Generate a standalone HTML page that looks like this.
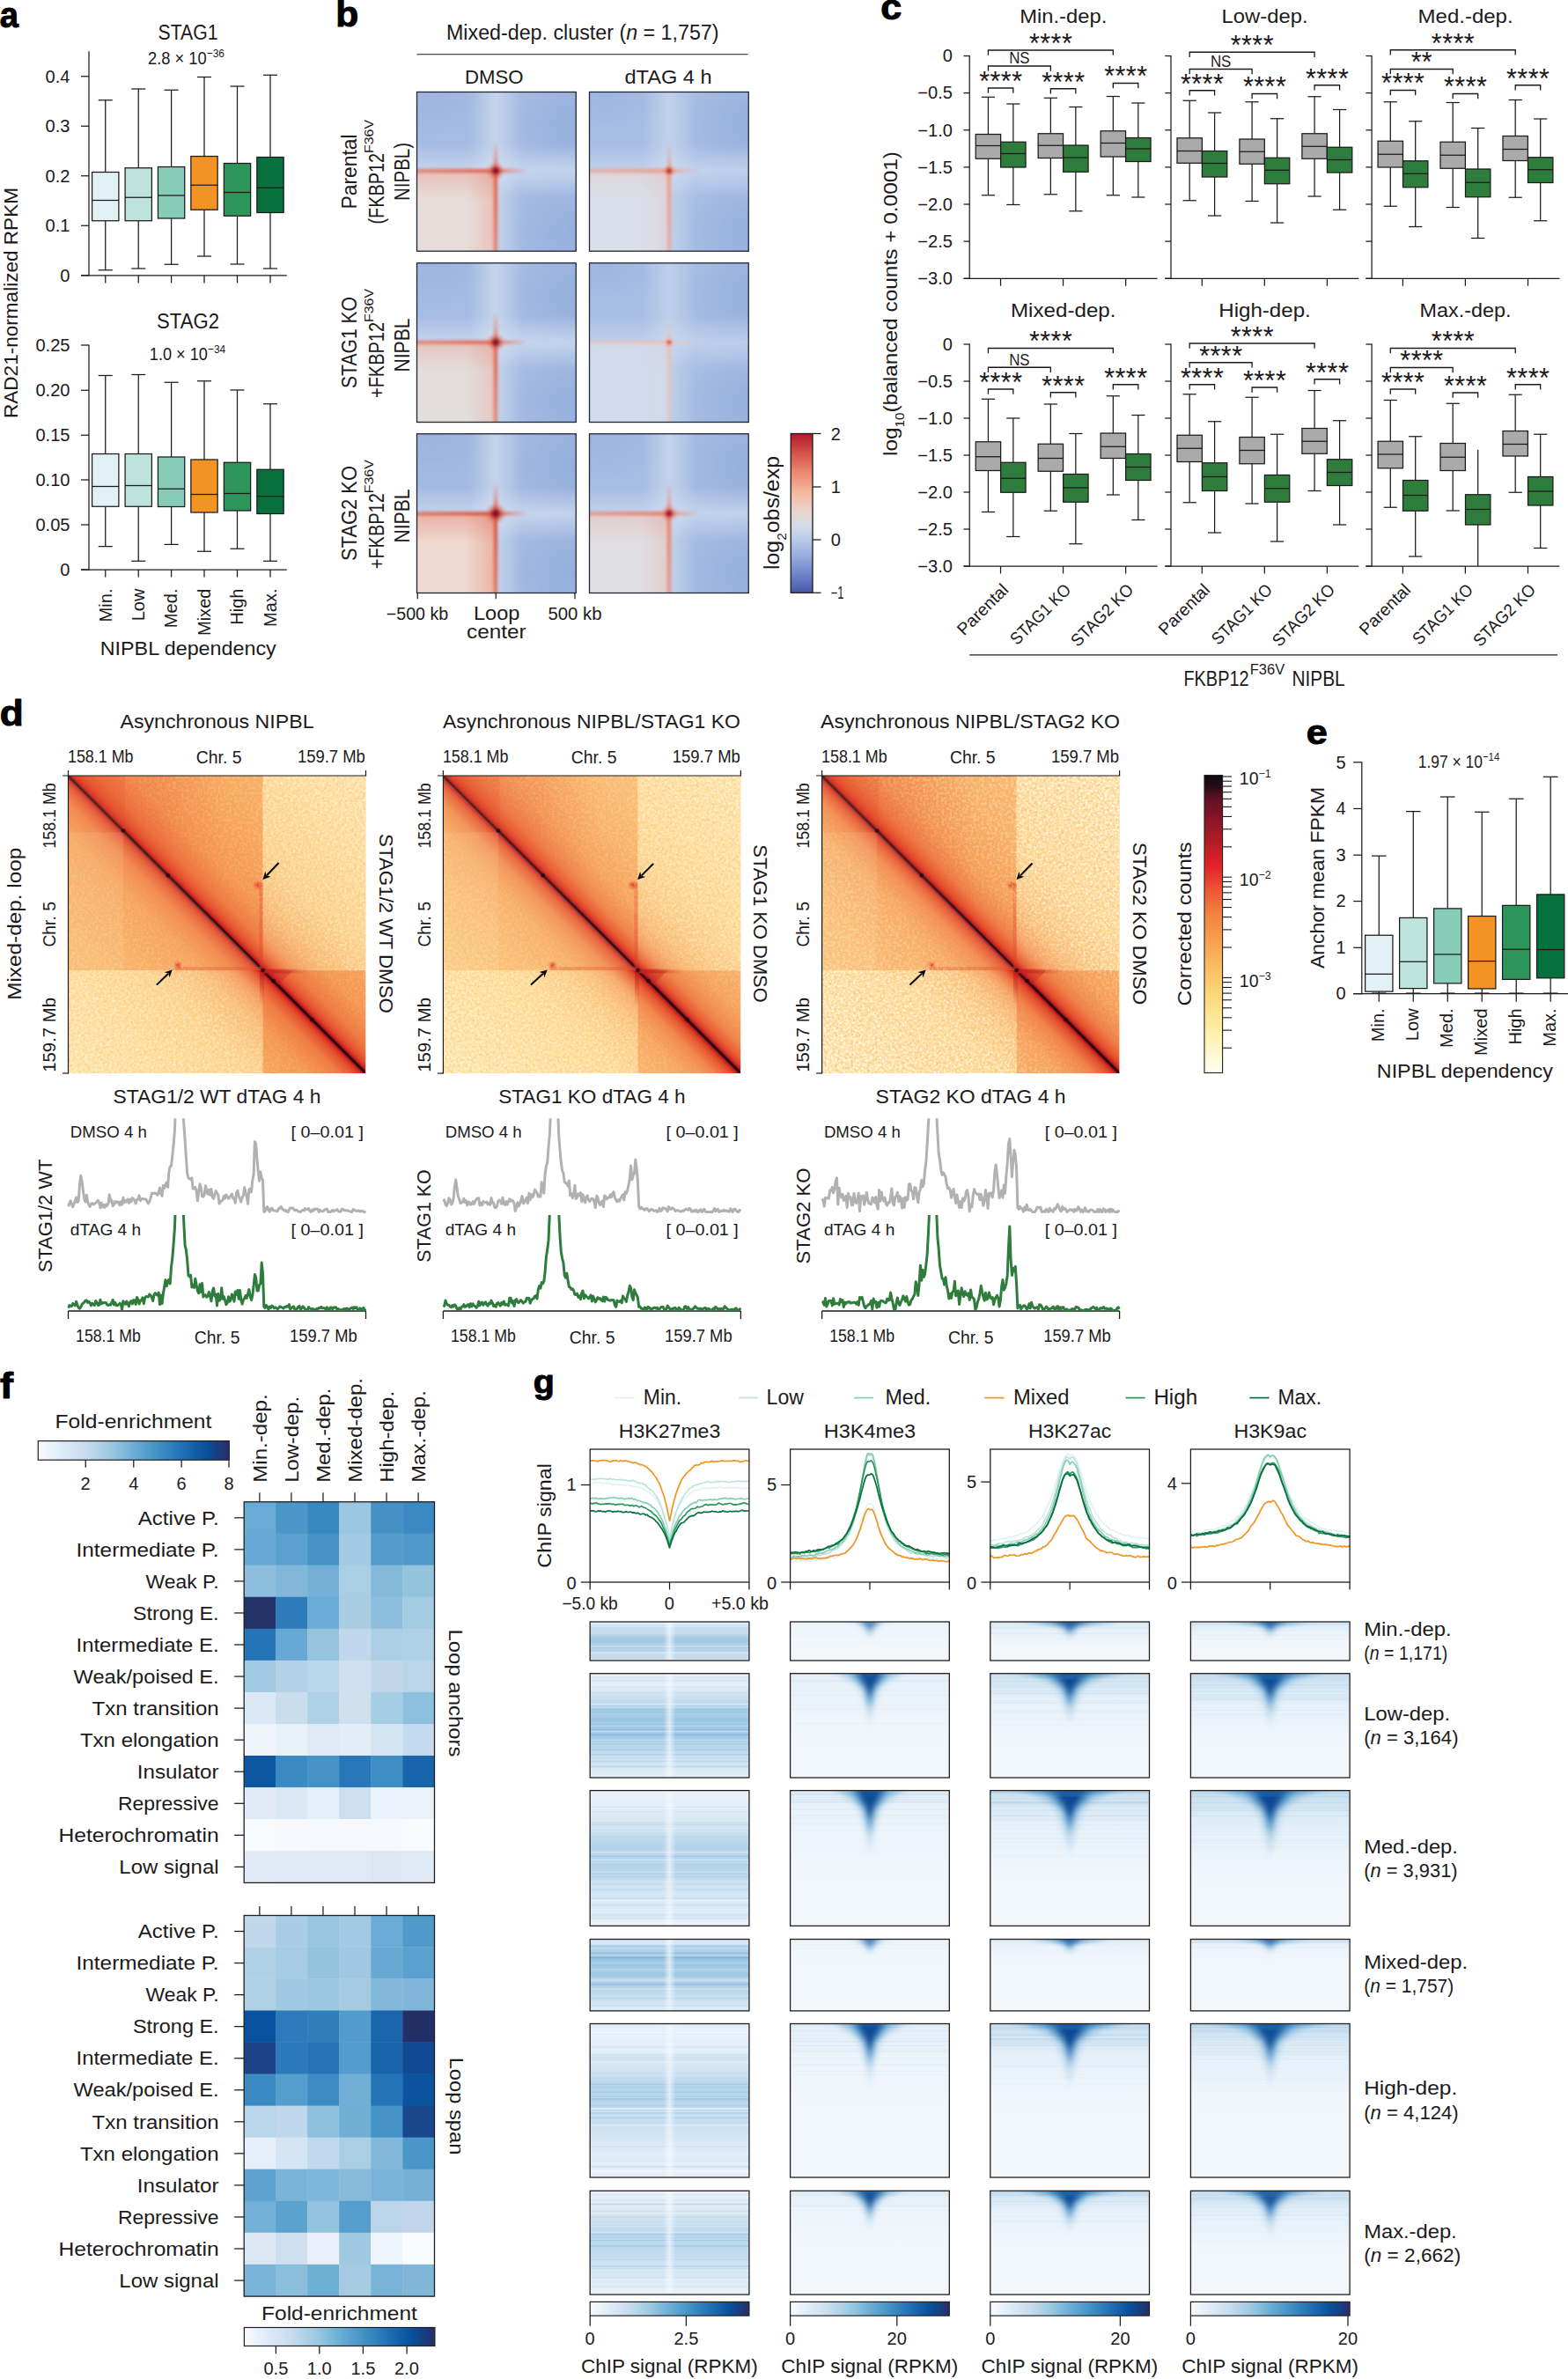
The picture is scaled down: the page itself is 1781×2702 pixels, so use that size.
<!DOCTYPE html>
<html><head><meta charset="utf-8"><title>Figure</title>
<style>
html,body{margin:0;padding:0;background:#fff}
svg{display:block}
text{font-family:"Liberation Sans",sans-serif;fill:#1c1a1b}
</style></head><body>
<svg width="1781" height="2702" viewBox="0 0 1781 2702">
<rect width="1781" height="2702" fill="#fff"/>
<g id="pa">
<text font-size="40" font-weight="700" style="fill:#000" stroke="#000" stroke-width="1.0" stroke-linejoin="round" textLength="21.2" lengthAdjust="spacingAndGlyphs" x="-0.3" y="30.6">a</text>
<text font-size="23" text-anchor="middle" textLength="68" lengthAdjust="spacingAndGlyphs" x="213.5" y="44.5">STAG1</text>
<text x="168" y="72.75" font-size="19.5" textLength="66.63" lengthAdjust="spacingAndGlyphs">2.8 × 10</text>
<text x="234.63" y="65.35" font-size="12.8" textLength="20.37" lengthAdjust="spacingAndGlyphs">−36</text>
<line x1="101" y1="58.3" x2="101" y2="313.3" stroke="#1c1a1b" stroke-width="1.25"/>
<line x1="92" y1="312.75" x2="325.75" y2="312.75" stroke="#1c1a1b" stroke-width="1.25"/>
<line x1="92" y1="86.75" x2="101" y2="86.75" stroke="#1c1a1b" stroke-width="1.25"/>
<text font-size="19.5" text-anchor="end" textLength="27.92" lengthAdjust="spacingAndGlyphs" x="79.5" y="93.55">0.4</text>
<line x1="92" y1="143.25" x2="101" y2="143.25" stroke="#1c1a1b" stroke-width="1.25"/>
<text font-size="19.5" text-anchor="end" textLength="27.92" lengthAdjust="spacingAndGlyphs" x="79.5" y="150.05">0.3</text>
<line x1="92" y1="199.75" x2="101" y2="199.75" stroke="#1c1a1b" stroke-width="1.25"/>
<text font-size="19.5" text-anchor="end" textLength="27.92" lengthAdjust="spacingAndGlyphs" x="79.5" y="206.55">0.2</text>
<line x1="92" y1="256.25" x2="101" y2="256.25" stroke="#1c1a1b" stroke-width="1.25"/>
<text font-size="19.5" text-anchor="end" textLength="27.92" lengthAdjust="spacingAndGlyphs" x="79.5" y="263.05">0.1</text>
<line x1="92" y1="312.75" x2="101" y2="312.75" stroke="#1c1a1b" stroke-width="1.25"/>
<text font-size="19.5" text-anchor="end" textLength="11.17" lengthAdjust="spacingAndGlyphs" x="79.5" y="319.55">0</text>
<line x1="119.75" y1="312.75" x2="119.75" y2="321.5" stroke="#1c1a1b" stroke-width="1.25"/>
<line x1="157.25" y1="312.75" x2="157.25" y2="321.5" stroke="#1c1a1b" stroke-width="1.25"/>
<line x1="194.6" y1="312.75" x2="194.6" y2="321.5" stroke="#1c1a1b" stroke-width="1.25"/>
<line x1="232" y1="312.75" x2="232" y2="321.5" stroke="#1c1a1b" stroke-width="1.25"/>
<line x1="269.5" y1="312.75" x2="269.5" y2="321.5" stroke="#1c1a1b" stroke-width="1.25"/>
<line x1="307" y1="312.75" x2="307" y2="321.5" stroke="#1c1a1b" stroke-width="1.25"/>
<line x1="119.75" y1="113.75" x2="119.75" y2="195.5" stroke="#1c1a1b" stroke-width="1.25"/>
<line x1="119.75" y1="250.75" x2="119.75" y2="306.75" stroke="#1c1a1b" stroke-width="1.25"/>
<line x1="111.75" y1="113.75" x2="127.75" y2="113.75" stroke="#1c1a1b" stroke-width="1.25"/>
<line x1="111.75" y1="306.75" x2="127.75" y2="306.75" stroke="#1c1a1b" stroke-width="1.25"/>
<rect x="104.6" y="195.5" width="30.3" height="55.25" fill="#e1f1f6" stroke="#1c1a1b" stroke-width="1.25"/>
<line x1="104.6" y1="227.5" x2="134.9" y2="227.5" stroke="#1c1a1b" stroke-width="1.25"/>
<line x1="157.25" y1="101" x2="157.25" y2="190.75" stroke="#1c1a1b" stroke-width="1.25"/>
<line x1="157.25" y1="250.75" x2="157.25" y2="305" stroke="#1c1a1b" stroke-width="1.25"/>
<line x1="149.25" y1="101" x2="165.25" y2="101" stroke="#1c1a1b" stroke-width="1.25"/>
<line x1="149.25" y1="305" x2="165.25" y2="305" stroke="#1c1a1b" stroke-width="1.25"/>
<rect x="142.1" y="190.75" width="30.3" height="60" fill="#bde3dc" stroke="#1c1a1b" stroke-width="1.25"/>
<line x1="142.1" y1="224.25" x2="172.4" y2="224.25" stroke="#1c1a1b" stroke-width="1.25"/>
<line x1="194.6" y1="102.25" x2="194.6" y2="189.5" stroke="#1c1a1b" stroke-width="1.25"/>
<line x1="194.6" y1="248" x2="194.6" y2="300.25" stroke="#1c1a1b" stroke-width="1.25"/>
<line x1="186.6" y1="102.25" x2="202.6" y2="102.25" stroke="#1c1a1b" stroke-width="1.25"/>
<line x1="186.6" y1="300.25" x2="202.6" y2="300.25" stroke="#1c1a1b" stroke-width="1.25"/>
<rect x="179.45" y="189.5" width="30.3" height="58.5" fill="#86ccb7" stroke="#1c1a1b" stroke-width="1.25"/>
<line x1="179.45" y1="222" x2="209.75" y2="222" stroke="#1c1a1b" stroke-width="1.25"/>
<line x1="232" y1="87.5" x2="232" y2="177.5" stroke="#1c1a1b" stroke-width="1.25"/>
<line x1="232" y1="238.25" x2="232" y2="291" stroke="#1c1a1b" stroke-width="1.25"/>
<line x1="224" y1="87.5" x2="240" y2="87.5" stroke="#1c1a1b" stroke-width="1.25"/>
<line x1="224" y1="291" x2="240" y2="291" stroke="#1c1a1b" stroke-width="1.25"/>
<rect x="216.85" y="177.5" width="30.3" height="60.75" fill="#f39323" stroke="#1c1a1b" stroke-width="1.25"/>
<line x1="216.85" y1="210.25" x2="247.15" y2="210.25" stroke="#1c1a1b" stroke-width="1.25"/>
<line x1="269.5" y1="98" x2="269.5" y2="185.5" stroke="#1c1a1b" stroke-width="1.25"/>
<line x1="269.5" y1="245.25" x2="269.5" y2="300" stroke="#1c1a1b" stroke-width="1.25"/>
<line x1="261.5" y1="98" x2="277.5" y2="98" stroke="#1c1a1b" stroke-width="1.25"/>
<line x1="261.5" y1="300" x2="277.5" y2="300" stroke="#1c1a1b" stroke-width="1.25"/>
<rect x="254.35" y="185.5" width="30.3" height="59.75" fill="#2e955a" stroke="#1c1a1b" stroke-width="1.25"/>
<line x1="254.35" y1="218.5" x2="284.65" y2="218.5" stroke="#1c1a1b" stroke-width="1.25"/>
<line x1="307" y1="85.25" x2="307" y2="178.5" stroke="#1c1a1b" stroke-width="1.25"/>
<line x1="307" y1="241.5" x2="307" y2="305" stroke="#1c1a1b" stroke-width="1.25"/>
<line x1="299" y1="85.25" x2="315" y2="85.25" stroke="#1c1a1b" stroke-width="1.25"/>
<line x1="299" y1="305" x2="315" y2="305" stroke="#1c1a1b" stroke-width="1.25"/>
<rect x="291.85" y="178.5" width="30.3" height="63" fill="#07703d" stroke="#1c1a1b" stroke-width="1.25"/>
<line x1="291.85" y1="213.25" x2="322.15" y2="213.25" stroke="#1c1a1b" stroke-width="1.25"/>
<text font-size="23" text-anchor="middle" textLength="71" lengthAdjust="spacingAndGlyphs" x="213.5" y="373">STAG2</text>
<text x="169.85" y="408.75" font-size="19.5" textLength="66.09" lengthAdjust="spacingAndGlyphs">1.0 × 10</text>
<text x="235.94" y="401.35" font-size="12.8" textLength="20.21" lengthAdjust="spacingAndGlyphs">−34</text>
<line x1="101" y1="391.5" x2="101" y2="647.5" stroke="#1c1a1b" stroke-width="1.25"/>
<line x1="92" y1="647" x2="325.75" y2="647" stroke="#1c1a1b" stroke-width="1.25"/>
<line x1="92" y1="392" x2="101" y2="392" stroke="#1c1a1b" stroke-width="1.25"/>
<text font-size="19.5" text-anchor="end" textLength="39.09" lengthAdjust="spacingAndGlyphs" x="79.5" y="398.8">0.25</text>
<line x1="92" y1="443.25" x2="101" y2="443.25" stroke="#1c1a1b" stroke-width="1.25"/>
<text font-size="19.5" text-anchor="end" textLength="39.09" lengthAdjust="spacingAndGlyphs" x="79.5" y="450.05">0.20</text>
<line x1="92" y1="494.25" x2="101" y2="494.25" stroke="#1c1a1b" stroke-width="1.25"/>
<text font-size="19.5" text-anchor="end" textLength="39.09" lengthAdjust="spacingAndGlyphs" x="79.5" y="501.05">0.15</text>
<line x1="92" y1="545" x2="101" y2="545" stroke="#1c1a1b" stroke-width="1.25"/>
<text font-size="19.5" text-anchor="end" textLength="39.09" lengthAdjust="spacingAndGlyphs" x="79.5" y="551.8">0.10</text>
<line x1="92" y1="596" x2="101" y2="596" stroke="#1c1a1b" stroke-width="1.25"/>
<text font-size="19.5" text-anchor="end" textLength="39.09" lengthAdjust="spacingAndGlyphs" x="79.5" y="602.8">0.05</text>
<line x1="92" y1="647" x2="101" y2="647" stroke="#1c1a1b" stroke-width="1.25"/>
<text font-size="19.5" text-anchor="end" textLength="11.17" lengthAdjust="spacingAndGlyphs" x="79.5" y="653.8">0</text>
<line x1="119.75" y1="647" x2="119.75" y2="655.5" stroke="#1c1a1b" stroke-width="1.25"/>
<line x1="157.25" y1="647" x2="157.25" y2="655.5" stroke="#1c1a1b" stroke-width="1.25"/>
<line x1="194.6" y1="647" x2="194.6" y2="655.5" stroke="#1c1a1b" stroke-width="1.25"/>
<line x1="232" y1="647" x2="232" y2="655.5" stroke="#1c1a1b" stroke-width="1.25"/>
<line x1="269.5" y1="647" x2="269.5" y2="655.5" stroke="#1c1a1b" stroke-width="1.25"/>
<line x1="307" y1="647" x2="307" y2="655.5" stroke="#1c1a1b" stroke-width="1.25"/>
<line x1="119.75" y1="426.5" x2="119.75" y2="515.5" stroke="#1c1a1b" stroke-width="1.25"/>
<line x1="119.75" y1="575.25" x2="119.75" y2="620.62" stroke="#1c1a1b" stroke-width="1.25"/>
<line x1="111.75" y1="426.5" x2="127.75" y2="426.5" stroke="#1c1a1b" stroke-width="1.25"/>
<line x1="111.75" y1="620.62" x2="127.75" y2="620.62" stroke="#1c1a1b" stroke-width="1.25"/>
<rect x="104.6" y="515.5" width="30.3" height="59.75" fill="#e1f1f6" stroke="#1c1a1b" stroke-width="1.25"/>
<line x1="104.6" y1="552.5" x2="134.9" y2="552.5" stroke="#1c1a1b" stroke-width="1.25"/>
<line x1="157.25" y1="425.5" x2="157.25" y2="515.5" stroke="#1c1a1b" stroke-width="1.25"/>
<line x1="157.25" y1="575.25" x2="157.25" y2="637.25" stroke="#1c1a1b" stroke-width="1.25"/>
<line x1="149.25" y1="425.5" x2="165.25" y2="425.5" stroke="#1c1a1b" stroke-width="1.25"/>
<line x1="149.25" y1="637.25" x2="165.25" y2="637.25" stroke="#1c1a1b" stroke-width="1.25"/>
<rect x="142.1" y="515.5" width="30.3" height="59.75" fill="#bde3dc" stroke="#1c1a1b" stroke-width="1.25"/>
<line x1="142.1" y1="551.5" x2="172.4" y2="551.5" stroke="#1c1a1b" stroke-width="1.25"/>
<line x1="194.6" y1="434.25" x2="194.6" y2="519" stroke="#1c1a1b" stroke-width="1.25"/>
<line x1="194.6" y1="575.5" x2="194.6" y2="618.38" stroke="#1c1a1b" stroke-width="1.25"/>
<line x1="186.6" y1="434.25" x2="202.6" y2="434.25" stroke="#1c1a1b" stroke-width="1.25"/>
<line x1="186.6" y1="618.38" x2="202.6" y2="618.38" stroke="#1c1a1b" stroke-width="1.25"/>
<rect x="179.45" y="519" width="30.3" height="56.5" fill="#86ccb7" stroke="#1c1a1b" stroke-width="1.25"/>
<line x1="179.45" y1="555.25" x2="209.75" y2="555.25" stroke="#1c1a1b" stroke-width="1.25"/>
<line x1="232" y1="432.75" x2="232" y2="522" stroke="#1c1a1b" stroke-width="1.25"/>
<line x1="232" y1="582" x2="232" y2="626.25" stroke="#1c1a1b" stroke-width="1.25"/>
<line x1="224" y1="432.75" x2="240" y2="432.75" stroke="#1c1a1b" stroke-width="1.25"/>
<line x1="224" y1="626.25" x2="240" y2="626.25" stroke="#1c1a1b" stroke-width="1.25"/>
<rect x="216.85" y="522" width="30.3" height="60" fill="#f39323" stroke="#1c1a1b" stroke-width="1.25"/>
<line x1="216.85" y1="561.5" x2="247.15" y2="561.5" stroke="#1c1a1b" stroke-width="1.25"/>
<line x1="269.5" y1="443" x2="269.5" y2="525.25" stroke="#1c1a1b" stroke-width="1.25"/>
<line x1="269.5" y1="580" x2="269.5" y2="623.25" stroke="#1c1a1b" stroke-width="1.25"/>
<line x1="261.5" y1="443" x2="277.5" y2="443" stroke="#1c1a1b" stroke-width="1.25"/>
<line x1="261.5" y1="623.25" x2="277.5" y2="623.25" stroke="#1c1a1b" stroke-width="1.25"/>
<rect x="254.35" y="525.25" width="30.3" height="54.75" fill="#2e955a" stroke="#1c1a1b" stroke-width="1.25"/>
<line x1="254.35" y1="560.5" x2="284.65" y2="560.5" stroke="#1c1a1b" stroke-width="1.25"/>
<line x1="307" y1="458.75" x2="307" y2="533.25" stroke="#1c1a1b" stroke-width="1.25"/>
<line x1="307" y1="583.5" x2="307" y2="637.25" stroke="#1c1a1b" stroke-width="1.25"/>
<line x1="299" y1="458.75" x2="315" y2="458.75" stroke="#1c1a1b" stroke-width="1.25"/>
<line x1="299" y1="637.25" x2="315" y2="637.25" stroke="#1c1a1b" stroke-width="1.25"/>
<rect x="291.85" y="533.25" width="30.3" height="50.25" fill="#07703d" stroke="#1c1a1b" stroke-width="1.25"/>
<line x1="291.85" y1="563.75" x2="322.15" y2="563.75" stroke="#1c1a1b" stroke-width="1.25"/>
<text font-size="19.5" text-anchor="end" textLength="37.94" lengthAdjust="spacingAndGlyphs" transform="translate(126.55 668.5) rotate(-90)">Min.</text>
<text font-size="19.5" text-anchor="end" textLength="36.85" lengthAdjust="spacingAndGlyphs" transform="translate(164.05 668.5) rotate(-90)">Low</text>
<text font-size="19.5" text-anchor="end" textLength="44.65" lengthAdjust="spacingAndGlyphs" transform="translate(201.4 668.5) rotate(-90)">Med.</text>
<text font-size="19.5" text-anchor="end" textLength="53.58" lengthAdjust="spacingAndGlyphs" transform="translate(238.8 668.5) rotate(-90)">Mixed</text>
<text font-size="19.5" text-anchor="end" textLength="41.31" lengthAdjust="spacingAndGlyphs" transform="translate(276.3 668.5) rotate(-90)">High</text>
<text font-size="19.5" text-anchor="end" textLength="43.52" lengthAdjust="spacingAndGlyphs" transform="translate(313.8 668.5) rotate(-90)">Max.</text>
<text font-size="22" text-anchor="middle" textLength="200" lengthAdjust="spacingAndGlyphs" x="213.75" y="743.75">NIPBL dependency</text>
<text font-size="22.5" text-anchor="middle" textLength="262" lengthAdjust="spacingAndGlyphs" transform="translate(19.5 344) rotate(-90)">RAD21-normalized RPKM</text>
</g>
<g id="pb">
<text font-size="40" font-weight="700" style="fill:#000" stroke="#000" stroke-width="1.0" stroke-linejoin="round" textLength="26" lengthAdjust="spacingAndGlyphs" x="381.2" y="30.3">b</text>
<text x="507" y="45" font-size="23.5" textLength="309.5" lengthAdjust="spacingAndGlyphs">Mixed-dep. cluster (<tspan font-style="italic">n</tspan> = 1,757)</text>
<line x1="473.5" y1="61.75" x2="849.5" y2="61.75" stroke="#1c1a1b" stroke-width="1.1"/>
<text font-size="22.5" text-anchor="middle" textLength="66.5" lengthAdjust="spacingAndGlyphs" x="561.25" y="95">DMSO</text>
<text font-size="22.5" text-anchor="middle" textLength="99" lengthAdjust="spacingAndGlyphs" x="759" y="95">dTAG 4 h</text>
<defs><filter id="bblur" x="-0.05" y="-0.05" width="1.1" height="1.1"><feGaussianBlur stdDeviation="1.7"/></filter></defs>
<defs>
<clipPath id="bc0"><rect x="473.5" y="104.5" width="180.75" height="180.75"/></clipPath>
<linearGradient id="bgh0" x1="0" y1="0" x2="0" y2="1"><stop offset="0" stop-color="#dbe5f3" stop-opacity="0"/><stop offset="0.5" stop-color="#dbe5f3" stop-opacity="0.6"/><stop offset="1" stop-color="#dbe5f3" stop-opacity="0"/></linearGradient>
<linearGradient id="bgv0" x1="0" y1="0" x2="1" y2="0"><stop offset="0" stop-color="#dbe5f3" stop-opacity="0"/><stop offset="0.5" stop-color="#dbe5f3" stop-opacity="0.6"/><stop offset="1" stop-color="#dbe5f3" stop-opacity="0"/></linearGradient>
<linearGradient id="bnt0" x1="0" y1="0" x2="0" y2="1"><stop offset="0" stop-color="#e4694f" stop-opacity="0.26"/><stop offset="1" stop-color="#e4694f" stop-opacity="0"/></linearGradient>
<linearGradient id="bnr0" x1="1" y1="0" x2="0" y2="0"><stop offset="0" stop-color="#e4694f" stop-opacity="0.26"/><stop offset="1" stop-color="#e4694f" stop-opacity="0"/></linearGradient>
<linearGradient id="bmh0" gradientUnits="userSpaceOnUse" x1="473.5" y1="0" x2="654.25" y2="0"><stop offset="0" stop-color="#e4694f" stop-opacity="0.62"/><stop offset="0.4" stop-color="#e4694f" stop-opacity="0.9"/><stop offset="0.49" stop-color="#e4694f" stop-opacity="1.0"/><stop offset="0.56" stop-color="#e4694f" stop-opacity="0.55"/><stop offset="0.7" stop-color="#e4694f" stop-opacity="0"/></linearGradient>
<linearGradient id="bmv0" gradientUnits="userSpaceOnUse" x1="0" y1="285.25" x2="0" y2="104.5"><stop offset="0" stop-color="#e4694f" stop-opacity="0.62"/><stop offset="0.4" stop-color="#e4694f" stop-opacity="0.9"/><stop offset="0.49" stop-color="#e4694f" stop-opacity="1.0"/><stop offset="0.56" stop-color="#e4694f" stop-opacity="0.55"/><stop offset="0.7" stop-color="#e4694f" stop-opacity="0"/></linearGradient>
<radialGradient id="bd0"><stop offset="0" stop-color="#8f0c23"/><stop offset="0.3" stop-color="#8f0c23" stop-opacity="0.92"/><stop offset="0.6" stop-color="#e4694f" stop-opacity="0.55"/><stop offset="1" stop-color="#e4694f" stop-opacity="0"/></radialGradient>
<radialGradient id="bdk0"><stop offset="0" stop-color="#8aa5d8" stop-opacity="0.6"/><stop offset="1" stop-color="#8aa5d8" stop-opacity="0"/></radialGradient>
</defs>
<g clip-path="url(#bc0)"><g filter="url(#bblur)">
<rect x="461.5" y="92.5" width="204.75" height="204.75" fill="#a5bce3"/>
<ellipse cx="654.25" cy="140.65" rx="75.91" ry="72.3" fill="url(#bdk0)"/>
<ellipse cx="654.25" cy="263.56" rx="75.91" ry="65.07" fill="url(#bdk0)"/>
<ellipse cx="491.57" cy="104.5" rx="72.3" ry="54.23" fill="url(#bdk0)" opacity="0.5"/>
<rect x="461.5" y="164" width="204.75" height="60" fill="url(#bgh0)"/>
<rect x="533" y="92.5" width="60" height="204.75" fill="url(#bgv0)"/>
<rect x="461.5" y="194" width="102" height="103.25" fill="#e7dedb"/>
<rect x="461.5" y="194" width="102" height="34" fill="url(#bnt0)"/>
<rect x="529" y="194" width="34.5" height="103.25" fill="url(#bnr0)"/>
<rect x="461.5" y="191.4" width="204.75" height="5.2" fill="url(#bmh0)"/>
<rect x="560.4" y="92.5" width="5.2" height="204.75" fill="url(#bmv0)"/>
<circle cx="563" cy="194" r="10.5" fill="url(#bd0)"/>
</g></g>
<rect x="473.5" y="104.5" width="180.75" height="180.75" fill="none" stroke="#1f2733" stroke-width="1.3"/>
<defs>
<clipPath id="bc1"><rect x="669.5" y="104.5" width="180.75" height="180.75"/></clipPath>
<linearGradient id="bgh1" x1="0" y1="0" x2="0" y2="1"><stop offset="0" stop-color="#dbe5f3" stop-opacity="0"/><stop offset="0.5" stop-color="#dbe5f3" stop-opacity="0.5"/><stop offset="1" stop-color="#dbe5f3" stop-opacity="0"/></linearGradient>
<linearGradient id="bgv1" x1="0" y1="0" x2="1" y2="0"><stop offset="0" stop-color="#dbe5f3" stop-opacity="0"/><stop offset="0.5" stop-color="#dbe5f3" stop-opacity="0.5"/><stop offset="1" stop-color="#dbe5f3" stop-opacity="0"/></linearGradient>
<linearGradient id="bnt1" x1="0" y1="0" x2="0" y2="1"><stop offset="0" stop-color="#ee957b" stop-opacity="0.14"/><stop offset="1" stop-color="#ee957b" stop-opacity="0"/></linearGradient>
<linearGradient id="bnr1" x1="1" y1="0" x2="0" y2="0"><stop offset="0" stop-color="#ee957b" stop-opacity="0.14"/><stop offset="1" stop-color="#ee957b" stop-opacity="0"/></linearGradient>
<linearGradient id="bmh1" gradientUnits="userSpaceOnUse" x1="669.5" y1="0" x2="850.25" y2="0"><stop offset="0" stop-color="#ee957b" stop-opacity="0.496"/><stop offset="0.4" stop-color="#ee957b" stop-opacity="0.72"/><stop offset="0.49" stop-color="#ee957b" stop-opacity="0.8"/><stop offset="0.56" stop-color="#ee957b" stop-opacity="0.44"/><stop offset="0.7" stop-color="#ee957b" stop-opacity="0"/></linearGradient>
<linearGradient id="bmv1" gradientUnits="userSpaceOnUse" x1="0" y1="285.25" x2="0" y2="104.5"><stop offset="0" stop-color="#ee957b" stop-opacity="0.496"/><stop offset="0.4" stop-color="#ee957b" stop-opacity="0.72"/><stop offset="0.49" stop-color="#ee957b" stop-opacity="0.8"/><stop offset="0.56" stop-color="#ee957b" stop-opacity="0.44"/><stop offset="0.7" stop-color="#ee957b" stop-opacity="0"/></linearGradient>
<radialGradient id="bd1"><stop offset="0" stop-color="#c0282a"/><stop offset="0.3" stop-color="#c0282a" stop-opacity="0.92"/><stop offset="0.6" stop-color="#ee957b" stop-opacity="0.55"/><stop offset="1" stop-color="#ee957b" stop-opacity="0"/></radialGradient>
<radialGradient id="bdk1"><stop offset="0" stop-color="#8aa5d8" stop-opacity="0.6"/><stop offset="1" stop-color="#8aa5d8" stop-opacity="0"/></radialGradient>
</defs>
<g clip-path="url(#bc1)"><g filter="url(#bblur)">
<rect x="657.5" y="92.5" width="204.75" height="204.75" fill="#a7bee4"/>
<ellipse cx="850.25" cy="140.65" rx="75.91" ry="72.3" fill="url(#bdk1)"/>
<ellipse cx="850.25" cy="263.56" rx="75.91" ry="65.07" fill="url(#bdk1)"/>
<ellipse cx="687.58" cy="104.5" rx="72.3" ry="54.23" fill="url(#bdk1)" opacity="0.5"/>
<rect x="657.5" y="164" width="204.75" height="60" fill="url(#bgh1)"/>
<rect x="730" y="92.5" width="60" height="204.75" fill="url(#bgv1)"/>
<rect x="657.5" y="194" width="103" height="103.25" fill="#dadfea"/>
<rect x="657.5" y="194" width="103" height="34" fill="url(#bnt1)"/>
<rect x="726" y="194" width="34.5" height="103.25" fill="url(#bnr1)"/>
<rect x="657.5" y="191.4" width="204.75" height="5.2" fill="url(#bmh1)"/>
<rect x="757.4" y="92.5" width="5.2" height="204.75" fill="url(#bmv1)"/>
<circle cx="760" cy="194" r="8" fill="url(#bd1)"/>
</g></g>
<rect x="669.5" y="104.5" width="180.75" height="180.75" fill="none" stroke="#1f2733" stroke-width="1.3"/>
<defs>
<clipPath id="bc2"><rect x="473.5" y="298.75" width="180.75" height="180.75"/></clipPath>
<linearGradient id="bgh2" x1="0" y1="0" x2="0" y2="1"><stop offset="0" stop-color="#dbe5f3" stop-opacity="0"/><stop offset="0.5" stop-color="#dbe5f3" stop-opacity="0.6"/><stop offset="1" stop-color="#dbe5f3" stop-opacity="0"/></linearGradient>
<linearGradient id="bgv2" x1="0" y1="0" x2="1" y2="0"><stop offset="0" stop-color="#dbe5f3" stop-opacity="0"/><stop offset="0.5" stop-color="#dbe5f3" stop-opacity="0.6"/><stop offset="1" stop-color="#dbe5f3" stop-opacity="0"/></linearGradient>
<linearGradient id="bnt2" x1="0" y1="0" x2="0" y2="1"><stop offset="0" stop-color="#e4694f" stop-opacity="0.22"/><stop offset="1" stop-color="#e4694f" stop-opacity="0"/></linearGradient>
<linearGradient id="bnr2" x1="1" y1="0" x2="0" y2="0"><stop offset="0" stop-color="#e4694f" stop-opacity="0.22"/><stop offset="1" stop-color="#e4694f" stop-opacity="0"/></linearGradient>
<linearGradient id="bmh2" gradientUnits="userSpaceOnUse" x1="473.5" y1="0" x2="654.25" y2="0"><stop offset="0" stop-color="#e4694f" stop-opacity="0.589"/><stop offset="0.4" stop-color="#e4694f" stop-opacity="0.855"/><stop offset="0.49" stop-color="#e4694f" stop-opacity="0.95"/><stop offset="0.56" stop-color="#e4694f" stop-opacity="0.522"/><stop offset="0.7" stop-color="#e4694f" stop-opacity="0"/></linearGradient>
<linearGradient id="bmv2" gradientUnits="userSpaceOnUse" x1="0" y1="479.5" x2="0" y2="298.75"><stop offset="0" stop-color="#e4694f" stop-opacity="0.589"/><stop offset="0.4" stop-color="#e4694f" stop-opacity="0.855"/><stop offset="0.49" stop-color="#e4694f" stop-opacity="0.95"/><stop offset="0.56" stop-color="#e4694f" stop-opacity="0.522"/><stop offset="0.7" stop-color="#e4694f" stop-opacity="0"/></linearGradient>
<radialGradient id="bd2"><stop offset="0" stop-color="#8f0c23"/><stop offset="0.3" stop-color="#8f0c23" stop-opacity="0.92"/><stop offset="0.6" stop-color="#e4694f" stop-opacity="0.55"/><stop offset="1" stop-color="#e4694f" stop-opacity="0"/></radialGradient>
<radialGradient id="bdk2"><stop offset="0" stop-color="#8aa5d8" stop-opacity="0.6"/><stop offset="1" stop-color="#8aa5d8" stop-opacity="0"/></radialGradient>
</defs>
<g clip-path="url(#bc2)"><g filter="url(#bblur)">
<rect x="461.5" y="286.75" width="204.75" height="204.75" fill="#a5bce3"/>
<ellipse cx="654.25" cy="334.9" rx="75.91" ry="72.3" fill="url(#bdk2)"/>
<ellipse cx="654.25" cy="457.81" rx="75.91" ry="65.07" fill="url(#bdk2)"/>
<ellipse cx="491.57" cy="298.75" rx="72.3" ry="54.23" fill="url(#bdk2)" opacity="0.5"/>
<rect x="461.5" y="358.75" width="204.75" height="60" fill="url(#bgh2)"/>
<rect x="533" y="286.75" width="60" height="204.75" fill="url(#bgv2)"/>
<rect x="461.5" y="388.75" width="102" height="102.75" fill="#e3dedd"/>
<rect x="461.5" y="388.75" width="102" height="34" fill="url(#bnt2)"/>
<rect x="529" y="388.75" width="34.5" height="102.75" fill="url(#bnr2)"/>
<rect x="461.5" y="386.15" width="204.75" height="5.2" fill="url(#bmh2)"/>
<rect x="560.4" y="286.75" width="5.2" height="204.75" fill="url(#bmv2)"/>
<circle cx="563" cy="388.75" r="10.5" fill="url(#bd2)"/>
</g></g>
<rect x="473.5" y="298.75" width="180.75" height="180.75" fill="none" stroke="#1f2733" stroke-width="1.3"/>
<defs>
<clipPath id="bc3"><rect x="669.5" y="298.75" width="180.75" height="180.75"/></clipPath>
<linearGradient id="bgh3" x1="0" y1="0" x2="0" y2="1"><stop offset="0" stop-color="#dbe5f3" stop-opacity="0"/><stop offset="0.5" stop-color="#dbe5f3" stop-opacity="0.45"/><stop offset="1" stop-color="#dbe5f3" stop-opacity="0"/></linearGradient>
<linearGradient id="bgv3" x1="0" y1="0" x2="1" y2="0"><stop offset="0" stop-color="#dbe5f3" stop-opacity="0"/><stop offset="0.5" stop-color="#dbe5f3" stop-opacity="0.45"/><stop offset="1" stop-color="#dbe5f3" stop-opacity="0"/></linearGradient>
<linearGradient id="bnt3" x1="0" y1="0" x2="0" y2="1"><stop offset="0" stop-color="#efb9a6" stop-opacity="0.08"/><stop offset="1" stop-color="#efb9a6" stop-opacity="0"/></linearGradient>
<linearGradient id="bnr3" x1="1" y1="0" x2="0" y2="0"><stop offset="0" stop-color="#efb9a6" stop-opacity="0.08"/><stop offset="1" stop-color="#efb9a6" stop-opacity="0"/></linearGradient>
<linearGradient id="bmh3" gradientUnits="userSpaceOnUse" x1="669.5" y1="0" x2="850.25" y2="0"><stop offset="0" stop-color="#efb9a6" stop-opacity="0.372"/><stop offset="0.4" stop-color="#efb9a6" stop-opacity="0.54"/><stop offset="0.49" stop-color="#efb9a6" stop-opacity="0.6"/><stop offset="0.56" stop-color="#efb9a6" stop-opacity="0.33"/><stop offset="0.7" stop-color="#efb9a6" stop-opacity="0"/></linearGradient>
<linearGradient id="bmv3" gradientUnits="userSpaceOnUse" x1="0" y1="479.5" x2="0" y2="298.75"><stop offset="0" stop-color="#efb9a6" stop-opacity="0.372"/><stop offset="0.4" stop-color="#efb9a6" stop-opacity="0.54"/><stop offset="0.49" stop-color="#efb9a6" stop-opacity="0.6"/><stop offset="0.56" stop-color="#efb9a6" stop-opacity="0.33"/><stop offset="0.7" stop-color="#efb9a6" stop-opacity="0"/></linearGradient>
<radialGradient id="bd3"><stop offset="0" stop-color="#de4f3b"/><stop offset="0.3" stop-color="#de4f3b" stop-opacity="0.92"/><stop offset="0.6" stop-color="#efb9a6" stop-opacity="0.55"/><stop offset="1" stop-color="#efb9a6" stop-opacity="0"/></radialGradient>
<radialGradient id="bdk3"><stop offset="0" stop-color="#8aa5d8" stop-opacity="0.6"/><stop offset="1" stop-color="#8aa5d8" stop-opacity="0"/></radialGradient>
</defs>
<g clip-path="url(#bc3)"><g filter="url(#bblur)">
<rect x="657.5" y="286.75" width="204.75" height="204.75" fill="#a7bee4"/>
<ellipse cx="850.25" cy="334.9" rx="75.91" ry="72.3" fill="url(#bdk3)"/>
<ellipse cx="850.25" cy="457.81" rx="75.91" ry="65.07" fill="url(#bdk3)"/>
<ellipse cx="687.58" cy="298.75" rx="72.3" ry="54.23" fill="url(#bdk3)" opacity="0.5"/>
<rect x="657.5" y="358.75" width="204.75" height="60" fill="url(#bgh3)"/>
<rect x="730" y="286.75" width="60" height="204.75" fill="url(#bgv3)"/>
<rect x="657.5" y="388.75" width="103" height="102.75" fill="#d0dbee"/>
<rect x="657.5" y="388.75" width="103" height="34" fill="url(#bnt3)"/>
<rect x="726" y="388.75" width="34.5" height="102.75" fill="url(#bnr3)"/>
<rect x="657.5" y="386.15" width="204.75" height="5.2" fill="url(#bmh3)"/>
<rect x="757.4" y="286.75" width="5.2" height="204.75" fill="url(#bmv3)"/>
<circle cx="760" cy="388.75" r="6.5" fill="url(#bd3)"/>
</g></g>
<rect x="669.5" y="298.75" width="180.75" height="180.75" fill="none" stroke="#1f2733" stroke-width="1.3"/>
<defs>
<clipPath id="bc4"><rect x="473.5" y="492.75" width="180.75" height="180.75"/></clipPath>
<linearGradient id="bgh4" x1="0" y1="0" x2="0" y2="1"><stop offset="0" stop-color="#dbe5f3" stop-opacity="0"/><stop offset="0.5" stop-color="#dbe5f3" stop-opacity="0.6"/><stop offset="1" stop-color="#dbe5f3" stop-opacity="0"/></linearGradient>
<linearGradient id="bgv4" x1="0" y1="0" x2="1" y2="0"><stop offset="0" stop-color="#dbe5f3" stop-opacity="0"/><stop offset="0.5" stop-color="#dbe5f3" stop-opacity="0.6"/><stop offset="1" stop-color="#dbe5f3" stop-opacity="0"/></linearGradient>
<linearGradient id="bnt4" x1="0" y1="0" x2="0" y2="1"><stop offset="0" stop-color="#de5a42" stop-opacity="0.32"/><stop offset="1" stop-color="#de5a42" stop-opacity="0"/></linearGradient>
<linearGradient id="bnr4" x1="1" y1="0" x2="0" y2="0"><stop offset="0" stop-color="#de5a42" stop-opacity="0.32"/><stop offset="1" stop-color="#de5a42" stop-opacity="0"/></linearGradient>
<linearGradient id="bmh4" gradientUnits="userSpaceOnUse" x1="473.5" y1="0" x2="654.25" y2="0"><stop offset="0" stop-color="#de5a42" stop-opacity="0.62"/><stop offset="0.4" stop-color="#de5a42" stop-opacity="0.9"/><stop offset="0.49" stop-color="#de5a42" stop-opacity="1.0"/><stop offset="0.56" stop-color="#de5a42" stop-opacity="0.55"/><stop offset="0.7" stop-color="#de5a42" stop-opacity="0"/></linearGradient>
<linearGradient id="bmv4" gradientUnits="userSpaceOnUse" x1="0" y1="673.5" x2="0" y2="492.75"><stop offset="0" stop-color="#de5a42" stop-opacity="0.62"/><stop offset="0.4" stop-color="#de5a42" stop-opacity="0.9"/><stop offset="0.49" stop-color="#de5a42" stop-opacity="1.0"/><stop offset="0.56" stop-color="#de5a42" stop-opacity="0.55"/><stop offset="0.7" stop-color="#de5a42" stop-opacity="0"/></linearGradient>
<radialGradient id="bd4"><stop offset="0" stop-color="#8f0c23"/><stop offset="0.3" stop-color="#8f0c23" stop-opacity="0.92"/><stop offset="0.6" stop-color="#de5a42" stop-opacity="0.55"/><stop offset="1" stop-color="#de5a42" stop-opacity="0"/></radialGradient>
<radialGradient id="bdk4"><stop offset="0" stop-color="#8aa5d8" stop-opacity="0.6"/><stop offset="1" stop-color="#8aa5d8" stop-opacity="0"/></radialGradient>
</defs>
<g clip-path="url(#bc4)"><g filter="url(#bblur)">
<rect x="461.5" y="480.75" width="204.75" height="204.75" fill="#a3bae2"/>
<ellipse cx="654.25" cy="528.9" rx="75.91" ry="72.3" fill="url(#bdk4)"/>
<ellipse cx="654.25" cy="651.81" rx="75.91" ry="65.07" fill="url(#bdk4)"/>
<ellipse cx="491.57" cy="492.75" rx="72.3" ry="54.23" fill="url(#bdk4)" opacity="0.5"/>
<rect x="461.5" y="553.25" width="204.75" height="60" fill="url(#bgh4)"/>
<rect x="533" y="480.75" width="60" height="204.75" fill="url(#bgv4)"/>
<rect x="461.5" y="583.25" width="102" height="102.25" fill="#eed9d0"/>
<rect x="461.5" y="583.25" width="102" height="34" fill="url(#bnt4)"/>
<rect x="529" y="583.25" width="34.5" height="102.25" fill="url(#bnr4)"/>
<rect x="461.5" y="580.65" width="204.75" height="5.2" fill="url(#bmh4)"/>
<rect x="560.4" y="480.75" width="5.2" height="204.75" fill="url(#bmv4)"/>
<circle cx="563" cy="583.25" r="12" fill="url(#bd4)"/>
</g></g>
<rect x="473.5" y="492.75" width="180.75" height="180.75" fill="none" stroke="#1f2733" stroke-width="1.3"/>
<defs>
<clipPath id="bc5"><rect x="669.5" y="492.75" width="180.75" height="180.75"/></clipPath>
<linearGradient id="bgh5" x1="0" y1="0" x2="0" y2="1"><stop offset="0" stop-color="#dbe5f3" stop-opacity="0"/><stop offset="0.5" stop-color="#dbe5f3" stop-opacity="0.55"/><stop offset="1" stop-color="#dbe5f3" stop-opacity="0"/></linearGradient>
<linearGradient id="bgv5" x1="0" y1="0" x2="1" y2="0"><stop offset="0" stop-color="#dbe5f3" stop-opacity="0"/><stop offset="0.5" stop-color="#dbe5f3" stop-opacity="0.55"/><stop offset="1" stop-color="#dbe5f3" stop-opacity="0"/></linearGradient>
<linearGradient id="bnt5" x1="0" y1="0" x2="0" y2="1"><stop offset="0" stop-color="#e8816a" stop-opacity="0.2"/><stop offset="1" stop-color="#e8816a" stop-opacity="0"/></linearGradient>
<linearGradient id="bnr5" x1="1" y1="0" x2="0" y2="0"><stop offset="0" stop-color="#e8816a" stop-opacity="0.2"/><stop offset="1" stop-color="#e8816a" stop-opacity="0"/></linearGradient>
<linearGradient id="bmh5" gradientUnits="userSpaceOnUse" x1="669.5" y1="0" x2="850.25" y2="0"><stop offset="0" stop-color="#e8816a" stop-opacity="0.589"/><stop offset="0.4" stop-color="#e8816a" stop-opacity="0.855"/><stop offset="0.49" stop-color="#e8816a" stop-opacity="0.95"/><stop offset="0.56" stop-color="#e8816a" stop-opacity="0.522"/><stop offset="0.7" stop-color="#e8816a" stop-opacity="0"/></linearGradient>
<linearGradient id="bmv5" gradientUnits="userSpaceOnUse" x1="0" y1="673.5" x2="0" y2="492.75"><stop offset="0" stop-color="#e8816a" stop-opacity="0.589"/><stop offset="0.4" stop-color="#e8816a" stop-opacity="0.855"/><stop offset="0.49" stop-color="#e8816a" stop-opacity="0.95"/><stop offset="0.56" stop-color="#e8816a" stop-opacity="0.522"/><stop offset="0.7" stop-color="#e8816a" stop-opacity="0"/></linearGradient>
<radialGradient id="bd5"><stop offset="0" stop-color="#a01428"/><stop offset="0.3" stop-color="#a01428" stop-opacity="0.92"/><stop offset="0.6" stop-color="#e8816a" stop-opacity="0.55"/><stop offset="1" stop-color="#e8816a" stop-opacity="0"/></radialGradient>
<radialGradient id="bdk5"><stop offset="0" stop-color="#8aa5d8" stop-opacity="0.6"/><stop offset="1" stop-color="#8aa5d8" stop-opacity="0"/></radialGradient>
</defs>
<g clip-path="url(#bc5)"><g filter="url(#bblur)">
<rect x="657.5" y="480.75" width="204.75" height="204.75" fill="#a5bce3"/>
<ellipse cx="850.25" cy="528.9" rx="75.91" ry="72.3" fill="url(#bdk5)"/>
<ellipse cx="850.25" cy="651.81" rx="75.91" ry="65.07" fill="url(#bdk5)"/>
<ellipse cx="687.58" cy="492.75" rx="72.3" ry="54.23" fill="url(#bdk5)" opacity="0.5"/>
<rect x="657.5" y="553.25" width="204.75" height="60" fill="url(#bgh5)"/>
<rect x="730" y="480.75" width="60" height="204.75" fill="url(#bgv5)"/>
<rect x="657.5" y="583.25" width="103" height="102.25" fill="#e0dfe3"/>
<rect x="657.5" y="583.25" width="103" height="34" fill="url(#bnt5)"/>
<rect x="726" y="583.25" width="34.5" height="102.25" fill="url(#bnr5)"/>
<rect x="657.5" y="580.65" width="204.75" height="5.2" fill="url(#bmh5)"/>
<rect x="757.4" y="480.75" width="5.2" height="204.75" fill="url(#bmv5)"/>
<circle cx="760" cy="583.25" r="10" fill="url(#bd5)"/>
</g></g>
<rect x="669.5" y="492.75" width="180.75" height="180.75" fill="none" stroke="#1f2733" stroke-width="1.3"/>
<line x1="474.25" y1="673.5" x2="474.25" y2="680.2" stroke="#1c1a1b" stroke-width="1.25"/>
<line x1="563.25" y1="673.5" x2="563.25" y2="680.2" stroke="#1c1a1b" stroke-width="1.25"/>
<line x1="653" y1="673.5" x2="653" y2="680.2" stroke="#1c1a1b" stroke-width="1.25"/>
<text font-size="19.5" text-anchor="middle" textLength="70.5" lengthAdjust="spacingAndGlyphs" x="474" y="703.75">−500 kb</text>
<text font-size="22.5" text-anchor="middle" textLength="52.5" lengthAdjust="spacingAndGlyphs" x="564.25" y="704.25">Loop</text>
<text font-size="22.5" text-anchor="middle" textLength="67.5" lengthAdjust="spacingAndGlyphs" x="563.75" y="724.5">center</text>
<text font-size="19.5" text-anchor="middle" textLength="61" lengthAdjust="spacingAndGlyphs" x="653" y="703.75">500 kb</text>
<text font-size="23" text-anchor="middle" textLength="85" lengthAdjust="spacingAndGlyphs" transform="translate(405 195) rotate(-90)">Parental</text>
<g transform="translate(435.5 254.5) rotate(-90)">
<text x="0" y="0" font-size="23" textLength="80.5" lengthAdjust="spacingAndGlyphs">(FKBP12</text>
<text x="80.5" y="-11.5" font-size="15" textLength="38" lengthAdjust="spacingAndGlyphs">F36V</text>
</g>
<text font-size="23" text-anchor="middle" textLength="66" lengthAdjust="spacingAndGlyphs" transform="translate(464.5 195) rotate(-90)">NIPBL)</text>
<text font-size="23" text-anchor="middle" textLength="104" lengthAdjust="spacingAndGlyphs" transform="translate(405 389) rotate(-90)">STAG1 KO</text>
<g transform="translate(435.5 452) rotate(-90)">
<text x="0" y="0" font-size="23" textLength="86" lengthAdjust="spacingAndGlyphs">+FKBP12</text>
<text x="86" y="-11.5" font-size="15" textLength="38" lengthAdjust="spacingAndGlyphs">F36V</text>
</g>
<text font-size="23" text-anchor="middle" textLength="61" lengthAdjust="spacingAndGlyphs" transform="translate(464.5 392) rotate(-90)">NIPBL</text>
<text font-size="23" text-anchor="middle" textLength="108" lengthAdjust="spacingAndGlyphs" transform="translate(405 583) rotate(-90)">STAG2 KO</text>
<g transform="translate(435.5 646.25) rotate(-90)">
<text x="0" y="0" font-size="23" textLength="86" lengthAdjust="spacingAndGlyphs">+FKBP12</text>
<text x="86" y="-11.5" font-size="15" textLength="38" lengthAdjust="spacingAndGlyphs">F36V</text>
</g>
<text font-size="23" text-anchor="middle" textLength="61" lengthAdjust="spacingAndGlyphs" transform="translate(464.5 586) rotate(-90)">NIPBL</text>
<defs><linearGradient id="cw" x1="0" y1="0" x2="0" y2="1"><stop offset="0" stop-color="#b5182b"/><stop offset="0.125" stop-color="#d4544a"/><stop offset="0.25" stop-color="#ec8b72"/><stop offset="0.375" stop-color="#f5b9a2"/><stop offset="0.5" stop-color="#e6d7d0"/><stop offset="0.58" stop-color="#d5dbe8"/><stop offset="0.667" stop-color="#b9cbec"/><stop offset="0.75" stop-color="#9db3e0"/><stop offset="0.875" stop-color="#7088cb"/><stop offset="1" stop-color="#4858ab"/></linearGradient></defs>
<rect x="898.25" y="492.5" width="24.75" height="180.75" fill="url(#cw)" stroke="#1c1a1b" stroke-width="1.3"/>
<line x1="923" y1="492.5" x2="932.5" y2="492.5" stroke="#1c1a1b" stroke-width="1.25"/>
<text font-size="19.5" textLength="11.17" lengthAdjust="spacingAndGlyphs" x="943.7" y="499.5">2</text>
<line x1="923" y1="553" x2="932.5" y2="553" stroke="#1c1a1b" stroke-width="1.25"/>
<text font-size="19.5" textLength="11.17" lengthAdjust="spacingAndGlyphs" x="943.7" y="560">1</text>
<line x1="923" y1="613" x2="932.5" y2="613" stroke="#1c1a1b" stroke-width="1.25"/>
<text font-size="19.5" textLength="11.17" lengthAdjust="spacingAndGlyphs" x="943.7" y="620">0</text>
<line x1="923" y1="673.25" x2="932.5" y2="673.25" stroke="#1c1a1b" stroke-width="1.25"/>
<text font-size="19.5" textLength="14.8" lengthAdjust="spacingAndGlyphs" x="943.7" y="680.25">−1</text>
<g transform="translate(884.5 647) rotate(-90)">
<text x="0" y="0" font-size="23.5" textLength="33.23" lengthAdjust="spacingAndGlyphs">log</text>
<text x="33.23" y="8.5" font-size="14.5" textLength="8.55" lengthAdjust="spacingAndGlyphs">2</text>
<text x="41.78" y="0" font-size="23.5" textLength="87.22" lengthAdjust="spacingAndGlyphs">obs/exp</text>
</g>
</g>
<g id="pc">
<text font-size="40" font-weight="700" style="fill:#000" stroke="#000" stroke-width="1.0" stroke-linejoin="round" textLength="24" lengthAdjust="spacingAndGlyphs" x="1000.2" y="21.5">c</text>
<line x1="1101.25" y1="63" x2="1101.25" y2="316.75" stroke="#1c1a1b" stroke-width="1.25"/>
<line x1="1094.5" y1="316.25" x2="1314.55" y2="316.25" stroke="#1c1a1b" stroke-width="1.25"/>
<line x1="1094.5" y1="63.5" x2="1101.25" y2="63.5" stroke="#1c1a1b" stroke-width="1.25"/>
<text font-size="19.5" text-anchor="end" textLength="11.17" lengthAdjust="spacingAndGlyphs" x="1082" y="70.3">0</text>
<line x1="1094.5" y1="105.62" x2="1101.25" y2="105.62" stroke="#1c1a1b" stroke-width="1.25"/>
<text font-size="19.5" text-anchor="end" textLength="39.65" lengthAdjust="spacingAndGlyphs" x="1082" y="112.42">−0.5</text>
<line x1="1094.5" y1="147.75" x2="1101.25" y2="147.75" stroke="#1c1a1b" stroke-width="1.25"/>
<text font-size="19.5" text-anchor="end" textLength="39.65" lengthAdjust="spacingAndGlyphs" x="1082" y="154.55">−1.0</text>
<line x1="1094.5" y1="189.88" x2="1101.25" y2="189.88" stroke="#1c1a1b" stroke-width="1.25"/>
<text font-size="19.5" text-anchor="end" textLength="39.65" lengthAdjust="spacingAndGlyphs" x="1082" y="196.68">−1.5</text>
<line x1="1094.5" y1="232" x2="1101.25" y2="232" stroke="#1c1a1b" stroke-width="1.25"/>
<text font-size="19.5" text-anchor="end" textLength="39.65" lengthAdjust="spacingAndGlyphs" x="1082" y="238.8">−2.0</text>
<line x1="1094.5" y1="274.12" x2="1101.25" y2="274.12" stroke="#1c1a1b" stroke-width="1.25"/>
<text font-size="19.5" text-anchor="end" textLength="39.65" lengthAdjust="spacingAndGlyphs" x="1082" y="280.93">−2.5</text>
<line x1="1094.5" y1="316.25" x2="1101.25" y2="316.25" stroke="#1c1a1b" stroke-width="1.25"/>
<text font-size="19.5" text-anchor="end" textLength="39.65" lengthAdjust="spacingAndGlyphs" x="1082" y="323.05">−3.0</text>
<line x1="1136.55" y1="316.25" x2="1136.55" y2="324.75" stroke="#1c1a1b" stroke-width="1.25"/>
<line x1="1207.55" y1="316.25" x2="1207.55" y2="324.75" stroke="#1c1a1b" stroke-width="1.25"/>
<line x1="1278.65" y1="316.25" x2="1278.65" y2="324.75" stroke="#1c1a1b" stroke-width="1.25"/>
<text font-size="22.5" text-anchor="middle" textLength="99" lengthAdjust="spacingAndGlyphs" x="1207.75" y="25.6">Min.-dep.</text>
<line x1="1122.45" y1="110.25" x2="1122.45" y2="152.5" stroke="#1c1a1b" stroke-width="1.25"/>
<line x1="1122.45" y1="180.25" x2="1122.45" y2="221.75" stroke="#1c1a1b" stroke-width="1.25"/>
<line x1="1114.85" y1="110.25" x2="1130.05" y2="110.25" stroke="#1c1a1b" stroke-width="1.25"/>
<line x1="1114.85" y1="221.75" x2="1130.05" y2="221.75" stroke="#1c1a1b" stroke-width="1.25"/>
<rect x="1108.25" y="152.5" width="28.4" height="27.75" fill="#aaaaaa" stroke="#1c1a1b" stroke-width="1.25"/>
<line x1="1108.25" y1="165.5" x2="1136.65" y2="165.5" stroke="#1c1a1b" stroke-width="1.25"/>
<line x1="1150.85" y1="118" x2="1150.85" y2="161.25" stroke="#1c1a1b" stroke-width="1.25"/>
<line x1="1150.85" y1="190" x2="1150.85" y2="232.5" stroke="#1c1a1b" stroke-width="1.25"/>
<line x1="1143.25" y1="118" x2="1158.45" y2="118" stroke="#1c1a1b" stroke-width="1.25"/>
<line x1="1143.25" y1="232.5" x2="1158.45" y2="232.5" stroke="#1c1a1b" stroke-width="1.25"/>
<rect x="1136.65" y="161.25" width="28.4" height="28.75" fill="#2f7d3c" stroke="#1c1a1b" stroke-width="1.25"/>
<line x1="1136.65" y1="174.5" x2="1165.05" y2="174.5" stroke="#1c1a1b" stroke-width="1.25"/>
<line x1="1193.35" y1="111.25" x2="1193.35" y2="151.75" stroke="#1c1a1b" stroke-width="1.25"/>
<line x1="1193.35" y1="179.5" x2="1193.35" y2="220.75" stroke="#1c1a1b" stroke-width="1.25"/>
<line x1="1185.75" y1="111.25" x2="1200.95" y2="111.25" stroke="#1c1a1b" stroke-width="1.25"/>
<line x1="1185.75" y1="220.75" x2="1200.95" y2="220.75" stroke="#1c1a1b" stroke-width="1.25"/>
<rect x="1179.15" y="151.75" width="28.4" height="27.75" fill="#aaaaaa" stroke="#1c1a1b" stroke-width="1.25"/>
<line x1="1179.15" y1="165.25" x2="1207.55" y2="165.25" stroke="#1c1a1b" stroke-width="1.25"/>
<line x1="1221.85" y1="121.5" x2="1221.85" y2="165" stroke="#1c1a1b" stroke-width="1.25"/>
<line x1="1221.85" y1="195.25" x2="1221.85" y2="239.75" stroke="#1c1a1b" stroke-width="1.25"/>
<line x1="1214.25" y1="121.5" x2="1229.45" y2="121.5" stroke="#1c1a1b" stroke-width="1.25"/>
<line x1="1214.25" y1="239.75" x2="1229.45" y2="239.75" stroke="#1c1a1b" stroke-width="1.25"/>
<rect x="1207.65" y="165" width="28.4" height="30.25" fill="#2f7d3c" stroke="#1c1a1b" stroke-width="1.25"/>
<line x1="1207.65" y1="179" x2="1236.05" y2="179" stroke="#1c1a1b" stroke-width="1.25"/>
<line x1="1264.35" y1="109.5" x2="1264.35" y2="148.75" stroke="#1c1a1b" stroke-width="1.25"/>
<line x1="1264.35" y1="178" x2="1264.35" y2="221.75" stroke="#1c1a1b" stroke-width="1.25"/>
<line x1="1256.75" y1="109.5" x2="1271.95" y2="109.5" stroke="#1c1a1b" stroke-width="1.25"/>
<line x1="1256.75" y1="221.75" x2="1271.95" y2="221.75" stroke="#1c1a1b" stroke-width="1.25"/>
<rect x="1250.15" y="148.75" width="28.4" height="29.25" fill="#aaaaaa" stroke="#1c1a1b" stroke-width="1.25"/>
<line x1="1250.15" y1="162.5" x2="1278.55" y2="162.5" stroke="#1c1a1b" stroke-width="1.25"/>
<line x1="1292.85" y1="117" x2="1292.85" y2="156.5" stroke="#1c1a1b" stroke-width="1.25"/>
<line x1="1292.85" y1="183.5" x2="1292.85" y2="224" stroke="#1c1a1b" stroke-width="1.25"/>
<line x1="1285.25" y1="117" x2="1300.45" y2="117" stroke="#1c1a1b" stroke-width="1.25"/>
<line x1="1285.25" y1="224" x2="1300.45" y2="224" stroke="#1c1a1b" stroke-width="1.25"/>
<rect x="1278.65" y="156.5" width="28.4" height="27" fill="#2f7d3c" stroke="#1c1a1b" stroke-width="1.25"/>
<line x1="1278.65" y1="169" x2="1307.05" y2="169" stroke="#1c1a1b" stroke-width="1.25"/>
<path d="M1122.45 62.8V57H1264.35V62.8" fill="none" stroke="#1c1a1b" stroke-width="1.3"/>
<text font-size="30.5" text-anchor="middle" textLength="48.8" lengthAdjust="spacing" x="1193.4" y="59.9">****</text>
<path d="M1122.45 80.8V75H1193.35V80.8" fill="none" stroke="#1c1a1b" stroke-width="1.3"/>
<text font-size="17.5" text-anchor="middle" textLength="23.5" lengthAdjust="spacingAndGlyphs" x="1157.9" y="72.3">NS</text>
<path d="M1122.45 105.8V100H1150.85V105.8" fill="none" stroke="#1c1a1b" stroke-width="1.3"/>
<text font-size="30.5" text-anchor="middle" textLength="48.8" lengthAdjust="spacing" x="1136.65" y="102.9">****</text>
<path d="M1193.35 106.55V100.75H1221.85V106.55" fill="none" stroke="#1c1a1b" stroke-width="1.3"/>
<text font-size="30.5" text-anchor="middle" textLength="48.8" lengthAdjust="spacing" x="1207.6" y="103.65">****</text>
<path d="M1264.35 100.3V94.5H1292.85V100.3" fill="none" stroke="#1c1a1b" stroke-width="1.3"/>
<text font-size="30.5" text-anchor="middle" textLength="48.8" lengthAdjust="spacing" x="1278.6" y="97.4">****</text>
<line x1="1330" y1="63" x2="1330" y2="316.75" stroke="#1c1a1b" stroke-width="1.25"/>
<line x1="1323.25" y1="316.25" x2="1543.3" y2="316.25" stroke="#1c1a1b" stroke-width="1.25"/>
<line x1="1323.25" y1="63.5" x2="1330" y2="63.5" stroke="#1c1a1b" stroke-width="1.25"/>
<line x1="1323.25" y1="105.62" x2="1330" y2="105.62" stroke="#1c1a1b" stroke-width="1.25"/>
<line x1="1323.25" y1="147.75" x2="1330" y2="147.75" stroke="#1c1a1b" stroke-width="1.25"/>
<line x1="1323.25" y1="189.88" x2="1330" y2="189.88" stroke="#1c1a1b" stroke-width="1.25"/>
<line x1="1323.25" y1="232" x2="1330" y2="232" stroke="#1c1a1b" stroke-width="1.25"/>
<line x1="1323.25" y1="274.12" x2="1330" y2="274.12" stroke="#1c1a1b" stroke-width="1.25"/>
<line x1="1323.25" y1="316.25" x2="1330" y2="316.25" stroke="#1c1a1b" stroke-width="1.25"/>
<line x1="1365.3" y1="316.25" x2="1365.3" y2="324.75" stroke="#1c1a1b" stroke-width="1.25"/>
<line x1="1436.3" y1="316.25" x2="1436.3" y2="324.75" stroke="#1c1a1b" stroke-width="1.25"/>
<line x1="1507.4" y1="316.25" x2="1507.4" y2="324.75" stroke="#1c1a1b" stroke-width="1.25"/>
<text font-size="22.5" text-anchor="middle" textLength="98" lengthAdjust="spacingAndGlyphs" x="1436.5" y="25.6">Low-dep.</text>
<line x1="1351.2" y1="114.25" x2="1351.2" y2="156.75" stroke="#1c1a1b" stroke-width="1.25"/>
<line x1="1351.2" y1="185.25" x2="1351.2" y2="227.75" stroke="#1c1a1b" stroke-width="1.25"/>
<line x1="1343.6" y1="114.25" x2="1358.8" y2="114.25" stroke="#1c1a1b" stroke-width="1.25"/>
<line x1="1343.6" y1="227.75" x2="1358.8" y2="227.75" stroke="#1c1a1b" stroke-width="1.25"/>
<rect x="1337" y="156.75" width="28.4" height="28.5" fill="#aaaaaa" stroke="#1c1a1b" stroke-width="1.25"/>
<line x1="1337" y1="171.5" x2="1365.4" y2="171.5" stroke="#1c1a1b" stroke-width="1.25"/>
<line x1="1379.6" y1="128" x2="1379.6" y2="171.5" stroke="#1c1a1b" stroke-width="1.25"/>
<line x1="1379.6" y1="201" x2="1379.6" y2="245" stroke="#1c1a1b" stroke-width="1.25"/>
<line x1="1372" y1="128" x2="1387.2" y2="128" stroke="#1c1a1b" stroke-width="1.25"/>
<line x1="1372" y1="245" x2="1387.2" y2="245" stroke="#1c1a1b" stroke-width="1.25"/>
<rect x="1365.4" y="171.5" width="28.4" height="29.5" fill="#2f7d3c" stroke="#1c1a1b" stroke-width="1.25"/>
<line x1="1365.4" y1="185.5" x2="1393.8" y2="185.5" stroke="#1c1a1b" stroke-width="1.25"/>
<line x1="1422.1" y1="115.75" x2="1422.1" y2="158" stroke="#1c1a1b" stroke-width="1.25"/>
<line x1="1422.1" y1="186.25" x2="1422.1" y2="228.5" stroke="#1c1a1b" stroke-width="1.25"/>
<line x1="1414.5" y1="115.75" x2="1429.7" y2="115.75" stroke="#1c1a1b" stroke-width="1.25"/>
<line x1="1414.5" y1="228.5" x2="1429.7" y2="228.5" stroke="#1c1a1b" stroke-width="1.25"/>
<rect x="1407.9" y="158" width="28.4" height="28.25" fill="#aaaaaa" stroke="#1c1a1b" stroke-width="1.25"/>
<line x1="1407.9" y1="172.25" x2="1436.3" y2="172.25" stroke="#1c1a1b" stroke-width="1.25"/>
<line x1="1450.6" y1="134.75" x2="1450.6" y2="179.25" stroke="#1c1a1b" stroke-width="1.25"/>
<line x1="1450.6" y1="208.75" x2="1450.6" y2="253" stroke="#1c1a1b" stroke-width="1.25"/>
<line x1="1443" y1="134.75" x2="1458.2" y2="134.75" stroke="#1c1a1b" stroke-width="1.25"/>
<line x1="1443" y1="253" x2="1458.2" y2="253" stroke="#1c1a1b" stroke-width="1.25"/>
<rect x="1436.4" y="179.25" width="28.4" height="29.5" fill="#2f7d3c" stroke="#1c1a1b" stroke-width="1.25"/>
<line x1="1436.4" y1="193.25" x2="1464.8" y2="193.25" stroke="#1c1a1b" stroke-width="1.25"/>
<line x1="1493.1" y1="109.75" x2="1493.1" y2="151.75" stroke="#1c1a1b" stroke-width="1.25"/>
<line x1="1493.1" y1="180.25" x2="1493.1" y2="223" stroke="#1c1a1b" stroke-width="1.25"/>
<line x1="1485.5" y1="109.75" x2="1500.7" y2="109.75" stroke="#1c1a1b" stroke-width="1.25"/>
<line x1="1485.5" y1="223" x2="1500.7" y2="223" stroke="#1c1a1b" stroke-width="1.25"/>
<rect x="1478.9" y="151.75" width="28.4" height="28.5" fill="#aaaaaa" stroke="#1c1a1b" stroke-width="1.25"/>
<line x1="1478.9" y1="166.25" x2="1507.3" y2="166.25" stroke="#1c1a1b" stroke-width="1.25"/>
<line x1="1521.6" y1="124.5" x2="1521.6" y2="167.25" stroke="#1c1a1b" stroke-width="1.25"/>
<line x1="1521.6" y1="196" x2="1521.6" y2="238.25" stroke="#1c1a1b" stroke-width="1.25"/>
<line x1="1514" y1="124.5" x2="1529.2" y2="124.5" stroke="#1c1a1b" stroke-width="1.25"/>
<line x1="1514" y1="238.25" x2="1529.2" y2="238.25" stroke="#1c1a1b" stroke-width="1.25"/>
<rect x="1507.4" y="167.25" width="28.4" height="28.75" fill="#2f7d3c" stroke="#1c1a1b" stroke-width="1.25"/>
<line x1="1507.4" y1="181.5" x2="1535.8" y2="181.5" stroke="#1c1a1b" stroke-width="1.25"/>
<path d="M1351.2 65.05V59.25H1493.1V65.05" fill="none" stroke="#1c1a1b" stroke-width="1.3"/>
<text font-size="30.5" text-anchor="middle" textLength="48.8" lengthAdjust="spacing" x="1422.15" y="62.15">****</text>
<path d="M1351.2 84.3V78.5H1422.1V84.3" fill="none" stroke="#1c1a1b" stroke-width="1.3"/>
<text font-size="17.5" text-anchor="middle" textLength="23.5" lengthAdjust="spacingAndGlyphs" x="1386.65" y="75.8">NS</text>
<path d="M1351.2 108.55V102.75H1379.6V108.55" fill="none" stroke="#1c1a1b" stroke-width="1.3"/>
<text font-size="30.5" text-anchor="middle" textLength="48.8" lengthAdjust="spacing" x="1365.4" y="105.65">****</text>
<path d="M1422.1 112.3V106.5H1450.6V112.3" fill="none" stroke="#1c1a1b" stroke-width="1.3"/>
<text font-size="30.5" text-anchor="middle" textLength="48.8" lengthAdjust="spacing" x="1436.35" y="109.4">****</text>
<path d="M1493.1 102.55V96.75H1521.6V102.55" fill="none" stroke="#1c1a1b" stroke-width="1.3"/>
<text font-size="30.5" text-anchor="middle" textLength="48.8" lengthAdjust="spacing" x="1507.35" y="99.65">****</text>
<line x1="1558.1" y1="63" x2="1558.1" y2="316.75" stroke="#1c1a1b" stroke-width="1.25"/>
<line x1="1551.35" y1="316.25" x2="1771.4" y2="316.25" stroke="#1c1a1b" stroke-width="1.25"/>
<line x1="1551.35" y1="63.5" x2="1558.1" y2="63.5" stroke="#1c1a1b" stroke-width="1.25"/>
<line x1="1551.35" y1="105.62" x2="1558.1" y2="105.62" stroke="#1c1a1b" stroke-width="1.25"/>
<line x1="1551.35" y1="147.75" x2="1558.1" y2="147.75" stroke="#1c1a1b" stroke-width="1.25"/>
<line x1="1551.35" y1="189.88" x2="1558.1" y2="189.88" stroke="#1c1a1b" stroke-width="1.25"/>
<line x1="1551.35" y1="232" x2="1558.1" y2="232" stroke="#1c1a1b" stroke-width="1.25"/>
<line x1="1551.35" y1="274.12" x2="1558.1" y2="274.12" stroke="#1c1a1b" stroke-width="1.25"/>
<line x1="1551.35" y1="316.25" x2="1558.1" y2="316.25" stroke="#1c1a1b" stroke-width="1.25"/>
<line x1="1593.4" y1="316.25" x2="1593.4" y2="324.75" stroke="#1c1a1b" stroke-width="1.25"/>
<line x1="1664.4" y1="316.25" x2="1664.4" y2="324.75" stroke="#1c1a1b" stroke-width="1.25"/>
<line x1="1735.5" y1="316.25" x2="1735.5" y2="324.75" stroke="#1c1a1b" stroke-width="1.25"/>
<text font-size="22.5" text-anchor="middle" textLength="108" lengthAdjust="spacingAndGlyphs" x="1664.6" y="25.6">Med.-dep.</text>
<line x1="1579.3" y1="115.75" x2="1579.3" y2="160.25" stroke="#1c1a1b" stroke-width="1.25"/>
<line x1="1579.3" y1="190" x2="1579.3" y2="234.25" stroke="#1c1a1b" stroke-width="1.25"/>
<line x1="1571.7" y1="115.75" x2="1586.9" y2="115.75" stroke="#1c1a1b" stroke-width="1.25"/>
<line x1="1571.7" y1="234.25" x2="1586.9" y2="234.25" stroke="#1c1a1b" stroke-width="1.25"/>
<rect x="1565.1" y="160.25" width="28.4" height="29.75" fill="#aaaaaa" stroke="#1c1a1b" stroke-width="1.25"/>
<line x1="1565.1" y1="175.25" x2="1593.5" y2="175.25" stroke="#1c1a1b" stroke-width="1.25"/>
<line x1="1607.7" y1="137.75" x2="1607.7" y2="182.75" stroke="#1c1a1b" stroke-width="1.25"/>
<line x1="1607.7" y1="212.75" x2="1607.7" y2="257.5" stroke="#1c1a1b" stroke-width="1.25"/>
<line x1="1600.1" y1="137.75" x2="1615.3" y2="137.75" stroke="#1c1a1b" stroke-width="1.25"/>
<line x1="1600.1" y1="257.5" x2="1615.3" y2="257.5" stroke="#1c1a1b" stroke-width="1.25"/>
<rect x="1593.5" y="182.75" width="28.4" height="30" fill="#2f7d3c" stroke="#1c1a1b" stroke-width="1.25"/>
<line x1="1593.5" y1="197.25" x2="1621.9" y2="197.25" stroke="#1c1a1b" stroke-width="1.25"/>
<line x1="1650.2" y1="116.5" x2="1650.2" y2="161.25" stroke="#1c1a1b" stroke-width="1.25"/>
<line x1="1650.2" y1="191.25" x2="1650.2" y2="235.5" stroke="#1c1a1b" stroke-width="1.25"/>
<line x1="1642.6" y1="116.5" x2="1657.8" y2="116.5" stroke="#1c1a1b" stroke-width="1.25"/>
<line x1="1642.6" y1="235.5" x2="1657.8" y2="235.5" stroke="#1c1a1b" stroke-width="1.25"/>
<rect x="1636" y="161.25" width="28.4" height="30" fill="#aaaaaa" stroke="#1c1a1b" stroke-width="1.25"/>
<line x1="1636" y1="176.25" x2="1664.4" y2="176.25" stroke="#1c1a1b" stroke-width="1.25"/>
<line x1="1678.7" y1="145.5" x2="1678.7" y2="192" stroke="#1c1a1b" stroke-width="1.25"/>
<line x1="1678.7" y1="223.75" x2="1678.7" y2="270.5" stroke="#1c1a1b" stroke-width="1.25"/>
<line x1="1671.1" y1="145.5" x2="1686.3" y2="145.5" stroke="#1c1a1b" stroke-width="1.25"/>
<line x1="1671.1" y1="270.5" x2="1686.3" y2="270.5" stroke="#1c1a1b" stroke-width="1.25"/>
<rect x="1664.5" y="192" width="28.4" height="31.75" fill="#2f7d3c" stroke="#1c1a1b" stroke-width="1.25"/>
<line x1="1664.5" y1="207.25" x2="1692.9" y2="207.25" stroke="#1c1a1b" stroke-width="1.25"/>
<line x1="1721.2" y1="113.5" x2="1721.2" y2="154.5" stroke="#1c1a1b" stroke-width="1.25"/>
<line x1="1721.2" y1="182.5" x2="1721.2" y2="224.25" stroke="#1c1a1b" stroke-width="1.25"/>
<line x1="1713.6" y1="113.5" x2="1728.8" y2="113.5" stroke="#1c1a1b" stroke-width="1.25"/>
<line x1="1713.6" y1="224.25" x2="1728.8" y2="224.25" stroke="#1c1a1b" stroke-width="1.25"/>
<rect x="1707" y="154.5" width="28.4" height="28" fill="#aaaaaa" stroke="#1c1a1b" stroke-width="1.25"/>
<line x1="1707" y1="169.5" x2="1735.4" y2="169.5" stroke="#1c1a1b" stroke-width="1.25"/>
<line x1="1749.7" y1="135" x2="1749.7" y2="178.75" stroke="#1c1a1b" stroke-width="1.25"/>
<line x1="1749.7" y1="207.5" x2="1749.7" y2="250.75" stroke="#1c1a1b" stroke-width="1.25"/>
<line x1="1742.1" y1="135" x2="1757.3" y2="135" stroke="#1c1a1b" stroke-width="1.25"/>
<line x1="1742.1" y1="250.75" x2="1757.3" y2="250.75" stroke="#1c1a1b" stroke-width="1.25"/>
<rect x="1735.5" y="178.75" width="28.4" height="28.75" fill="#2f7d3c" stroke="#1c1a1b" stroke-width="1.25"/>
<line x1="1735.5" y1="192.75" x2="1763.9" y2="192.75" stroke="#1c1a1b" stroke-width="1.25"/>
<path d="M1579.3 62.55V56.75H1721.2V62.55" fill="none" stroke="#1c1a1b" stroke-width="1.3"/>
<text font-size="30.5" text-anchor="middle" textLength="48.8" lengthAdjust="spacing" x="1650.25" y="59.65">****</text>
<path d="M1579.3 84.3V78.5H1650.2V84.3" fill="none" stroke="#1c1a1b" stroke-width="1.3"/>
<text font-size="30.5" text-anchor="middle" textLength="23.9" lengthAdjust="spacing" x="1614.75" y="81.4">**</text>
<path d="M1579.3 108.3V102.5H1607.7V108.3" fill="none" stroke="#1c1a1b" stroke-width="1.3"/>
<text font-size="30.5" text-anchor="middle" textLength="48.8" lengthAdjust="spacing" x="1593.5" y="105.4">****</text>
<path d="M1650.2 112.3V106.5H1678.7V112.3" fill="none" stroke="#1c1a1b" stroke-width="1.3"/>
<text font-size="30.5" text-anchor="middle" textLength="48.8" lengthAdjust="spacing" x="1664.45" y="109.4">****</text>
<path d="M1721.2 102.55V96.75H1749.7V102.55" fill="none" stroke="#1c1a1b" stroke-width="1.3"/>
<text font-size="30.5" text-anchor="middle" textLength="48.8" lengthAdjust="spacing" x="1735.45" y="99.65">****</text>
<line x1="1101.25" y1="390.5" x2="1101.25" y2="643.5" stroke="#1c1a1b" stroke-width="1.25"/>
<line x1="1094.5" y1="643" x2="1314.55" y2="643" stroke="#1c1a1b" stroke-width="1.25"/>
<line x1="1094.5" y1="391" x2="1101.25" y2="391" stroke="#1c1a1b" stroke-width="1.25"/>
<text font-size="19.5" text-anchor="end" textLength="11.17" lengthAdjust="spacingAndGlyphs" x="1082" y="397.8">0</text>
<line x1="1094.5" y1="433" x2="1101.25" y2="433" stroke="#1c1a1b" stroke-width="1.25"/>
<text font-size="19.5" text-anchor="end" textLength="39.65" lengthAdjust="spacingAndGlyphs" x="1082" y="439.8">−0.5</text>
<line x1="1094.5" y1="475" x2="1101.25" y2="475" stroke="#1c1a1b" stroke-width="1.25"/>
<text font-size="19.5" text-anchor="end" textLength="39.65" lengthAdjust="spacingAndGlyphs" x="1082" y="481.8">−1.0</text>
<line x1="1094.5" y1="517" x2="1101.25" y2="517" stroke="#1c1a1b" stroke-width="1.25"/>
<text font-size="19.5" text-anchor="end" textLength="39.65" lengthAdjust="spacingAndGlyphs" x="1082" y="523.8">−1.5</text>
<line x1="1094.5" y1="559" x2="1101.25" y2="559" stroke="#1c1a1b" stroke-width="1.25"/>
<text font-size="19.5" text-anchor="end" textLength="39.65" lengthAdjust="spacingAndGlyphs" x="1082" y="565.8">−2.0</text>
<line x1="1094.5" y1="601" x2="1101.25" y2="601" stroke="#1c1a1b" stroke-width="1.25"/>
<text font-size="19.5" text-anchor="end" textLength="39.65" lengthAdjust="spacingAndGlyphs" x="1082" y="607.8">−2.5</text>
<line x1="1094.5" y1="643" x2="1101.25" y2="643" stroke="#1c1a1b" stroke-width="1.25"/>
<text font-size="19.5" text-anchor="end" textLength="39.65" lengthAdjust="spacingAndGlyphs" x="1082" y="649.8">−3.0</text>
<line x1="1136.55" y1="643" x2="1136.55" y2="651.5" stroke="#1c1a1b" stroke-width="1.25"/>
<line x1="1207.55" y1="643" x2="1207.55" y2="651.5" stroke="#1c1a1b" stroke-width="1.25"/>
<line x1="1278.65" y1="643" x2="1278.65" y2="651.5" stroke="#1c1a1b" stroke-width="1.25"/>
<text font-size="22.5" text-anchor="middle" textLength="119.5" lengthAdjust="spacingAndGlyphs" x="1207.75" y="359.7">Mixed-dep.</text>
<line x1="1122.45" y1="453.25" x2="1122.45" y2="501.75" stroke="#1c1a1b" stroke-width="1.25"/>
<line x1="1122.45" y1="534.5" x2="1122.45" y2="581.5" stroke="#1c1a1b" stroke-width="1.25"/>
<line x1="1114.85" y1="453.25" x2="1130.05" y2="453.25" stroke="#1c1a1b" stroke-width="1.25"/>
<line x1="1114.85" y1="581.5" x2="1130.05" y2="581.5" stroke="#1c1a1b" stroke-width="1.25"/>
<rect x="1108.25" y="501.75" width="28.4" height="32.75" fill="#aaaaaa" stroke="#1c1a1b" stroke-width="1.25"/>
<line x1="1108.25" y1="518.75" x2="1136.65" y2="518.75" stroke="#1c1a1b" stroke-width="1.25"/>
<line x1="1150.85" y1="475" x2="1150.85" y2="525.25" stroke="#1c1a1b" stroke-width="1.25"/>
<line x1="1150.85" y1="559.25" x2="1150.85" y2="609.5" stroke="#1c1a1b" stroke-width="1.25"/>
<line x1="1143.25" y1="475" x2="1158.45" y2="475" stroke="#1c1a1b" stroke-width="1.25"/>
<line x1="1143.25" y1="609.5" x2="1158.45" y2="609.5" stroke="#1c1a1b" stroke-width="1.25"/>
<rect x="1136.65" y="525.25" width="28.4" height="34" fill="#2f7d3c" stroke="#1c1a1b" stroke-width="1.25"/>
<line x1="1136.65" y1="543.25" x2="1165.05" y2="543.25" stroke="#1c1a1b" stroke-width="1.25"/>
<line x1="1193.35" y1="459" x2="1193.35" y2="504.25" stroke="#1c1a1b" stroke-width="1.25"/>
<line x1="1193.35" y1="535.25" x2="1193.35" y2="580.25" stroke="#1c1a1b" stroke-width="1.25"/>
<line x1="1185.75" y1="459" x2="1200.95" y2="459" stroke="#1c1a1b" stroke-width="1.25"/>
<line x1="1185.75" y1="580.25" x2="1200.95" y2="580.25" stroke="#1c1a1b" stroke-width="1.25"/>
<rect x="1179.15" y="504.25" width="28.4" height="31" fill="#aaaaaa" stroke="#1c1a1b" stroke-width="1.25"/>
<line x1="1179.15" y1="520.5" x2="1207.55" y2="520.5" stroke="#1c1a1b" stroke-width="1.25"/>
<line x1="1221.85" y1="492.5" x2="1221.85" y2="538.5" stroke="#1c1a1b" stroke-width="1.25"/>
<line x1="1221.85" y1="570.25" x2="1221.85" y2="617.75" stroke="#1c1a1b" stroke-width="1.25"/>
<line x1="1214.25" y1="492.5" x2="1229.45" y2="492.5" stroke="#1c1a1b" stroke-width="1.25"/>
<line x1="1214.25" y1="617.75" x2="1229.45" y2="617.75" stroke="#1c1a1b" stroke-width="1.25"/>
<rect x="1207.65" y="538.5" width="28.4" height="31.75" fill="#2f7d3c" stroke="#1c1a1b" stroke-width="1.25"/>
<line x1="1207.65" y1="554" x2="1236.05" y2="554" stroke="#1c1a1b" stroke-width="1.25"/>
<line x1="1264.35" y1="449.75" x2="1264.35" y2="492" stroke="#1c1a1b" stroke-width="1.25"/>
<line x1="1264.35" y1="520.5" x2="1264.35" y2="562" stroke="#1c1a1b" stroke-width="1.25"/>
<line x1="1256.75" y1="449.75" x2="1271.95" y2="449.75" stroke="#1c1a1b" stroke-width="1.25"/>
<line x1="1256.75" y1="562" x2="1271.95" y2="562" stroke="#1c1a1b" stroke-width="1.25"/>
<rect x="1250.15" y="492" width="28.4" height="28.5" fill="#aaaaaa" stroke="#1c1a1b" stroke-width="1.25"/>
<line x1="1250.15" y1="507.25" x2="1278.55" y2="507.25" stroke="#1c1a1b" stroke-width="1.25"/>
<line x1="1292.85" y1="471.5" x2="1292.85" y2="515.5" stroke="#1c1a1b" stroke-width="1.25"/>
<line x1="1292.85" y1="545.5" x2="1292.85" y2="590.5" stroke="#1c1a1b" stroke-width="1.25"/>
<line x1="1285.25" y1="471.5" x2="1300.45" y2="471.5" stroke="#1c1a1b" stroke-width="1.25"/>
<line x1="1285.25" y1="590.5" x2="1300.45" y2="590.5" stroke="#1c1a1b" stroke-width="1.25"/>
<rect x="1278.65" y="515.5" width="28.4" height="30" fill="#2f7d3c" stroke="#1c1a1b" stroke-width="1.25"/>
<line x1="1278.65" y1="530.5" x2="1307.05" y2="530.5" stroke="#1c1a1b" stroke-width="1.25"/>
<path d="M1122.45 401.3V395.5H1264.35V401.3" fill="none" stroke="#1c1a1b" stroke-width="1.3"/>
<text font-size="30.5" text-anchor="middle" textLength="48.8" lengthAdjust="spacing" x="1193.4" y="398.4">****</text>
<path d="M1122.45 423.05V417.25H1193.35V423.05" fill="none" stroke="#1c1a1b" stroke-width="1.3"/>
<text font-size="17.5" text-anchor="middle" textLength="23.5" lengthAdjust="spacingAndGlyphs" x="1157.9" y="414.55">NS</text>
<path d="M1122.45 447.8V442H1150.85V447.8" fill="none" stroke="#1c1a1b" stroke-width="1.3"/>
<text font-size="30.5" text-anchor="middle" textLength="48.8" lengthAdjust="spacing" x="1136.65" y="444.9">****</text>
<path d="M1193.35 451.55V445.75H1221.85V451.55" fill="none" stroke="#1c1a1b" stroke-width="1.3"/>
<text font-size="30.5" text-anchor="middle" textLength="48.8" lengthAdjust="spacing" x="1207.6" y="448.65">****</text>
<path d="M1264.35 442.55V436.75H1292.85V442.55" fill="none" stroke="#1c1a1b" stroke-width="1.3"/>
<text font-size="30.5" text-anchor="middle" textLength="48.8" lengthAdjust="spacing" x="1278.6" y="439.65">****</text>
<text font-size="19.5" text-anchor="end" textLength="73" lengthAdjust="spacingAndGlyphs" transform="translate(1146.55 671.2) rotate(-45)">Parental</text>
<text font-size="19.5" text-anchor="end" textLength="88" lengthAdjust="spacingAndGlyphs" transform="translate(1217.55 671.2) rotate(-45)">STAG1 KO</text>
<text font-size="19.5" text-anchor="end" textLength="91" lengthAdjust="spacingAndGlyphs" transform="translate(1288.65 671.2) rotate(-45)">STAG2 KO</text>
<line x1="1330" y1="390.5" x2="1330" y2="643.5" stroke="#1c1a1b" stroke-width="1.25"/>
<line x1="1323.25" y1="643" x2="1543.3" y2="643" stroke="#1c1a1b" stroke-width="1.25"/>
<line x1="1323.25" y1="391" x2="1330" y2="391" stroke="#1c1a1b" stroke-width="1.25"/>
<line x1="1323.25" y1="433" x2="1330" y2="433" stroke="#1c1a1b" stroke-width="1.25"/>
<line x1="1323.25" y1="475" x2="1330" y2="475" stroke="#1c1a1b" stroke-width="1.25"/>
<line x1="1323.25" y1="517" x2="1330" y2="517" stroke="#1c1a1b" stroke-width="1.25"/>
<line x1="1323.25" y1="559" x2="1330" y2="559" stroke="#1c1a1b" stroke-width="1.25"/>
<line x1="1323.25" y1="601" x2="1330" y2="601" stroke="#1c1a1b" stroke-width="1.25"/>
<line x1="1323.25" y1="643" x2="1330" y2="643" stroke="#1c1a1b" stroke-width="1.25"/>
<line x1="1365.3" y1="643" x2="1365.3" y2="651.5" stroke="#1c1a1b" stroke-width="1.25"/>
<line x1="1436.3" y1="643" x2="1436.3" y2="651.5" stroke="#1c1a1b" stroke-width="1.25"/>
<line x1="1507.4" y1="643" x2="1507.4" y2="651.5" stroke="#1c1a1b" stroke-width="1.25"/>
<text font-size="22.5" text-anchor="middle" textLength="104.5" lengthAdjust="spacingAndGlyphs" x="1436.5" y="359.7">High-dep.</text>
<line x1="1351.2" y1="447.75" x2="1351.2" y2="494.25" stroke="#1c1a1b" stroke-width="1.25"/>
<line x1="1351.2" y1="524.5" x2="1351.2" y2="570.75" stroke="#1c1a1b" stroke-width="1.25"/>
<line x1="1343.6" y1="447.75" x2="1358.8" y2="447.75" stroke="#1c1a1b" stroke-width="1.25"/>
<line x1="1343.6" y1="570.75" x2="1358.8" y2="570.75" stroke="#1c1a1b" stroke-width="1.25"/>
<rect x="1337" y="494.25" width="28.4" height="30.25" fill="#aaaaaa" stroke="#1c1a1b" stroke-width="1.25"/>
<line x1="1337" y1="509.25" x2="1365.4" y2="509.25" stroke="#1c1a1b" stroke-width="1.25"/>
<line x1="1379.6" y1="478.75" x2="1379.6" y2="525.75" stroke="#1c1a1b" stroke-width="1.25"/>
<line x1="1379.6" y1="557.5" x2="1379.6" y2="605" stroke="#1c1a1b" stroke-width="1.25"/>
<line x1="1372" y1="478.75" x2="1387.2" y2="478.75" stroke="#1c1a1b" stroke-width="1.25"/>
<line x1="1372" y1="605" x2="1387.2" y2="605" stroke="#1c1a1b" stroke-width="1.25"/>
<rect x="1365.4" y="525.75" width="28.4" height="31.75" fill="#2f7d3c" stroke="#1c1a1b" stroke-width="1.25"/>
<line x1="1365.4" y1="541.5" x2="1393.8" y2="541.5" stroke="#1c1a1b" stroke-width="1.25"/>
<line x1="1422.1" y1="451.25" x2="1422.1" y2="496.5" stroke="#1c1a1b" stroke-width="1.25"/>
<line x1="1422.1" y1="526.75" x2="1422.1" y2="572" stroke="#1c1a1b" stroke-width="1.25"/>
<line x1="1414.5" y1="451.25" x2="1429.7" y2="451.25" stroke="#1c1a1b" stroke-width="1.25"/>
<line x1="1414.5" y1="572" x2="1429.7" y2="572" stroke="#1c1a1b" stroke-width="1.25"/>
<rect x="1407.9" y="496.5" width="28.4" height="30.25" fill="#aaaaaa" stroke="#1c1a1b" stroke-width="1.25"/>
<line x1="1407.9" y1="511.5" x2="1436.3" y2="511.5" stroke="#1c1a1b" stroke-width="1.25"/>
<line x1="1450.6" y1="493.25" x2="1450.6" y2="539.5" stroke="#1c1a1b" stroke-width="1.25"/>
<line x1="1450.6" y1="570.25" x2="1450.6" y2="615" stroke="#1c1a1b" stroke-width="1.25"/>
<line x1="1443" y1="493.25" x2="1458.2" y2="493.25" stroke="#1c1a1b" stroke-width="1.25"/>
<line x1="1443" y1="615" x2="1458.2" y2="615" stroke="#1c1a1b" stroke-width="1.25"/>
<rect x="1436.4" y="539.5" width="28.4" height="30.75" fill="#2f7d3c" stroke="#1c1a1b" stroke-width="1.25"/>
<line x1="1436.4" y1="554.75" x2="1464.8" y2="554.75" stroke="#1c1a1b" stroke-width="1.25"/>
<line x1="1493.1" y1="443.5" x2="1493.1" y2="486.5" stroke="#1c1a1b" stroke-width="1.25"/>
<line x1="1493.1" y1="515.25" x2="1493.1" y2="557.5" stroke="#1c1a1b" stroke-width="1.25"/>
<line x1="1485.5" y1="443.5" x2="1500.7" y2="443.5" stroke="#1c1a1b" stroke-width="1.25"/>
<line x1="1485.5" y1="557.5" x2="1500.7" y2="557.5" stroke="#1c1a1b" stroke-width="1.25"/>
<rect x="1478.9" y="486.5" width="28.4" height="28.75" fill="#aaaaaa" stroke="#1c1a1b" stroke-width="1.25"/>
<line x1="1478.9" y1="501.25" x2="1507.3" y2="501.25" stroke="#1c1a1b" stroke-width="1.25"/>
<line x1="1521.6" y1="477.75" x2="1521.6" y2="521.75" stroke="#1c1a1b" stroke-width="1.25"/>
<line x1="1521.6" y1="551.5" x2="1521.6" y2="596" stroke="#1c1a1b" stroke-width="1.25"/>
<line x1="1514" y1="477.75" x2="1529.2" y2="477.75" stroke="#1c1a1b" stroke-width="1.25"/>
<line x1="1514" y1="596" x2="1529.2" y2="596" stroke="#1c1a1b" stroke-width="1.25"/>
<rect x="1507.4" y="521.75" width="28.4" height="29.75" fill="#2f7d3c" stroke="#1c1a1b" stroke-width="1.25"/>
<line x1="1507.4" y1="536.5" x2="1535.8" y2="536.5" stroke="#1c1a1b" stroke-width="1.25"/>
<path d="M1351.2 395.8V390H1493.1V395.8" fill="none" stroke="#1c1a1b" stroke-width="1.3"/>
<text font-size="30.5" text-anchor="middle" textLength="48.8" lengthAdjust="spacing" x="1422.15" y="392.9">****</text>
<path d="M1351.2 417.55V411.75H1422.1V417.55" fill="none" stroke="#1c1a1b" stroke-width="1.3"/>
<text font-size="30.5" text-anchor="middle" textLength="48.8" lengthAdjust="spacing" x="1386.65" y="414.65">****</text>
<path d="M1351.2 442.55V436.75H1379.6V442.55" fill="none" stroke="#1c1a1b" stroke-width="1.3"/>
<text font-size="30.5" text-anchor="middle" textLength="48.8" lengthAdjust="spacing" x="1365.4" y="439.65">****</text>
<path d="M1422.1 445.8V440H1450.6V445.8" fill="none" stroke="#1c1a1b" stroke-width="1.3"/>
<text font-size="30.5" text-anchor="middle" textLength="48.8" lengthAdjust="spacing" x="1436.35" y="442.9">****</text>
<path d="M1493.1 436.55V430.75H1521.6V436.55" fill="none" stroke="#1c1a1b" stroke-width="1.3"/>
<text font-size="30.5" text-anchor="middle" textLength="48.8" lengthAdjust="spacing" x="1507.35" y="433.65">****</text>
<text font-size="19.5" text-anchor="end" textLength="73" lengthAdjust="spacingAndGlyphs" transform="translate(1375.3 671.2) rotate(-45)">Parental</text>
<text font-size="19.5" text-anchor="end" textLength="88" lengthAdjust="spacingAndGlyphs" transform="translate(1446.3 671.2) rotate(-45)">STAG1 KO</text>
<text font-size="19.5" text-anchor="end" textLength="91" lengthAdjust="spacingAndGlyphs" transform="translate(1517.4 671.2) rotate(-45)">STAG2 KO</text>
<line x1="1558.1" y1="390.5" x2="1558.1" y2="643.5" stroke="#1c1a1b" stroke-width="1.25"/>
<line x1="1551.35" y1="643" x2="1771.4" y2="643" stroke="#1c1a1b" stroke-width="1.25"/>
<line x1="1551.35" y1="391" x2="1558.1" y2="391" stroke="#1c1a1b" stroke-width="1.25"/>
<line x1="1551.35" y1="433" x2="1558.1" y2="433" stroke="#1c1a1b" stroke-width="1.25"/>
<line x1="1551.35" y1="475" x2="1558.1" y2="475" stroke="#1c1a1b" stroke-width="1.25"/>
<line x1="1551.35" y1="517" x2="1558.1" y2="517" stroke="#1c1a1b" stroke-width="1.25"/>
<line x1="1551.35" y1="559" x2="1558.1" y2="559" stroke="#1c1a1b" stroke-width="1.25"/>
<line x1="1551.35" y1="601" x2="1558.1" y2="601" stroke="#1c1a1b" stroke-width="1.25"/>
<line x1="1551.35" y1="643" x2="1558.1" y2="643" stroke="#1c1a1b" stroke-width="1.25"/>
<line x1="1593.4" y1="643" x2="1593.4" y2="651.5" stroke="#1c1a1b" stroke-width="1.25"/>
<line x1="1664.4" y1="643" x2="1664.4" y2="651.5" stroke="#1c1a1b" stroke-width="1.25"/>
<line x1="1735.5" y1="643" x2="1735.5" y2="651.5" stroke="#1c1a1b" stroke-width="1.25"/>
<text font-size="22.5" text-anchor="middle" textLength="104" lengthAdjust="spacingAndGlyphs" x="1664.6" y="359.7">Max.-dep.</text>
<line x1="1579.3" y1="454.5" x2="1579.3" y2="501.25" stroke="#1c1a1b" stroke-width="1.25"/>
<line x1="1579.3" y1="531.75" x2="1579.3" y2="576.25" stroke="#1c1a1b" stroke-width="1.25"/>
<line x1="1571.7" y1="454.5" x2="1586.9" y2="454.5" stroke="#1c1a1b" stroke-width="1.25"/>
<line x1="1571.7" y1="576.25" x2="1586.9" y2="576.25" stroke="#1c1a1b" stroke-width="1.25"/>
<rect x="1565.1" y="501.25" width="28.4" height="30.5" fill="#aaaaaa" stroke="#1c1a1b" stroke-width="1.25"/>
<line x1="1565.1" y1="516" x2="1593.5" y2="516" stroke="#1c1a1b" stroke-width="1.25"/>
<line x1="1607.7" y1="495.75" x2="1607.7" y2="545.5" stroke="#1c1a1b" stroke-width="1.25"/>
<line x1="1607.7" y1="580.25" x2="1607.7" y2="632" stroke="#1c1a1b" stroke-width="1.25"/>
<line x1="1600.1" y1="495.75" x2="1615.3" y2="495.75" stroke="#1c1a1b" stroke-width="1.25"/>
<line x1="1600.1" y1="632" x2="1615.3" y2="632" stroke="#1c1a1b" stroke-width="1.25"/>
<rect x="1593.5" y="545.5" width="28.4" height="34.75" fill="#2f7d3c" stroke="#1c1a1b" stroke-width="1.25"/>
<line x1="1593.5" y1="562.5" x2="1621.9" y2="562.5" stroke="#1c1a1b" stroke-width="1.25"/>
<line x1="1650.2" y1="458.25" x2="1650.2" y2="503.5" stroke="#1c1a1b" stroke-width="1.25"/>
<line x1="1650.2" y1="534.5" x2="1650.2" y2="580" stroke="#1c1a1b" stroke-width="1.25"/>
<line x1="1642.6" y1="458.25" x2="1657.8" y2="458.25" stroke="#1c1a1b" stroke-width="1.25"/>
<line x1="1642.6" y1="580" x2="1657.8" y2="580" stroke="#1c1a1b" stroke-width="1.25"/>
<rect x="1636" y="503.5" width="28.4" height="31" fill="#aaaaaa" stroke="#1c1a1b" stroke-width="1.25"/>
<line x1="1636" y1="519.25" x2="1664.4" y2="519.25" stroke="#1c1a1b" stroke-width="1.25"/>
<line x1="1678.7" y1="510.75" x2="1678.7" y2="561.75" stroke="#1c1a1b" stroke-width="1.25"/>
<line x1="1678.7" y1="596" x2="1678.7" y2="643" stroke="#1c1a1b" stroke-width="1.25"/>
<line x1="1678.7" y1="510.75" x2="1678.7" y2="510.75" stroke="#1c1a1b" stroke-width="1.25"/>
<line x1="1678.7" y1="643" x2="1678.7" y2="643" stroke="#1c1a1b" stroke-width="1.25"/>
<rect x="1664.5" y="561.75" width="28.4" height="34.25" fill="#2f7d3c" stroke="#1c1a1b" stroke-width="1.25"/>
<line x1="1664.5" y1="578.5" x2="1692.9" y2="578.5" stroke="#1c1a1b" stroke-width="1.25"/>
<line x1="1721.2" y1="448.25" x2="1721.2" y2="489.5" stroke="#1c1a1b" stroke-width="1.25"/>
<line x1="1721.2" y1="518" x2="1721.2" y2="559.25" stroke="#1c1a1b" stroke-width="1.25"/>
<line x1="1713.6" y1="448.25" x2="1728.8" y2="448.25" stroke="#1c1a1b" stroke-width="1.25"/>
<line x1="1713.6" y1="559.25" x2="1728.8" y2="559.25" stroke="#1c1a1b" stroke-width="1.25"/>
<rect x="1707" y="489.5" width="28.4" height="28.5" fill="#aaaaaa" stroke="#1c1a1b" stroke-width="1.25"/>
<line x1="1707" y1="504.5" x2="1735.4" y2="504.5" stroke="#1c1a1b" stroke-width="1.25"/>
<line x1="1749.7" y1="493.25" x2="1749.7" y2="541.5" stroke="#1c1a1b" stroke-width="1.25"/>
<line x1="1749.7" y1="574" x2="1749.7" y2="622.5" stroke="#1c1a1b" stroke-width="1.25"/>
<line x1="1742.1" y1="493.25" x2="1757.3" y2="493.25" stroke="#1c1a1b" stroke-width="1.25"/>
<line x1="1742.1" y1="622.5" x2="1757.3" y2="622.5" stroke="#1c1a1b" stroke-width="1.25"/>
<rect x="1735.5" y="541.5" width="28.4" height="32.5" fill="#2f7d3c" stroke="#1c1a1b" stroke-width="1.25"/>
<line x1="1735.5" y1="558" x2="1763.9" y2="558" stroke="#1c1a1b" stroke-width="1.25"/>
<path d="M1579.3 401.3V395.5H1721.2V401.3" fill="none" stroke="#1c1a1b" stroke-width="1.3"/>
<text font-size="30.5" text-anchor="middle" textLength="48.8" lengthAdjust="spacing" x="1650.25" y="398.4">****</text>
<path d="M1579.3 423.3V417.5H1650.2V423.3" fill="none" stroke="#1c1a1b" stroke-width="1.3"/>
<text font-size="30.5" text-anchor="middle" textLength="48.8" lengthAdjust="spacing" x="1614.75" y="420.4">****</text>
<path d="M1579.3 447.8V442H1607.7V447.8" fill="none" stroke="#1c1a1b" stroke-width="1.3"/>
<text font-size="30.5" text-anchor="middle" textLength="48.8" lengthAdjust="spacing" x="1593.5" y="444.9">****</text>
<path d="M1650.2 451.8V446H1678.7V451.8" fill="none" stroke="#1c1a1b" stroke-width="1.3"/>
<text font-size="30.5" text-anchor="middle" textLength="48.8" lengthAdjust="spacing" x="1664.45" y="448.9">****</text>
<path d="M1721.2 442.55V436.75H1749.7V442.55" fill="none" stroke="#1c1a1b" stroke-width="1.3"/>
<text font-size="30.5" text-anchor="middle" textLength="48.8" lengthAdjust="spacing" x="1735.45" y="439.65">****</text>
<text font-size="19.5" text-anchor="end" textLength="73" lengthAdjust="spacingAndGlyphs" transform="translate(1603.4 671.2) rotate(-45)">Parental</text>
<text font-size="19.5" text-anchor="end" textLength="88" lengthAdjust="spacingAndGlyphs" transform="translate(1674.4 671.2) rotate(-45)">STAG1 KO</text>
<text font-size="19.5" text-anchor="end" textLength="91" lengthAdjust="spacingAndGlyphs" transform="translate(1745.5 671.2) rotate(-45)">STAG2 KO</text>
<line x1="1101.25" y1="743.75" x2="1769" y2="743.75" stroke="#1c1a1b" stroke-width="1.25"/>
<text font-size="23.5" textLength="74.2" lengthAdjust="spacingAndGlyphs" x="1344.4" y="779.2">FKBP12</text>
<text font-size="16.5" textLength="39.4" lengthAdjust="spacingAndGlyphs" x="1419.8" y="765.8">F36V</text>
<text font-size="23.5" textLength="60.3" lengthAdjust="spacingAndGlyphs" x="1467.4" y="779.2">NIPBL</text>
<g transform="translate(1019 518) rotate(-90)">
<text x="0" y="0" font-size="22.5" textLength="32.58" lengthAdjust="spacingAndGlyphs">log</text>
<text x="32.58" y="8.3" font-size="14" textLength="16.89" lengthAdjust="spacingAndGlyphs">10</text>
<text x="49.47" y="0" font-size="22.5" textLength="296.53" lengthAdjust="spacingAndGlyphs">(balanced counts + 0.0001)</text>
</g>
</g>
<g id="pd">
<text font-size="40" font-weight="700" style="fill:#000" stroke="#000" stroke-width="1.0" stroke-linejoin="round" textLength="27" lengthAdjust="spacingAndGlyphs" x="-0.2" y="824.2">d</text>
<text font-size="22" text-anchor="middle" textLength="220" lengthAdjust="spacingAndGlyphs" x="246.5" y="827.3">Asynchronous NIPBL</text>
<text font-size="19.5" textLength="74.5" lengthAdjust="spacingAndGlyphs" x="77" y="866">158.1 Mb</text>
<text font-size="19.5" text-anchor="middle" textLength="51.7" lengthAdjust="spacingAndGlyphs" x="248.7" y="866.5">Chr. 5</text>
<text font-size="19.5" text-anchor="end" textLength="77" lengthAdjust="spacingAndGlyphs" x="414.9" y="866">159.7 Mb</text>
<defs>
<clipPath id="dc0"><rect x="77.5" y="881" width="338" height="338"/></clipPath>
<linearGradient id="dg0" gradientUnits="userSpaceOnUse" x1="415.5" y1="881" x2="77.5" y2="1219">
<stop offset="0" stop-color="#f9ba6e"/><stop offset="0.25" stop-color="#f8aa5f"/><stop offset="0.40" stop-color="#f59650"/><stop offset="0.455" stop-color="#ef7842"/><stop offset="0.477" stop-color="#e75a32"/><stop offset="0.488" stop-color="#dc3d27"/><stop offset="0.4937" stop-color="#c42221"/><stop offset="0.4968" stop-color="#8a0f1b"/><stop offset="0.4984" stop-color="#1d060c"/><stop offset="0.5016" stop-color="#1d060c"/><stop offset="0.5032" stop-color="#8a0f1b"/><stop offset="0.5063" stop-color="#c42221"/><stop offset="0.512" stop-color="#dc3d27"/><stop offset="0.523" stop-color="#e75a32"/><stop offset="0.545" stop-color="#f07c44"/><stop offset="0.60" stop-color="#f69a53"/><stop offset="0.75" stop-color="#f9ae62"/><stop offset="1" stop-color="#fbc076"/></linearGradient>
<linearGradient id="dl0" gradientUnits="userSpaceOnUse" x1="415.5" y1="881" x2="77.5" y2="1219">
<stop offset="0" stop-color="#ffeaae" stop-opacity="0.82"/><stop offset="0.3" stop-color="#ffe6a0" stop-opacity="0.68"/><stop offset="0.44" stop-color="#ffe6a0" stop-opacity="0.3"/><stop offset="0.49" stop-color="#ffe6a0" stop-opacity="0"/><stop offset="0.51" stop-color="#ffe6a0" stop-opacity="0"/><stop offset="0.56" stop-color="#ffe6a0" stop-opacity="0.35"/><stop offset="0.7" stop-color="#ffe6a0" stop-opacity="0.72"/><stop offset="1" stop-color="#ffeaae" stop-opacity="0.85"/></linearGradient>
<radialGradient id="dd0"><stop offset="0" stop-color="#d8301f" stop-opacity="0.9"/><stop offset="1" stop-color="#e8502f" stop-opacity="0"/></radialGradient>
<filter id="dn0" x="0" y="0" width="1" height="1"><feTurbulence type="fractalNoise" baseFrequency="0.33" numOctaves="2" seed="3"/><feColorMatrix type="matrix" values="0 0 0 0 1  0 0 0 0 0.92  0 0 0 0 0.62  5 0 0 0 -2.2"/></filter>
<filter id="dp0" x="0" y="0" width="1" height="1"><feTurbulence type="fractalNoise" baseFrequency="0.36" numOctaves="2" seed="83"/><feColorMatrix type="matrix" values="0 0 0 0 1  0 0 0 0 0.98  0 0 0 0 0.84  0 0 5 0 -2.3"/></filter>
<filter id="do0" x="0" y="0" width="1" height="1"><feTurbulence type="fractalNoise" baseFrequency="0.33" numOctaves="2" seed="43"/><feColorMatrix type="matrix" values="0 0 0 0 0.93  0 0 0 0 0.42  0 0 0 0 0.2  0 4.5 0 0 -2.2"/></filter>
<linearGradient id="dm0" gradientUnits="userSpaceOnUse" x1="415.5" y1="881" x2="77.5" y2="1219"><stop offset="0" stop-color="#fff"/><stop offset="0.36" stop-color="#999"/><stop offset="0.47" stop-color="#000"/><stop offset="0.53" stop-color="#000"/><stop offset="0.64" stop-color="#999"/><stop offset="1" stop-color="#fff"/></linearGradient>
<mask id="dk0" maskUnits="userSpaceOnUse" x="77.5" y="881" width="338" height="338"><rect x="77.5" y="881" width="338" height="338" fill="url(#dm0)"/></mask>
</defs>
<g clip-path="url(#dc0)">
<rect x="77.5" y="881" width="338" height="338" fill="url(#dg0)"/>
<rect x="298.55" y="881" width="116.95" height="221.05" fill="url(#dl0)"/>
<rect x="77.5" y="1102.05" width="221.05" height="116.95" fill="url(#dl0)"/>
<path d="M77.5 881L298.55 1102.05H77.5Z" fill="#ffe6a0" opacity="0.15"/>
<defs><linearGradient id="dsub0" x1="0" y1="0" x2="1" y2="0"><stop offset="0" stop-color="#e5502f" stop-opacity="0.3"/><stop offset="0.45" stop-color="#e5502f" stop-opacity="0.22"/><stop offset="0.8" stop-color="#e5502f" stop-opacity="0"/></linearGradient></defs>
<path d="M77.5 881H298.55V1102.05Z" fill="url(#dsub0)"/>
<path d="M77.5 881H141.72V945.22Z" fill="#e5502f" opacity="0.18"/>
<rect x="77.5" y="945.22" width="62.53" height="156.83" fill="#fff0c8" opacity="0.12"/>
<defs><linearGradient id="df0" x1="0" y1="0" x2="1" y2="0"><stop offset="0" stop-color="#b81c20" stop-opacity="0.85"/><stop offset="1" stop-color="#d8301f" stop-opacity="0"/></linearGradient><linearGradient id="dfv0" x1="0" y1="0" x2="0" y2="1"><stop offset="0" stop-color="#b81c20" stop-opacity="0.7"/><stop offset="1" stop-color="#d8301f" stop-opacity="0"/></linearGradient></defs>
<rect x="298.55" y="1100.55" width="52" height="5" fill="url(#df0)"/>
<rect x="295.05" y="1102.05" width="5" height="40" fill="url(#dfv0)"/>
<path d="M298.55 1102.05H332.55L315.55 1119.05Z" fill="#c21f20" opacity="0.35"/>
<rect x="294.55" y="1002.68" width="4" height="99.37" fill="#e0452a" opacity="0.35"/>
<rect x="199.18" y="1098.05" width="99.37" height="4" fill="#e0452a" opacity="0.3"/>
<circle cx="292.81" cy="1005.38" r="6" fill="url(#dd0)"/>
<circle cx="201.88" cy="1096.31" r="5.5" fill="url(#dd0)"/>
<circle cx="140.03" cy="943.53" r="2.4" fill="#1d060c" opacity="0.75"/>
<circle cx="190.73" cy="994.23" r="2.4" fill="#1d060c" opacity="0.75"/>
<circle cx="298.55" cy="1102.05" r="2.4" fill="#1d060c" opacity="0.75"/>
<circle cx="310.72" cy="1114.22" r="2.4" fill="#1d060c" opacity="0.75"/>
<circle cx="354.66" cy="1158.16" r="2.4" fill="#1d060c" opacity="0.75"/>
<rect x="77.5" y="881" width="338" height="338" filter="url(#dn0)" mask="url(#dk0)" opacity="0.275"/>
<rect x="298.55" y="881" width="116.95" height="221.05" filter="url(#dp0)" mask="url(#dk0)" opacity="0.5"/>
<rect x="77.5" y="1102.05" width="221.05" height="116.95" filter="url(#dp0)" mask="url(#dk0)" opacity="0.5"/>
<rect x="77.5" y="881" width="338" height="338" filter="url(#do0)" mask="url(#dk0)" opacity="0.3"/>
</g>
<line x1="77.5" y1="875" x2="77.5" y2="1219.6" stroke="#1c1a1b" stroke-width="1.2"/>
<line x1="71" y1="881" x2="416.1" y2="881" stroke="#1c1a1b" stroke-width="1.2"/>
<line x1="415.5" y1="875" x2="415.5" y2="881" stroke="#1c1a1b" stroke-width="1.2"/>
<line x1="71" y1="1219" x2="77.5" y2="1219" stroke="#1c1a1b" stroke-width="1.2"/>
<text font-size="19.5" textLength="74.3" lengthAdjust="spacingAndGlyphs" transform="translate(62.7 963.6) rotate(-90)">158.1 Mb</text>
<text font-size="19.5" textLength="51.5" lengthAdjust="spacingAndGlyphs" transform="translate(62.7 1075.6) rotate(-90)">Chr. 5</text>
<text font-size="19.5" textLength="84.8" lengthAdjust="spacingAndGlyphs" transform="translate(62.7 1217.8) rotate(-90)">159.7 Mb</text>
<text font-size="22.5" text-anchor="middle" textLength="203.8" lengthAdjust="spacingAndGlyphs" transform="translate(430.5 1049) rotate(90)">STAG1/2 WT DMSO</text>
<text font-size="22.5" text-anchor="middle" textLength="236" lengthAdjust="spacingAndGlyphs" x="246.5" y="1252.5">STAG1/2 WT dTAG 4 h</text>
<line x1="316.6" y1="980" x2="303" y2="994.21" stroke="#000" stroke-width="2"/>
<path d="M298.5 998.9L301.35 989.86L302.65 994.57L307.41 995.67Z" fill="#000"/>
<line x1="177.9" y1="1118.6" x2="191.03" y2="1105.92" stroke="#000" stroke-width="2"/>
<path d="M195.7 1101.4L192.51 1110.33L191.39 1105.57L186.67 1104.29Z" fill="#000"/>
<text font-size="18" textLength="87" lengthAdjust="spacingAndGlyphs" x="79.8" y="1291.6">DMSO 4 h</text>
<text font-size="18" text-anchor="end" textLength="82.3" lengthAdjust="spacingAndGlyphs" x="412.9" y="1291.6">[ 0–0.01 ]</text>
<text font-size="18" textLength="80.4" lengthAdjust="spacingAndGlyphs" x="79.8" y="1403">dTAG 4 h</text>
<text font-size="18" text-anchor="end" textLength="82.3" lengthAdjust="spacingAndGlyphs" x="412.9" y="1403">[ 0–0.01 ]</text>
<line x1="77.5" y1="1489" x2="415.5" y2="1489" stroke="#1c1a1b" stroke-width="1.3"/>
<line x1="77.5" y1="1489" x2="77.5" y2="1498" stroke="#1c1a1b" stroke-width="1.3"/>
<line x1="415.5" y1="1489" x2="415.5" y2="1498" stroke="#1c1a1b" stroke-width="1.3"/>
<text font-size="19.5" textLength="73.8" lengthAdjust="spacingAndGlyphs" x="86.1" y="1523.5">158.1 Mb</text>
<text font-size="19.5" text-anchor="middle" textLength="51.7" lengthAdjust="spacingAndGlyphs" x="246.7" y="1526.4">Chr. 5</text>
<text font-size="19.5" text-anchor="end" textLength="76.6" lengthAdjust="spacingAndGlyphs" x="405.7" y="1523.5">159.7 Mb</text>
<text font-size="22.5" text-anchor="middle" textLength="128.6" lengthAdjust="spacingAndGlyphs" transform="translate(58.8 1381) rotate(-90)">STAG1/2 WT</text>
<text font-size="22" text-anchor="middle" textLength="338" lengthAdjust="spacingAndGlyphs" x="671.9" y="827.3">Asynchronous NIPBL/STAG1 KO</text>
<text font-size="19.5" textLength="74.5" lengthAdjust="spacingAndGlyphs" x="502.9" y="866">158.1 Mb</text>
<text font-size="19.5" text-anchor="middle" textLength="51.7" lengthAdjust="spacingAndGlyphs" x="674.6" y="866.5">Chr. 5</text>
<text font-size="19.5" text-anchor="end" textLength="77" lengthAdjust="spacingAndGlyphs" x="840.8" y="866">159.7 Mb</text>
<defs>
<clipPath id="dc1"><rect x="503.4" y="881" width="338" height="338"/></clipPath>
<linearGradient id="dg1" gradientUnits="userSpaceOnUse" x1="841.4" y1="881" x2="503.4" y2="1219">
<stop offset="0" stop-color="#f9ba6e"/><stop offset="0.25" stop-color="#f8aa5f"/><stop offset="0.40" stop-color="#f59650"/><stop offset="0.455" stop-color="#ef7842"/><stop offset="0.477" stop-color="#e75a32"/><stop offset="0.488" stop-color="#dc3d27"/><stop offset="0.4937" stop-color="#c42221"/><stop offset="0.4968" stop-color="#8a0f1b"/><stop offset="0.4984" stop-color="#1d060c"/><stop offset="0.5016" stop-color="#1d060c"/><stop offset="0.5032" stop-color="#8a0f1b"/><stop offset="0.5063" stop-color="#c42221"/><stop offset="0.512" stop-color="#dc3d27"/><stop offset="0.523" stop-color="#e75a32"/><stop offset="0.545" stop-color="#f07c44"/><stop offset="0.60" stop-color="#f69a53"/><stop offset="0.75" stop-color="#f9ae62"/><stop offset="1" stop-color="#fbc076"/></linearGradient>
<linearGradient id="dl1" gradientUnits="userSpaceOnUse" x1="841.4" y1="881" x2="503.4" y2="1219">
<stop offset="0" stop-color="#ffeaae" stop-opacity="0.82"/><stop offset="0.3" stop-color="#ffe6a0" stop-opacity="0.68"/><stop offset="0.44" stop-color="#ffe6a0" stop-opacity="0.3"/><stop offset="0.49" stop-color="#ffe6a0" stop-opacity="0"/><stop offset="0.51" stop-color="#ffe6a0" stop-opacity="0"/><stop offset="0.56" stop-color="#ffe6a0" stop-opacity="0.35"/><stop offset="0.7" stop-color="#ffe6a0" stop-opacity="0.72"/><stop offset="1" stop-color="#ffeaae" stop-opacity="0.85"/></linearGradient>
<radialGradient id="dd1"><stop offset="0" stop-color="#d8301f" stop-opacity="0.9"/><stop offset="1" stop-color="#e8502f" stop-opacity="0"/></radialGradient>
<filter id="dn1" x="0" y="0" width="1" height="1"><feTurbulence type="fractalNoise" baseFrequency="0.33" numOctaves="2" seed="10"/><feColorMatrix type="matrix" values="0 0 0 0 1  0 0 0 0 0.92  0 0 0 0 0.62  5 0 0 0 -2.2"/></filter>
<filter id="dp1" x="0" y="0" width="1" height="1"><feTurbulence type="fractalNoise" baseFrequency="0.36" numOctaves="2" seed="90"/><feColorMatrix type="matrix" values="0 0 0 0 1  0 0 0 0 0.98  0 0 0 0 0.84  0 0 5 0 -2.3"/></filter>
<filter id="do1" x="0" y="0" width="1" height="1"><feTurbulence type="fractalNoise" baseFrequency="0.33" numOctaves="2" seed="50"/><feColorMatrix type="matrix" values="0 0 0 0 0.93  0 0 0 0 0.42  0 0 0 0 0.2  0 4.5 0 0 -2.2"/></filter>
<linearGradient id="dm1" gradientUnits="userSpaceOnUse" x1="841.4" y1="881" x2="503.4" y2="1219"><stop offset="0" stop-color="#fff"/><stop offset="0.36" stop-color="#999"/><stop offset="0.47" stop-color="#000"/><stop offset="0.53" stop-color="#000"/><stop offset="0.64" stop-color="#999"/><stop offset="1" stop-color="#fff"/></linearGradient>
<mask id="dk1" maskUnits="userSpaceOnUse" x="503.4" y="881" width="338" height="338"><rect x="503.4" y="881" width="338" height="338" fill="url(#dm1)"/></mask>
</defs>
<g clip-path="url(#dc1)">
<rect x="503.4" y="881" width="338" height="338" fill="url(#dg1)"/>
<rect x="503.4" y="881" width="338" height="338" fill="url(#dl1)" opacity="0.4"/>
<rect x="724.45" y="881" width="116.95" height="221.05" fill="url(#dl1)"/>
<rect x="503.4" y="1102.05" width="221.05" height="116.95" fill="url(#dl1)"/>
<path d="M503.4 881L724.45 1102.05H503.4Z" fill="#ffe6a0" opacity="0.15"/>
<defs><linearGradient id="dsub1" x1="0" y1="0" x2="1" y2="0"><stop offset="0" stop-color="#e5502f" stop-opacity="0.3"/><stop offset="0.45" stop-color="#e5502f" stop-opacity="0.22"/><stop offset="0.8" stop-color="#e5502f" stop-opacity="0"/></linearGradient></defs>
<path d="M503.4 881H724.45V1102.05Z" fill="url(#dsub1)"/>
<path d="M503.4 881H567.62V945.22Z" fill="#e5502f" opacity="0.18"/>
<rect x="503.4" y="945.22" width="62.53" height="156.83" fill="#fff0c8" opacity="0.12"/>
<defs><linearGradient id="df1" x1="0" y1="0" x2="1" y2="0"><stop offset="0" stop-color="#b81c20" stop-opacity="0.85"/><stop offset="1" stop-color="#d8301f" stop-opacity="0"/></linearGradient><linearGradient id="dfv1" x1="0" y1="0" x2="0" y2="1"><stop offset="0" stop-color="#b81c20" stop-opacity="0.7"/><stop offset="1" stop-color="#d8301f" stop-opacity="0"/></linearGradient></defs>
<rect x="724.45" y="1100.55" width="52" height="5" fill="url(#df1)"/>
<rect x="720.95" y="1102.05" width="5" height="40" fill="url(#dfv1)"/>
<path d="M724.45 1102.05H758.45L741.45 1119.05Z" fill="#c21f20" opacity="0.35"/>
<rect x="720.45" y="1002.68" width="4" height="99.37" fill="#e0452a" opacity="0.35"/>
<rect x="625.08" y="1098.05" width="99.37" height="4" fill="#e0452a" opacity="0.3"/>
<circle cx="718.71" cy="1005.38" r="6" fill="url(#dd1)"/>
<circle cx="627.78" cy="1096.31" r="5.5" fill="url(#dd1)"/>
<circle cx="565.93" cy="943.53" r="2.4" fill="#1d060c" opacity="0.75"/>
<circle cx="616.63" cy="994.23" r="2.4" fill="#1d060c" opacity="0.75"/>
<circle cx="724.45" cy="1102.05" r="2.4" fill="#1d060c" opacity="0.75"/>
<circle cx="736.62" cy="1114.22" r="2.4" fill="#1d060c" opacity="0.75"/>
<circle cx="780.56" cy="1158.16" r="2.4" fill="#1d060c" opacity="0.75"/>
<rect x="503.4" y="881" width="338" height="338" filter="url(#dn1)" mask="url(#dk1)" opacity="0.303"/>
<rect x="724.45" y="881" width="116.95" height="221.05" filter="url(#dp1)" mask="url(#dk1)" opacity="0.55"/>
<rect x="503.4" y="1102.05" width="221.05" height="116.95" filter="url(#dp1)" mask="url(#dk1)" opacity="0.55"/>
<rect x="503.4" y="881" width="338" height="338" filter="url(#do1)" mask="url(#dk1)" opacity="0.33"/>
</g>
<line x1="503.4" y1="875" x2="503.4" y2="1219.6" stroke="#1c1a1b" stroke-width="1.2"/>
<line x1="496.9" y1="881" x2="842" y2="881" stroke="#1c1a1b" stroke-width="1.2"/>
<line x1="841.4" y1="875" x2="841.4" y2="881" stroke="#1c1a1b" stroke-width="1.2"/>
<line x1="496.9" y1="1219" x2="503.4" y2="1219" stroke="#1c1a1b" stroke-width="1.2"/>
<text font-size="19.5" textLength="74.3" lengthAdjust="spacingAndGlyphs" transform="translate(488.6 963.6) rotate(-90)">158.1 Mb</text>
<text font-size="19.5" textLength="51.5" lengthAdjust="spacingAndGlyphs" transform="translate(488.6 1075.6) rotate(-90)">Chr. 5</text>
<text font-size="19.5" textLength="84.8" lengthAdjust="spacingAndGlyphs" transform="translate(488.6 1217.8) rotate(-90)">159.7 Mb</text>
<text font-size="22.5" text-anchor="middle" textLength="179.4" lengthAdjust="spacingAndGlyphs" transform="translate(856.4 1049) rotate(90)">STAG1 KO DMSO</text>
<text font-size="22.5" text-anchor="middle" textLength="212.4" lengthAdjust="spacingAndGlyphs" x="672.4" y="1252.5">STAG1 KO dTAG 4 h</text>
<line x1="742.2" y1="980.9" x2="728.7" y2="994.4" stroke="#000" stroke-width="2"/>
<path d="M724.1 999L727.14 990.02L728.34 994.76L733.08 995.96Z" fill="#000"/>
<line x1="603" y1="1118.6" x2="616.92" y2="1105.8" stroke="#000" stroke-width="2"/>
<path d="M621.7 1101.4L618.29 1110.25L617.28 1105.46L612.6 1104.06Z" fill="#000"/>
<text font-size="18" textLength="87" lengthAdjust="spacingAndGlyphs" x="505.7" y="1291.6">DMSO 4 h</text>
<text font-size="18" text-anchor="end" textLength="82.3" lengthAdjust="spacingAndGlyphs" x="838.8" y="1291.6">[ 0–0.01 ]</text>
<text font-size="18" textLength="80.4" lengthAdjust="spacingAndGlyphs" x="505.7" y="1403">dTAG 4 h</text>
<text font-size="18" text-anchor="end" textLength="82.3" lengthAdjust="spacingAndGlyphs" x="838.8" y="1403">[ 0–0.01 ]</text>
<line x1="503.4" y1="1489" x2="841.4" y2="1489" stroke="#1c1a1b" stroke-width="1.3"/>
<line x1="503.4" y1="1489" x2="503.4" y2="1498" stroke="#1c1a1b" stroke-width="1.3"/>
<line x1="841.4" y1="1489" x2="841.4" y2="1498" stroke="#1c1a1b" stroke-width="1.3"/>
<text font-size="19.5" textLength="73.8" lengthAdjust="spacingAndGlyphs" x="512" y="1523.5">158.1 Mb</text>
<text font-size="19.5" text-anchor="middle" textLength="51.7" lengthAdjust="spacingAndGlyphs" x="672.6" y="1526.4">Chr. 5</text>
<text font-size="19.5" text-anchor="end" textLength="76.6" lengthAdjust="spacingAndGlyphs" x="831.6" y="1523.5">159.7 Mb</text>
<text font-size="22.5" text-anchor="middle" textLength="105.6" lengthAdjust="spacingAndGlyphs" transform="translate(489.4 1381) rotate(-90)">STAG1 KO</text>
<text font-size="22" text-anchor="middle" textLength="340" lengthAdjust="spacingAndGlyphs" x="1102.1" y="827.3">Asynchronous NIPBL/STAG2 KO</text>
<text font-size="19.5" textLength="74.5" lengthAdjust="spacingAndGlyphs" x="933.1" y="866">158.1 Mb</text>
<text font-size="19.5" text-anchor="middle" textLength="51.7" lengthAdjust="spacingAndGlyphs" x="1104.8" y="866.5">Chr. 5</text>
<text font-size="19.5" text-anchor="end" textLength="77" lengthAdjust="spacingAndGlyphs" x="1271" y="866">159.7 Mb</text>
<defs>
<clipPath id="dc2"><rect x="933.6" y="881" width="338" height="338"/></clipPath>
<linearGradient id="dg2" gradientUnits="userSpaceOnUse" x1="1271.6" y1="881" x2="933.6" y2="1219">
<stop offset="0" stop-color="#f9ba6e"/><stop offset="0.25" stop-color="#f8aa5f"/><stop offset="0.40" stop-color="#f59650"/><stop offset="0.455" stop-color="#ef7842"/><stop offset="0.477" stop-color="#e75a32"/><stop offset="0.488" stop-color="#dc3d27"/><stop offset="0.4937" stop-color="#c42221"/><stop offset="0.4968" stop-color="#8a0f1b"/><stop offset="0.4984" stop-color="#1d060c"/><stop offset="0.5016" stop-color="#1d060c"/><stop offset="0.5032" stop-color="#8a0f1b"/><stop offset="0.5063" stop-color="#c42221"/><stop offset="0.512" stop-color="#dc3d27"/><stop offset="0.523" stop-color="#e75a32"/><stop offset="0.545" stop-color="#f07c44"/><stop offset="0.60" stop-color="#f69a53"/><stop offset="0.75" stop-color="#f9ae62"/><stop offset="1" stop-color="#fbc076"/></linearGradient>
<linearGradient id="dl2" gradientUnits="userSpaceOnUse" x1="1271.6" y1="881" x2="933.6" y2="1219">
<stop offset="0" stop-color="#ffeaae" stop-opacity="0.82"/><stop offset="0.3" stop-color="#ffe6a0" stop-opacity="0.68"/><stop offset="0.44" stop-color="#ffe6a0" stop-opacity="0.3"/><stop offset="0.49" stop-color="#ffe6a0" stop-opacity="0"/><stop offset="0.51" stop-color="#ffe6a0" stop-opacity="0"/><stop offset="0.56" stop-color="#ffe6a0" stop-opacity="0.35"/><stop offset="0.7" stop-color="#ffe6a0" stop-opacity="0.72"/><stop offset="1" stop-color="#ffeaae" stop-opacity="0.85"/></linearGradient>
<radialGradient id="dd2"><stop offset="0" stop-color="#d8301f" stop-opacity="0.9"/><stop offset="1" stop-color="#e8502f" stop-opacity="0"/></radialGradient>
<filter id="dn2" x="0" y="0" width="1" height="1"><feTurbulence type="fractalNoise" baseFrequency="0.33" numOctaves="2" seed="17"/><feColorMatrix type="matrix" values="0 0 0 0 1  0 0 0 0 0.92  0 0 0 0 0.62  5 0 0 0 -2.2"/></filter>
<filter id="dp2" x="0" y="0" width="1" height="1"><feTurbulence type="fractalNoise" baseFrequency="0.36" numOctaves="2" seed="97"/><feColorMatrix type="matrix" values="0 0 0 0 1  0 0 0 0 0.98  0 0 0 0 0.84  0 0 5 0 -2.3"/></filter>
<filter id="do2" x="0" y="0" width="1" height="1"><feTurbulence type="fractalNoise" baseFrequency="0.33" numOctaves="2" seed="57"/><feColorMatrix type="matrix" values="0 0 0 0 0.93  0 0 0 0 0.42  0 0 0 0 0.2  0 4.5 0 0 -2.2"/></filter>
<linearGradient id="dm2" gradientUnits="userSpaceOnUse" x1="1271.6" y1="881" x2="933.6" y2="1219"><stop offset="0" stop-color="#fff"/><stop offset="0.36" stop-color="#999"/><stop offset="0.47" stop-color="#000"/><stop offset="0.53" stop-color="#000"/><stop offset="0.64" stop-color="#999"/><stop offset="1" stop-color="#fff"/></linearGradient>
<mask id="dk2" maskUnits="userSpaceOnUse" x="933.6" y="881" width="338" height="338"><rect x="933.6" y="881" width="338" height="338" fill="url(#dm2)"/></mask>
</defs>
<g clip-path="url(#dc2)">
<rect x="933.6" y="881" width="338" height="338" fill="url(#dg2)"/>
<rect x="933.6" y="881" width="338" height="338" fill="url(#dl2)" opacity="0.22"/>
<rect x="1154.65" y="881" width="116.95" height="221.05" fill="url(#dl2)"/>
<rect x="933.6" y="1102.05" width="221.05" height="116.95" fill="url(#dl2)"/>
<path d="M933.6 881L1154.65 1102.05H933.6Z" fill="#ffe6a0" opacity="0.15"/>
<defs><linearGradient id="dsub2" x1="0" y1="0" x2="1" y2="0"><stop offset="0" stop-color="#e5502f" stop-opacity="0.3"/><stop offset="0.45" stop-color="#e5502f" stop-opacity="0.22"/><stop offset="0.8" stop-color="#e5502f" stop-opacity="0"/></linearGradient></defs>
<path d="M933.6 881H1154.65V1102.05Z" fill="url(#dsub2)"/>
<path d="M933.6 881H997.82V945.22Z" fill="#e5502f" opacity="0.18"/>
<rect x="933.6" y="945.22" width="62.53" height="156.83" fill="#fff0c8" opacity="0.12"/>
<defs><linearGradient id="df2" x1="0" y1="0" x2="1" y2="0"><stop offset="0" stop-color="#b81c20" stop-opacity="0.85"/><stop offset="1" stop-color="#d8301f" stop-opacity="0"/></linearGradient><linearGradient id="dfv2" x1="0" y1="0" x2="0" y2="1"><stop offset="0" stop-color="#b81c20" stop-opacity="0.7"/><stop offset="1" stop-color="#d8301f" stop-opacity="0"/></linearGradient></defs>
<rect x="1154.65" y="1100.55" width="52" height="5" fill="url(#df2)"/>
<rect x="1151.15" y="1102.05" width="5" height="40" fill="url(#dfv2)"/>
<path d="M1154.65 1102.05H1188.65L1171.65 1119.05Z" fill="#c21f20" opacity="0.35"/>
<rect x="1150.65" y="1002.68" width="4" height="99.37" fill="#e0452a" opacity="0.35"/>
<rect x="1055.28" y="1098.05" width="99.37" height="4" fill="#e0452a" opacity="0.3"/>
<circle cx="1148.91" cy="1005.38" r="6" fill="url(#dd2)"/>
<circle cx="1057.98" cy="1096.31" r="5.5" fill="url(#dd2)"/>
<circle cx="996.13" cy="943.53" r="2.4" fill="#1d060c" opacity="0.75"/>
<circle cx="1046.83" cy="994.23" r="2.4" fill="#1d060c" opacity="0.75"/>
<circle cx="1154.65" cy="1102.05" r="2.4" fill="#1d060c" opacity="0.75"/>
<circle cx="1166.82" cy="1114.22" r="2.4" fill="#1d060c" opacity="0.75"/>
<circle cx="1210.76" cy="1158.16" r="2.4" fill="#1d060c" opacity="0.75"/>
<rect x="933.6" y="881" width="338" height="338" filter="url(#dn2)" mask="url(#dk2)" opacity="0.468"/>
<rect x="1154.65" y="881" width="116.95" height="221.05" filter="url(#dp2)" mask="url(#dk2)" opacity="0.85"/>
<rect x="933.6" y="1102.05" width="221.05" height="116.95" filter="url(#dp2)" mask="url(#dk2)" opacity="0.85"/>
<rect x="933.6" y="881" width="338" height="338" filter="url(#do2)" mask="url(#dk2)" opacity="0.51"/>
</g>
<line x1="933.6" y1="875" x2="933.6" y2="1219.6" stroke="#1c1a1b" stroke-width="1.2"/>
<line x1="927.1" y1="881" x2="1272.2" y2="881" stroke="#1c1a1b" stroke-width="1.2"/>
<line x1="1271.6" y1="875" x2="1271.6" y2="881" stroke="#1c1a1b" stroke-width="1.2"/>
<line x1="927.1" y1="1219" x2="933.6" y2="1219" stroke="#1c1a1b" stroke-width="1.2"/>
<text font-size="19.5" textLength="74.3" lengthAdjust="spacingAndGlyphs" transform="translate(918.8 963.6) rotate(-90)">158.1 Mb</text>
<text font-size="19.5" textLength="51.5" lengthAdjust="spacingAndGlyphs" transform="translate(918.8 1075.6) rotate(-90)">Chr. 5</text>
<text font-size="19.5" textLength="84.8" lengthAdjust="spacingAndGlyphs" transform="translate(918.8 1217.8) rotate(-90)">159.7 Mb</text>
<text font-size="22.5" text-anchor="middle" textLength="184.4" lengthAdjust="spacingAndGlyphs" transform="translate(1286.6 1049) rotate(90)">STAG2 KO DMSO</text>
<text font-size="22.5" text-anchor="middle" textLength="216" lengthAdjust="spacingAndGlyphs" x="1102.6" y="1252.5">STAG2 KO dTAG 4 h</text>
<line x1="1172.5" y1="980.5" x2="1159.03" y2="994.34" stroke="#000" stroke-width="2"/>
<path d="M1154.5 999L1157.42 989.98L1158.68 994.7L1163.44 995.84Z" fill="#000"/>
<line x1="1033.5" y1="1118.6" x2="1046.98" y2="1105.86" stroke="#000" stroke-width="2"/>
<path d="M1051.7 1101.4L1048.41 1110.29L1047.34 1105.52L1042.64 1104.19Z" fill="#000"/>
<text font-size="18" textLength="87" lengthAdjust="spacingAndGlyphs" x="935.9" y="1291.6">DMSO 4 h</text>
<text font-size="18" text-anchor="end" textLength="82.3" lengthAdjust="spacingAndGlyphs" x="1269" y="1291.6">[ 0–0.01 ]</text>
<text font-size="18" textLength="80.4" lengthAdjust="spacingAndGlyphs" x="935.9" y="1403">dTAG 4 h</text>
<text font-size="18" text-anchor="end" textLength="82.3" lengthAdjust="spacingAndGlyphs" x="1269" y="1403">[ 0–0.01 ]</text>
<line x1="933.6" y1="1489" x2="1271.6" y2="1489" stroke="#1c1a1b" stroke-width="1.3"/>
<line x1="933.6" y1="1489" x2="933.6" y2="1498" stroke="#1c1a1b" stroke-width="1.3"/>
<line x1="1271.6" y1="1489" x2="1271.6" y2="1498" stroke="#1c1a1b" stroke-width="1.3"/>
<text font-size="19.5" textLength="73.8" lengthAdjust="spacingAndGlyphs" x="942.2" y="1523.5">158.1 Mb</text>
<text font-size="19.5" text-anchor="middle" textLength="51.7" lengthAdjust="spacingAndGlyphs" x="1102.8" y="1526.4">Chr. 5</text>
<text font-size="19.5" text-anchor="end" textLength="76.6" lengthAdjust="spacingAndGlyphs" x="1261.8" y="1523.5">159.7 Mb</text>
<text font-size="22.5" text-anchor="middle" textLength="109" lengthAdjust="spacingAndGlyphs" transform="translate(919.6 1381) rotate(-90)">STAG2 KO</text>
<text font-size="22.5" text-anchor="middle" textLength="173" lengthAdjust="spacingAndGlyphs" transform="translate(24.4 1049.3) rotate(-90)">Mixed-dep. loop</text>
<clipPath id="tc0"><rect x="76.5" y="1270.3" width="340" height="109.5"/></clipPath>
<path d="M77.5 1370.6 78.8 1366.77 80.1 1363.88 81.4 1367.42 82.7 1370.59 84 1367.26 85.3 1364.11 86.6 1360.05 87.9 1365.6 89.2 1363.84 90.5 1345.28 91.8 1335.18 93.1 1341.58 94.4 1352.19 95.7 1361.47 97 1365.09 98.3 1357.26 99.6 1364.91 100.9 1368.45 102.2 1370.48 103.5 1367.42 104.8 1366.6 106.1 1367.87 107.4 1367.41 108.7 1366.36 110 1364.91 111.3 1363.41 112.6 1365.54 113.9 1371.81 115.2 1366.15 116.5 1370.85 117.8 1368.37 119.1 1371.51 120.4 1367.94 121.7 1369.31 123 1366.67 124.3 1356.79 125.6 1364.21 126.9 1363.36 128.2 1369.61 129.5 1368.01 130.8 1364.66 132.1 1366.07 133.4 1364.94 134.7 1365.42 136 1368.93 137.3 1364.86 138.6 1368.09 139.9 1360.38 141.2 1365.89 142.5 1363.41 143.8 1364.9 145.1 1362.13 146.4 1366.4 147.7 1362.16 149 1364.7 150.3 1360.65 151.6 1361.65 152.9 1363.42 154.2 1366.89 155.5 1362.39 156.8 1362.17 158.1 1357.9 159.4 1363.74 160.7 1361.8 162 1361.32 163.3 1361.85 164.6 1362.09 165.9 1362.07 167.2 1364.81 168.5 1366.92 169.8 1364.91 171.1 1360.31 172.4 1355.16 173.7 1355.61 175 1355 176.3 1355.54 177.6 1355.56 178.9 1357.34 180.2 1354.68 181.5 1349.03 182.8 1355.97 184.1 1358.39 185.4 1346.41 186.7 1349.54 188 1345.55 189.3 1342.94 190.6 1348.39 191.9 1330.9 193.2 1324.86 194.5 1324.14 195.8 1312.91 197.1 1300.61 198.4 1284.36 199.7 1252.16 201 1210.28 202.3 1166.71 203.6 1147.37 204.9 1169.41 206.2 1204.53 207.5 1251.39 208.8 1276.31 210.1 1294.64 211.4 1314.63 212.7 1332.74 214 1338.25 215.3 1338.27 216.6 1339.75 217.9 1337.82 219.2 1350.09 220.5 1350.14 221.8 1348.44 223.1 1352.42 224.4 1363.75 225.7 1353.45 227 1344.88 228.3 1348.86 229.6 1358.58 230.9 1359.16 232.2 1356.85 233.5 1346.7 234.8 1352.51 236.1 1356.34 237.4 1351.22 238.7 1357.21 240 1350.42 241.3 1359.89 242.6 1361.45 243.9 1356.76 245.2 1352.63 246.5 1355.02 247.8 1357.21 249.1 1367.03 250.4 1364.73 251.7 1363.77 253 1363.23 254.3 1358.28 255.6 1361.07 256.9 1356.94 258.2 1358.97 259.5 1361.28 260.8 1359.92 262.1 1358.24 263.4 1355.96 264.7 1361.13 266 1361.34 267.3 1366.25 268.6 1354.57 269.9 1352.24 271.2 1358.64 272.5 1361.42 273.8 1365.25 275.1 1359.92 276.4 1358.18 277.7 1348.85 279 1354.45 280.3 1359.65 281.6 1367.26 282.9 1351.06 284.2 1350.1 285.5 1353.96 286.8 1340.61 288.1 1333.72 289.4 1296.69 290.7 1299.7 292 1316.79 293.3 1330.51 294.6 1341.18 295.9 1331.03 297.2 1338.45 298.5 1340.11 299.8 1376.5 301.1 1375.67 302.4 1372.12 303.7 1370.61 305 1374.63 306.3 1376.19 307.6 1372.89 308.9 1372.14 310.2 1374.77 311.5 1375 312.8 1375.07 314.1 1375.85 315.4 1375.3 316.7 1372.3 318 1372.41 319.3 1370.44 320.6 1373.14 321.9 1373.9 323.2 1375.35 324.5 1374.47 325.8 1376 327.1 1376.5 328.4 1373.77 329.7 1371.9 331 1372.33 332.3 1371.75 333.6 1373.17 334.9 1374.92 336.2 1374.23 337.5 1374.73 338.8 1375.9 340.1 1376.5 341.4 1376.5 342.7 1374.97 344 1374.27 345.3 1374.97 346.6 1372.55 347.9 1373.68 349.2 1373.43 350.5 1372.52 351.8 1375.08 353.1 1376.5 354.4 1374.18 355.7 1375.36 357 1372.99 358.3 1373.72 359.6 1373.04 360.9 1373.21 362.2 1376.5 363.5 1374.3 364.8 1375.46 366.1 1375.87 367.4 1375.57 368.7 1373.96 370 1373.43 371.3 1373.15 372.6 1376.5 373.9 1376.01 375.2 1376.5 376.5 1375.82 377.8 1374.37 379.1 1375.74 380.4 1374.84 381.7 1374.64 383 1373.65 384.3 1375.69 385.6 1376.22 386.9 1376.28 388.2 1373.23 389.5 1373.3 390.8 1374.81 392.1 1374.78 393.4 1374.93 394.7 1374.87 396 1375.37 397.3 1375.66 398.6 1376.5 399.9 1376.42 401.2 1373.62 402.5 1374.26 403.8 1374.99 405.1 1375.51 406.4 1375.34 407.7 1374.97 409 1376.05 410.3 1375.37 411.6 1375.16 412.9 1376.26 414.2 1376.5 415.5 1376.5" fill="none" stroke="#b1b1b1" stroke-width="3" stroke-linejoin="round" clip-path="url(#tc0)"/>
<clipPath id="tc1"><rect x="76.5" y="1380" width="340" height="111.6"/></clipPath>
<path d="M77.5 1485.66 78.8 1482.65 80.1 1483.06 81.4 1483.62 82.7 1480.45 84 1481.72 85.3 1482.81 86.6 1478.32 87.9 1482.45 89.2 1485.24 90.5 1486.19 91.8 1484.48 93.1 1481.33 94.4 1480.09 95.7 1479.11 97 1477.22 98.3 1477.03 99.6 1479.41 100.9 1478.4 102.2 1479.69 103.5 1482.81 104.8 1480.35 106.1 1481.5 107.4 1482.4 108.7 1477.46 110 1479.07 111.3 1482.4 112.6 1482.19 113.9 1476.31 115.2 1480.93 116.5 1479.65 117.8 1479.52 119.1 1479.67 120.4 1479.44 121.7 1481.98 123 1482.52 124.3 1481.81 125.6 1482.08 126.9 1479.05 128.2 1476.27 129.5 1481.88 130.8 1479.41 132.1 1482.81 133.4 1482.83 134.7 1481.53 136 1480.17 137.3 1481.26 138.6 1487.55 139.9 1477.81 141.2 1479.96 142.5 1481.48 143.8 1477.95 145.1 1480.71 146.4 1483.78 147.7 1478.76 149 1477.59 150.3 1480.98 151.6 1476.62 152.9 1476.83 154.2 1481.5 155.5 1473.41 156.8 1475.95 158.1 1481.03 159.4 1476.98 160.7 1476.88 162 1473.83 163.3 1480.81 164.6 1474.15 165.9 1472.57 167.2 1472.79 168.5 1472.9 169.8 1470.02 171.1 1471.2 172.4 1473.45 173.7 1477.53 175 1470.38 176.3 1468.57 177.6 1470.49 178.9 1471.08 180.2 1468.01 181.5 1481.62 182.8 1471.07 184.1 1480.63 185.4 1469.16 186.7 1461.16 188 1453.61 189.3 1460.67 190.6 1455.59 191.9 1453.2 193.2 1458.02 194.5 1439.17 195.8 1429.06 197.1 1413.37 198.4 1395.45 199.7 1359.7 201 1314.33 202.3 1262.18 203.6 1240.44 204.9 1249.11 206.2 1310.22 207.5 1356.79 208.8 1388.73 210.1 1414.35 211.4 1419.58 212.7 1431.7 214 1448.57 215.3 1450.01 216.6 1448.29 217.9 1461.96 219.2 1459.77 220.5 1462.38 221.8 1452.17 223.1 1459.45 224.4 1465.86 225.7 1468.8 227 1458.67 228.3 1467.56 229.6 1457.38 230.9 1473.07 232.2 1470.92 233.5 1470.86 234.8 1473.24 236.1 1471.75 237.4 1467.36 238.7 1472.73 240 1477.8 241.3 1466.26 242.6 1462.93 243.9 1472.24 245.2 1470.04 246.5 1482.96 247.8 1469.46 249.1 1477.2 250.4 1475.57 251.7 1462.66 253 1475.31 254.3 1472.61 255.6 1476.97 256.9 1481.64 258.2 1479.71 259.5 1472.74 260.8 1478.17 262.1 1476.31 263.4 1469.92 264.7 1472.35 266 1478.15 267.3 1466.99 268.6 1470.4 269.9 1465.49 271.2 1475.28 272.5 1465.44 273.8 1476.59 275.1 1481.16 276.4 1476.33 277.7 1474.84 279 1471.52 280.3 1474.33 281.6 1469.38 282.9 1464.59 284.2 1472.21 285.5 1476.68 286.8 1471.58 288.1 1460.42 289.4 1447.49 290.7 1451.05 292 1466.01 293.3 1466.01 294.6 1459.28 295.9 1458.16 297.2 1434.05 298.5 1445.67 299.8 1483.85 301.1 1485.57 302.4 1482.48 303.7 1484.08 305 1487.21 306.3 1483.95 307.6 1485.33 308.9 1483.09 310.2 1484.14 311.5 1485.8 312.8 1484.86 314.1 1485.79 315.4 1486.61 316.7 1485.39 318 1483.74 319.3 1484.64 320.6 1485.15 321.9 1486.08 323.2 1484.45 324.5 1484.57 325.8 1483.49 327.1 1484.23 328.4 1481.54 329.7 1486.95 331 1485.84 332.3 1484.63 333.6 1483.77 334.9 1487.49 336.2 1487.94 337.5 1486.17 338.8 1484.01 340.1 1483.43 341.4 1487.44 342.7 1485.86 344 1483.86 345.3 1485.17 346.6 1487.17 347.9 1487.19 349.2 1488.17 350.5 1484.53 351.8 1485.88 353.1 1486.5 354.4 1487.34 355.7 1486.46 357 1487.41 358.3 1487.77 359.6 1486.47 360.9 1486.45 362.2 1485.44 363.5 1485.67 364.8 1484.23 366.1 1485.69 367.4 1485.63 368.7 1485.69 370 1487.22 371.3 1484.74 372.6 1486.66 373.9 1488.3 375.2 1485.08 376.5 1485.07 377.8 1486.81 379.1 1485.12 380.4 1484.71 381.7 1485 383 1487.71 384.3 1486.52 385.6 1487.92 386.9 1487.7 388.2 1487.59 389.5 1487.97 390.8 1486.26 392.1 1487.59 393.4 1486.03 394.7 1486.27 396 1487.39 397.3 1486.65 398.6 1485.8 399.9 1485.01 401.2 1486.68 402.5 1484.5 403.8 1485.51 405.1 1484.9 406.4 1488.14 407.7 1488.3 409 1485.79 410.3 1486.96 411.6 1486.39 412.9 1485.33 414.2 1488.3 415.5 1486.83" fill="none" stroke="#2f7d3c" stroke-width="3" stroke-linejoin="round" clip-path="url(#tc1)"/>
<clipPath id="tc2"><rect x="502.4" y="1270.3" width="340" height="109.5"/></clipPath>
<path d="M503.4 1364.95 504.7 1362.75 506 1368.07 507.3 1369.6 508.6 1366.18 509.9 1360.89 511.2 1363.02 512.5 1367.88 513.8 1366.76 515.1 1360.92 516.4 1348 517.7 1339.92 519 1348.68 520.3 1358.74 521.6 1361.75 522.9 1366.65 524.2 1365.86 525.5 1365.24 526.8 1361.27 528.1 1365.46 529.4 1363.65 530.7 1368.98 532 1364.99 533.3 1366.02 534.6 1368.27 535.9 1367.41 537.2 1364.62 538.5 1367.32 539.8 1364.17 541.1 1361.95 542.4 1361.07 543.7 1360.81 545 1368.92 546.3 1366.32 547.6 1368.56 548.9 1364.41 550.2 1365.84 551.5 1365.72 552.8 1364.95 554.1 1367.78 555.4 1366.44 556.7 1368.46 558 1360.64 559.3 1366.14 560.6 1366.07 561.9 1371.33 563.2 1371.76 564.5 1369.9 565.8 1364.43 567.1 1363.06 568.4 1364.15 569.7 1367.2 571 1360.18 572.3 1367.3 573.6 1368.5 574.9 1364.51 576.2 1368.14 577.5 1364.95 578.8 1361.8 580.1 1364.27 581.4 1363.25 582.7 1364.1 584 1366.58 585.3 1375.48 586.6 1371.11 587.9 1365.8 589.2 1369.96 590.5 1367.18 591.8 1363.63 593.1 1358.54 594.4 1366.78 595.7 1365.67 597 1362.4 598.3 1360.18 599.6 1366.66 600.9 1355.38 602.2 1362.77 603.5 1356.51 604.8 1359.8 606.1 1357.55 607.4 1351.03 608.7 1352.8 610 1354.9 611.3 1359.29 612.6 1357.7 613.9 1359.11 615.2 1342.86 616.5 1351.68 617.8 1355.13 619.1 1333.74 620.4 1324.22 621.7 1320.78 623 1303.14 624.3 1288.79 625.6 1259.45 626.9 1214.76 628.2 1171.91 629.5 1154.02 630.8 1166.75 632.1 1210.99 633.4 1253.79 634.7 1289.6 636 1305.77 637.3 1320.55 638.6 1329.41 639.9 1332.34 641.2 1342.31 642.5 1343.73 643.8 1343.75 645.1 1347.21 646.4 1340.97 647.7 1357.77 649 1355.57 650.3 1360.53 651.6 1357.55 652.9 1346.19 654.2 1361.63 655.5 1360.06 656.8 1355.91 658.1 1357.56 659.4 1354.67 660.7 1364.79 662 1356.62 663.3 1363.05 664.6 1365.93 665.9 1359.11 667.2 1357.94 668.5 1362.84 669.8 1364.51 671.1 1362.42 672.4 1361.19 673.7 1361.62 675 1365.24 676.3 1371.51 677.6 1358.33 678.9 1359.72 680.2 1365.83 681.5 1368.7 682.8 1365.91 684.1 1364.12 685.4 1370.57 686.7 1358.06 688 1358.85 689.3 1362.04 690.6 1360.16 691.9 1360.16 693.2 1356.83 694.5 1359.6 695.8 1355.82 697.1 1353.68 698.4 1360.57 699.7 1362.8 701 1365.04 702.3 1362.83 703.6 1364.17 704.9 1361.22 706.2 1358.88 707.5 1356.83 708.8 1362.92 710.1 1353.7 711.4 1355.54 712.7 1351.7 714 1345.75 715.3 1339.32 716.6 1323.98 717.9 1339.95 719.2 1335.1 720.5 1332.7 721.8 1317.03 723.1 1327.3 724.4 1341.15 725.7 1370.86 727 1372.87 728.3 1370.96 729.6 1373.07 730.9 1373.03 732.2 1374.46 733.5 1372.99 734.8 1372.45 736.1 1374.11 737.4 1375.71 738.7 1374.26 740 1373.24 741.3 1373.87 742.6 1375.25 743.9 1375.24 745.2 1374.58 746.5 1376.5 747.8 1375.74 749.1 1372.28 750.4 1375.39 751.7 1374.64 753 1371.73 754.3 1372.43 755.6 1372.33 756.9 1373.84 758.2 1375.91 759.5 1370.5 760.8 1372.81 762.1 1373.49 763.4 1371.72 764.7 1372.47 766 1373.72 767.3 1375.65 768.6 1374.84 769.9 1374.64 771.2 1375.34 772.5 1375.78 773.8 1376.09 775.1 1374.98 776.4 1375.37 777.7 1374.13 779 1373.03 780.3 1373.71 781.6 1374.29 782.9 1372.41 784.2 1373.16 785.5 1376.18 786.8 1375.94 788.1 1374.7 789.4 1375.81 790.7 1373.98 792 1376.5 793.3 1376.5 794.6 1374.22 795.9 1373.89 797.2 1376.5 798.5 1375.16 799.8 1373.22 801.1 1375.86 802.4 1376.5 803.7 1376.5 805 1376.5 806.3 1376.5 807.6 1376.2 808.9 1376.5 810.2 1375.45 811.5 1372.4 812.8 1375.68 814.1 1374.12 815.4 1373.44 816.7 1376.5 818 1375.6 819.3 1375.29 820.6 1375.61 821.9 1374.36 823.2 1375.53 824.5 1374.9 825.8 1375.64 827.1 1375.54 828.4 1376.29 829.7 1372.92 831 1374.82 832.3 1376.5 833.6 1373.44 834.9 1373.12 836.2 1375.09 837.5 1376.12 838.8 1376.48 840.1 1374.35 841.4 1375.6" fill="none" stroke="#b1b1b1" stroke-width="3" stroke-linejoin="round" clip-path="url(#tc2)"/>
<clipPath id="tc3"><rect x="502.4" y="1380" width="340" height="111.6"/></clipPath>
<path d="M503.4 1482.37 504.7 1483.3 506 1477.06 507.3 1480.78 508.6 1482.29 509.9 1482.21 511.2 1483.92 512.5 1484.72 513.8 1482.63 515.1 1483.89 516.4 1481.9 517.7 1483.27 519 1486.48 520.3 1486.42 521.6 1485.56 522.9 1487.42 524.2 1484.37 525.5 1483.99 526.8 1481.62 528.1 1484.34 529.4 1483.84 530.7 1482.22 532 1481.49 533.3 1484.57 534.6 1480.6 535.9 1483.59 537.2 1480.93 538.5 1482.99 539.8 1483.69 541.1 1485.4 542.4 1483.64 543.7 1478.3 545 1482.75 546.3 1479.57 547.6 1479.1 548.9 1482.32 550.2 1480.07 551.5 1478.88 552.8 1481.93 554.1 1483.11 555.4 1479.95 556.7 1480.66 558 1477.07 559.3 1479.63 560.6 1483.57 561.9 1482.15 563.2 1484.18 564.5 1480.42 565.8 1479.49 567.1 1481.64 568.4 1483.18 569.7 1479.47 571 1481.34 572.3 1478.04 573.6 1482.22 574.9 1481.54 576.2 1481.92 577.5 1483.11 578.8 1474.2 580.1 1474.31 581.4 1479.91 582.7 1477.64 584 1483.53 585.3 1477.03 586.6 1475.62 587.9 1478.87 589.2 1479.56 590.5 1477.91 591.8 1476.67 593.1 1478.46 594.4 1480.12 595.7 1478.56 597 1478.41 598.3 1474.25 599.6 1475 600.9 1474.27 602.2 1480.16 603.5 1476.78 604.8 1475.39 606.1 1474.89 607.4 1472.37 608.7 1471.5 610 1475.04 611.3 1464.65 612.6 1460.45 613.9 1463.1 615.2 1456.59 616.5 1457.93 617.8 1455.33 619.1 1444.81 620.4 1427.57 621.7 1419.56 623 1408.89 624.3 1379.07 625.6 1347.91 626.9 1308.32 628.2 1265.76 629.5 1254.35 630.8 1274.03 632.1 1312.08 633.4 1342.04 634.7 1376.05 636 1403.28 637.3 1421.65 638.6 1428.99 639.9 1434.44 641.2 1448.27 642.5 1451.21 643.8 1446.22 645.1 1454.18 646.4 1461.65 647.7 1462.25 649 1464.48 650.3 1463.76 651.6 1465.66 652.9 1470.25 654.2 1470.47 655.5 1469.05 656.8 1473.42 658.1 1471.84 659.4 1475.68 660.7 1468.57 662 1465.99 663.3 1474.7 664.6 1470.73 665.9 1472.43 667.2 1473.32 668.5 1474.9 669.8 1473.62 671.1 1470.9 672.4 1477.99 673.7 1472.24 675 1475.24 676.3 1478.84 677.6 1476.32 678.9 1473.52 680.2 1475.28 681.5 1474.53 682.8 1476.45 684.1 1477.63 685.4 1473.02 686.7 1478.13 688 1473.28 689.3 1474.21 690.6 1476.43 691.9 1476.85 693.2 1477.18 694.5 1476.49 695.8 1476.37 697.1 1476.65 698.4 1482.34 699.7 1484.3 701 1477.14 702.3 1478.37 703.6 1478.47 704.9 1477.2 706.2 1479.77 707.5 1471.93 708.8 1474.68 710.1 1475.64 711.4 1478.34 712.7 1471.16 714 1467.24 715.3 1460.34 716.6 1462.83 717.9 1472.69 719.2 1476.6 720.5 1464.86 721.8 1468.55 723.1 1470.8 724.4 1473.84 725.7 1484.31 727 1484.04 728.3 1486.29 729.6 1486.31 730.9 1487.9 732.2 1485.03 733.5 1485.37 734.8 1487.64 736.1 1484.37 737.4 1485.03 738.7 1486.64 740 1486.23 741.3 1486.39 742.6 1485.49 743.9 1485.15 745.2 1486.16 746.5 1485.06 747.8 1488.3 749.1 1486.84 750.4 1485 751.7 1484.16 753 1484.18 754.3 1486.66 755.6 1488.15 756.9 1486.75 758.2 1482.99 759.5 1484.71 760.8 1486.48 762.1 1488.15 763.4 1486.22 764.7 1486.52 766 1485.4 767.3 1485.54 768.6 1488.3 769.9 1486.83 771.2 1485.2 772.5 1486.56 773.8 1487.67 775.1 1487.91 776.4 1488.19 777.7 1483.92 779 1483.84 780.3 1486.34 781.6 1484.54 782.9 1487.09 784.2 1487.11 785.5 1487.38 786.8 1486.79 788.1 1485.64 789.4 1483.73 790.7 1484.83 792 1486.13 793.3 1486.15 794.6 1486.63 795.9 1486.06 797.2 1487.39 798.5 1486.43 799.8 1485.97 801.1 1485.31 802.4 1487.21 803.7 1486.27 805 1486.21 806.3 1487.46 807.6 1488.3 808.9 1487.92 810.2 1486.03 811.5 1486.88 812.8 1484.24 814.1 1485.52 815.4 1487.28 816.7 1487.05 818 1486.39 819.3 1486.22 820.6 1486.99 821.9 1486.44 823.2 1483.61 824.5 1485.14 825.8 1486.35 827.1 1487.35 828.4 1488.3 829.7 1487.35 831 1487.57 832.3 1487.26 833.6 1487.73 834.9 1486.48 836.2 1485.87 837.5 1487.58 838.8 1488.3 840.1 1487.27 841.4 1485.84" fill="none" stroke="#2f7d3c" stroke-width="3" stroke-linejoin="round" clip-path="url(#tc3)"/>
<clipPath id="tc4"><rect x="932.6" y="1270.3" width="340" height="109.5"/></clipPath>
<path d="M933.6 1361.52 934.9 1363.17 936.2 1370.1 937.5 1360.18 938.8 1360.94 940.1 1360.54 941.4 1361.1 942.7 1351.93 944 1352.38 945.3 1348.36 946.6 1354.87 947.9 1350.57 949.2 1341.57 950.5 1337.87 951.8 1367.99 953.1 1349.29 954.4 1356.7 955.7 1359.9 957 1356.32 958.3 1363.55 959.6 1361.79 960.9 1358.42 962.2 1371.42 963.5 1355.53 964.8 1360.89 966.1 1359.55 967.4 1368.72 968.7 1368.64 970 1355.4 971.3 1364.83 972.6 1366.48 973.9 1361.83 975.2 1355.21 976.5 1375.6 977.8 1358.38 979.1 1360.97 980.4 1357.99 981.7 1368.23 983 1363.16 984.3 1354.36 985.6 1361.99 986.9 1366.95 988.2 1367.06 989.5 1367.61 990.8 1360.04 992.1 1361.6 993.4 1365.98 994.7 1359.57 996 1368.93 997.3 1373.27 998.6 1351.45 999.9 1364.15 1001.2 1353.93 1002.5 1361.47 1003.8 1364.11 1005.1 1360.28 1006.4 1367.53 1007.7 1369.24 1009 1365.81 1010.3 1365.98 1011.6 1359.22 1012.9 1349.92 1014.2 1366.67 1015.5 1368.98 1016.8 1359.34 1018.1 1358.32 1019.4 1354.1 1020.7 1364.72 1022 1358.72 1023.3 1361.23 1024.6 1372.03 1025.9 1360.96 1027.2 1371.45 1028.5 1359.72 1029.8 1363.31 1031.1 1362.2 1032.4 1344.98 1033.7 1344.7 1035 1352.04 1036.3 1353.62 1037.6 1361.77 1038.9 1348.79 1040.2 1349.18 1041.5 1358.88 1042.8 1365.83 1044.1 1354.29 1045.4 1350.81 1046.7 1340.15 1048 1347.84 1049.3 1344.57 1050.6 1328.76 1051.9 1319.13 1053.2 1298.97 1054.5 1275.67 1055.8 1259.56 1057.1 1233.27 1058.4 1177.31 1059.7 1159.73 1061 1174.13 1062.3 1235.99 1063.6 1262.07 1064.9 1286.64 1066.2 1310.3 1067.5 1317.36 1068.8 1328.23 1070.1 1334.53 1071.4 1331.84 1072.7 1333.71 1074 1336.82 1075.3 1345.01 1076.6 1349.94 1077.9 1349.17 1079.2 1351.58 1080.5 1360.31 1081.8 1355.08 1083.1 1350.52 1084.4 1359.22 1085.7 1366.61 1087 1356.89 1088.3 1364.18 1089.6 1371.47 1090.9 1364.63 1092.2 1371.55 1093.5 1360.97 1094.8 1364.27 1096.1 1361.18 1097.4 1353.41 1098.7 1351.78 1100 1359.55 1101.3 1375.76 1102.6 1368.13 1103.9 1370.79 1105.2 1358.07 1106.5 1350.68 1107.8 1354.45 1109.1 1355.77 1110.4 1356.68 1111.7 1356.11 1113 1362.73 1114.3 1356.23 1115.6 1362.32 1116.9 1369.3 1118.2 1363.2 1119.5 1351.49 1120.8 1360.06 1122.1 1372.54 1123.4 1355.35 1124.7 1357.23 1126 1354.76 1127.3 1359.94 1128.6 1351.14 1129.9 1330.98 1131.2 1322.94 1132.5 1334.08 1133.8 1347.97 1135.1 1360.7 1136.4 1356.54 1137.7 1352.15 1139 1360.17 1140.3 1346.02 1141.6 1355.26 1142.9 1335.1 1144.2 1321.25 1145.5 1299.07 1146.8 1293.54 1148.1 1313.53 1149.4 1336.66 1150.7 1319.72 1152 1306.36 1153.3 1311.83 1154.6 1326.49 1155.9 1371.52 1157.2 1373.46 1158.5 1370.39 1159.8 1372.34 1161.1 1372.89 1162.4 1376.11 1163.7 1371.01 1165 1374.34 1166.3 1368.32 1167.6 1374.2 1168.9 1374.69 1170.2 1373.34 1171.5 1375.07 1172.8 1376.5 1174.1 1376.5 1175.4 1376.41 1176.7 1374.72 1178 1371.22 1179.3 1371.18 1180.6 1372.07 1181.9 1371.09 1183.2 1376.5 1184.5 1376.26 1185.8 1375.6 1187.1 1376.5 1188.4 1373.18 1189.7 1375.12 1191 1376.5 1192.3 1372.28 1193.6 1374.94 1194.9 1374.65 1196.2 1376.5 1197.5 1372.59 1198.8 1373.42 1200.1 1370.32 1201.4 1367.78 1202.7 1370.81 1204 1374.01 1205.3 1375.82 1206.6 1370.62 1207.9 1373.64 1209.2 1372.49 1210.5 1373.12 1211.8 1376.5 1213.1 1375.64 1214.4 1374.16 1215.7 1373.72 1217 1374.39 1218.3 1373.74 1219.6 1376.39 1220.9 1373.45 1222.2 1375.23 1223.5 1374.19 1224.8 1370.68 1226.1 1372.98 1227.4 1376.3 1228.7 1374.09 1230 1376.5 1231.3 1374.87 1232.6 1371.58 1233.9 1376.07 1235.2 1375.26 1236.5 1376.5 1237.8 1374.75 1239.1 1373.97 1240.4 1374.12 1241.7 1375.13 1243 1376.5 1244.3 1376.5 1245.6 1376.38 1246.9 1373.51 1248.2 1376.5 1249.5 1373.55 1250.8 1376.06 1252.1 1376.5 1253.4 1372.89 1254.7 1373.74 1256 1376.5 1257.3 1374.85 1258.6 1373.79 1259.9 1376.5 1261.2 1373.17 1262.5 1376.28 1263.8 1373.82 1265.1 1375.9 1266.4 1376.5 1267.7 1376.5 1269 1376.5 1270.3 1375.37 1271.6 1376.5" fill="none" stroke="#b1b1b1" stroke-width="3" stroke-linejoin="round" clip-path="url(#tc4)"/>
<clipPath id="tc5"><rect x="932.6" y="1380" width="340" height="111.6"/></clipPath>
<path d="M933.6 1478.46 934.9 1478.89 936.2 1482.24 937.5 1474.43 938.8 1483.95 940.1 1481.15 941.4 1477.52 942.7 1477.43 944 1477.5 945.3 1482.86 946.6 1474.81 947.9 1481.2 949.2 1480.64 950.5 1480.32 951.8 1480.27 953.1 1481.96 954.4 1475.58 955.7 1478.82 957 1476.59 958.3 1484.43 959.6 1479.27 960.9 1480.64 962.2 1478.95 963.5 1479.14 964.8 1478.43 966.1 1480 967.4 1479.83 968.7 1479.53 970 1479.1 971.3 1479.54 972.6 1481.06 973.9 1478.67 975.2 1482.35 976.5 1473.4 977.8 1475.16 979.1 1473.27 980.4 1478.37 981.7 1483.64 983 1485.72 984.3 1483.71 985.6 1482.6 986.9 1481.46 988.2 1481.07 989.5 1477.42 990.8 1487.05 992.1 1475.07 993.4 1479.22 994.7 1478.43 996 1485.18 997.3 1479.46 998.6 1484.16 999.9 1478.15 1001.2 1477.37 1002.5 1477.49 1003.8 1478.77 1005.1 1479.41 1006.4 1479.68 1007.7 1475.02 1009 1476.9 1010.3 1476.68 1011.6 1468.11 1012.9 1474.85 1014.2 1480.45 1015.5 1487.11 1016.8 1488.3 1018.1 1479.73 1019.4 1474.01 1020.7 1480.36 1022 1482.38 1023.3 1478.67 1024.6 1476.14 1025.9 1471.82 1027.2 1475.12 1028.5 1478.13 1029.8 1472.57 1031.1 1478.5 1032.4 1482.18 1033.7 1481.26 1035 1476.71 1036.3 1475.56 1037.6 1472.29 1038.9 1470.26 1040.2 1455.68 1041.5 1460.59 1042.8 1471.42 1044.1 1458.5 1045.4 1437.14 1046.7 1454.26 1048 1442.24 1049.3 1450.35 1050.6 1447.08 1051.9 1436.06 1053.2 1424.02 1054.5 1399.54 1055.8 1371.5 1057.1 1323.65 1058.4 1275.97 1059.7 1260.64 1061 1274.39 1062.3 1316.62 1063.6 1373.5 1064.9 1405.31 1066.2 1418.4 1067.5 1437.31 1068.8 1444.38 1070.1 1452.23 1071.4 1452.66 1072.7 1459.14 1074 1450.77 1075.3 1460.87 1076.6 1466.22 1077.9 1474.92 1079.2 1469.43 1080.5 1474.38 1081.8 1467.43 1083.1 1466.57 1084.4 1455.33 1085.7 1471.67 1087 1470.97 1088.3 1466.05 1089.6 1481.59 1090.9 1471.36 1092.2 1462.79 1093.5 1470.12 1094.8 1472.53 1096.1 1466.82 1097.4 1470.37 1098.7 1471.28 1100 1468.79 1101.3 1476.39 1102.6 1464.97 1103.9 1473.41 1105.2 1473.84 1106.5 1475.91 1107.8 1487.15 1109.1 1485.3 1110.4 1478.75 1111.7 1475.42 1113 1468.99 1114.3 1460.16 1115.6 1467.3 1116.9 1473.12 1118.2 1477.17 1119.5 1468.31 1120.8 1475.86 1122.1 1474.87 1123.4 1467.92 1124.7 1473.32 1126 1474.64 1127.3 1473.49 1128.6 1481.84 1129.9 1476.35 1131.2 1473.34 1132.5 1471.29 1133.8 1474.07 1135.1 1483.96 1136.4 1476.94 1137.7 1460.95 1139 1453.61 1140.3 1465.24 1141.6 1462.43 1142.9 1457.81 1144.2 1448.92 1145.5 1417.66 1146.8 1393.04 1148.1 1430.31 1149.4 1448.44 1150.7 1440.17 1152 1443.93 1153.3 1438.57 1154.6 1458.41 1155.9 1485.85 1157.2 1483.57 1158.5 1482.36 1159.8 1486.72 1161.1 1484.96 1162.4 1483.19 1163.7 1482.81 1165 1484.33 1166.3 1487.01 1167.6 1485.7 1168.9 1480.8 1170.2 1485.88 1171.5 1479.21 1172.8 1483.75 1174.1 1484.97 1175.4 1486.21 1176.7 1485.15 1178 1484.81 1179.3 1487.14 1180.6 1481.77 1181.9 1482.09 1183.2 1483.8 1184.5 1487.48 1185.8 1486.64 1187.1 1486.08 1188.4 1484.09 1189.7 1485.36 1191 1487.64 1192.3 1486.43 1193.6 1486.17 1194.9 1485.72 1196.2 1484.03 1197.5 1486.6 1198.8 1488.3 1200.1 1484.29 1201.4 1483.59 1202.7 1487.45 1204 1484.86 1205.3 1486.52 1206.6 1484.76 1207.9 1484.63 1209.2 1488.09 1210.5 1488.3 1211.8 1486.81 1213.1 1488.3 1214.4 1488.3 1215.7 1488.25 1217 1486.9 1218.3 1486.45 1219.6 1487.53 1220.9 1486.9 1222.2 1484.29 1223.5 1484.73 1224.8 1485.13 1226.1 1487.13 1227.4 1487.63 1228.7 1488.3 1230 1488.3 1231.3 1488.3 1232.6 1487.49 1233.9 1487.32 1235.2 1487.78 1236.5 1487.8 1237.8 1488.3 1239.1 1485.92 1240.4 1485.36 1241.7 1484.29 1243 1485.44 1244.3 1486.57 1245.6 1485.16 1246.9 1488.27 1248.2 1488.3 1249.5 1485.86 1250.8 1485.72 1252.1 1486.08 1253.4 1484.48 1254.7 1486.27 1256 1486.31 1257.3 1486.04 1258.6 1488.3 1259.9 1486.69 1261.2 1485.92 1262.5 1486.77 1263.8 1487.99 1265.1 1488.3 1266.4 1488.3 1267.7 1488.3 1269 1485.58 1270.3 1484.87 1271.6 1486.71" fill="none" stroke="#2f7d3c" stroke-width="3" stroke-linejoin="round" clip-path="url(#tc5)"/>
<defs><linearGradient id="dcb" x1="0" y1="0" x2="0" y2="1"><stop offset="0" stop-color="#0c090d"/><stop offset="0.04" stop-color="#2a0c18"/><stop offset="0.075" stop-color="#5b0f26"/><stop offset="0.15" stop-color="#8a1626"/><stop offset="0.24" stop-color="#bb1e27"/><stop offset="0.305" stop-color="#e3222a"/><stop offset="0.38" stop-color="#ec5233"/><stop offset="0.46" stop-color="#f2803f"/><stop offset="0.56" stop-color="#f8a24e"/><stop offset="0.66" stop-color="#fbc264"/><stop offset="0.76" stop-color="#fddd82"/><stop offset="0.86" stop-color="#feefaa"/><stop offset="0.95" stop-color="#fffad8"/><stop offset="1" stop-color="#fffef2"/></linearGradient></defs>
<rect x="1368" y="880.5" width="20.6" height="338" fill="url(#dcb)" stroke="#231f20" stroke-width="1.1"/>
<line x1="1388.6" y1="882" x2="1399" y2="882" stroke="#1c1a1b" stroke-width="1.1"/>
<line x1="1388.6" y1="887.23" x2="1399" y2="887.23" stroke="#1c1a1b" stroke-width="1.1"/>
<line x1="1388.6" y1="893.07" x2="1399" y2="893.07" stroke="#1c1a1b" stroke-width="1.1"/>
<line x1="1388.6" y1="899.69" x2="1399" y2="899.69" stroke="#1c1a1b" stroke-width="1.1"/>
<line x1="1388.6" y1="907.34" x2="1399" y2="907.34" stroke="#1c1a1b" stroke-width="1.1"/>
<line x1="1388.6" y1="916.38" x2="1399" y2="916.38" stroke="#1c1a1b" stroke-width="1.1"/>
<line x1="1388.6" y1="927.44" x2="1399" y2="927.44" stroke="#1c1a1b" stroke-width="1.1"/>
<line x1="1388.6" y1="941.71" x2="1399" y2="941.71" stroke="#1c1a1b" stroke-width="1.1"/>
<line x1="1388.6" y1="961.82" x2="1399" y2="961.82" stroke="#1c1a1b" stroke-width="1.1"/>
<line x1="1388.6" y1="996.2" x2="1399" y2="996.2" stroke="#1c1a1b" stroke-width="1.1"/>
<line x1="1388.6" y1="1001.43" x2="1399" y2="1001.43" stroke="#1c1a1b" stroke-width="1.1"/>
<line x1="1388.6" y1="1007.27" x2="1399" y2="1007.27" stroke="#1c1a1b" stroke-width="1.1"/>
<line x1="1388.6" y1="1013.89" x2="1399" y2="1013.89" stroke="#1c1a1b" stroke-width="1.1"/>
<line x1="1388.6" y1="1021.54" x2="1399" y2="1021.54" stroke="#1c1a1b" stroke-width="1.1"/>
<line x1="1388.6" y1="1030.58" x2="1399" y2="1030.58" stroke="#1c1a1b" stroke-width="1.1"/>
<line x1="1388.6" y1="1041.64" x2="1399" y2="1041.64" stroke="#1c1a1b" stroke-width="1.1"/>
<line x1="1388.6" y1="1055.91" x2="1399" y2="1055.91" stroke="#1c1a1b" stroke-width="1.1"/>
<line x1="1388.6" y1="1076.02" x2="1399" y2="1076.02" stroke="#1c1a1b" stroke-width="1.1"/>
<line x1="1388.6" y1="1110.4" x2="1399" y2="1110.4" stroke="#1c1a1b" stroke-width="1.1"/>
<line x1="1388.6" y1="1115.63" x2="1399" y2="1115.63" stroke="#1c1a1b" stroke-width="1.1"/>
<line x1="1388.6" y1="1121.47" x2="1399" y2="1121.47" stroke="#1c1a1b" stroke-width="1.1"/>
<line x1="1388.6" y1="1128.09" x2="1399" y2="1128.09" stroke="#1c1a1b" stroke-width="1.1"/>
<line x1="1388.6" y1="1135.74" x2="1399" y2="1135.74" stroke="#1c1a1b" stroke-width="1.1"/>
<line x1="1388.6" y1="1144.78" x2="1399" y2="1144.78" stroke="#1c1a1b" stroke-width="1.1"/>
<line x1="1388.6" y1="1155.84" x2="1399" y2="1155.84" stroke="#1c1a1b" stroke-width="1.1"/>
<line x1="1388.6" y1="1170.11" x2="1399" y2="1170.11" stroke="#1c1a1b" stroke-width="1.1"/>
<line x1="1388.6" y1="1190.22" x2="1399" y2="1190.22" stroke="#1c1a1b" stroke-width="1.1"/>
<text x="1407.8" y="890.6" font-size="19.5" textLength="21.69" lengthAdjust="spacingAndGlyphs">10</text>
<text x="1429.49" y="883.1" font-size="12.5" textLength="14.25" lengthAdjust="spacingAndGlyphs">−1</text>
<text x="1407.8" y="1005.7" font-size="19.5" textLength="21.69" lengthAdjust="spacingAndGlyphs">10</text>
<text x="1429.49" y="998.2" font-size="12.5" textLength="14.25" lengthAdjust="spacingAndGlyphs">−2</text>
<text x="1407.8" y="1120.7" font-size="19.5" textLength="21.69" lengthAdjust="spacingAndGlyphs">10</text>
<text x="1429.49" y="1113.2" font-size="12.5" textLength="14.25" lengthAdjust="spacingAndGlyphs">−3</text>
<text font-size="22.5" text-anchor="middle" textLength="186.3" lengthAdjust="spacingAndGlyphs" transform="translate(1352.9 1049.3) rotate(-90)">Corrected counts</text>
</g>
<g id="pe">
<text font-size="39.5" font-weight="700" style="fill:#000" stroke="#000" stroke-width="1.0" stroke-linejoin="round" textLength="24" lengthAdjust="spacingAndGlyphs" x="1483.7" y="845.2">e</text>
<line x1="1546.8" y1="865.23" x2="1546.8" y2="1129.19" stroke="#1c1a1b" stroke-width="1.25"/>
<line x1="1537.21" y1="1128.69" x2="1781" y2="1128.69" stroke="#1c1a1b" stroke-width="1.25"/>
<line x1="1537.21" y1="865.73" x2="1546.8" y2="865.73" stroke="#1c1a1b" stroke-width="1.25"/>
<text font-size="19.5" text-anchor="end" textLength="11.17" lengthAdjust="spacingAndGlyphs" x="1528.71" y="872.53">5</text>
<line x1="1537.21" y1="918.45" x2="1546.8" y2="918.45" stroke="#1c1a1b" stroke-width="1.25"/>
<text font-size="19.5" text-anchor="end" textLength="11.17" lengthAdjust="spacingAndGlyphs" x="1528.71" y="925.25">4</text>
<line x1="1537.21" y1="971.17" x2="1546.8" y2="971.17" stroke="#1c1a1b" stroke-width="1.25"/>
<text font-size="19.5" text-anchor="end" textLength="11.17" lengthAdjust="spacingAndGlyphs" x="1528.71" y="977.97">3</text>
<line x1="1537.21" y1="1023.57" x2="1546.8" y2="1023.57" stroke="#1c1a1b" stroke-width="1.25"/>
<text font-size="19.5" text-anchor="end" textLength="11.17" lengthAdjust="spacingAndGlyphs" x="1528.71" y="1030.37">2</text>
<line x1="1537.21" y1="1076.29" x2="1546.8" y2="1076.29" stroke="#1c1a1b" stroke-width="1.25"/>
<text font-size="19.5" text-anchor="end" textLength="11.17" lengthAdjust="spacingAndGlyphs" x="1528.71" y="1083.09">1</text>
<line x1="1537.21" y1="1128.69" x2="1546.8" y2="1128.69" stroke="#1c1a1b" stroke-width="1.25"/>
<text font-size="19.5" text-anchor="end" textLength="11.17" lengthAdjust="spacingAndGlyphs" x="1528.71" y="1135.49">0</text>
<line x1="1566.29" y1="972.13" x2="1566.29" y2="1062.23" stroke="#1c1a1b" stroke-width="1.25"/>
<line x1="1566.29" y1="1126.13" x2="1566.29" y2="1128.05" stroke="#1c1a1b" stroke-width="1.25"/>
<line x1="1557.99" y1="972.13" x2="1574.59" y2="972.13" stroke="#1c1a1b" stroke-width="1.25"/>
<line x1="1557.99" y1="1128.05" x2="1574.59" y2="1128.05" stroke="#1c1a1b" stroke-width="1.25"/>
<rect x="1550.64" y="1062.23" width="31.3" height="63.9" fill="#e1f1f6" stroke="#1c1a1b" stroke-width="1.25"/>
<line x1="1550.64" y1="1106.32" x2="1581.94" y2="1106.32" stroke="#1c1a1b" stroke-width="1.25"/>
<line x1="1605.27" y1="921.64" x2="1605.27" y2="1042.42" stroke="#1c1a1b" stroke-width="1.25"/>
<line x1="1605.27" y1="1122.62" x2="1605.27" y2="1128.05" stroke="#1c1a1b" stroke-width="1.25"/>
<line x1="1596.97" y1="921.64" x2="1613.57" y2="921.64" stroke="#1c1a1b" stroke-width="1.25"/>
<line x1="1596.97" y1="1128.05" x2="1613.57" y2="1128.05" stroke="#1c1a1b" stroke-width="1.25"/>
<rect x="1589.62" y="1042.42" width="31.3" height="80.2" fill="#bde3dc" stroke="#1c1a1b" stroke-width="1.25"/>
<line x1="1589.62" y1="1092.27" x2="1620.92" y2="1092.27" stroke="#1c1a1b" stroke-width="1.25"/>
<line x1="1644.25" y1="905.03" x2="1644.25" y2="1031.88" stroke="#1c1a1b" stroke-width="1.25"/>
<line x1="1644.25" y1="1116.87" x2="1644.25" y2="1128.05" stroke="#1c1a1b" stroke-width="1.25"/>
<line x1="1635.95" y1="905.03" x2="1652.55" y2="905.03" stroke="#1c1a1b" stroke-width="1.25"/>
<line x1="1635.95" y1="1128.05" x2="1652.55" y2="1128.05" stroke="#1c1a1b" stroke-width="1.25"/>
<rect x="1628.6" y="1031.88" width="31.3" height="84.99" fill="#86ccb7" stroke="#1c1a1b" stroke-width="1.25"/>
<line x1="1628.6" y1="1083.96" x2="1659.9" y2="1083.96" stroke="#1c1a1b" stroke-width="1.25"/>
<line x1="1683.23" y1="922.28" x2="1683.23" y2="1040.5" stroke="#1c1a1b" stroke-width="1.25"/>
<line x1="1683.23" y1="1122.94" x2="1683.23" y2="1128.05" stroke="#1c1a1b" stroke-width="1.25"/>
<line x1="1674.93" y1="922.28" x2="1691.53" y2="922.28" stroke="#1c1a1b" stroke-width="1.25"/>
<line x1="1674.93" y1="1128.05" x2="1691.53" y2="1128.05" stroke="#1c1a1b" stroke-width="1.25"/>
<rect x="1667.58" y="1040.5" width="31.3" height="82.44" fill="#f39323" stroke="#1c1a1b" stroke-width="1.25"/>
<line x1="1667.58" y1="1091.63" x2="1698.88" y2="1091.63" stroke="#1c1a1b" stroke-width="1.25"/>
<line x1="1722.21" y1="907.26" x2="1722.21" y2="1028.36" stroke="#1c1a1b" stroke-width="1.25"/>
<line x1="1722.21" y1="1112.4" x2="1722.21" y2="1128.05" stroke="#1c1a1b" stroke-width="1.25"/>
<line x1="1713.91" y1="907.26" x2="1730.51" y2="907.26" stroke="#1c1a1b" stroke-width="1.25"/>
<line x1="1713.91" y1="1128.05" x2="1730.51" y2="1128.05" stroke="#1c1a1b" stroke-width="1.25"/>
<rect x="1706.56" y="1028.36" width="31.3" height="84.03" fill="#2e955a" stroke="#1c1a1b" stroke-width="1.25"/>
<line x1="1706.56" y1="1078.21" x2="1737.86" y2="1078.21" stroke="#1c1a1b" stroke-width="1.25"/>
<line x1="1761.2" y1="882.34" x2="1761.2" y2="1015.9" stroke="#1c1a1b" stroke-width="1.25"/>
<line x1="1761.2" y1="1110.8" x2="1761.2" y2="1128.05" stroke="#1c1a1b" stroke-width="1.25"/>
<line x1="1752.9" y1="882.34" x2="1769.5" y2="882.34" stroke="#1c1a1b" stroke-width="1.25"/>
<line x1="1752.9" y1="1128.05" x2="1769.5" y2="1128.05" stroke="#1c1a1b" stroke-width="1.25"/>
<rect x="1745.55" y="1015.9" width="31.3" height="94.9" fill="#07703d" stroke="#1c1a1b" stroke-width="1.25"/>
<line x1="1745.55" y1="1078.53" x2="1776.85" y2="1078.53" stroke="#1c1a1b" stroke-width="1.25"/>
<line x1="1566.29" y1="1128.69" x2="1566.29" y2="1137.64" stroke="#1c1a1b" stroke-width="1.25"/>
<line x1="1605.27" y1="1128.69" x2="1605.27" y2="1137.64" stroke="#1c1a1b" stroke-width="1.25"/>
<line x1="1644.25" y1="1128.69" x2="1644.25" y2="1137.64" stroke="#1c1a1b" stroke-width="1.25"/>
<line x1="1683.23" y1="1128.69" x2="1683.23" y2="1137.64" stroke="#1c1a1b" stroke-width="1.25"/>
<line x1="1722.21" y1="1128.69" x2="1722.21" y2="1137.64" stroke="#1c1a1b" stroke-width="1.25"/>
<line x1="1761.2" y1="1128.69" x2="1761.2" y2="1137.64" stroke="#1c1a1b" stroke-width="1.25"/>
<text font-size="19.5" text-anchor="end" textLength="37.94" lengthAdjust="spacingAndGlyphs" transform="translate(1571.59 1145.3) rotate(-90)">Min.</text>
<text font-size="19.5" text-anchor="end" textLength="36.85" lengthAdjust="spacingAndGlyphs" transform="translate(1610.57 1145.3) rotate(-90)">Low</text>
<text font-size="19.5" text-anchor="end" textLength="44.65" lengthAdjust="spacingAndGlyphs" transform="translate(1649.55 1145.3) rotate(-90)">Med.</text>
<text font-size="19.5" text-anchor="end" textLength="53.58" lengthAdjust="spacingAndGlyphs" transform="translate(1688.53 1145.3) rotate(-90)">Mixed</text>
<text font-size="19.5" text-anchor="end" textLength="41.31" lengthAdjust="spacingAndGlyphs" transform="translate(1727.51 1145.3) rotate(-90)">High</text>
<text font-size="19.5" text-anchor="end" textLength="43.52" lengthAdjust="spacingAndGlyphs" transform="translate(1766.5 1145.3) rotate(-90)">Max.</text>
<text x="1610.7" y="872.4" font-size="19.5" textLength="73.19" lengthAdjust="spacingAndGlyphs">1.97 × 10</text>
<text x="1683.89" y="864.4" font-size="12.8" textLength="19.41" lengthAdjust="spacingAndGlyphs">−14</text>
<text font-size="22.5" text-anchor="middle" textLength="206" lengthAdjust="spacingAndGlyphs" transform="translate(1503.7 997) rotate(-90)">Anchor mean FPKM</text>
<text font-size="22" text-anchor="middle" textLength="200" lengthAdjust="spacingAndGlyphs" x="1663.8" y="1223.9">NIPBL dependency</text>
</g>
<g id="pf">
<text font-size="40" font-weight="700" style="fill:#000" stroke="#000" stroke-width="1.0" stroke-linejoin="round" textLength="15" lengthAdjust="spacingAndGlyphs" x="0" y="1588.3">f</text>
<text font-size="22.5" text-anchor="middle" textLength="177.8" lengthAdjust="spacingAndGlyphs" x="151.5" y="1621.6">Fold-enrichment</text>
<defs><linearGradient id="fb" x1="0" y1="0" x2="1" y2="0"><stop offset="0" stop-color="#f7fbff"/><stop offset="0.125" stop-color="#deebf7"/><stop offset="0.25" stop-color="#c6dbef"/><stop offset="0.375" stop-color="#9ecae1"/><stop offset="0.5" stop-color="#6baed6"/><stop offset="0.625" stop-color="#4292c6"/><stop offset="0.75" stop-color="#2171b5"/><stop offset="0.875" stop-color="#08519c"/><stop offset="1" stop-color="#262e68"/></linearGradient></defs>
<rect x="43.3" y="1636.6" width="217" height="21.6" fill="url(#fb)" stroke="#231f20" stroke-width="1.2"/>
<line x1="97.2" y1="1658.2" x2="97.2" y2="1666.8" stroke="#1c1a1b" stroke-width="1.25"/>
<text font-size="19.5" text-anchor="middle" textLength="11.17" lengthAdjust="spacingAndGlyphs" x="97.2" y="1691.5">2</text>
<line x1="151.8" y1="1658.2" x2="151.8" y2="1666.8" stroke="#1c1a1b" stroke-width="1.25"/>
<text font-size="19.5" text-anchor="middle" textLength="11.17" lengthAdjust="spacingAndGlyphs" x="151.8" y="1691.5">4</text>
<line x1="206.1" y1="1658.2" x2="206.1" y2="1666.8" stroke="#1c1a1b" stroke-width="1.25"/>
<text font-size="19.5" text-anchor="middle" textLength="11.17" lengthAdjust="spacingAndGlyphs" x="206.1" y="1691.5">6</text>
<line x1="260" y1="1658.2" x2="260" y2="1666.8" stroke="#1c1a1b" stroke-width="1.25"/>
<text font-size="19.5" text-anchor="middle" textLength="11.17" lengthAdjust="spacingAndGlyphs" x="260" y="1691.5">8</text>
<text font-size="22.5" textLength="100.5" lengthAdjust="spacingAndGlyphs" transform="translate(302.76 1683.8) rotate(-90)">Min.-dep.</text>
<text font-size="22.5" textLength="97.9" lengthAdjust="spacingAndGlyphs" transform="translate(338.81 1683.8) rotate(-90)">Low-dep.</text>
<text font-size="22.5" textLength="107.2" lengthAdjust="spacingAndGlyphs" transform="translate(374.86 1683.8) rotate(-90)">Med.-dep.</text>
<text font-size="22.5" textLength="118.8" lengthAdjust="spacingAndGlyphs" transform="translate(410.91 1683.8) rotate(-90)">Mixed-dep.</text>
<text font-size="22.5" textLength="103.9" lengthAdjust="spacingAndGlyphs" transform="translate(446.96 1683.8) rotate(-90)">High-dep.</text>
<text font-size="22.5" textLength="104.5" lengthAdjust="spacingAndGlyphs" transform="translate(483.01 1683.8) rotate(-90)">Max.-dep.</text>
<rect x="277" y="1705.6" width="36.45" height="36.45" fill="#6aabd6"/>
<rect x="313.05" y="1705.6" width="36.45" height="36.45" fill="#4b97ca"/>
<rect x="349.1" y="1705.6" width="36.45" height="36.45" fill="#3888c1"/>
<rect x="385.15" y="1705.6" width="36.45" height="36.45" fill="#9bc7e0"/>
<rect x="421.2" y="1705.6" width="36.45" height="36.45" fill="#4590c5"/>
<rect x="457.25" y="1705.6" width="36.45" height="36.45" fill="#3c8ac3"/>
<rect x="277" y="1741.65" width="36.45" height="36.45" fill="#68a9d5"/>
<rect x="313.05" y="1741.65" width="36.45" height="36.45" fill="#5ba0cf"/>
<rect x="349.1" y="1741.65" width="36.45" height="36.45" fill="#4592c7"/>
<rect x="385.15" y="1741.65" width="36.45" height="36.45" fill="#a2cae3"/>
<rect x="421.2" y="1741.65" width="36.45" height="36.45" fill="#559ccd"/>
<rect x="457.25" y="1741.65" width="36.45" height="36.45" fill="#5299cb"/>
<rect x="277" y="1777.7" width="36.45" height="36.45" fill="#8dbede"/>
<rect x="313.05" y="1777.7" width="36.45" height="36.45" fill="#82b7da"/>
<rect x="349.1" y="1777.7" width="36.45" height="36.45" fill="#74b0d7"/>
<rect x="385.15" y="1777.7" width="36.45" height="36.45" fill="#a9cfe5"/>
<rect x="421.2" y="1777.7" width="36.45" height="36.45" fill="#84b9da"/>
<rect x="457.25" y="1777.7" width="36.45" height="36.45" fill="#94c3de"/>
<rect x="277" y="1813.75" width="36.45" height="36.45" fill="#233266"/>
<rect x="313.05" y="1813.75" width="36.45" height="36.45" fill="#2d7bb8"/>
<rect x="349.1" y="1813.75" width="36.45" height="36.45" fill="#6aacd6"/>
<rect x="385.15" y="1813.75" width="36.45" height="36.45" fill="#a9cee4"/>
<rect x="421.2" y="1813.75" width="36.45" height="36.45" fill="#8dbedd"/>
<rect x="457.25" y="1813.75" width="36.45" height="36.45" fill="#a3cbe2"/>
<rect x="277" y="1849.8" width="36.45" height="36.45" fill="#2474b6"/>
<rect x="313.05" y="1849.8" width="36.45" height="36.45" fill="#66a9d4"/>
<rect x="349.1" y="1849.8" width="36.45" height="36.45" fill="#96c4df"/>
<rect x="385.15" y="1849.8" width="36.45" height="36.45" fill="#c1d7eb"/>
<rect x="421.2" y="1849.8" width="36.45" height="36.45" fill="#abcee4"/>
<rect x="457.25" y="1849.8" width="36.45" height="36.45" fill="#afd0e5"/>
<rect x="277" y="1885.85" width="36.45" height="36.45" fill="#a2cae3"/>
<rect x="313.05" y="1885.85" width="36.45" height="36.45" fill="#b4d2e7"/>
<rect x="349.1" y="1885.85" width="36.45" height="36.45" fill="#bad6ea"/>
<rect x="385.15" y="1885.85" width="36.45" height="36.45" fill="#cfdfef"/>
<rect x="421.2" y="1885.85" width="36.45" height="36.45" fill="#c2d7ea"/>
<rect x="457.25" y="1885.85" width="36.45" height="36.45" fill="#bad5e8"/>
<rect x="277" y="1921.9" width="36.45" height="36.45" fill="#dae7f4"/>
<rect x="313.05" y="1921.9" width="36.45" height="36.45" fill="#cadded"/>
<rect x="349.1" y="1921.9" width="36.45" height="36.45" fill="#aed1e6"/>
<rect x="385.15" y="1921.9" width="36.45" height="36.45" fill="#cedfee"/>
<rect x="421.2" y="1921.9" width="36.45" height="36.45" fill="#a5cde3"/>
<rect x="457.25" y="1921.9" width="36.45" height="36.45" fill="#8dbfde"/>
<rect x="277" y="1957.95" width="36.45" height="36.45" fill="#eff4fb"/>
<rect x="313.05" y="1957.95" width="36.45" height="36.45" fill="#e8f0f8"/>
<rect x="349.1" y="1957.95" width="36.45" height="36.45" fill="#dfe9f5"/>
<rect x="385.15" y="1957.95" width="36.45" height="36.45" fill="#e3edf7"/>
<rect x="421.2" y="1957.95" width="36.45" height="36.45" fill="#d4e4f2"/>
<rect x="457.25" y="1957.95" width="36.45" height="36.45" fill="#c4daee"/>
<rect x="277" y="1994" width="36.45" height="36.45" fill="#0d56a0"/>
<rect x="313.05" y="1994" width="36.45" height="36.45" fill="#3b8ac3"/>
<rect x="349.1" y="1994" width="36.45" height="36.45" fill="#4592c7"/>
<rect x="385.15" y="1994" width="36.45" height="36.45" fill="#2676b8"/>
<rect x="421.2" y="1994" width="36.45" height="36.45" fill="#3e8cc4"/>
<rect x="457.25" y="1994" width="36.45" height="36.45" fill="#1865ab"/>
<rect x="277" y="2030.05" width="36.45" height="36.45" fill="#e1ebf6"/>
<rect x="313.05" y="2030.05" width="36.45" height="36.45" fill="#dbe8f5"/>
<rect x="349.1" y="2030.05" width="36.45" height="36.45" fill="#e6eff8"/>
<rect x="385.15" y="2030.05" width="36.45" height="36.45" fill="#cddef0"/>
<rect x="421.2" y="2030.05" width="36.45" height="36.45" fill="#ebf1fa"/>
<rect x="457.25" y="2030.05" width="36.45" height="36.45" fill="#eaf1f9"/>
<rect x="277" y="2066.1" width="36.45" height="36.45" fill="#f8fbfe"/>
<rect x="313.05" y="2066.1" width="36.45" height="36.45" fill="#f5f9fd"/>
<rect x="349.1" y="2066.1" width="36.45" height="36.45" fill="#f5f9fd"/>
<rect x="385.15" y="2066.1" width="36.45" height="36.45" fill="#f5f9fd"/>
<rect x="421.2" y="2066.1" width="36.45" height="36.45" fill="#f5f9fd"/>
<rect x="457.25" y="2066.1" width="36.45" height="36.45" fill="#f8fbfe"/>
<rect x="277" y="2102.15" width="36.45" height="36.45" fill="#e1ebf6"/>
<rect x="313.05" y="2102.15" width="36.45" height="36.45" fill="#dfeaf6"/>
<rect x="349.1" y="2102.15" width="36.45" height="36.45" fill="#dde9f5"/>
<rect x="385.15" y="2102.15" width="36.45" height="36.45" fill="#dfe9f5"/>
<rect x="421.2" y="2102.15" width="36.45" height="36.45" fill="#dce7f3"/>
<rect x="457.25" y="2102.15" width="36.45" height="36.45" fill="#dfe9f5"/>
<rect x="277.2" y="1705.8" width="216.3" height="432.6" fill="none" stroke="#231f20" stroke-width="1.3"/>
<line x1="294.86" y1="1695.2" x2="294.86" y2="1705.8" stroke="#1c1a1b" stroke-width="1.25"/>
<line x1="330.91" y1="1695.2" x2="330.91" y2="1705.8" stroke="#1c1a1b" stroke-width="1.25"/>
<line x1="366.96" y1="1695.2" x2="366.96" y2="1705.8" stroke="#1c1a1b" stroke-width="1.25"/>
<line x1="403.01" y1="1695.2" x2="403.01" y2="1705.8" stroke="#1c1a1b" stroke-width="1.25"/>
<line x1="439.06" y1="1695.2" x2="439.06" y2="1705.8" stroke="#1c1a1b" stroke-width="1.25"/>
<line x1="475.11" y1="1695.2" x2="475.11" y2="1705.8" stroke="#1c1a1b" stroke-width="1.25"/>
<line x1="266.2" y1="1723.83" x2="277.2" y2="1723.83" stroke="#1c1a1b" stroke-width="1.25"/>
<text font-size="22.5" text-anchor="end" textLength="91.8" lengthAdjust="spacingAndGlyphs" x="248.6" y="1731.53">Active P.</text>
<line x1="266.2" y1="1759.88" x2="277.2" y2="1759.88" stroke="#1c1a1b" stroke-width="1.25"/>
<text font-size="22.5" text-anchor="end" textLength="162.1" lengthAdjust="spacingAndGlyphs" x="248.6" y="1767.58">Intermediate P.</text>
<line x1="266.2" y1="1795.92" x2="277.2" y2="1795.92" stroke="#1c1a1b" stroke-width="1.25"/>
<text font-size="22.5" text-anchor="end" textLength="83" lengthAdjust="spacingAndGlyphs" x="248.6" y="1803.62">Weak P.</text>
<line x1="266.2" y1="1831.97" x2="277.2" y2="1831.97" stroke="#1c1a1b" stroke-width="1.25"/>
<text font-size="22.5" text-anchor="end" textLength="97.7" lengthAdjust="spacingAndGlyphs" x="248.6" y="1839.67">Strong E.</text>
<line x1="266.2" y1="1868.02" x2="277.2" y2="1868.02" stroke="#1c1a1b" stroke-width="1.25"/>
<text font-size="22.5" text-anchor="end" textLength="162.1" lengthAdjust="spacingAndGlyphs" x="248.6" y="1875.72">Intermediate E.</text>
<line x1="266.2" y1="1904.07" x2="277.2" y2="1904.07" stroke="#1c1a1b" stroke-width="1.25"/>
<text font-size="22.5" text-anchor="end" textLength="165" lengthAdjust="spacingAndGlyphs" x="248.6" y="1911.77">Weak/poised E.</text>
<line x1="266.2" y1="1940.12" x2="277.2" y2="1940.12" stroke="#1c1a1b" stroke-width="1.25"/>
<text font-size="22.5" text-anchor="end" textLength="144" lengthAdjust="spacingAndGlyphs" x="248.6" y="1947.83">Txn transition</text>
<line x1="266.2" y1="1976.17" x2="277.2" y2="1976.17" stroke="#1c1a1b" stroke-width="1.25"/>
<text font-size="22.5" text-anchor="end" textLength="157.7" lengthAdjust="spacingAndGlyphs" x="248.6" y="1983.88">Txn elongation</text>
<line x1="266.2" y1="2012.22" x2="277.2" y2="2012.22" stroke="#1c1a1b" stroke-width="1.25"/>
<text font-size="22.5" text-anchor="end" textLength="92.8" lengthAdjust="spacingAndGlyphs" x="248.6" y="2019.92">Insulator</text>
<line x1="266.2" y1="2048.28" x2="277.2" y2="2048.28" stroke="#1c1a1b" stroke-width="1.25"/>
<text font-size="22.5" text-anchor="end" textLength="114.7" lengthAdjust="spacingAndGlyphs" x="248.6" y="2055.97">Repressive</text>
<line x1="266.2" y1="2084.32" x2="277.2" y2="2084.32" stroke="#1c1a1b" stroke-width="1.25"/>
<text font-size="22.5" text-anchor="end" textLength="182.1" lengthAdjust="spacingAndGlyphs" x="248.6" y="2092.02">Heterochromatin</text>
<line x1="266.2" y1="2120.38" x2="277.2" y2="2120.38" stroke="#1c1a1b" stroke-width="1.25"/>
<text font-size="22.5" text-anchor="end" textLength="113.3" lengthAdjust="spacingAndGlyphs" x="248.6" y="2128.07">Low signal</text>
<rect x="277" y="2175.3" width="36.45" height="36.45" fill="#c1d7eb"/>
<rect x="313.05" y="2175.3" width="36.45" height="36.45" fill="#a8cde4"/>
<rect x="349.1" y="2175.3" width="36.45" height="36.45" fill="#98c5df"/>
<rect x="385.15" y="2175.3" width="36.45" height="36.45" fill="#a2cae2"/>
<rect x="421.2" y="2175.3" width="36.45" height="36.45" fill="#6aabd6"/>
<rect x="457.25" y="2175.3" width="36.45" height="36.45" fill="#4f99cb"/>
<rect x="277" y="2211.35" width="36.45" height="36.45" fill="#b0d0e6"/>
<rect x="313.05" y="2211.35" width="36.45" height="36.45" fill="#a6cce3"/>
<rect x="349.1" y="2211.35" width="36.45" height="36.45" fill="#94c3de"/>
<rect x="385.15" y="2211.35" width="36.45" height="36.45" fill="#a0c9e1"/>
<rect x="421.2" y="2211.35" width="36.45" height="36.45" fill="#69aad5"/>
<rect x="457.25" y="2211.35" width="36.45" height="36.45" fill="#5ba1cf"/>
<rect x="277" y="2247.4" width="36.45" height="36.45" fill="#b0d0e6"/>
<rect x="313.05" y="2247.4" width="36.45" height="36.45" fill="#a0c9e1"/>
<rect x="349.1" y="2247.4" width="36.45" height="36.45" fill="#9cc7e0"/>
<rect x="385.15" y="2247.4" width="36.45" height="36.45" fill="#a4cbe2"/>
<rect x="421.2" y="2247.4" width="36.45" height="36.45" fill="#82b8da"/>
<rect x="457.25" y="2247.4" width="36.45" height="36.45" fill="#80b6d9"/>
<rect x="277" y="2283.45" width="36.45" height="36.45" fill="#08529f"/>
<rect x="313.05" y="2283.45" width="36.45" height="36.45" fill="#2d7bba"/>
<rect x="349.1" y="2283.45" width="36.45" height="36.45" fill="#2f7dbb"/>
<rect x="385.15" y="2283.45" width="36.45" height="36.45" fill="#529bcc"/>
<rect x="421.2" y="2283.45" width="36.45" height="36.45" fill="#1966ad"/>
<rect x="457.25" y="2283.45" width="36.45" height="36.45" fill="#232f66"/>
<rect x="277" y="2319.5" width="36.45" height="36.45" fill="#1d4285"/>
<rect x="313.05" y="2319.5" width="36.45" height="36.45" fill="#2c7ab9"/>
<rect x="349.1" y="2319.5" width="36.45" height="36.45" fill="#2573b6"/>
<rect x="385.15" y="2319.5" width="36.45" height="36.45" fill="#549ccd"/>
<rect x="421.2" y="2319.5" width="36.45" height="36.45" fill="#1865ac"/>
<rect x="457.25" y="2319.5" width="36.45" height="36.45" fill="#114a92"/>
<rect x="277" y="2355.55" width="36.45" height="36.45" fill="#3b8ac3"/>
<rect x="313.05" y="2355.55" width="36.45" height="36.45" fill="#559dcd"/>
<rect x="349.1" y="2355.55" width="36.45" height="36.45" fill="#3c8bc3"/>
<rect x="385.15" y="2355.55" width="36.45" height="36.45" fill="#71afd7"/>
<rect x="421.2" y="2355.55" width="36.45" height="36.45" fill="#2473b6"/>
<rect x="457.25" y="2355.55" width="36.45" height="36.45" fill="#0a549f"/>
<rect x="277" y="2391.6" width="36.45" height="36.45" fill="#bad5e9"/>
<rect x="313.05" y="2391.6" width="36.45" height="36.45" fill="#c1d7eb"/>
<rect x="349.1" y="2391.6" width="36.45" height="36.45" fill="#8fc0de"/>
<rect x="385.15" y="2391.6" width="36.45" height="36.45" fill="#70aed6"/>
<rect x="421.2" y="2391.6" width="36.45" height="36.45" fill="#4592c7"/>
<rect x="457.25" y="2391.6" width="36.45" height="36.45" fill="#19478b"/>
<rect x="277" y="2427.65" width="36.45" height="36.45" fill="#e6eef9"/>
<rect x="313.05" y="2427.65" width="36.45" height="36.45" fill="#d6e5f3"/>
<rect x="349.1" y="2427.65" width="36.45" height="36.45" fill="#c2d8ec"/>
<rect x="385.15" y="2427.65" width="36.45" height="36.45" fill="#aacfe5"/>
<rect x="421.2" y="2427.65" width="36.45" height="36.45" fill="#82b9da"/>
<rect x="457.25" y="2427.65" width="36.45" height="36.45" fill="#4a96c9"/>
<rect x="277" y="2463.7" width="36.45" height="36.45" fill="#5ea3d0"/>
<rect x="313.05" y="2463.7" width="36.45" height="36.45" fill="#7ab4d9"/>
<rect x="349.1" y="2463.7" width="36.45" height="36.45" fill="#7fb7da"/>
<rect x="385.15" y="2463.7" width="36.45" height="36.45" fill="#85badb"/>
<rect x="421.2" y="2463.7" width="36.45" height="36.45" fill="#78b2d8"/>
<rect x="457.25" y="2463.7" width="36.45" height="36.45" fill="#75b1d7"/>
<rect x="277" y="2499.75" width="36.45" height="36.45" fill="#73b0d7"/>
<rect x="313.05" y="2499.75" width="36.45" height="36.45" fill="#5ca2cf"/>
<rect x="349.1" y="2499.75" width="36.45" height="36.45" fill="#93c3de"/>
<rect x="385.15" y="2499.75" width="36.45" height="36.45" fill="#569ecd"/>
<rect x="421.2" y="2499.75" width="36.45" height="36.45" fill="#bad5e9"/>
<rect x="457.25" y="2499.75" width="36.45" height="36.45" fill="#c1d6eb"/>
<rect x="277" y="2535.8" width="36.45" height="36.45" fill="#dde8f5"/>
<rect x="313.05" y="2535.8" width="36.45" height="36.45" fill="#cfdff0"/>
<rect x="349.1" y="2535.8" width="36.45" height="36.45" fill="#e9f0f9"/>
<rect x="385.15" y="2535.8" width="36.45" height="36.45" fill="#9fc9e1"/>
<rect x="421.2" y="2535.8" width="36.45" height="36.45" fill="#eef4fb"/>
<rect x="457.25" y="2535.8" width="36.45" height="36.45" fill="#f8fbfe"/>
<rect x="277" y="2571.85" width="36.45" height="36.45" fill="#7ab4d9"/>
<rect x="313.05" y="2571.85" width="36.45" height="36.45" fill="#8bbedd"/>
<rect x="349.1" y="2571.85" width="36.45" height="36.45" fill="#6fafd6"/>
<rect x="385.15" y="2571.85" width="36.45" height="36.45" fill="#a4cbe2"/>
<rect x="421.2" y="2571.85" width="36.45" height="36.45" fill="#78b3d8"/>
<rect x="457.25" y="2571.85" width="36.45" height="36.45" fill="#80b7d9"/>
<rect x="277.2" y="2175.5" width="216.3" height="432.6" fill="none" stroke="#231f20" stroke-width="1.3"/>
<line x1="294.86" y1="2164.9" x2="294.86" y2="2175.5" stroke="#1c1a1b" stroke-width="1.25"/>
<line x1="330.91" y1="2164.9" x2="330.91" y2="2175.5" stroke="#1c1a1b" stroke-width="1.25"/>
<line x1="366.96" y1="2164.9" x2="366.96" y2="2175.5" stroke="#1c1a1b" stroke-width="1.25"/>
<line x1="403.01" y1="2164.9" x2="403.01" y2="2175.5" stroke="#1c1a1b" stroke-width="1.25"/>
<line x1="439.06" y1="2164.9" x2="439.06" y2="2175.5" stroke="#1c1a1b" stroke-width="1.25"/>
<line x1="475.11" y1="2164.9" x2="475.11" y2="2175.5" stroke="#1c1a1b" stroke-width="1.25"/>
<line x1="266.2" y1="2193.53" x2="277.2" y2="2193.53" stroke="#1c1a1b" stroke-width="1.25"/>
<text font-size="22.5" text-anchor="end" textLength="91.8" lengthAdjust="spacingAndGlyphs" x="248.6" y="2201.22">Active P.</text>
<line x1="266.2" y1="2229.57" x2="277.2" y2="2229.57" stroke="#1c1a1b" stroke-width="1.25"/>
<text font-size="22.5" text-anchor="end" textLength="162.1" lengthAdjust="spacingAndGlyphs" x="248.6" y="2237.27">Intermediate P.</text>
<line x1="266.2" y1="2265.62" x2="277.2" y2="2265.62" stroke="#1c1a1b" stroke-width="1.25"/>
<text font-size="22.5" text-anchor="end" textLength="83" lengthAdjust="spacingAndGlyphs" x="248.6" y="2273.32">Weak P.</text>
<line x1="266.2" y1="2301.68" x2="277.2" y2="2301.68" stroke="#1c1a1b" stroke-width="1.25"/>
<text font-size="22.5" text-anchor="end" textLength="97.7" lengthAdjust="spacingAndGlyphs" x="248.6" y="2309.38">Strong E.</text>
<line x1="266.2" y1="2337.72" x2="277.2" y2="2337.72" stroke="#1c1a1b" stroke-width="1.25"/>
<text font-size="22.5" text-anchor="end" textLength="162.1" lengthAdjust="spacingAndGlyphs" x="248.6" y="2345.42">Intermediate E.</text>
<line x1="266.2" y1="2373.78" x2="277.2" y2="2373.78" stroke="#1c1a1b" stroke-width="1.25"/>
<text font-size="22.5" text-anchor="end" textLength="165" lengthAdjust="spacingAndGlyphs" x="248.6" y="2381.47">Weak/poised E.</text>
<line x1="266.2" y1="2409.82" x2="277.2" y2="2409.82" stroke="#1c1a1b" stroke-width="1.25"/>
<text font-size="22.5" text-anchor="end" textLength="144" lengthAdjust="spacingAndGlyphs" x="248.6" y="2417.52">Txn transition</text>
<line x1="266.2" y1="2445.88" x2="277.2" y2="2445.88" stroke="#1c1a1b" stroke-width="1.25"/>
<text font-size="22.5" text-anchor="end" textLength="157.7" lengthAdjust="spacingAndGlyphs" x="248.6" y="2453.57">Txn elongation</text>
<line x1="266.2" y1="2481.93" x2="277.2" y2="2481.93" stroke="#1c1a1b" stroke-width="1.25"/>
<text font-size="22.5" text-anchor="end" textLength="92.8" lengthAdjust="spacingAndGlyphs" x="248.6" y="2489.62">Insulator</text>
<line x1="266.2" y1="2517.97" x2="277.2" y2="2517.97" stroke="#1c1a1b" stroke-width="1.25"/>
<text font-size="22.5" text-anchor="end" textLength="114.7" lengthAdjust="spacingAndGlyphs" x="248.6" y="2525.67">Repressive</text>
<line x1="266.2" y1="2554.03" x2="277.2" y2="2554.03" stroke="#1c1a1b" stroke-width="1.25"/>
<text font-size="22.5" text-anchor="end" textLength="182.1" lengthAdjust="spacingAndGlyphs" x="248.6" y="2561.72">Heterochromatin</text>
<line x1="266.2" y1="2590.07" x2="277.2" y2="2590.07" stroke="#1c1a1b" stroke-width="1.25"/>
<text font-size="22.5" text-anchor="end" textLength="113.3" lengthAdjust="spacingAndGlyphs" x="248.6" y="2597.77">Low signal</text>
<text font-size="22.5" text-anchor="middle" textLength="145" lengthAdjust="spacingAndGlyphs" transform="translate(510.4 1923) rotate(90)">Loop anchors</text>
<text font-size="22.5" text-anchor="middle" textLength="110.7" lengthAdjust="spacingAndGlyphs" transform="translate(510.6 2392) rotate(90)">Loop span</text>
<text font-size="22.5" text-anchor="middle" textLength="176.8" lengthAdjust="spacingAndGlyphs" x="385.5" y="2634.9">Fold-enrichment</text>
<rect x="277.4" y="2643.5" width="216.5" height="21" fill="url(#fb)" stroke="#231f20" stroke-width="1.2"/>
<line x1="313.4" y1="2664.5" x2="313.4" y2="2673.4" stroke="#1c1a1b" stroke-width="1.25"/>
<text font-size="19.5" text-anchor="middle" textLength="27.92" lengthAdjust="spacingAndGlyphs" x="313.4" y="2697">0.5</text>
<line x1="362.8" y1="2664.5" x2="362.8" y2="2673.4" stroke="#1c1a1b" stroke-width="1.25"/>
<text font-size="19.5" text-anchor="middle" textLength="27.92" lengthAdjust="spacingAndGlyphs" x="362.8" y="2697">1.0</text>
<line x1="412.4" y1="2664.5" x2="412.4" y2="2673.4" stroke="#1c1a1b" stroke-width="1.25"/>
<text font-size="19.5" text-anchor="middle" textLength="27.92" lengthAdjust="spacingAndGlyphs" x="412.4" y="2697">1.5</text>
<line x1="462.1" y1="2664.5" x2="462.1" y2="2673.4" stroke="#1c1a1b" stroke-width="1.25"/>
<text font-size="19.5" text-anchor="middle" textLength="27.92" lengthAdjust="spacingAndGlyphs" x="462.1" y="2697">2.0</text>
</g>
<g id="pg">
<text font-size="36.5" font-weight="700" style="fill:#000" stroke="#000" stroke-width="1.0" stroke-linejoin="round" textLength="24" lengthAdjust="spacingAndGlyphs" x="605.8" y="1581.9">g</text>
<line x1="698.2" y1="1587.6" x2="720.5" y2="1587.6" stroke="#e1f1f6" stroke-width="1.7"/>
<text font-size="23" textLength="43.3" lengthAdjust="spacingAndGlyphs" x="730.8" y="1595">Min.</text>
<line x1="839" y1="1587.6" x2="860.7" y2="1587.6" stroke="#bde3dc" stroke-width="1.7"/>
<text font-size="23" textLength="42.3" lengthAdjust="spacingAndGlyphs" x="870.6" y="1595">Low</text>
<line x1="970.2" y1="1587.6" x2="992.2" y2="1587.6" stroke="#86ccb7" stroke-width="1.7"/>
<text font-size="23" textLength="51.6" lengthAdjust="spacingAndGlyphs" x="1005.5" y="1595">Med.</text>
<line x1="1118.2" y1="1587.6" x2="1140.6" y2="1587.6" stroke="#f39323" stroke-width="1.7"/>
<text font-size="23" textLength="63.6" lengthAdjust="spacingAndGlyphs" x="1151" y="1595">Mixed</text>
<line x1="1278.5" y1="1587.6" x2="1300.5" y2="1587.6" stroke="#2e955a" stroke-width="1.7"/>
<text font-size="23" textLength="49.8" lengthAdjust="spacingAndGlyphs" x="1310.4" y="1595">High</text>
<line x1="1419.3" y1="1587.6" x2="1441.6" y2="1587.6" stroke="#07703d" stroke-width="1.7"/>
<text font-size="23" textLength="49.5" lengthAdjust="spacingAndGlyphs" x="1451.5" y="1595">Max.</text>
<text font-size="22.5" text-anchor="middle" textLength="115.5" lengthAdjust="spacingAndGlyphs" x="760.55" y="1633.2">H3K27me3</text>
<text font-size="22.5" text-anchor="middle" textLength="104.5" lengthAdjust="spacingAndGlyphs" x="987.95" y="1633.2">H3K4me3</text>
<text font-size="22.5" text-anchor="middle" textLength="94.3" lengthAdjust="spacingAndGlyphs" x="1215.15" y="1633.2">H3K27ac</text>
<text font-size="22.5" text-anchor="middle" textLength="82.6" lengthAdjust="spacingAndGlyphs" x="1442.75" y="1633.2">H3K9ac</text>
<path d="M670.2 1684.77 671.71 1685.19 673.21 1684.81 674.72 1684.27 676.22 1683.88 677.73 1684.23 679.24 1683.95 680.74 1683.66 682.25 1684.29 683.75 1684.6 685.26 1684.98 686.76 1684.54 688.27 1684.78 689.78 1684.9 691.28 1684.35 692.79 1685.03 694.29 1685.32 695.8 1686.44 697.31 1686.06 698.81 1685.77 700.32 1686.29 701.82 1686.14 703.33 1686.45 704.83 1686.09 706.34 1686.24 707.85 1686.76 709.35 1686.95 710.86 1686.87 712.36 1686.39 713.87 1686.94 715.38 1687.16 716.88 1687.69 718.39 1687.87 719.89 1688.51 721.4 1688.49 722.9 1688.79 724.41 1689.36 725.92 1689.1 727.42 1689.54 728.93 1690.02 730.43 1691.72 731.94 1692.01 733.45 1692.92 734.95 1693.83 736.46 1694.43 737.96 1694.76 739.47 1696.74 740.97 1697.88 742.48 1699.83 743.99 1700.87 745.49 1702.89 747 1705.91 748.5 1708.92 750.01 1710.79 751.52 1713.51 753.02 1717.5 754.53 1722.15 756.03 1726.83 757.54 1732.19 759.04 1737.63 760.55 1744.84 762.06 1738.53 763.56 1732.1 765.07 1726.18 766.57 1721.52 768.08 1718.13 769.59 1713.76 771.09 1710.97 772.6 1707.97 774.1 1705.81 775.61 1703.77 777.11 1702.05 778.62 1701.15 780.13 1699.6 781.63 1698.69 783.14 1697.09 784.64 1695.73 786.15 1695.06 787.66 1692.97 789.16 1692.9 790.67 1692.72 792.17 1691.79 793.68 1691.91 795.18 1691.35 796.69 1690.08 798.2 1690.34 799.7 1690.03 801.21 1690 802.71 1690.08 804.22 1690.69 805.73 1690.43 807.23 1690.2 808.74 1690.24 810.24 1689.24 811.75 1690.1 813.25 1689.47 814.76 1689.83 816.27 1689.3 817.77 1689.1 819.28 1689.27 820.78 1690.38 822.29 1690.41 823.8 1689.85 825.3 1689.72 826.81 1689.29 828.31 1689.58 829.82 1689.51 831.32 1690.07 832.83 1689.43 834.34 1689.59 835.84 1689.47 837.35 1689.48 838.85 1690.15 840.36 1690.25 841.87 1690.52 843.37 1690.96 844.88 1691.18 846.38 1690.18 847.89 1690.56 849.39 1689.74 850.9 1690.12" fill="none" stroke="#e1f1f6" stroke-width="1.7" stroke-linejoin="round"/>
<path d="M670.2 1680.92 671.71 1680.12 673.21 1680.21 674.72 1680.15 676.22 1680.45 677.73 1679.61 679.24 1679.64 680.74 1679.53 682.25 1679.34 683.75 1679.36 685.26 1679.55 686.76 1679.76 688.27 1679.6 689.78 1680.15 691.28 1680.01 692.79 1678.77 694.29 1680.15 695.8 1680.16 697.31 1680.04 698.81 1680.47 700.32 1680.71 701.82 1680.79 703.33 1680.48 704.83 1680.84 706.34 1680.3 707.85 1681.44 709.35 1680.86 710.86 1681.13 712.36 1681.46 713.87 1681.82 715.38 1681.9 716.88 1682.39 718.39 1680.93 719.89 1681.89 721.4 1682.53 722.9 1682.93 724.41 1684.25 725.92 1684.03 727.42 1684.62 728.93 1684.37 730.43 1685.66 731.94 1685.87 733.45 1686.47 734.95 1689.09 736.46 1690.26 737.96 1691.22 739.47 1692.56 740.97 1693.38 742.48 1694.97 743.99 1697.57 745.49 1699 747 1702.25 748.5 1704.61 750.01 1708.5 751.52 1712 753.02 1717.44 754.53 1722.54 756.03 1727.46 757.54 1732.77 759.04 1739.87 760.55 1748.22 762.06 1739.98 763.56 1733.4 765.07 1727.74 766.57 1722.07 768.08 1716.97 769.59 1713.14 771.09 1709.11 772.6 1706.19 774.1 1702.94 775.61 1701.09 777.11 1698.33 778.62 1695.73 780.13 1694.2 781.63 1692.44 783.14 1690.83 784.64 1689.88 786.15 1689.36 787.66 1687.36 789.16 1686.98 790.67 1686.44 792.17 1685.89 793.68 1685.82 795.18 1684.61 796.69 1684.73 798.2 1684.22 799.7 1683.98 801.21 1683.58 802.71 1683.23 804.22 1682.87 805.73 1683.04 807.23 1683.83 808.74 1683.69 810.24 1683.47 811.75 1683.19 813.25 1682.53 814.76 1682.67 816.27 1683.38 817.77 1682.18 819.28 1682.53 820.78 1682.77 822.29 1682.54 823.8 1682.65 825.3 1682.98 826.81 1683.51 828.31 1683.36 829.82 1683.44 831.32 1682.88 832.83 1682.83 834.34 1682.5 835.84 1682.4 837.35 1682.01 838.85 1682.34 840.36 1682.86 841.87 1682.39 843.37 1682.35 844.88 1682.51 846.38 1682.32 847.89 1682.65 849.39 1682.52 850.9 1681.81" fill="none" stroke="#bde3dc" stroke-width="1.7" stroke-linejoin="round"/>
<path d="M670.2 1701.54 671.71 1702.09 673.21 1701.39 674.72 1701.91 676.22 1701.61 677.73 1701.47 679.24 1702.38 680.74 1702.05 682.25 1701.81 683.75 1702.04 685.26 1702.35 686.76 1701.99 688.27 1702.1 689.78 1701.46 691.28 1701.43 692.79 1701.4 694.29 1701 695.8 1700.73 697.31 1700.57 698.81 1701.14 700.32 1701.47 701.82 1701.6 703.33 1701.88 704.83 1701.41 706.34 1701.79 707.85 1702.16 709.35 1702.63 710.86 1702.2 712.36 1702.26 713.87 1701.63 715.38 1702.07 716.88 1701.63 718.39 1701.86 719.89 1703.22 721.4 1702.55 722.9 1703.72 724.41 1704.26 725.92 1704.43 727.42 1705.08 728.93 1705.68 730.43 1706.49 731.94 1706.64 733.45 1706.91 734.95 1707.44 736.46 1707.99 737.96 1709.21 739.47 1710.07 740.97 1712 742.48 1712.39 743.99 1713.79 745.49 1715.52 747 1716.97 748.5 1720.73 750.01 1722.08 751.52 1725.3 753.02 1728.61 754.53 1733.3 756.03 1736.32 757.54 1741.84 759.04 1746.77 760.55 1752.87 762.06 1746.62 763.56 1741.78 765.07 1736.52 766.57 1732.58 768.08 1729.21 769.59 1726.81 771.09 1722.46 772.6 1720.97 774.1 1719.01 775.61 1716.54 777.11 1714.92 778.62 1713.11 780.13 1712.57 781.63 1711.15 783.14 1709.8 784.64 1708.72 786.15 1707.85 787.66 1707.11 789.16 1706.16 790.67 1706.77 792.17 1705.07 793.68 1703.28 795.18 1703.79 796.69 1703.89 798.2 1704.05 799.7 1703.75 801.21 1703.54 802.71 1703.56 804.22 1703.78 805.73 1703.19 807.23 1702.87 808.74 1703.7 810.24 1703.43 811.75 1702.58 813.25 1703.61 814.76 1703.4 816.27 1702.65 817.77 1702 819.28 1702.31 820.78 1701.94 822.29 1701.64 823.8 1701.37 825.3 1701.58 826.81 1702.4 828.31 1702.11 829.82 1701.5 831.32 1702.15 832.83 1702.19 834.34 1702.56 835.84 1702.91 837.35 1702.46 838.85 1702.24 840.36 1702.18 841.87 1701.66 843.37 1702.21 844.88 1702.8 846.38 1702.56 847.89 1702.25 849.39 1702.09 850.9 1701.78" fill="none" stroke="#86ccb7" stroke-width="1.7" stroke-linejoin="round"/>
<path d="M670.2 1707.62 671.71 1707.37 673.21 1708.07 674.72 1707.09 676.22 1707.57 677.73 1706.86 679.24 1708.02 680.74 1708.2 682.25 1708.81 683.75 1708.29 685.26 1708.44 686.76 1708.21 688.27 1707.9 689.78 1708.15 691.28 1707.66 692.79 1707.83 694.29 1708.4 695.8 1708.41 697.31 1708.22 698.81 1709.32 700.32 1708.93 701.82 1708.46 703.33 1708.6 704.83 1708.39 706.34 1708.38 707.85 1708.43 709.35 1709.57 710.86 1709.29 712.36 1709.27 713.87 1709.55 715.38 1710.37 716.88 1709.86 718.39 1709.52 719.89 1710.85 721.4 1709.86 722.9 1710 724.41 1710.69 725.92 1711.94 727.42 1711.31 728.93 1710.56 730.43 1711.84 731.94 1712.23 733.45 1712.82 734.95 1713.88 736.46 1714.73 737.96 1715.67 739.47 1716.36 740.97 1718.1 742.48 1719.78 743.99 1720.75 745.49 1721.93 747 1724.08 748.5 1726.21 750.01 1727.91 751.52 1730.52 753.02 1734.2 754.53 1737.46 756.03 1741.16 757.54 1745.73 759.04 1750.72 760.55 1756.4 762.06 1749.84 763.56 1746.04 765.07 1741.52 766.57 1737.09 768.08 1734.21 769.59 1731.16 771.09 1728.34 772.6 1726.37 774.1 1725.02 775.61 1722.78 777.11 1721.43 778.62 1720.39 780.13 1717.89 781.63 1716.38 783.14 1715.79 784.64 1714 786.15 1713.42 787.66 1713.54 789.16 1713.23 790.67 1712.64 792.17 1711.03 793.68 1711.96 795.18 1711.46 796.69 1711.17 798.2 1710.78 799.7 1709.48 801.21 1708.86 802.71 1708.57 804.22 1709.76 805.73 1709.05 807.23 1708.91 808.74 1708.78 810.24 1709.04 811.75 1709.1 813.25 1708.99 814.76 1708.22 816.27 1706.96 817.77 1707.8 819.28 1708.24 820.78 1708.87 822.29 1708.58 823.8 1708.18 825.3 1708.43 826.81 1707.66 828.31 1707.5 829.82 1707.43 831.32 1707.96 832.83 1709.04 834.34 1708.97 835.84 1709.1 837.35 1708.76 838.85 1708.6 840.36 1708.19 841.87 1708.05 843.37 1707.02 844.88 1707.05 846.38 1707.03 847.89 1707.97 849.39 1708.36 850.9 1708.77" fill="none" stroke="#2e955a" stroke-width="1.7" stroke-linejoin="round"/>
<path d="M670.2 1716.7 671.71 1715.78 673.21 1715.78 674.72 1716.17 676.22 1716.99 677.73 1716.75 679.24 1715.88 680.74 1716.33 682.25 1715.89 683.75 1716.76 685.26 1716.53 686.76 1717.34 688.27 1716.89 689.78 1716.27 691.28 1715.77 692.79 1716.03 694.29 1716.53 695.8 1717.13 697.31 1717.03 698.81 1716.54 700.32 1716.87 701.82 1716.19 703.33 1716.74 704.83 1716.48 706.34 1717.39 707.85 1717.65 709.35 1717.53 710.86 1716.9 712.36 1717.33 713.87 1717.53 715.38 1717.27 716.88 1717.18 718.39 1718.07 719.89 1717.85 721.4 1718.23 722.9 1718.96 724.41 1718.16 725.92 1719.39 727.42 1719.82 728.93 1719.49 730.43 1719.4 731.94 1719.49 733.45 1720.78 734.95 1720.17 736.46 1721.8 737.96 1722.69 739.47 1723.21 740.97 1724.08 742.48 1725.18 743.99 1726.47 745.49 1728.38 747 1729.44 748.5 1731.82 750.01 1734.09 751.52 1735.94 753.02 1738.69 754.53 1741.18 756.03 1744.55 757.54 1748.53 759.04 1753.55 760.55 1757.87 762.06 1752.74 763.56 1748.41 765.07 1744.52 766.57 1740.74 768.08 1738.91 769.59 1735.75 771.09 1733.21 772.6 1731.01 774.1 1729.77 775.61 1729.5 777.11 1728.8 778.62 1727.01 780.13 1725.36 781.63 1723.95 783.14 1722.45 784.64 1722.17 786.15 1721.37 787.66 1721.7 789.16 1720.59 790.67 1719.51 792.17 1718.42 793.68 1717.75 795.18 1718.37 796.69 1718.44 798.2 1717.69 799.7 1717.06 801.21 1717.48 802.71 1717.33 804.22 1717.46 805.73 1717.36 807.23 1716.91 808.74 1716.22 810.24 1716.68 811.75 1716.86 813.25 1716.96 814.76 1717.32 816.27 1717.48 817.77 1716.89 819.28 1717.07 820.78 1715.89 822.29 1716.58 823.8 1716.59 825.3 1717.06 826.81 1717.28 828.31 1716.5 829.82 1716.47 831.32 1717.02 832.83 1716.53 834.34 1716.56 835.84 1716.26 837.35 1716.65 838.85 1716.71 840.36 1716.23 841.87 1715.71 843.37 1715.09 844.88 1716.17 846.38 1716.12 847.89 1715.98 849.39 1715.99 850.9 1715.81" fill="none" stroke="#07703d" stroke-width="1.7" stroke-linejoin="round"/>
<path d="M670.2 1658.91 671.71 1659.12 673.21 1658.81 674.72 1659.02 676.22 1659.39 677.73 1659.35 679.24 1659.85 680.74 1659 682.25 1659.02 683.75 1658.68 685.26 1658.49 686.76 1658.67 688.27 1658.96 689.78 1659.2 691.28 1659.38 692.79 1660.26 694.29 1660.1 695.8 1658.94 697.31 1659.19 698.81 1658.97 700.32 1658.93 701.82 1659.77 703.33 1659.54 704.83 1658.69 706.34 1659.34 707.85 1659.44 709.35 1659.16 710.86 1659.21 712.36 1659.45 713.87 1659.93 715.38 1660.1 716.88 1660.53 718.39 1661.67 719.89 1661.21 721.4 1661.15 722.9 1661.57 724.41 1662.61 725.92 1662.58 727.42 1663.81 728.93 1663.52 730.43 1663.87 731.94 1664.91 733.45 1665.54 734.95 1666.5 736.46 1668.08 737.96 1669.69 739.47 1671 740.97 1672.38 742.48 1674.81 743.99 1676.75 745.49 1678.73 747 1681.85 748.5 1684.13 750.01 1687.65 751.52 1691.78 753.02 1695.98 754.53 1700.59 756.03 1706.44 757.54 1712.52 759.04 1719.56 760.55 1727.45 762.06 1720.2 763.56 1712.62 765.07 1706.84 766.57 1701.18 768.08 1695.91 769.59 1691.81 771.09 1687.92 772.6 1684.44 774.1 1680.72 775.61 1678.37 777.11 1676.56 778.62 1674.58 780.13 1673.04 781.63 1671.79 783.14 1670.08 784.64 1669.38 786.15 1666.99 787.66 1665.95 789.16 1664.03 790.67 1664.25 792.17 1663.75 793.68 1663.96 795.18 1662.92 796.69 1661.45 798.2 1662.03 799.7 1660.99 801.21 1660.36 802.71 1660.42 804.22 1660.71 805.73 1660.25 807.23 1660.25 808.74 1659.25 810.24 1660.31 811.75 1659.97 813.25 1659.84 814.76 1659.94 816.27 1659.76 817.77 1659.65 819.28 1659.06 820.78 1659.11 822.29 1659.35 823.8 1659.73 825.3 1659.37 826.81 1659.28 828.31 1659.32 829.82 1659.44 831.32 1659.32 832.83 1659.05 834.34 1658.79 835.84 1659.38 837.35 1659.3 838.85 1659.13 840.36 1660.6 841.87 1660.16 843.37 1659.92 844.88 1659.48 846.38 1658.74 847.89 1659.33 849.39 1659.07 850.9 1659" fill="none" stroke="#f39323" stroke-width="1.7" stroke-linejoin="round"/>
<path d="M897.6 1773.12 898.99 1773.48 900.38 1773.93 901.77 1773.47 903.16 1772.82 904.55 1773 905.94 1773.31 907.33 1773.73 908.72 1772.89 910.11 1772.35 911.5 1772.92 912.89 1773.1 914.28 1773.63 915.67 1773.63 917.06 1773.11 918.45 1772.7 919.84 1773.7 921.23 1772.92 922.62 1772.22 924.01 1771.62 925.4 1771.8 926.79 1771.85 928.18 1771.6 929.57 1771.53 930.96 1771.57 932.35 1771.7 933.74 1771.88 935.13 1771.5 936.52 1770.3 937.91 1770.66 939.3 1769.8 940.69 1769.78 942.08 1769.06 943.47 1769.2 944.86 1768.79 946.25 1768.85 947.64 1770.1 949.03 1769.1 950.42 1768.75 951.81 1767.35 953.2 1766.8 954.59 1766.64 955.98 1765.91 957.37 1765.36 958.76 1764.55 960.15 1763.16 961.54 1762.59 962.93 1761.09 964.32 1760.8 965.71 1758.82 967.1 1757.39 968.49 1755.29 969.88 1753.38 971.27 1750.28 972.66 1747.72 974.05 1744 975.44 1740.53 976.83 1736.06 978.22 1730.92 979.61 1725.15 981 1720.27 982.39 1715.42 983.78 1711.91 985.17 1708.61 986.56 1707.71 987.95 1708.6 989.34 1707.66 990.73 1708.57 992.12 1711.22 993.51 1714.9 994.9 1719.41 996.29 1724.72 997.68 1730.38 999.07 1735.92 1000.46 1740.45 1001.85 1744.44 1003.24 1747.77 1004.63 1750.64 1006.02 1752.9 1007.41 1755.19 1008.8 1757.58 1010.19 1758.54 1011.58 1759.41 1012.97 1761.53 1014.36 1762.31 1015.75 1763.41 1017.14 1764.28 1018.53 1764.12 1019.92 1765.87 1021.31 1766.75 1022.7 1766.71 1024.09 1767.11 1025.48 1767.21 1026.87 1766.94 1028.26 1767.26 1029.65 1767.77 1031.04 1768.49 1032.43 1768.79 1033.82 1768.74 1035.21 1769.38 1036.6 1768.84 1037.99 1769.31 1039.38 1769.77 1040.77 1769.44 1042.16 1768.63 1043.55 1768.63 1044.94 1769.18 1046.33 1769.66 1047.72 1770.41 1049.11 1769.7 1050.5 1769.79 1051.89 1770.16 1053.28 1770.02 1054.67 1768.97 1056.06 1769.84 1057.45 1771.02 1058.84 1771.09 1060.23 1770.28 1061.62 1770.07 1063.01 1770.26 1064.4 1771.39 1065.79 1771.18 1067.18 1770.84 1068.57 1771.32 1069.96 1770.85 1071.35 1771.47 1072.74 1770.67 1074.13 1770.33 1075.52 1770.68 1076.91 1771.19 1078.3 1771.13" fill="none" stroke="#e1f1f6" stroke-width="1.7" stroke-linejoin="round"/>
<path d="M897.6 1769.03 898.99 1769.34 900.38 1769.24 901.77 1769.05 903.16 1769.56 904.55 1769.38 905.94 1769.08 907.33 1769.8 908.72 1769.11 910.11 1768.32 911.5 1767.78 912.89 1767.8 914.28 1768.28 915.67 1768.56 917.06 1768.77 918.45 1769.13 919.84 1769.19 921.23 1768.66 922.62 1768.59 924.01 1768.15 925.4 1767.25 926.79 1767.28 928.18 1766.83 929.57 1766.34 930.96 1766.93 932.35 1766.56 933.74 1765.63 935.13 1765.13 936.52 1765.78 937.91 1764.76 939.3 1764.44 940.69 1763.98 942.08 1763.43 943.47 1762.89 944.86 1761.81 946.25 1760.91 947.64 1760.19 949.03 1759.31 950.42 1758.93 951.81 1758.58 953.2 1756.76 954.59 1755.82 955.98 1753.95 957.37 1752.32 958.76 1750.81 960.15 1749.21 961.54 1747.03 962.93 1743.66 964.32 1742.28 965.71 1739.23 967.1 1735.64 968.49 1732.28 969.88 1727.58 971.27 1722.05 972.66 1716.97 974.05 1710.91 975.44 1703.43 976.83 1696.24 978.22 1688.08 979.61 1678.97 981 1671.65 982.39 1664.01 983.78 1657.24 985.17 1653.58 986.56 1652.14 987.95 1653.72 989.34 1651.7 990.73 1653.81 992.12 1658.09 993.51 1664.19 994.9 1671.67 996.29 1680.25 997.68 1688.61 999.07 1696.51 1000.46 1703.59 1001.85 1711.18 1003.24 1717.75 1004.63 1723.19 1006.02 1727.99 1007.41 1732.52 1008.8 1734.96 1010.19 1738.85 1011.58 1740.8 1012.97 1744.1 1014.36 1747.15 1015.75 1749.97 1017.14 1751.12 1018.53 1752.78 1019.92 1754.01 1021.31 1754.19 1022.7 1756.08 1024.09 1757.18 1025.48 1758.18 1026.87 1758.6 1028.26 1759.54 1029.65 1760.39 1031.04 1761.65 1032.43 1762.12 1033.82 1764.05 1035.21 1763.53 1036.6 1763.48 1037.99 1763.72 1039.38 1763.66 1040.77 1764.82 1042.16 1765.2 1043.55 1764.65 1044.94 1765.09 1046.33 1765.92 1047.72 1765.3 1049.11 1765.76 1050.5 1765.93 1051.89 1767.27 1053.28 1767.21 1054.67 1766.87 1056.06 1766.68 1057.45 1767.76 1058.84 1767.33 1060.23 1768.41 1061.62 1767.3 1063.01 1767.36 1064.4 1767.42 1065.79 1767.29 1067.18 1767.48 1068.57 1768.03 1069.96 1767.76 1071.35 1767.29 1072.74 1768.33 1074.13 1768.99 1075.52 1768.4 1076.91 1768.56 1078.3 1767.36" fill="none" stroke="#bde3dc" stroke-width="1.7" stroke-linejoin="round"/>
<path d="M897.6 1768.13 898.99 1768.74 900.38 1768 901.77 1767.11 903.16 1767.49 904.55 1767.83 905.94 1767.86 907.33 1767.89 908.72 1767.57 910.11 1767.12 911.5 1766.74 912.89 1766.71 914.28 1766.56 915.67 1766.99 917.06 1767.02 918.45 1766.1 919.84 1766.4 921.23 1766.14 922.62 1766.43 924.01 1766.65 925.4 1766.24 926.79 1764.84 928.18 1765.05 929.57 1764.03 930.96 1764.74 932.35 1763.97 933.74 1763.6 935.13 1764.13 936.52 1762.6 937.91 1762.37 939.3 1761.51 940.69 1761.06 942.08 1760.41 943.47 1760.45 944.86 1759.71 946.25 1759.25 947.64 1758.76 949.03 1757.01 950.42 1757.01 951.81 1755.75 953.2 1753.87 954.59 1752.66 955.98 1752.01 957.37 1750.94 958.76 1748.72 960.15 1746.89 961.54 1744.86 962.93 1742.87 964.32 1739.84 965.71 1737.11 967.1 1732.95 968.49 1728.71 969.88 1724.71 971.27 1719.94 972.66 1714.06 974.05 1707.9 975.44 1700.81 976.83 1693.44 978.22 1685.72 979.61 1677.42 981 1669.59 982.39 1661.98 983.78 1655.93 985.17 1651.17 986.56 1650.49 987.95 1651.79 989.34 1651.05 990.73 1651.53 992.12 1655.39 993.51 1661.12 994.9 1667.66 996.29 1676.5 997.68 1685.32 999.07 1692.54 1000.46 1700.49 1001.85 1708.27 1003.24 1713.69 1004.63 1719.88 1006.02 1725.48 1007.41 1730.38 1008.8 1733.07 1010.19 1736 1011.58 1739.35 1012.97 1742.67 1014.36 1744.28 1015.75 1746.2 1017.14 1747.81 1018.53 1750.37 1019.92 1751.59 1021.31 1753.3 1022.7 1754.75 1024.09 1756.21 1025.48 1757.06 1026.87 1757.85 1028.26 1758.98 1029.65 1759.58 1031.04 1759.38 1032.43 1759.85 1033.82 1761 1035.21 1761.49 1036.6 1761.73 1037.99 1762.31 1039.38 1764.21 1040.77 1763.86 1042.16 1764.06 1043.55 1764.29 1044.94 1764.2 1046.33 1764.95 1047.72 1765.31 1049.11 1765.4 1050.5 1764.73 1051.89 1765.66 1053.28 1766.03 1054.67 1765.92 1056.06 1764.73 1057.45 1765.36 1058.84 1765.24 1060.23 1765.68 1061.62 1765.86 1063.01 1765.87 1064.4 1766.77 1065.79 1766.9 1067.18 1767.54 1068.57 1766.92 1069.96 1766.98 1071.35 1767.77 1072.74 1767.76 1074.13 1767.31 1075.52 1767.02 1076.91 1767.03 1078.3 1767.3" fill="none" stroke="#86ccb7" stroke-width="1.7" stroke-linejoin="round"/>
<path d="M897.6 1764.8 898.99 1764.68 900.38 1764.57 901.77 1764.23 903.16 1764.35 904.55 1764.28 905.94 1764.7 907.33 1763.92 908.72 1765.08 910.11 1763.03 911.5 1763.34 912.89 1763.82 914.28 1763.53 915.67 1763.04 917.06 1763.02 918.45 1763.28 919.84 1763.6 921.23 1762.39 922.62 1762.45 924.01 1761.98 925.4 1762.4 926.79 1761.79 928.18 1761.64 929.57 1761.86 930.96 1761.19 932.35 1760.91 933.74 1760.12 935.13 1759.74 936.52 1758.56 937.91 1758.21 939.3 1757.95 940.69 1757.49 942.08 1758.29 943.47 1756.38 944.86 1755.04 946.25 1755.11 947.64 1754.96 949.03 1754.24 950.42 1753.86 951.81 1753.59 953.2 1751.69 954.59 1749.63 955.98 1748.36 957.37 1747.53 958.76 1745.87 960.15 1743.71 961.54 1741.7 962.93 1739.39 964.32 1735.83 965.71 1733.37 967.1 1729.72 968.49 1726.08 969.88 1721.81 971.27 1717.36 972.66 1712.68 974.05 1706.71 975.44 1700.53 976.83 1694.27 978.22 1687.39 979.61 1679.99 981 1673.84 982.39 1667.71 983.78 1662.99 985.17 1660.15 986.56 1659.72 987.95 1659.84 989.34 1658.81 990.73 1660.09 992.12 1662.7 993.51 1667.54 994.9 1674 996.29 1679.49 997.68 1686.65 999.07 1693.34 1000.46 1701.17 1001.85 1707.38 1003.24 1713.12 1004.63 1718.01 1006.02 1722.1 1007.41 1726.5 1008.8 1730.5 1010.19 1733.83 1011.58 1737.62 1012.97 1740.26 1014.36 1741.83 1015.75 1743.75 1017.14 1745.86 1018.53 1746.97 1019.92 1748.65 1021.31 1749.91 1022.7 1751.47 1024.09 1752.75 1025.48 1753.5 1026.87 1755.17 1028.26 1755.55 1029.65 1756.66 1031.04 1756.76 1032.43 1757.11 1033.82 1757.7 1035.21 1758.35 1036.6 1759.49 1037.99 1759.23 1039.38 1760.74 1040.77 1760.4 1042.16 1761.62 1043.55 1761.84 1044.94 1761.77 1046.33 1762.49 1047.72 1762.39 1049.11 1762.66 1050.5 1762.96 1051.89 1764.53 1053.28 1763.69 1054.67 1764.67 1056.06 1764.26 1057.45 1763.92 1058.84 1763.91 1060.23 1764.79 1061.62 1764.66 1063.01 1764.39 1064.4 1764.95 1065.79 1765.16 1067.18 1765.7 1068.57 1765.02 1069.96 1765.92 1071.35 1766.34 1072.74 1765.72 1074.13 1765.6 1075.52 1765.95 1076.91 1765.85 1078.3 1766.32" fill="none" stroke="#2e955a" stroke-width="1.7" stroke-linejoin="round"/>
<path d="M897.6 1763.15 898.99 1763.63 900.38 1763.03 901.77 1763.34 903.16 1762.67 904.55 1763.17 905.94 1763.01 907.33 1763.55 908.72 1763.54 910.11 1763.13 911.5 1762.69 912.89 1762.74 914.28 1762.47 915.67 1761.89 917.06 1762.16 918.45 1760.87 919.84 1761.15 921.23 1762.2 922.62 1761.97 924.01 1760.88 925.4 1761.3 926.79 1761.02 928.18 1760.4 929.57 1759.92 930.96 1759.86 932.35 1760 933.74 1759.5 935.13 1759.9 936.52 1758.87 937.91 1758.76 939.3 1757.43 940.69 1756.29 942.08 1756.24 943.47 1756.11 944.86 1756.45 946.25 1755.34 947.64 1754.65 949.03 1753.22 950.42 1752.56 951.81 1751.97 953.2 1750.7 954.59 1750.08 955.98 1749.27 957.37 1747.77 958.76 1745.88 960.15 1743.91 961.54 1742.23 962.93 1739.5 964.32 1737.68 965.71 1734.65 967.1 1731.88 968.49 1728.08 969.88 1724.23 971.27 1720.16 972.66 1716.31 974.05 1711.62 975.44 1706.57 976.83 1701.65 978.22 1695.57 979.61 1690.64 981 1685.18 982.39 1680.41 983.78 1676.89 985.17 1675.33 986.56 1675.13 987.95 1675.12 989.34 1673.92 990.73 1674.23 992.12 1676.9 993.51 1680.78 994.9 1685.42 996.29 1690.53 997.68 1696.47 999.07 1701.67 1000.46 1707.04 1001.85 1711.87 1003.24 1716.2 1004.63 1719.8 1006.02 1724.39 1007.41 1728.07 1008.8 1731.42 1010.19 1734.37 1011.58 1737.32 1012.97 1739.9 1014.36 1741.09 1015.75 1743.33 1017.14 1745.6 1018.53 1747.4 1019.92 1748.7 1021.31 1750.09 1022.7 1750.52 1024.09 1752.04 1025.48 1752.97 1026.87 1753.98 1028.26 1755.12 1029.65 1755.8 1031.04 1755.88 1032.43 1755.79 1033.82 1756.65 1035.21 1757.54 1036.6 1758.34 1037.99 1759.31 1039.38 1759.74 1040.77 1760.1 1042.16 1759.51 1043.55 1760.47 1044.94 1760.85 1046.33 1762.04 1047.72 1762.22 1049.11 1761.75 1050.5 1761.97 1051.89 1762.43 1053.28 1762.07 1054.67 1761.65 1056.06 1762.42 1057.45 1762.49 1058.84 1762.76 1060.23 1763.1 1061.62 1763.18 1063.01 1763.77 1064.4 1763.93 1065.79 1764.07 1067.18 1764.46 1068.57 1764.33 1069.96 1763.77 1071.35 1764.07 1072.74 1763.68 1074.13 1764.21 1075.52 1763.91 1076.91 1764.31 1078.3 1765.13" fill="none" stroke="#07703d" stroke-width="1.7" stroke-linejoin="round"/>
<path d="M897.6 1770.96 898.99 1771.14 900.38 1770.18 901.77 1769.39 903.16 1769.78 904.55 1770.37 905.94 1770.27 907.33 1769.62 908.72 1769.69 910.11 1770.58 911.5 1769.79 912.89 1770.43 914.28 1770.53 915.67 1770.55 917.06 1770.67 918.45 1770.12 919.84 1769.99 921.23 1770.76 922.62 1770.17 924.01 1769.8 925.4 1769.12 926.79 1769.13 928.18 1769.64 929.57 1770.11 930.96 1770.05 932.35 1769.96 933.74 1769.84 935.13 1769.6 936.52 1769.7 937.91 1769.17 939.3 1769.35 940.69 1768.84 942.08 1767.79 943.47 1767.25 944.86 1767.32 946.25 1767.12 947.64 1766.53 949.03 1766.25 950.42 1766.34 951.81 1766.3 953.2 1766.25 954.59 1765.22 955.98 1764.93 957.37 1764.76 958.76 1764.01 960.15 1763.82 961.54 1762.27 962.93 1761.1 964.32 1759.95 965.71 1758.37 967.1 1756.86 968.49 1755.25 969.88 1753.18 971.27 1750.62 972.66 1747.84 974.05 1744.88 975.44 1740.81 976.83 1737.36 978.22 1732.78 979.61 1728.5 981 1723.77 982.39 1720.01 983.78 1716.61 985.17 1714.41 986.56 1713.4 987.95 1714.37 989.34 1714.49 990.73 1714.25 992.12 1716.95 993.51 1720.47 994.9 1724.42 996.29 1728.41 997.68 1733.9 999.07 1738.12 1000.46 1742.37 1001.85 1745.46 1003.24 1748.17 1004.63 1751.48 1006.02 1754.03 1007.41 1755.73 1008.8 1757.36 1010.19 1759.21 1011.58 1760.1 1012.97 1761.02 1014.36 1762.27 1015.75 1763.77 1017.14 1764.84 1018.53 1765.41 1019.92 1766.48 1021.31 1766.64 1022.7 1766.78 1024.09 1768.29 1025.48 1768.04 1026.87 1768.54 1028.26 1768.93 1029.65 1769.09 1031.04 1769.34 1032.43 1769.8 1033.82 1770.08 1035.21 1769.84 1036.6 1770.05 1037.99 1770.85 1039.38 1771.08 1040.77 1770.77 1042.16 1770.89 1043.55 1770.55 1044.94 1770.29 1046.33 1770.54 1047.72 1771.67 1049.11 1771.36 1050.5 1770.65 1051.89 1771.12 1053.28 1771.17 1054.67 1771.86 1056.06 1772.5 1057.45 1772.2 1058.84 1772.27 1060.23 1771.9 1061.62 1772.65 1063.01 1772.25 1064.4 1772.39 1065.79 1773.53 1067.18 1772.73 1068.57 1772.8 1069.96 1772.77 1071.35 1773.01 1072.74 1773.17 1074.13 1773.72 1075.52 1773.62 1076.91 1773.63 1078.3 1772.86" fill="none" stroke="#f39323" stroke-width="1.7" stroke-linejoin="round"/>
<path d="M1124.8 1750 1126.19 1750.28 1127.58 1749.42 1128.97 1748.82 1130.36 1748.96 1131.75 1749.56 1133.14 1749.21 1134.53 1748.22 1135.92 1747.75 1137.31 1747.7 1138.7 1748.01 1140.09 1747.63 1141.48 1747.15 1142.87 1746.81 1144.26 1746.66 1145.65 1746.03 1147.04 1745.86 1148.43 1745.72 1149.82 1746.07 1151.21 1745.34 1152.6 1745.19 1153.99 1744.02 1155.38 1743.99 1156.77 1743.44 1158.16 1742.57 1159.55 1742.06 1160.94 1741.9 1162.33 1740.97 1163.72 1740.72 1165.11 1740.46 1166.5 1739.98 1167.89 1739.31 1169.28 1737.23 1170.67 1736.32 1172.06 1734.87 1173.45 1734.23 1174.84 1732.9 1176.23 1731.59 1177.62 1730.27 1179.01 1728.31 1180.4 1726.71 1181.79 1724.56 1183.18 1723.63 1184.57 1720.92 1185.96 1718.47 1187.35 1715.07 1188.74 1711.94 1190.13 1709.01 1191.52 1706.5 1192.91 1703.37 1194.3 1699.58 1195.69 1695.13 1197.08 1691.73 1198.47 1686.46 1199.86 1681.49 1201.25 1677.2 1202.64 1672.13 1204.03 1667.98 1205.42 1664.31 1206.81 1660.44 1208.2 1657.5 1209.59 1655.1 1210.98 1653.29 1212.37 1651.46 1213.76 1652.01 1215.15 1653.92 1216.54 1652.24 1217.93 1652.1 1219.32 1653.11 1220.71 1655.3 1222.1 1656.82 1223.49 1659.81 1224.88 1663.79 1226.27 1668.22 1227.66 1672 1229.05 1677.68 1230.44 1681.74 1231.83 1686.85 1233.22 1691.01 1234.61 1695.38 1236 1700.03 1237.39 1703.72 1238.78 1706.93 1240.17 1709.51 1241.56 1712.3 1242.95 1714.6 1244.34 1718.42 1245.73 1719.87 1247.12 1721.07 1248.51 1724.39 1249.9 1726.77 1251.29 1728.02 1252.68 1729.85 1254.07 1730.67 1255.46 1731.75 1256.85 1733.31 1258.24 1734.55 1259.63 1735.27 1261.02 1736.96 1262.41 1737.85 1263.8 1738.4 1265.19 1738.42 1266.58 1739.29 1267.97 1739.84 1269.36 1740.49 1270.75 1741.46 1272.14 1741.6 1273.53 1742.25 1274.92 1743.03 1276.31 1743.44 1277.7 1744.7 1279.09 1743.74 1280.48 1744.11 1281.87 1743.95 1283.26 1744.49 1284.65 1746.06 1286.04 1745.19 1287.43 1745.42 1288.82 1746.07 1290.21 1746.27 1291.6 1746.84 1292.99 1746.14 1294.38 1746.97 1295.77 1746.64 1297.16 1746.41 1298.55 1747.16 1299.94 1747.59 1301.33 1747.36 1302.72 1747.25 1304.11 1747.52 1305.5 1747.81" fill="none" stroke="#e1f1f6" stroke-width="1.7" stroke-linejoin="round"/>
<path d="M1124.8 1754.38 1126.19 1754.1 1127.58 1755.57 1128.97 1754.95 1130.36 1754.4 1131.75 1754.15 1133.14 1753.5 1134.53 1752.97 1135.92 1753.2 1137.31 1752.78 1138.7 1753.06 1140.09 1752.65 1141.48 1751.59 1142.87 1751.12 1144.26 1750.98 1145.65 1750.26 1147.04 1750.65 1148.43 1750.63 1149.82 1751.07 1151.21 1750.32 1152.6 1750.06 1153.99 1750.13 1155.38 1750.08 1156.77 1749.03 1158.16 1749.46 1159.55 1748.47 1160.94 1748.56 1162.33 1747.65 1163.72 1746.83 1165.11 1745.71 1166.5 1745.31 1167.89 1745.94 1169.28 1744.49 1170.67 1744.33 1172.06 1743.71 1173.45 1742.09 1174.84 1741.4 1176.23 1740.59 1177.62 1738.73 1179.01 1736.93 1180.4 1735.97 1181.79 1734.27 1183.18 1733.28 1184.57 1730.94 1185.96 1727.81 1187.35 1725.4 1188.74 1722.21 1190.13 1719.9 1191.52 1716.98 1192.91 1713.08 1194.3 1708.76 1195.69 1705.13 1197.08 1700.26 1198.47 1695.94 1199.86 1690.02 1201.25 1684.55 1202.64 1678.88 1204.03 1673.12 1205.42 1669.56 1206.81 1665.3 1208.2 1660.52 1209.59 1657.78 1210.98 1654.85 1212.37 1655.09 1213.76 1656.09 1215.15 1657.38 1216.54 1655.35 1217.93 1654.87 1219.32 1655.64 1220.71 1657.15 1222.1 1659.7 1223.49 1663.67 1224.88 1668.28 1226.27 1673.99 1227.66 1679.41 1229.05 1684.99 1230.44 1689.56 1231.83 1694.92 1233.22 1699.93 1234.61 1704.52 1236 1708.96 1237.39 1712.88 1238.78 1715.88 1240.17 1719.97 1241.56 1723.38 1242.95 1725.63 1244.34 1728.36 1245.73 1729.99 1247.12 1731.51 1248.51 1733.57 1249.9 1736.18 1251.29 1737.42 1252.68 1737.98 1254.07 1739.62 1255.46 1740.59 1256.85 1741.48 1258.24 1742.86 1259.63 1742.99 1261.02 1743.36 1262.41 1744.03 1263.8 1745.89 1265.19 1746.7 1266.58 1747.06 1267.97 1747.45 1269.36 1748.51 1270.75 1749.58 1272.14 1749.41 1273.53 1749.96 1274.92 1751.42 1276.31 1751.55 1277.7 1751.32 1279.09 1751.64 1280.48 1751.84 1281.87 1752.34 1283.26 1752.58 1284.65 1752.41 1286.04 1752.6 1287.43 1753.04 1288.82 1752.87 1290.21 1753.22 1291.6 1753.03 1292.99 1754.02 1294.38 1754.79 1295.77 1754.14 1297.16 1754.66 1298.55 1754.69 1299.94 1754.74 1301.33 1754.66 1302.72 1754.91 1304.11 1755.46 1305.5 1754.76" fill="none" stroke="#bde3dc" stroke-width="1.7" stroke-linejoin="round"/>
<path d="M1124.8 1757.36 1126.19 1756.33 1127.58 1756.36 1128.97 1756.06 1130.36 1755.57 1131.75 1755.38 1133.14 1755.24 1134.53 1755.3 1135.92 1755.48 1137.31 1755.8 1138.7 1755.53 1140.09 1755.71 1141.48 1755.43 1142.87 1755.03 1144.26 1754.57 1145.65 1753.89 1147.04 1753.13 1148.43 1753.28 1149.82 1753.21 1151.21 1753.26 1152.6 1753.16 1153.99 1752.26 1155.38 1751.85 1156.77 1751.29 1158.16 1751.75 1159.55 1751.32 1160.94 1750.98 1162.33 1750.13 1163.72 1749.26 1165.11 1748.83 1166.5 1748.54 1167.89 1748.33 1169.28 1747.01 1170.67 1746.76 1172.06 1745.71 1173.45 1744.86 1174.84 1744.02 1176.23 1743.01 1177.62 1742.3 1179.01 1741.49 1180.4 1740.13 1181.79 1738.25 1183.18 1736.82 1184.57 1735.1 1185.96 1733.36 1187.35 1731.02 1188.74 1727.65 1190.13 1724.79 1191.52 1721.83 1192.91 1719.09 1194.3 1715.24 1195.69 1711.52 1197.08 1706.96 1198.47 1701.39 1199.86 1696.33 1201.25 1691.14 1202.64 1685.59 1204.03 1679.16 1205.42 1674.15 1206.81 1669 1208.2 1664.05 1209.59 1661.17 1210.98 1658.77 1212.37 1658.23 1213.76 1660.18 1215.15 1663.24 1216.54 1661.31 1217.93 1660.3 1219.32 1661.39 1220.71 1662.88 1222.1 1665.19 1223.49 1668.25 1224.88 1674.07 1226.27 1678.59 1227.66 1683.48 1229.05 1689.71 1230.44 1695.85 1231.83 1701.02 1233.22 1706.73 1234.61 1711.19 1236 1715.42 1237.39 1719.34 1238.78 1722.37 1240.17 1725.58 1241.56 1729.37 1242.95 1730.97 1244.34 1733.21 1245.73 1735.4 1247.12 1736.84 1248.51 1738.5 1249.9 1739.25 1251.29 1740.77 1252.68 1742.31 1254.07 1744.08 1255.46 1745.39 1256.85 1745.8 1258.24 1746.13 1259.63 1747.94 1261.02 1748.81 1262.41 1748.31 1263.8 1748.98 1265.19 1749.33 1266.58 1749.87 1267.97 1749.87 1269.36 1750.64 1270.75 1751.2 1272.14 1751.79 1273.53 1752.84 1274.92 1753.2 1276.31 1752.88 1277.7 1752.6 1279.09 1753.1 1280.48 1754.25 1281.87 1754.89 1283.26 1754.65 1284.65 1755.41 1286.04 1755.58 1287.43 1755.3 1288.82 1755.69 1290.21 1755.75 1291.6 1755.39 1292.99 1755.57 1294.38 1756 1295.77 1756.82 1297.16 1756.27 1298.55 1756.6 1299.94 1756.74 1301.33 1756.83 1302.72 1756.41 1304.11 1757.34 1305.5 1757.91" fill="none" stroke="#86ccb7" stroke-width="1.7" stroke-linejoin="round"/>
<path d="M1124.8 1757.29 1126.19 1758.25 1127.58 1758.2 1128.97 1757.69 1130.36 1758.06 1131.75 1757.31 1133.14 1758.38 1134.53 1758.14 1135.92 1757.64 1137.31 1757.7 1138.7 1756.75 1140.09 1756.97 1141.48 1757.23 1142.87 1757.29 1144.26 1757.02 1145.65 1756.06 1147.04 1756.07 1148.43 1755.21 1149.82 1755.36 1151.21 1754.95 1152.6 1754.54 1153.99 1754.9 1155.38 1755.53 1156.77 1755.51 1158.16 1754.47 1159.55 1753.71 1160.94 1752.86 1162.33 1752.38 1163.72 1752.23 1165.11 1752.07 1166.5 1751.33 1167.89 1750.86 1169.28 1749.77 1170.67 1749.15 1172.06 1749.32 1173.45 1749.05 1174.84 1748.1 1176.23 1746.94 1177.62 1745.86 1179.01 1744.31 1180.4 1742.63 1181.79 1741.82 1183.18 1739.9 1184.57 1738.72 1185.96 1736.45 1187.35 1734.69 1188.74 1733.41 1190.13 1730.98 1191.52 1727.96 1192.91 1724.94 1194.3 1720.77 1195.69 1717.79 1197.08 1713.36 1198.47 1708.76 1199.86 1704.01 1201.25 1699.42 1202.64 1694.19 1204.03 1689.07 1205.42 1684.7 1206.81 1680.44 1208.2 1677.28 1209.59 1674.6 1210.98 1673.14 1212.37 1671.69 1213.76 1672.38 1215.15 1674.32 1216.54 1672.89 1217.93 1671.86 1219.32 1672.59 1220.71 1674.62 1222.1 1676.67 1223.49 1680 1224.88 1684.21 1226.27 1689.42 1227.66 1694.05 1229.05 1699.4 1230.44 1704.25 1231.83 1708.64 1233.22 1712.49 1234.61 1718.07 1236 1722.15 1237.39 1725.62 1238.78 1727.52 1240.17 1730.74 1241.56 1732.91 1242.95 1734.55 1244.34 1736.55 1245.73 1738.39 1247.12 1740.98 1248.51 1742.32 1249.9 1743.49 1251.29 1744.83 1252.68 1746.02 1254.07 1746.28 1255.46 1747.87 1256.85 1748.66 1258.24 1749.75 1259.63 1750.94 1261.02 1750.94 1262.41 1752.37 1263.8 1752.19 1265.19 1752.31 1266.58 1751.7 1267.97 1753.17 1269.36 1753.42 1270.75 1753.55 1272.14 1753.77 1273.53 1754.53 1274.92 1755.31 1276.31 1755.69 1277.7 1755.57 1279.09 1755.42 1280.48 1754.88 1281.87 1755.24 1283.26 1756.03 1284.65 1756.15 1286.04 1757.36 1287.43 1757.66 1288.82 1757.32 1290.21 1757.57 1291.6 1757.63 1292.99 1757.29 1294.38 1757.35 1295.77 1756.9 1297.16 1757.25 1298.55 1758.11 1299.94 1757.94 1301.33 1758.89 1302.72 1758.58 1304.11 1758.88 1305.5 1758.96" fill="none" stroke="#2e955a" stroke-width="1.7" stroke-linejoin="round"/>
<path d="M1124.8 1757.25 1126.19 1756.86 1127.58 1757.08 1128.97 1757.58 1130.36 1757.95 1131.75 1757.65 1133.14 1757.17 1134.53 1756.71 1135.92 1756.32 1137.31 1755.77 1138.7 1755.16 1140.09 1754.65 1141.48 1755.6 1142.87 1755.55 1144.26 1755.92 1145.65 1754.95 1147.04 1755.09 1148.43 1754.94 1149.82 1755.08 1151.21 1754.63 1152.6 1754.8 1153.99 1754.8 1155.38 1754.83 1156.77 1753.14 1158.16 1752.47 1159.55 1753.13 1160.94 1753.84 1162.33 1753.12 1163.72 1752.13 1165.11 1752.07 1166.5 1751.35 1167.89 1750.7 1169.28 1750.57 1170.67 1749.62 1172.06 1747.97 1173.45 1747.16 1174.84 1746.91 1176.23 1745.68 1177.62 1745.08 1179.01 1743.8 1180.4 1743.02 1181.79 1741.46 1183.18 1740.55 1184.57 1738.68 1185.96 1736.46 1187.35 1734.99 1188.74 1733.04 1190.13 1730.67 1191.52 1727.3 1192.91 1724.46 1194.3 1721.92 1195.69 1718.43 1197.08 1713.92 1198.47 1710.48 1199.86 1706.02 1201.25 1701.1 1202.64 1695.93 1204.03 1691.04 1205.42 1686.65 1206.81 1681.28 1208.2 1677.97 1209.59 1675.02 1210.98 1674 1212.37 1673.7 1213.76 1674.39 1215.15 1676.26 1216.54 1675.29 1217.93 1675.14 1219.32 1674.48 1220.71 1676.86 1222.1 1679.2 1223.49 1681.77 1224.88 1686.82 1226.27 1690.98 1227.66 1695.65 1229.05 1701.12 1230.44 1705.68 1231.83 1710.26 1233.22 1714.99 1234.61 1718.76 1236 1720.9 1237.39 1724.37 1238.78 1726.99 1240.17 1729.5 1241.56 1731.78 1242.95 1734.55 1244.34 1736.78 1245.73 1738.53 1247.12 1740.68 1248.51 1742.01 1249.9 1743.06 1251.29 1744.68 1252.68 1745.78 1254.07 1746.62 1255.46 1747.83 1256.85 1748.67 1258.24 1749.16 1259.63 1749.63 1261.02 1749.92 1262.41 1750.08 1263.8 1751.87 1265.19 1752.14 1266.58 1751.27 1267.97 1752.08 1269.36 1752.29 1270.75 1752.43 1272.14 1752.94 1273.53 1753.64 1274.92 1754.49 1276.31 1754.5 1277.7 1754.63 1279.09 1755.12 1280.48 1754.19 1281.87 1754.1 1283.26 1754.2 1284.65 1755.47 1286.04 1755.61 1287.43 1755.41 1288.82 1755.46 1290.21 1755.37 1291.6 1756.11 1292.99 1756.39 1294.38 1756.86 1295.77 1757.23 1297.16 1757.56 1298.55 1757.6 1299.94 1757.23 1301.33 1757.48 1302.72 1757.49 1304.11 1757.58 1305.5 1758.28" fill="none" stroke="#07703d" stroke-width="1.7" stroke-linejoin="round"/>
<path d="M1124.8 1767.9 1126.19 1767.11 1127.58 1768.15 1128.97 1769.5 1130.36 1768.99 1131.75 1769.08 1133.14 1769.1 1134.53 1768.87 1135.92 1768.7 1137.31 1768.75 1138.7 1768.04 1140.09 1766.98 1141.48 1766.28 1142.87 1767.01 1144.26 1767.28 1145.65 1767.14 1147.04 1765.9 1148.43 1766.18 1149.82 1766.36 1151.21 1765.95 1152.6 1765.78 1153.99 1767.04 1155.38 1767.27 1156.77 1767.06 1158.16 1766.62 1159.55 1765.92 1160.94 1765.49 1162.33 1765.67 1163.72 1764.91 1165.11 1764.67 1166.5 1765.33 1167.89 1764.12 1169.28 1763.55 1170.67 1764.34 1172.06 1763.91 1173.45 1763.37 1174.84 1762.38 1176.23 1761.31 1177.62 1761.75 1179.01 1759.85 1180.4 1759.99 1181.79 1759.22 1183.18 1758.64 1184.57 1756.93 1185.96 1756.97 1187.35 1756.32 1188.74 1755.22 1190.13 1754.03 1191.52 1751.77 1192.91 1750.47 1194.3 1749.01 1195.69 1746.94 1197.08 1743.2 1198.47 1741.47 1199.86 1739.38 1201.25 1736.33 1202.64 1733.92 1204.03 1731.93 1205.42 1728.99 1206.81 1727.07 1208.2 1724.38 1209.59 1722.38 1210.98 1721.68 1212.37 1720.97 1213.76 1720.72 1215.15 1722.36 1216.54 1721.57 1217.93 1721.58 1219.32 1721.36 1220.71 1722.25 1222.1 1724.25 1223.49 1726.1 1224.88 1728.57 1226.27 1731.5 1227.66 1733.94 1229.05 1737.03 1230.44 1739.04 1231.83 1742.18 1233.22 1745.95 1234.61 1747.88 1236 1749.21 1237.39 1750.04 1238.78 1751.35 1240.17 1753.05 1241.56 1754.25 1242.95 1755.99 1244.34 1757.17 1245.73 1758.49 1247.12 1759.06 1248.51 1760.17 1249.9 1761.33 1251.29 1761.1 1252.68 1761.59 1254.07 1762.04 1255.46 1762.5 1256.85 1763.53 1258.24 1763.52 1259.63 1763.38 1261.02 1763.23 1262.41 1763.19 1263.8 1763.96 1265.19 1764.98 1266.58 1765.22 1267.97 1765.02 1269.36 1765.31 1270.75 1765.18 1272.14 1766.12 1273.53 1766.27 1274.92 1767.08 1276.31 1767.19 1277.7 1767.29 1279.09 1766.63 1280.48 1767.02 1281.87 1766.85 1283.26 1766.72 1284.65 1767.05 1286.04 1767.97 1287.43 1767.97 1288.82 1768.75 1290.21 1768.55 1291.6 1767.48 1292.99 1767.33 1294.38 1768.46 1295.77 1768.47 1297.16 1768.26 1298.55 1767.9 1299.94 1768.04 1301.33 1768.26 1302.72 1767.99 1304.11 1768.04 1305.5 1768.25" fill="none" stroke="#f39323" stroke-width="1.7" stroke-linejoin="round"/>
<path d="M1352.4 1741.26 1353.79 1741.03 1355.18 1740.29 1356.57 1740.77 1357.96 1740.67 1359.35 1740.56 1360.74 1740.33 1362.13 1740.78 1363.52 1740.63 1364.91 1740.59 1366.3 1739.74 1367.69 1739.09 1369.08 1738.34 1370.47 1738.18 1371.86 1736.78 1373.25 1737.95 1374.64 1737.74 1376.03 1737.44 1377.42 1737.49 1378.81 1736.75 1380.2 1736.46 1381.59 1736.36 1382.98 1734.97 1384.37 1735.57 1385.76 1734.9 1387.15 1734.5 1388.54 1733.22 1389.93 1732.43 1391.32 1732.8 1392.71 1731.6 1394.1 1730.64 1395.49 1730.16 1396.88 1729.93 1398.27 1727.51 1399.66 1727.58 1401.05 1726.51 1402.44 1725.66 1403.83 1723.67 1405.22 1722.55 1406.61 1721.85 1408 1719.86 1409.39 1717.67 1410.78 1715.65 1412.17 1713.5 1413.56 1711.88 1414.95 1709.54 1416.34 1706.66 1417.73 1704.35 1419.12 1700.72 1420.51 1697.01 1421.9 1695.21 1423.29 1691.01 1424.68 1688 1426.07 1683.68 1427.46 1679.4 1428.85 1675.59 1430.24 1671.1 1431.63 1667.03 1433.02 1663.69 1434.41 1660.61 1435.8 1658.61 1437.19 1657.58 1438.58 1655.36 1439.97 1654.5 1441.36 1655.38 1442.75 1656.62 1444.14 1655.97 1445.53 1654.97 1446.92 1655.68 1448.31 1656.72 1449.7 1657.77 1451.09 1660.85 1452.48 1663.24 1453.87 1667.36 1455.26 1671 1456.65 1675 1458.04 1680.16 1459.43 1684.49 1460.82 1688.05 1462.21 1691.6 1463.6 1694.51 1464.99 1698.5 1466.38 1701.71 1467.77 1703.98 1469.16 1705.96 1470.55 1708.89 1471.94 1711.37 1473.33 1714.12 1474.72 1715.53 1476.11 1717.13 1477.5 1719.32 1478.89 1721 1480.28 1722.93 1481.67 1724.61 1483.06 1725.07 1484.45 1725.07 1485.84 1726.67 1487.23 1727.57 1488.62 1728.91 1490.01 1728.56 1491.4 1729.95 1492.79 1731.11 1494.18 1731.71 1495.57 1732.83 1496.96 1733.48 1498.35 1734.14 1499.74 1735.22 1501.13 1736.02 1502.52 1736.61 1503.91 1736.71 1505.3 1736.82 1506.69 1737.24 1508.08 1737.5 1509.47 1737.28 1510.86 1737.84 1512.25 1738.52 1513.64 1738.38 1515.03 1738.08 1516.42 1738.83 1517.81 1738.7 1519.2 1738.38 1520.59 1738.89 1521.98 1738.67 1523.37 1739.5 1524.76 1739.63 1526.15 1740.06 1527.54 1740.88 1528.93 1741.39 1530.32 1741.15 1531.71 1740.04 1533.1 1740.35" fill="none" stroke="#e1f1f6" stroke-width="1.7" stroke-linejoin="round"/>
<path d="M1352.4 1743.52 1353.79 1743.42 1355.18 1742.84 1356.57 1743.68 1357.96 1742.45 1359.35 1742.44 1360.74 1742.77 1362.13 1742.76 1363.52 1742.65 1364.91 1741.75 1366.3 1742.49 1367.69 1741.61 1369.08 1741.33 1370.47 1741.09 1371.86 1740.84 1373.25 1740.33 1374.64 1740.89 1376.03 1740.37 1377.42 1740.37 1378.81 1739.02 1380.2 1739.12 1381.59 1738.62 1382.98 1738.45 1384.37 1738.06 1385.76 1737.73 1387.15 1737.08 1388.54 1736.55 1389.93 1736.01 1391.32 1735.48 1392.71 1734.79 1394.1 1733.89 1395.49 1733.4 1396.88 1732.16 1398.27 1732.39 1399.66 1731.51 1401.05 1730.84 1402.44 1729.18 1403.83 1727.14 1405.22 1725.28 1406.61 1723.9 1408 1722.46 1409.39 1720.95 1410.78 1719.22 1412.17 1717.75 1413.56 1714.48 1414.95 1713.37 1416.34 1710.55 1417.73 1707.83 1419.12 1703.93 1420.51 1701.1 1421.9 1697.01 1423.29 1693.79 1424.68 1689.97 1426.07 1685.78 1427.46 1681.24 1428.85 1676.62 1430.24 1672.05 1431.63 1668.23 1433.02 1664.09 1434.41 1660.51 1435.8 1658.52 1437.19 1655.76 1438.58 1653.62 1439.97 1652.1 1441.36 1651.86 1442.75 1653.96 1444.14 1653.48 1445.53 1652.62 1446.92 1652.82 1448.31 1654.51 1449.7 1657.06 1451.09 1660.6 1452.48 1664.01 1453.87 1667.72 1455.26 1672.48 1456.65 1676.46 1458.04 1680.46 1459.43 1684.76 1460.82 1689.33 1462.21 1693.52 1463.6 1697.62 1464.99 1701.37 1466.38 1705.85 1467.77 1708.66 1469.16 1710.17 1470.55 1712.37 1471.94 1715.27 1473.33 1717.27 1474.72 1720.56 1476.11 1721.89 1477.5 1723.32 1478.89 1724.96 1480.28 1726.27 1481.67 1727.87 1483.06 1728.86 1484.45 1730.11 1485.84 1730.78 1487.23 1730.6 1488.62 1732.26 1490.01 1734.08 1491.4 1734.17 1492.79 1734.69 1494.18 1735.87 1495.57 1736.16 1496.96 1736.84 1498.35 1737.27 1499.74 1738.1 1501.13 1738.4 1502.52 1739.74 1503.91 1739.74 1505.3 1739.75 1506.69 1739.36 1508.08 1740 1509.47 1740 1510.86 1740.86 1512.25 1741.41 1513.64 1742.79 1515.03 1742.07 1516.42 1742.2 1517.81 1742.79 1519.2 1741.8 1520.59 1742.57 1521.98 1743.62 1523.37 1743.46 1524.76 1743.41 1526.15 1744.03 1527.54 1744.01 1528.93 1744.07 1530.32 1744.42 1531.71 1743.92 1533.1 1744.95" fill="none" stroke="#bde3dc" stroke-width="1.7" stroke-linejoin="round"/>
<path d="M1352.4 1743.71 1353.79 1743.58 1355.18 1743.87 1356.57 1743.49 1357.96 1743 1359.35 1742.43 1360.74 1743.07 1362.13 1742.94 1363.52 1742.59 1364.91 1742.16 1366.3 1741.18 1367.69 1741.69 1369.08 1741.41 1370.47 1741.55 1371.86 1742.2 1373.25 1741.62 1374.64 1741.27 1376.03 1741.44 1377.42 1740.88 1378.81 1740.57 1380.2 1739.66 1381.59 1739.1 1382.98 1738.3 1384.37 1738.82 1385.76 1739.03 1387.15 1738.16 1388.54 1737.59 1389.93 1736.91 1391.32 1737.65 1392.71 1737 1394.1 1735.83 1395.49 1735.2 1396.88 1734.77 1398.27 1733.08 1399.66 1732.44 1401.05 1731.6 1402.44 1730.36 1403.83 1729.44 1405.22 1728.51 1406.61 1726.79 1408 1724.93 1409.39 1723.66 1410.78 1721.74 1412.17 1719.82 1413.56 1718.39 1414.95 1715.73 1416.34 1712.79 1417.73 1709.22 1419.12 1706.49 1420.51 1703.34 1421.9 1699.95 1423.29 1696.16 1424.68 1692.15 1426.07 1687.64 1427.46 1682.97 1428.85 1678.45 1430.24 1673.31 1431.63 1668.38 1433.02 1663.92 1434.41 1660.51 1435.8 1656.73 1437.19 1654.58 1438.58 1653.37 1439.97 1653.21 1441.36 1653.26 1442.75 1654.9 1444.14 1653.67 1445.53 1653.04 1446.92 1653.73 1448.31 1655.18 1449.7 1657.13 1451.09 1660.39 1452.48 1663.98 1453.87 1669.36 1455.26 1673.57 1456.65 1677.88 1458.04 1681.99 1459.43 1686.88 1460.82 1691.61 1462.21 1695.8 1463.6 1699.09 1464.99 1702.53 1466.38 1705.75 1467.77 1709.33 1469.16 1711.97 1470.55 1714.79 1471.94 1718.12 1473.33 1719.18 1474.72 1721.27 1476.11 1723.24 1477.5 1724.32 1478.89 1726.66 1480.28 1727.91 1481.67 1729.4 1483.06 1730.78 1484.45 1732.34 1485.84 1732.68 1487.23 1733.25 1488.62 1733.61 1490.01 1734.14 1491.4 1736.09 1492.79 1736.43 1494.18 1736.3 1495.57 1737.55 1496.96 1738.94 1498.35 1738.69 1499.74 1739.17 1501.13 1739.01 1502.52 1738.82 1503.91 1739.69 1505.3 1739.87 1506.69 1740.12 1508.08 1740.93 1509.47 1741.67 1510.86 1741.92 1512.25 1742.84 1513.64 1742.6 1515.03 1742.71 1516.42 1743.41 1517.81 1744.49 1519.2 1745.08 1520.59 1745.01 1521.98 1744.69 1523.37 1743.92 1524.76 1744.84 1526.15 1744.71 1527.54 1745.79 1528.93 1745.43 1530.32 1744.39 1531.71 1745.25 1533.1 1745.36" fill="none" stroke="#86ccb7" stroke-width="1.7" stroke-linejoin="round"/>
<path d="M1352.4 1743.9 1353.79 1743.89 1355.18 1744.05 1356.57 1743.2 1357.96 1743.31 1359.35 1744.72 1360.74 1743.6 1362.13 1743.3 1363.52 1743.41 1364.91 1742.32 1366.3 1742.61 1367.69 1743.18 1369.08 1742.86 1370.47 1742.13 1371.86 1742.21 1373.25 1741.72 1374.64 1741.84 1376.03 1741.69 1377.42 1741.43 1378.81 1740.8 1380.2 1741.4 1381.59 1741.02 1382.98 1740.85 1384.37 1740.38 1385.76 1739.7 1387.15 1739.48 1388.54 1739 1389.93 1738.56 1391.32 1738.02 1392.71 1737.19 1394.1 1736.69 1395.49 1736.15 1396.88 1735.83 1398.27 1734.51 1399.66 1734.21 1401.05 1731.99 1402.44 1730.92 1403.83 1730.27 1405.22 1729.07 1406.61 1728.27 1408 1725.96 1409.39 1724.26 1410.78 1722.4 1412.17 1721.23 1413.56 1720.26 1414.95 1717.47 1416.34 1715.03 1417.73 1712.18 1419.12 1710.07 1420.51 1707.29 1421.9 1704.17 1423.29 1700.03 1424.68 1696.15 1426.07 1691.92 1427.46 1687.65 1428.85 1683.45 1430.24 1679.54 1431.63 1674.6 1433.02 1671.73 1434.41 1668.24 1435.8 1666.16 1437.19 1664.14 1438.58 1662.36 1439.97 1661.76 1441.36 1662.38 1442.75 1662.88 1444.14 1662.09 1445.53 1661.47 1446.92 1661.92 1448.31 1662.9 1449.7 1665.12 1451.09 1667.67 1452.48 1670.92 1453.87 1675.28 1455.26 1679.97 1456.65 1684.28 1458.04 1687.82 1459.43 1692.15 1460.82 1696.07 1462.21 1700.04 1463.6 1703.49 1464.99 1706.81 1466.38 1710.29 1467.77 1713.06 1469.16 1715.78 1470.55 1718.02 1471.94 1719.92 1473.33 1721.99 1474.72 1723.36 1476.11 1725.61 1477.5 1727.3 1478.89 1728.74 1480.28 1730.58 1481.67 1731.13 1483.06 1732.87 1484.45 1734.09 1485.84 1734.88 1487.23 1735.09 1488.62 1736.12 1490.01 1736.61 1491.4 1737.02 1492.79 1737.91 1494.18 1738.72 1495.57 1738.88 1496.96 1739.52 1498.35 1741.73 1499.74 1741.04 1501.13 1741.52 1502.52 1741.6 1503.91 1741.61 1505.3 1742.29 1506.69 1741.9 1508.08 1741.65 1509.47 1742.47 1510.86 1743.16 1512.25 1743.35 1513.64 1744.23 1515.03 1744.15 1516.42 1744.47 1517.81 1743.94 1519.2 1745.14 1520.59 1744.96 1521.98 1745.12 1523.37 1745.53 1524.76 1745.29 1526.15 1745.71 1527.54 1745.88 1528.93 1746.52 1530.32 1745.91 1531.71 1746.09 1533.1 1746.26" fill="none" stroke="#2e955a" stroke-width="1.7" stroke-linejoin="round"/>
<path d="M1352.4 1742.41 1353.79 1743.73 1355.18 1744.25 1356.57 1743.26 1357.96 1743.14 1359.35 1741.91 1360.74 1742.7 1362.13 1742.44 1363.52 1742.24 1364.91 1742.78 1366.3 1741.75 1367.69 1741.87 1369.08 1741.05 1370.47 1740.93 1371.86 1741.51 1373.25 1740.02 1374.64 1739.76 1376.03 1740.64 1377.42 1740.67 1378.81 1739.93 1380.2 1740.06 1381.59 1739.97 1382.98 1739.45 1384.37 1738.4 1385.76 1738.47 1387.15 1738.68 1388.54 1737.52 1389.93 1737.92 1391.32 1737.36 1392.71 1737.02 1394.1 1735.05 1395.49 1735.5 1396.88 1735.15 1398.27 1734.72 1399.66 1733.01 1401.05 1732.24 1402.44 1731.28 1403.83 1730.62 1405.22 1730.76 1406.61 1727.94 1408 1727.05 1409.39 1725.04 1410.78 1723.43 1412.17 1722.17 1413.56 1719.77 1414.95 1717.34 1416.34 1715.37 1417.73 1712.84 1419.12 1710.15 1420.51 1707.49 1421.9 1704.23 1423.29 1700.82 1424.68 1697.05 1426.07 1693.53 1427.46 1689.78 1428.85 1685.07 1430.24 1680.53 1431.63 1676.29 1433.02 1672.98 1434.41 1670.1 1435.8 1667.03 1437.19 1664.61 1438.58 1663.14 1439.97 1662.52 1441.36 1662.93 1442.75 1663.91 1444.14 1663.11 1445.53 1662.99 1446.92 1663.54 1448.31 1664.22 1449.7 1667.37 1451.09 1670.4 1452.48 1673.34 1453.87 1677.31 1455.26 1681.47 1456.65 1685.32 1458.04 1688.41 1459.43 1692.44 1460.82 1696.52 1462.21 1700.98 1463.6 1704.97 1464.99 1708.22 1466.38 1710.76 1467.77 1713.81 1469.16 1715.98 1470.55 1719.03 1471.94 1720.98 1473.33 1722.55 1474.72 1723.95 1476.11 1725.63 1477.5 1727.09 1478.89 1727.45 1480.28 1729.62 1481.67 1731.27 1483.06 1731.96 1484.45 1733.36 1485.84 1733.63 1487.23 1734.32 1488.62 1734.97 1490.01 1735.53 1491.4 1736.01 1492.79 1736.95 1494.18 1737.48 1495.57 1738.32 1496.96 1738.74 1498.35 1739.47 1499.74 1739.55 1501.13 1739.77 1502.52 1739.54 1503.91 1740.88 1505.3 1741.59 1506.69 1742.27 1508.08 1741.82 1509.47 1741.78 1510.86 1742.3 1512.25 1742.25 1513.64 1743.34 1515.03 1743.14 1516.42 1743.98 1517.81 1744.26 1519.2 1743.17 1520.59 1743.59 1521.98 1743.91 1523.37 1743.59 1524.76 1743.85 1526.15 1743.73 1527.54 1743.87 1528.93 1744.68 1530.32 1744.93 1531.71 1745.19 1533.1 1744.94" fill="none" stroke="#07703d" stroke-width="1.7" stroke-linejoin="round"/>
<path d="M1352.4 1757.36 1353.79 1757.44 1355.18 1758.09 1356.57 1757.07 1357.96 1757.6 1359.35 1757.24 1360.74 1757.73 1362.13 1757.36 1363.52 1757.19 1364.91 1757.31 1366.3 1756.87 1367.69 1756.82 1369.08 1756.66 1370.47 1757.21 1371.86 1756.97 1373.25 1755.9 1374.64 1756.12 1376.03 1756.12 1377.42 1755.93 1378.81 1756.34 1380.2 1756.33 1381.59 1755.12 1382.98 1755.58 1384.37 1754.94 1385.76 1754.47 1387.15 1754.06 1388.54 1753.86 1389.93 1754.01 1391.32 1753.06 1392.71 1752.85 1394.1 1752.28 1395.49 1751.99 1396.88 1751.52 1398.27 1751.51 1399.66 1751.34 1401.05 1750.2 1402.44 1749.84 1403.83 1748.51 1405.22 1748.23 1406.61 1747.97 1408 1747 1409.39 1747.19 1410.78 1745.96 1412.17 1744.2 1413.56 1743.15 1414.95 1741.46 1416.34 1740.35 1417.73 1738.69 1419.12 1737 1420.51 1733.96 1421.9 1732.09 1423.29 1730.66 1424.68 1728.71 1426.07 1726.43 1427.46 1723.68 1428.85 1721.21 1430.24 1718.56 1431.63 1715.72 1433.02 1713.35 1434.41 1711.06 1435.8 1708.53 1437.19 1707.2 1438.58 1706.55 1439.97 1705.89 1441.36 1705.19 1442.75 1706.24 1444.14 1705.74 1445.53 1704.41 1446.92 1704.61 1448.31 1705.58 1449.7 1708.31 1451.09 1710.57 1452.48 1712.56 1453.87 1715.5 1455.26 1718.17 1456.65 1720.08 1458.04 1722.85 1459.43 1726.11 1460.82 1728.42 1462.21 1731.88 1463.6 1733.38 1464.99 1735.05 1466.38 1736.78 1467.77 1738.53 1469.16 1740.06 1470.55 1742.04 1471.94 1743.99 1473.33 1744.48 1474.72 1744.58 1476.11 1745.52 1477.5 1746.59 1478.89 1748.19 1480.28 1748.93 1481.67 1749.32 1483.06 1750.98 1484.45 1750.38 1485.84 1750.23 1487.23 1751.5 1488.62 1752.02 1490.01 1752.18 1491.4 1751.85 1492.79 1752.53 1494.18 1752.99 1495.57 1752.92 1496.96 1753.34 1498.35 1752.96 1499.74 1754.01 1501.13 1753.64 1502.52 1754.49 1503.91 1754.16 1505.3 1754.05 1506.69 1754.4 1508.08 1754.37 1509.47 1755.11 1510.86 1754.84 1512.25 1755.22 1513.64 1755.73 1515.03 1756.14 1516.42 1756.41 1517.81 1756.11 1519.2 1756.96 1520.59 1756.52 1521.98 1756.11 1523.37 1756.31 1524.76 1757.17 1526.15 1756.09 1527.54 1756.04 1528.93 1756.91 1530.32 1756.81 1531.71 1756.14 1533.1 1756.65" fill="none" stroke="#f39323" stroke-width="1.7" stroke-linejoin="round"/>
<rect x="670.2" y="1646" width="180.7" height="151" fill="none" stroke="#231f20" stroke-width="1.3"/>
<line x1="670.2" y1="1797" x2="670.2" y2="1805.5" stroke="#1c1a1b" stroke-width="1.25"/>
<line x1="760.55" y1="1797" x2="760.55" y2="1805.5" stroke="#1c1a1b" stroke-width="1.25"/>
<line x1="850.9" y1="1797" x2="850.9" y2="1805.5" stroke="#1c1a1b" stroke-width="1.25"/>
<line x1="659.8" y1="1797" x2="670.2" y2="1797" stroke="#1c1a1b" stroke-width="1.25"/>
<line x1="659.8" y1="1686.5" x2="670.2" y2="1686.5" stroke="#1c1a1b" stroke-width="1.25"/>
<text font-size="19.5" text-anchor="end" textLength="11.17" lengthAdjust="spacingAndGlyphs" x="654.7" y="1804.6">0</text>
<text font-size="19.5" text-anchor="end" textLength="11.17" lengthAdjust="spacingAndGlyphs" x="654.7" y="1693.3">1</text>
<rect x="897.6" y="1646" width="180.7" height="151" fill="none" stroke="#231f20" stroke-width="1.3"/>
<line x1="897.6" y1="1797" x2="897.6" y2="1805.5" stroke="#1c1a1b" stroke-width="1.25"/>
<line x1="987.95" y1="1797" x2="987.95" y2="1805.5" stroke="#1c1a1b" stroke-width="1.25"/>
<line x1="1078.3" y1="1797" x2="1078.3" y2="1805.5" stroke="#1c1a1b" stroke-width="1.25"/>
<line x1="887.2" y1="1797" x2="897.6" y2="1797" stroke="#1c1a1b" stroke-width="1.25"/>
<line x1="887.2" y1="1686.5" x2="897.6" y2="1686.5" stroke="#1c1a1b" stroke-width="1.25"/>
<text font-size="19.5" text-anchor="end" textLength="11.17" lengthAdjust="spacingAndGlyphs" x="882.1" y="1804.6">0</text>
<text font-size="19.5" text-anchor="end" textLength="11.17" lengthAdjust="spacingAndGlyphs" x="882.1" y="1693.3">5</text>
<rect x="1124.8" y="1646" width="180.7" height="151" fill="none" stroke="#231f20" stroke-width="1.3"/>
<line x1="1124.8" y1="1797" x2="1124.8" y2="1805.5" stroke="#1c1a1b" stroke-width="1.25"/>
<line x1="1215.15" y1="1797" x2="1215.15" y2="1805.5" stroke="#1c1a1b" stroke-width="1.25"/>
<line x1="1305.5" y1="1797" x2="1305.5" y2="1805.5" stroke="#1c1a1b" stroke-width="1.25"/>
<line x1="1114.4" y1="1797" x2="1124.8" y2="1797" stroke="#1c1a1b" stroke-width="1.25"/>
<line x1="1114.4" y1="1683.1" x2="1124.8" y2="1683.1" stroke="#1c1a1b" stroke-width="1.25"/>
<text font-size="19.5" text-anchor="end" textLength="11.17" lengthAdjust="spacingAndGlyphs" x="1109.3" y="1804.6">0</text>
<text font-size="19.5" text-anchor="end" textLength="11.17" lengthAdjust="spacingAndGlyphs" x="1109.3" y="1689.9">5</text>
<rect x="1352.4" y="1646" width="180.7" height="151" fill="none" stroke="#231f20" stroke-width="1.3"/>
<line x1="1352.4" y1="1797" x2="1352.4" y2="1805.5" stroke="#1c1a1b" stroke-width="1.25"/>
<line x1="1442.75" y1="1797" x2="1442.75" y2="1805.5" stroke="#1c1a1b" stroke-width="1.25"/>
<line x1="1533.1" y1="1797" x2="1533.1" y2="1805.5" stroke="#1c1a1b" stroke-width="1.25"/>
<line x1="1342" y1="1797" x2="1352.4" y2="1797" stroke="#1c1a1b" stroke-width="1.25"/>
<line x1="1342" y1="1684.8" x2="1352.4" y2="1684.8" stroke="#1c1a1b" stroke-width="1.25"/>
<text font-size="19.5" text-anchor="end" textLength="11.17" lengthAdjust="spacingAndGlyphs" x="1336.9" y="1804.6">0</text>
<text font-size="19.5" text-anchor="end" textLength="11.17" lengthAdjust="spacingAndGlyphs" x="1336.9" y="1691.6">4</text>
<text font-size="19.5" text-anchor="middle" textLength="63.2" lengthAdjust="spacingAndGlyphs" x="670" y="1828">−5.0 kb</text>
<text font-size="19.5" text-anchor="middle" textLength="11.17" lengthAdjust="spacingAndGlyphs" x="760.3" y="1828">0</text>
<text font-size="19.5" text-anchor="middle" textLength="65" lengthAdjust="spacingAndGlyphs" x="840.5" y="1828">+5.0 kb</text>
<text font-size="22.5" text-anchor="middle" textLength="118.5" lengthAdjust="spacingAndGlyphs" transform="translate(626 1721.4) rotate(-90)">ChIP signal</text>
<defs><linearGradient id="gcs" x1="0" y1="0" x2="1" y2="0"><stop offset="0" stop-color="#f3f8fd" stop-opacity="0"/><stop offset="0.5" stop-color="#f3f8fd" stop-opacity="0.7"/><stop offset="1" stop-color="#f3f8fd" stop-opacity="0"/></linearGradient></defs>
<defs><filter id="gblur" x="-0.3" y="-0.3" width="1.6" height="1.6"><feGaussianBlur stdDeviation="3.2"/></filter><radialGradient id="gbr"><stop offset="0" stop-color="#0f539c" stop-opacity="1"/><stop offset="0.5" stop-color="#2d7dbb" stop-opacity="0.55"/><stop offset="1" stop-color="#6baed6" stop-opacity="0"/></radialGradient></defs>
<defs><linearGradient id="gs0" x1="0" y1="0" x2="0" y2="1"><stop offset="0" stop-color="#5fa3d1" stop-opacity="0.062"/><stop offset="0.25" stop-color="#5fa3d1" stop-opacity="0.279"/><stop offset="0.45" stop-color="#5fa3d1" stop-opacity="0.527"/><stop offset="0.6" stop-color="#5fa3d1" stop-opacity="0.496"/><stop offset="0.8" stop-color="#5fa3d1" stop-opacity="0.279"/><stop offset="1" stop-color="#5fa3d1" stop-opacity="0.093"/></linearGradient><clipPath id="gc0"><rect x="670.2" y="1842" width="180.7" height="44"/></clipPath></defs>
<g clip-path="url(#gc0)">
<rect x="670.2" y="1842" width="180.7" height="44" fill="#edf4fb"/>
<rect x="670.2" y="1842" width="180.7" height="44" fill="url(#gs0)"/>
<rect x="670.2" y="1848.41" width="180.7" height="1.52" fill="#3f8fc6" opacity="0.107"/>
<rect x="670.2" y="1874.21" width="180.7" height="1.54" fill="#3f8fc6" opacity="0.127"/>
<rect x="670.2" y="1845.53" width="180.7" height="0.94" fill="#3f8fc6" opacity="0.104"/>
<rect x="670.2" y="1883.67" width="180.7" height="1.15" fill="#3f8fc6" opacity="0.099"/>
<rect x="670.2" y="1850.97" width="180.7" height="1.05" fill="#3f8fc6" opacity="0.089"/>
<rect x="670.2" y="1869.56" width="180.7" height="1.11" fill="#ffffff" opacity="0.339"/>
<rect x="670.2" y="1866.44" width="180.7" height="1.72" fill="#ffffff" opacity="0.14"/>
<rect x="670.2" y="1870.54" width="180.7" height="0.9" fill="#3f8fc6" opacity="0.122"/>
<rect x="670.2" y="1876.03" width="180.7" height="1.09" fill="#ffffff" opacity="0.31"/>
<rect x="670.2" y="1882.21" width="180.7" height="1.26" fill="#3f8fc6" opacity="0.099"/>
<rect x="670.2" y="1881.7" width="180.7" height="1.34" fill="#3f8fc6" opacity="0.123"/>
<rect x="670.2" y="1868.8" width="180.7" height="1.67" fill="#ffffff" opacity="0.227"/>
<rect x="670.2" y="1854.75" width="180.7" height="1.43" fill="#ffffff" opacity="0.186"/>
<rect x="670.2" y="1879.58" width="180.7" height="1.29" fill="#3f8fc6" opacity="0.122"/>
<rect x="753.55" y="1842" width="14" height="44" fill="url(#gcs)"/>
</g>
<rect x="670.2" y="1842" width="180.7" height="44" fill="none" stroke="#231f20" stroke-width="1.3"/>
<defs><clipPath id="gc1"><rect x="897.6" y="1842" width="180.7" height="44"/></clipPath><linearGradient id="gh1" x1="0" y1="0" x2="0" y2="1"><stop offset="0" stop-color="#5b9fcf" stop-opacity="0.03"/><stop offset="0.35" stop-color="#8fc0de" stop-opacity="0.013"/><stop offset="1" stop-color="#c3dbee" stop-opacity="0"/></linearGradient><linearGradient id="gb1" x1="0" y1="0" x2="0" y2="1"><stop offset="0" stop-color="#1c66ac" stop-opacity="0.0"/><stop offset="1" stop-color="#9ecae1" stop-opacity="0"/></linearGradient></defs>
<g clip-path="url(#gc1)">
<rect x="897.6" y="1842" width="180.7" height="44" fill="#f2f7fc"/>
<rect x="897.6" y="1842" width="180.7" height="32.2" fill="url(#gh1)"/>
<rect x="897.6" y="1844.05" width="180.7" height="0.8" fill="#5b9fcf" opacity="0.022"/>
<rect x="897.6" y="1842.11" width="180.7" height="0.8" fill="#5b9fcf" opacity="0.023"/>
<rect x="897.6" y="1865.02" width="180.7" height="0.8" fill="#5b9fcf" opacity="0.007"/>
<rect x="897.6" y="1856.37" width="180.7" height="0.8" fill="#5b9fcf" opacity="0.02"/>
<rect x="897.6" y="1855.8" width="180.7" height="0.8" fill="#5b9fcf" opacity="0.023"/>
<rect x="897.6" y="1860.66" width="180.7" height="0.8" fill="#5b9fcf" opacity="0.005"/>
<rect x="897.6" y="1859.34" width="180.7" height="0.8" fill="#5b9fcf" opacity="0.011"/>
<rect x="897.6" y="1858.39" width="180.7" height="0.8" fill="#5b9fcf" opacity="0.008"/>
<rect x="897.6" y="1863.27" width="180.7" height="0.8" fill="#5b9fcf" opacity="0.005"/>
<rect x="897.6" y="1851.16" width="180.7" height="0.8" fill="#5b9fcf" opacity="0.014"/>
<rect x="897.6" y="1850.16" width="180.7" height="0.8" fill="#5b9fcf" opacity="0.013"/>
<rect x="897.6" y="1865.04" width="180.7" height="0.8" fill="#5b9fcf" opacity="0.007"/>
<rect x="897.6" y="1842.93" width="180.7" height="0.8" fill="#5b9fcf" opacity="0.033"/>
<rect x="897.6" y="1844.39" width="180.7" height="0.8" fill="#5b9fcf" opacity="0.034"/>
<rect x="897.6" y="1854.46" width="180.7" height="0.8" fill="#5b9fcf" opacity="0.018"/>
<rect x="897.6" y="1865.3" width="180.7" height="0.8" fill="#5b9fcf" opacity="0.008"/>
<g filter="url(#gblur)">
<path d="M973.65 1839H1002.25L992.9 1854.6L987.95 1864.4L983 1854.6Z" fill="#8fc0de" opacity="0.15"/>
<path d="M959.35 1839H1016.55L993.45 1848.3L987.95 1858.8L982.45 1848.3Z" fill="#6faed6" opacity="0.25"/>
<path d="M971.45 1839H1004.45L991.8 1849L987.95 1856L984.1 1849Z" fill="#3481be" opacity="0.375"/>
<path d="M976.95 1839H998.95L991.25 1847.6L987.95 1852.08L984.65 1847.6Z" fill="#0c4a94" opacity="0.5"/>
</g>
</g>
<rect x="897.6" y="1842" width="180.7" height="44" fill="none" stroke="#231f20" stroke-width="1.3"/>
<defs><clipPath id="gc2"><rect x="1124.8" y="1842" width="180.7" height="44"/></clipPath><linearGradient id="gh2" x1="0" y1="0" x2="0" y2="1"><stop offset="0" stop-color="#5b9fcf" stop-opacity="0.18"/><stop offset="0.35" stop-color="#8fc0de" stop-opacity="0.081"/><stop offset="1" stop-color="#c3dbee" stop-opacity="0"/></linearGradient><linearGradient id="gb2" x1="0" y1="0" x2="0" y2="1"><stop offset="0" stop-color="#1c66ac" stop-opacity="0.5"/><stop offset="1" stop-color="#9ecae1" stop-opacity="0"/></linearGradient></defs>
<g clip-path="url(#gc2)">
<rect x="1124.8" y="1842" width="180.7" height="44" fill="#f2f7fc"/>
<rect x="1124.8" y="1842" width="180.7" height="29.9" fill="url(#gh2)"/>
<rect x="1124.8" y="1863.7" width="180.7" height="0.8" fill="#5b9fcf" opacity="0.017"/>
<rect x="1124.8" y="1853.63" width="180.7" height="0.8" fill="#5b9fcf" opacity="0.027"/>
<rect x="1124.8" y="1861.22" width="180.7" height="0.8" fill="#5b9fcf" opacity="0.034"/>
<rect x="1124.8" y="1854.15" width="180.7" height="0.8" fill="#5b9fcf" opacity="0.061"/>
<rect x="1124.8" y="1843.02" width="180.7" height="0.8" fill="#5b9fcf" opacity="0.082"/>
<rect x="1124.8" y="1847.73" width="180.7" height="0.8" fill="#5b9fcf" opacity="0.062"/>
<rect x="1124.8" y="1859.36" width="180.7" height="0.8" fill="#5b9fcf" opacity="0.039"/>
<rect x="1124.8" y="1856.85" width="180.7" height="0.8" fill="#5b9fcf" opacity="0.05"/>
<rect x="1124.8" y="1851.28" width="180.7" height="0.8" fill="#5b9fcf" opacity="0.027"/>
<rect x="1124.8" y="1855.21" width="180.7" height="0.8" fill="#5b9fcf" opacity="0.05"/>
<rect x="1124.8" y="1862.11" width="180.7" height="0.8" fill="#5b9fcf" opacity="0.008"/>
<rect x="1124.8" y="1849.06" width="180.7" height="0.8" fill="#5b9fcf" opacity="0.04"/>
<rect x="1124.8" y="1855.4" width="180.7" height="0.8" fill="#5b9fcf" opacity="0.056"/>
<rect x="1124.8" y="1849.7" width="180.7" height="0.8" fill="#5b9fcf" opacity="0.023"/>
<g filter="url(#gblur)">
<path d="M1193.05 1839H1237.25L1222.8 1853.7L1215.15 1862.8L1207.5 1853.7Z" fill="#8fc0de" opacity="0.255"/>
<path d="M1170.95 1839H1259.35L1223.65 1847.85L1215.15 1857.6L1206.65 1847.85Z" fill="#6faed6" opacity="0.425"/>
<path d="M1189.65 1839H1240.65L1221.1 1848.5L1215.15 1855L1209.2 1848.5Z" fill="#3481be" opacity="0.637"/>
<path d="M1198.15 1839H1232.15L1220.25 1847.2L1215.15 1851.36L1210.05 1847.2Z" fill="#0c4a94" opacity="0.85"/>
</g>
<ellipse cx="1215.15" cy="1842" rx="61.2" ry="8" fill="url(#gbr)" opacity="0.5"/>
</g>
<rect x="1124.8" y="1842" width="180.7" height="44" fill="none" stroke="#231f20" stroke-width="1.3"/>
<defs><clipPath id="gc3"><rect x="1352.4" y="1842" width="180.7" height="44"/></clipPath><linearGradient id="gh3" x1="0" y1="0" x2="0" y2="1"><stop offset="0" stop-color="#5b9fcf" stop-opacity="0.2"/><stop offset="0.35" stop-color="#8fc0de" stop-opacity="0.09"/><stop offset="1" stop-color="#c3dbee" stop-opacity="0"/></linearGradient><linearGradient id="gb3" x1="0" y1="0" x2="0" y2="1"><stop offset="0" stop-color="#1c66ac" stop-opacity="0.4"/><stop offset="1" stop-color="#9ecae1" stop-opacity="0"/></linearGradient></defs>
<g clip-path="url(#gc3)">
<rect x="1352.4" y="1842" width="180.7" height="44" fill="#f2f7fc"/>
<rect x="1352.4" y="1842" width="180.7" height="27.6" fill="url(#gh3)"/>
<rect x="1352.4" y="1844.38" width="180.7" height="0.8" fill="#5b9fcf" opacity="0.109"/>
<rect x="1352.4" y="1857.74" width="180.7" height="0.8" fill="#5b9fcf" opacity="0.018"/>
<rect x="1352.4" y="1862.44" width="180.7" height="0.8" fill="#5b9fcf" opacity="0.016"/>
<rect x="1352.4" y="1863.71" width="180.7" height="0.8" fill="#5b9fcf" opacity="0.012"/>
<rect x="1352.4" y="1860.96" width="180.7" height="0.8" fill="#5b9fcf" opacity="0.025"/>
<rect x="1352.4" y="1851.02" width="180.7" height="0.8" fill="#5b9fcf" opacity="0.024"/>
<rect x="1352.4" y="1865.54" width="180.7" height="0.8" fill="#5b9fcf" opacity="0.003"/>
<rect x="1352.4" y="1856.6" width="180.7" height="0.8" fill="#5b9fcf" opacity="0.052"/>
<rect x="1352.4" y="1851.19" width="180.7" height="0.8" fill="#5b9fcf" opacity="0.035"/>
<rect x="1352.4" y="1852.03" width="180.7" height="0.8" fill="#5b9fcf" opacity="0.029"/>
<rect x="1352.4" y="1861.66" width="180.7" height="0.8" fill="#5b9fcf" opacity="0.012"/>
<rect x="1352.4" y="1843.92" width="180.7" height="0.8" fill="#5b9fcf" opacity="0.087"/>
<rect x="1352.4" y="1848.8" width="180.7" height="0.8" fill="#5b9fcf" opacity="0.035"/>
<g filter="url(#gblur)">
<path d="M1423.25 1839H1462.25L1449.5 1852.8L1442.75 1861.2L1436 1852.8Z" fill="#8fc0de" opacity="0.21"/>
<path d="M1403.75 1839H1481.75L1450.25 1847.4L1442.75 1856.4L1435.25 1847.4Z" fill="#6faed6" opacity="0.35"/>
<path d="M1420.25 1839H1465.25L1448 1848L1442.75 1854L1437.5 1848Z" fill="#3481be" opacity="0.525"/>
<path d="M1427.75 1839H1457.75L1447.25 1846.8L1442.75 1850.64L1438.25 1846.8Z" fill="#0c4a94" opacity="0.7"/>
</g>
<ellipse cx="1442.75" cy="1842" rx="54" ry="8" fill="url(#gbr)" opacity="0.4"/>
</g>
<rect x="1352.4" y="1842" width="180.7" height="44" fill="none" stroke="#231f20" stroke-width="1.3"/>
<defs><linearGradient id="gs4" x1="0" y1="0" x2="0" y2="1"><stop offset="0" stop-color="#5fa3d1" stop-opacity="0.05"/><stop offset="0.15" stop-color="#5fa3d1" stop-opacity="0.124"/><stop offset="0.3" stop-color="#5fa3d1" stop-opacity="0.372"/><stop offset="0.45" stop-color="#5fa3d1" stop-opacity="0.558"/><stop offset="0.6" stop-color="#5fa3d1" stop-opacity="0.527"/><stop offset="0.75" stop-color="#5fa3d1" stop-opacity="0.31"/><stop offset="0.9" stop-color="#5fa3d1" stop-opacity="0.155"/><stop offset="1" stop-color="#5fa3d1" stop-opacity="0.062"/></linearGradient><clipPath id="gc4"><rect x="670.2" y="1900.7" width="180.7" height="118.3"/></clipPath></defs>
<g clip-path="url(#gc4)">
<rect x="670.2" y="1900.7" width="180.7" height="118.3" fill="#edf4fb"/>
<rect x="670.2" y="1900.7" width="180.7" height="118.3" fill="url(#gs4)"/>
<rect x="670.2" y="1969.45" width="180.7" height="1.67" fill="#3f8fc6" opacity="0.234"/>
<rect x="670.2" y="1955.96" width="180.7" height="1.11" fill="#ffffff" opacity="0.155"/>
<rect x="670.2" y="1934.83" width="180.7" height="1.11" fill="#ffffff" opacity="0.343"/>
<rect x="670.2" y="1909.02" width="180.7" height="0.97" fill="#3f8fc6" opacity="0.083"/>
<rect x="670.2" y="1944.06" width="180.7" height="1.16" fill="#3f8fc6" opacity="0.163"/>
<rect x="670.2" y="1948.48" width="180.7" height="1.24" fill="#3f8fc6" opacity="0.114"/>
<rect x="670.2" y="1913.81" width="180.7" height="1.58" fill="#ffffff" opacity="0.266"/>
<rect x="670.2" y="2005.09" width="180.7" height="1.2" fill="#3f8fc6" opacity="0.086"/>
<rect x="670.2" y="1948.56" width="180.7" height="0.91" fill="#ffffff" opacity="0.216"/>
<rect x="670.2" y="1964" width="180.7" height="0.92" fill="#3f8fc6" opacity="0.195"/>
<rect x="670.2" y="1901.82" width="180.7" height="1.05" fill="#ffffff" opacity="0.109"/>
<rect x="670.2" y="1922.09" width="180.7" height="1.02" fill="#3f8fc6" opacity="0.103"/>
<rect x="670.2" y="1986.86" width="180.7" height="1.42" fill="#3f8fc6" opacity="0.118"/>
<rect x="670.2" y="1959.67" width="180.7" height="1.21" fill="#ffffff" opacity="0.317"/>
<rect x="670.2" y="1982.45" width="180.7" height="0.91" fill="#ffffff" opacity="0.121"/>
<rect x="670.2" y="1904.48" width="180.7" height="1.66" fill="#3f8fc6" opacity="0.08"/>
<rect x="670.2" y="1999.9" width="180.7" height="1.46" fill="#3f8fc6" opacity="0.12"/>
<rect x="670.2" y="1996.44" width="180.7" height="1.04" fill="#ffffff" opacity="0.145"/>
<rect x="670.2" y="1994.46" width="180.7" height="1.79" fill="#ffffff" opacity="0.212"/>
<rect x="670.2" y="2005.94" width="180.7" height="1.67" fill="#3f8fc6" opacity="0.112"/>
<rect x="670.2" y="1940.63" width="180.7" height="1.34" fill="#3f8fc6" opacity="0.162"/>
<rect x="670.2" y="1942.15" width="180.7" height="1.12" fill="#3f8fc6" opacity="0.187"/>
<rect x="670.2" y="1911.42" width="180.7" height="1.15" fill="#ffffff" opacity="0.151"/>
<rect x="670.2" y="1913.97" width="180.7" height="1.8" fill="#ffffff" opacity="0.18"/>
<rect x="670.2" y="1912.01" width="180.7" height="1.79" fill="#ffffff" opacity="0.103"/>
<rect x="670.2" y="1975.59" width="180.7" height="1.36" fill="#ffffff" opacity="0.242"/>
<rect x="670.2" y="1995.84" width="180.7" height="1.12" fill="#3f8fc6" opacity="0.12"/>
<rect x="670.2" y="1966.04" width="180.7" height="1.23" fill="#ffffff" opacity="0.334"/>
<rect x="670.2" y="1934.79" width="180.7" height="1.79" fill="#ffffff" opacity="0.2"/>
<rect x="670.2" y="1907.13" width="180.7" height="0.95" fill="#3f8fc6" opacity="0.064"/>
<rect x="670.2" y="1914.95" width="180.7" height="1.2" fill="#3f8fc6" opacity="0.077"/>
<rect x="670.2" y="1979.38" width="180.7" height="1.59" fill="#ffffff" opacity="0.191"/>
<rect x="670.2" y="1979.12" width="180.7" height="1.03" fill="#ffffff" opacity="0.236"/>
<rect x="670.2" y="1938.36" width="180.7" height="1.63" fill="#ffffff" opacity="0.16"/>
<rect x="670.2" y="1952.18" width="180.7" height="1.14" fill="#3f8fc6" opacity="0.068"/>
<rect x="670.2" y="1906.57" width="180.7" height="1.64" fill="#ffffff" opacity="0.21"/>
<rect x="670.2" y="1979.57" width="180.7" height="1.47" fill="#3f8fc6" opacity="0.205"/>
<rect x="670.2" y="1992.17" width="180.7" height="1.69" fill="#3f8fc6" opacity="0.154"/>
<rect x="670.2" y="1907.59" width="180.7" height="1.26" fill="#3f8fc6" opacity="0.068"/>
<rect x="753.55" y="1900.7" width="14" height="118.3" fill="url(#gcs)"/>
</g>
<rect x="670.2" y="1900.7" width="180.7" height="118.3" fill="none" stroke="#231f20" stroke-width="1.3"/>
<defs><clipPath id="gc5"><rect x="897.6" y="1900.7" width="180.7" height="118.3"/></clipPath><linearGradient id="gh5" x1="0" y1="0" x2="0" y2="1"><stop offset="0" stop-color="#5b9fcf" stop-opacity="0.1"/><stop offset="0.35" stop-color="#8fc0de" stop-opacity="0.045"/><stop offset="1" stop-color="#c3dbee" stop-opacity="0"/></linearGradient><linearGradient id="gb5" x1="0" y1="0" x2="0" y2="1"><stop offset="0" stop-color="#1c66ac" stop-opacity="0.15"/><stop offset="1" stop-color="#9ecae1" stop-opacity="0"/></linearGradient></defs>
<g clip-path="url(#gc5)">
<rect x="897.6" y="1900.7" width="180.7" height="118.3" fill="#f2f7fc"/>
<rect x="897.6" y="1900.7" width="180.7" height="87.4" fill="url(#gh5)"/>
<rect x="897.6" y="1936.77" width="180.7" height="0.8" fill="#5b9fcf" opacity="0.036"/>
<rect x="897.6" y="1945.22" width="180.7" height="0.8" fill="#5b9fcf" opacity="0.022"/>
<rect x="897.6" y="1969.51" width="180.7" height="0.8" fill="#5b9fcf" opacity="0.004"/>
<rect x="897.6" y="1981.72" width="180.7" height="0.8" fill="#5b9fcf" opacity="0.001"/>
<rect x="897.6" y="1908.91" width="180.7" height="0.8" fill="#5b9fcf" opacity="0.064"/>
<rect x="897.6" y="1919.66" width="180.7" height="0.8" fill="#5b9fcf" opacity="0.065"/>
<rect x="897.6" y="1957.46" width="180.7" height="0.8" fill="#5b9fcf" opacity="0.009"/>
<rect x="897.6" y="1980.64" width="180.7" height="0.8" fill="#5b9fcf" opacity="0.001"/>
<rect x="897.6" y="1979.86" width="180.7" height="0.8" fill="#5b9fcf" opacity="0.001"/>
<rect x="897.6" y="1925.44" width="180.7" height="0.8" fill="#5b9fcf" opacity="0.042"/>
<rect x="897.6" y="1923.7" width="180.7" height="0.8" fill="#5b9fcf" opacity="0.029"/>
<rect x="897.6" y="1909.34" width="180.7" height="0.8" fill="#5b9fcf" opacity="0.055"/>
<rect x="897.6" y="1971.01" width="180.7" height="0.8" fill="#5b9fcf" opacity="0.004"/>
<rect x="897.6" y="1956.52" width="180.7" height="0.8" fill="#5b9fcf" opacity="0.015"/>
<rect x="897.6" y="1958.75" width="180.7" height="0.8" fill="#5b9fcf" opacity="0.021"/>
<rect x="897.6" y="1945.36" width="180.7" height="0.8" fill="#5b9fcf" opacity="0.018"/>
<rect x="897.6" y="1940.37" width="180.7" height="0.8" fill="#5b9fcf" opacity="0.032"/>
<rect x="897.6" y="1983.59" width="180.7" height="0.8" fill="#5b9fcf" opacity="0.0"/>
<rect x="897.6" y="1925.87" width="180.7" height="0.8" fill="#5b9fcf" opacity="0.017"/>
<rect x="897.6" y="1979.4" width="180.7" height="0.8" fill="#5b9fcf" opacity="0.001"/>
<rect x="897.6" y="1957.27" width="180.7" height="0.8" fill="#5b9fcf" opacity="0.008"/>
<rect x="897.6" y="1942.36" width="180.7" height="0.8" fill="#5b9fcf" opacity="0.031"/>
<rect x="897.6" y="1979.81" width="180.7" height="0.8" fill="#5b9fcf" opacity="0.001"/>
<rect x="897.6" y="1935.97" width="180.7" height="0.8" fill="#5b9fcf" opacity="0.04"/>
<rect x="897.6" y="1943.71" width="180.7" height="0.8" fill="#5b9fcf" opacity="0.011"/>
<rect x="897.6" y="1928.89" width="180.7" height="0.8" fill="#5b9fcf" opacity="0.022"/>
<rect x="897.6" y="1963.61" width="180.7" height="0.8" fill="#5b9fcf" opacity="0.012"/>
<rect x="897.6" y="1907.87" width="180.7" height="0.8" fill="#5b9fcf" opacity="0.05"/>
<rect x="897.6" y="1964.89" width="180.7" height="0.8" fill="#5b9fcf" opacity="0.013"/>
<rect x="897.6" y="1960.79" width="180.7" height="0.8" fill="#5b9fcf" opacity="0.013"/>
<rect x="897.6" y="1941.03" width="180.7" height="0.8" fill="#5b9fcf" opacity="0.039"/>
<rect x="897.6" y="1939.35" width="180.7" height="0.8" fill="#5b9fcf" opacity="0.018"/>
<rect x="897.6" y="1925.71" width="180.7" height="0.8" fill="#5b9fcf" opacity="0.03"/>
<rect x="897.6" y="1934.46" width="180.7" height="0.8" fill="#5b9fcf" opacity="0.021"/>
<rect x="897.6" y="1931.93" width="180.7" height="0.8" fill="#5b9fcf" opacity="0.046"/>
<rect x="897.6" y="1913.38" width="180.7" height="0.8" fill="#5b9fcf" opacity="0.024"/>
<rect x="897.6" y="1919.58" width="180.7" height="0.8" fill="#5b9fcf" opacity="0.023"/>
<rect x="897.6" y="1982.37" width="180.7" height="0.8" fill="#5b9fcf" opacity="0.001"/>
<rect x="897.6" y="1969.21" width="180.7" height="0.8" fill="#5b9fcf" opacity="0.002"/>
<rect x="897.6" y="1956.49" width="180.7" height="0.8" fill="#5b9fcf" opacity="0.019"/>
<rect x="897.6" y="1917.14" width="180.7" height="0.8" fill="#5b9fcf" opacity="0.029"/>
<rect x="897.6" y="1943.1" width="180.7" height="0.8" fill="#5b9fcf" opacity="0.02"/>
<rect x="897.6" y="1934.37" width="180.7" height="0.8" fill="#5b9fcf" opacity="0.031"/>
<g filter="url(#gblur)">
<path d="M968.45 1897.7H1007.45L994.7 1934.9L987.95 1961.5L981.2 1934.9Z" fill="#8fc0de" opacity="0.285"/>
<path d="M948.95 1897.7H1026.95L995.45 1917.8L987.95 1946.3L980.45 1917.8Z" fill="#6faed6" opacity="0.475"/>
<path d="M965.45 1897.7H1010.45L993.2 1919.7L987.95 1938.7L982.7 1919.7Z" fill="#3481be" opacity="0.712"/>
<path d="M972.95 1897.7H1002.95L992.45 1915.9L987.95 1928.06L983.45 1915.9Z" fill="#0c4a94" opacity="0.95"/>
</g>
<ellipse cx="987.95" cy="1900.7" rx="54" ry="8" fill="url(#gbr)" opacity="0.15"/>
</g>
<rect x="897.6" y="1900.7" width="180.7" height="118.3" fill="none" stroke="#231f20" stroke-width="1.3"/>
<defs><clipPath id="gc6"><rect x="1124.8" y="1900.7" width="180.7" height="118.3"/></clipPath><linearGradient id="gh6" x1="0" y1="0" x2="0" y2="1"><stop offset="0" stop-color="#5b9fcf" stop-opacity="0.26"/><stop offset="0.35" stop-color="#8fc0de" stop-opacity="0.117"/><stop offset="1" stop-color="#c3dbee" stop-opacity="0"/></linearGradient><linearGradient id="gb6" x1="0" y1="0" x2="0" y2="1"><stop offset="0" stop-color="#1c66ac" stop-opacity="0.7"/><stop offset="1" stop-color="#9ecae1" stop-opacity="0"/></linearGradient></defs>
<g clip-path="url(#gc6)">
<rect x="1124.8" y="1900.7" width="180.7" height="118.3" fill="#f2f7fc"/>
<rect x="1124.8" y="1900.7" width="180.7" height="82.8" fill="url(#gh6)"/>
<rect x="1124.8" y="1901.38" width="180.7" height="0.8" fill="#5b9fcf" opacity="0.063"/>
<rect x="1124.8" y="1958.6" width="180.7" height="0.8" fill="#5b9fcf" opacity="0.025"/>
<rect x="1124.8" y="1971.16" width="180.7" height="0.8" fill="#5b9fcf" opacity="0.009"/>
<rect x="1124.8" y="1915.24" width="180.7" height="0.8" fill="#5b9fcf" opacity="0.046"/>
<rect x="1124.8" y="1942.16" width="180.7" height="0.8" fill="#5b9fcf" opacity="0.041"/>
<rect x="1124.8" y="1915.88" width="180.7" height="0.8" fill="#5b9fcf" opacity="0.086"/>
<rect x="1124.8" y="1922.29" width="180.7" height="0.8" fill="#5b9fcf" opacity="0.071"/>
<rect x="1124.8" y="1951.38" width="180.7" height="0.8" fill="#5b9fcf" opacity="0.018"/>
<rect x="1124.8" y="1934.1" width="180.7" height="0.8" fill="#5b9fcf" opacity="0.054"/>
<rect x="1124.8" y="1944.2" width="180.7" height="0.8" fill="#5b9fcf" opacity="0.024"/>
<rect x="1124.8" y="1974.51" width="180.7" height="0.8" fill="#5b9fcf" opacity="0.002"/>
<rect x="1124.8" y="1925.62" width="180.7" height="0.8" fill="#5b9fcf" opacity="0.026"/>
<rect x="1124.8" y="1975.29" width="180.7" height="0.8" fill="#5b9fcf" opacity="0.003"/>
<rect x="1124.8" y="1953.07" width="180.7" height="0.8" fill="#5b9fcf" opacity="0.023"/>
<rect x="1124.8" y="1915.59" width="180.7" height="0.8" fill="#5b9fcf" opacity="0.024"/>
<rect x="1124.8" y="1944.68" width="180.7" height="0.8" fill="#5b9fcf" opacity="0.045"/>
<rect x="1124.8" y="1978.6" width="180.7" height="0.8" fill="#5b9fcf" opacity="0.0"/>
<rect x="1124.8" y="1905.78" width="180.7" height="0.8" fill="#5b9fcf" opacity="0.035"/>
<rect x="1124.8" y="1912.81" width="180.7" height="0.8" fill="#5b9fcf" opacity="0.092"/>
<rect x="1124.8" y="1953.82" width="180.7" height="0.8" fill="#5b9fcf" opacity="0.031"/>
<rect x="1124.8" y="1931.08" width="180.7" height="0.8" fill="#5b9fcf" opacity="0.027"/>
<rect x="1124.8" y="1968.9" width="180.7" height="0.8" fill="#5b9fcf" opacity="0.012"/>
<rect x="1124.8" y="1910" width="180.7" height="0.8" fill="#5b9fcf" opacity="0.031"/>
<rect x="1124.8" y="1909.26" width="180.7" height="0.8" fill="#5b9fcf" opacity="0.057"/>
<rect x="1124.8" y="1952.44" width="180.7" height="0.8" fill="#5b9fcf" opacity="0.029"/>
<rect x="1124.8" y="1918.06" width="180.7" height="0.8" fill="#5b9fcf" opacity="0.036"/>
<rect x="1124.8" y="1942.86" width="180.7" height="0.8" fill="#5b9fcf" opacity="0.055"/>
<rect x="1124.8" y="1978.43" width="180.7" height="0.8" fill="#5b9fcf" opacity="0.0"/>
<rect x="1124.8" y="1909.56" width="180.7" height="0.8" fill="#5b9fcf" opacity="0.03"/>
<rect x="1124.8" y="1943.43" width="180.7" height="0.8" fill="#5b9fcf" opacity="0.031"/>
<rect x="1124.8" y="1958.87" width="180.7" height="0.8" fill="#5b9fcf" opacity="0.013"/>
<rect x="1124.8" y="1967.17" width="180.7" height="0.8" fill="#5b9fcf" opacity="0.012"/>
<rect x="1124.8" y="1923.37" width="180.7" height="0.8" fill="#5b9fcf" opacity="0.088"/>
<rect x="1124.8" y="1947.88" width="180.7" height="0.8" fill="#5b9fcf" opacity="0.01"/>
<rect x="1124.8" y="1959.8" width="180.7" height="0.8" fill="#5b9fcf" opacity="0.019"/>
<rect x="1124.8" y="1957.16" width="180.7" height="0.8" fill="#5b9fcf" opacity="0.021"/>
<rect x="1124.8" y="1931.94" width="180.7" height="0.8" fill="#5b9fcf" opacity="0.06"/>
<rect x="1124.8" y="1951.15" width="180.7" height="0.8" fill="#5b9fcf" opacity="0.01"/>
<rect x="1124.8" y="1934.15" width="180.7" height="0.8" fill="#5b9fcf" opacity="0.041"/>
<rect x="1124.8" y="1923.16" width="180.7" height="0.8" fill="#5b9fcf" opacity="0.069"/>
<rect x="1124.8" y="1920.06" width="180.7" height="0.8" fill="#5b9fcf" opacity="0.095"/>
<g filter="url(#gblur)">
<path d="M1189.15 1897.7H1241.15L1224.15 1933.1L1215.15 1958.3L1206.15 1933.1Z" fill="#8fc0de" opacity="0.3"/>
<path d="M1163.15 1897.7H1267.15L1225.15 1916.9L1215.15 1943.9L1205.15 1916.9Z" fill="#6faed6" opacity="0.5"/>
<path d="M1185.15 1897.7H1245.15L1222.15 1918.7L1215.15 1936.7L1208.15 1918.7Z" fill="#3481be" opacity="0.75"/>
<path d="M1195.15 1897.7H1235.15L1221.15 1915.1L1215.15 1926.62L1209.15 1915.1Z" fill="#0c4a94" opacity="1.0"/>
</g>
<ellipse cx="1215.15" cy="1900.7" rx="72" ry="8" fill="url(#gbr)" opacity="0.7"/>
</g>
<rect x="1124.8" y="1900.7" width="180.7" height="118.3" fill="none" stroke="#231f20" stroke-width="1.3"/>
<defs><clipPath id="gc7"><rect x="1352.4" y="1900.7" width="180.7" height="118.3"/></clipPath><linearGradient id="gh7" x1="0" y1="0" x2="0" y2="1"><stop offset="0" stop-color="#5b9fcf" stop-opacity="0.3"/><stop offset="0.35" stop-color="#8fc0de" stop-opacity="0.135"/><stop offset="1" stop-color="#c3dbee" stop-opacity="0"/></linearGradient><linearGradient id="gb7" x1="0" y1="0" x2="0" y2="1"><stop offset="0" stop-color="#1c66ac" stop-opacity="0.6"/><stop offset="1" stop-color="#9ecae1" stop-opacity="0"/></linearGradient></defs>
<g clip-path="url(#gc7)">
<rect x="1352.4" y="1900.7" width="180.7" height="118.3" fill="#f2f7fc"/>
<rect x="1352.4" y="1900.7" width="180.7" height="87.4" fill="url(#gh7)"/>
<rect x="1352.4" y="1942.71" width="180.7" height="0.8" fill="#5b9fcf" opacity="0.044"/>
<rect x="1352.4" y="1971.56" width="180.7" height="0.8" fill="#5b9fcf" opacity="0.005"/>
<rect x="1352.4" y="1913.98" width="180.7" height="0.8" fill="#5b9fcf" opacity="0.084"/>
<rect x="1352.4" y="1929.48" width="180.7" height="0.8" fill="#5b9fcf" opacity="0.064"/>
<rect x="1352.4" y="1971.16" width="180.7" height="0.8" fill="#5b9fcf" opacity="0.004"/>
<rect x="1352.4" y="1931.18" width="180.7" height="0.8" fill="#5b9fcf" opacity="0.029"/>
<rect x="1352.4" y="1927.64" width="180.7" height="0.8" fill="#5b9fcf" opacity="0.083"/>
<rect x="1352.4" y="1917.48" width="180.7" height="0.8" fill="#5b9fcf" opacity="0.056"/>
<rect x="1352.4" y="1916.55" width="180.7" height="0.8" fill="#5b9fcf" opacity="0.036"/>
<rect x="1352.4" y="1909.44" width="180.7" height="0.8" fill="#5b9fcf" opacity="0.03"/>
<rect x="1352.4" y="1966.19" width="180.7" height="0.8" fill="#5b9fcf" opacity="0.016"/>
<rect x="1352.4" y="1929.18" width="180.7" height="0.8" fill="#5b9fcf" opacity="0.069"/>
<rect x="1352.4" y="1977.41" width="180.7" height="0.8" fill="#5b9fcf" opacity="0.003"/>
<rect x="1352.4" y="1955.03" width="180.7" height="0.8" fill="#5b9fcf" opacity="0.012"/>
<rect x="1352.4" y="1924.94" width="180.7" height="0.8" fill="#5b9fcf" opacity="0.046"/>
<rect x="1352.4" y="1938.9" width="180.7" height="0.8" fill="#5b9fcf" opacity="0.047"/>
<rect x="1352.4" y="1931.23" width="180.7" height="0.8" fill="#5b9fcf" opacity="0.04"/>
<rect x="1352.4" y="1965.8" width="180.7" height="0.8" fill="#5b9fcf" opacity="0.011"/>
<rect x="1352.4" y="1958.17" width="180.7" height="0.8" fill="#5b9fcf" opacity="0.027"/>
<rect x="1352.4" y="1975.61" width="180.7" height="0.8" fill="#5b9fcf" opacity="0.003"/>
<rect x="1352.4" y="1921.27" width="180.7" height="0.8" fill="#5b9fcf" opacity="0.08"/>
<rect x="1352.4" y="1924.22" width="180.7" height="0.8" fill="#5b9fcf" opacity="0.057"/>
<rect x="1352.4" y="1926.66" width="180.7" height="0.8" fill="#5b9fcf" opacity="0.083"/>
<rect x="1352.4" y="1942.11" width="180.7" height="0.8" fill="#5b9fcf" opacity="0.023"/>
<rect x="1352.4" y="1975.81" width="180.7" height="0.8" fill="#5b9fcf" opacity="0.002"/>
<rect x="1352.4" y="1924.02" width="180.7" height="0.8" fill="#5b9fcf" opacity="0.068"/>
<rect x="1352.4" y="1930.02" width="180.7" height="0.8" fill="#5b9fcf" opacity="0.07"/>
<rect x="1352.4" y="1982.14" width="180.7" height="0.8" fill="#5b9fcf" opacity="0.001"/>
<rect x="1352.4" y="1941.55" width="180.7" height="0.8" fill="#5b9fcf" opacity="0.06"/>
<rect x="1352.4" y="1954.45" width="180.7" height="0.8" fill="#5b9fcf" opacity="0.03"/>
<rect x="1352.4" y="1946.45" width="180.7" height="0.8" fill="#5b9fcf" opacity="0.045"/>
<rect x="1352.4" y="1972.61" width="180.7" height="0.8" fill="#5b9fcf" opacity="0.003"/>
<rect x="1352.4" y="1916.09" width="180.7" height="0.8" fill="#5b9fcf" opacity="0.025"/>
<rect x="1352.4" y="1920" width="180.7" height="0.8" fill="#5b9fcf" opacity="0.046"/>
<rect x="1352.4" y="1932.6" width="180.7" height="0.8" fill="#5b9fcf" opacity="0.041"/>
<rect x="1352.4" y="1946.62" width="180.7" height="0.8" fill="#5b9fcf" opacity="0.038"/>
<rect x="1352.4" y="1900.95" width="180.7" height="0.8" fill="#5b9fcf" opacity="0.049"/>
<rect x="1352.4" y="1969.9" width="180.7" height="0.8" fill="#5b9fcf" opacity="0.016"/>
<rect x="1352.4" y="1906.8" width="180.7" height="0.8" fill="#5b9fcf" opacity="0.057"/>
<rect x="1352.4" y="1947.89" width="180.7" height="0.8" fill="#5b9fcf" opacity="0.03"/>
<rect x="1352.4" y="1913.22" width="180.7" height="0.8" fill="#5b9fcf" opacity="0.103"/>
<rect x="1352.4" y="1950.27" width="180.7" height="0.8" fill="#5b9fcf" opacity="0.025"/>
<rect x="1352.4" y="1926.53" width="180.7" height="0.8" fill="#5b9fcf" opacity="0.027"/>
<g filter="url(#gblur)">
<path d="M1416.75 1897.7H1468.75L1451.75 1934.9L1442.75 1961.5L1433.75 1934.9Z" fill="#8fc0de" opacity="0.285"/>
<path d="M1390.75 1897.7H1494.75L1452.75 1917.8L1442.75 1946.3L1432.75 1917.8Z" fill="#6faed6" opacity="0.475"/>
<path d="M1412.75 1897.7H1472.75L1449.75 1919.7L1442.75 1938.7L1435.75 1919.7Z" fill="#3481be" opacity="0.712"/>
<path d="M1422.75 1897.7H1462.75L1448.75 1915.9L1442.75 1928.06L1436.75 1915.9Z" fill="#0c4a94" opacity="0.95"/>
</g>
<ellipse cx="1442.75" cy="1900.7" rx="72" ry="8" fill="url(#gbr)" opacity="0.6"/>
</g>
<rect x="1352.4" y="1900.7" width="180.7" height="118.3" fill="none" stroke="#231f20" stroke-width="1.3"/>
<defs><linearGradient id="gs8" x1="0" y1="0" x2="0" y2="1"><stop offset="0" stop-color="#5fa3d1" stop-opacity="0.031"/><stop offset="0.15" stop-color="#5fa3d1" stop-opacity="0.093"/><stop offset="0.3" stop-color="#5fa3d1" stop-opacity="0.248"/><stop offset="0.42" stop-color="#5fa3d1" stop-opacity="0.403"/><stop offset="0.55" stop-color="#5fa3d1" stop-opacity="0.403"/><stop offset="0.7" stop-color="#5fa3d1" stop-opacity="0.248"/><stop offset="0.85" stop-color="#5fa3d1" stop-opacity="0.112"/><stop offset="1" stop-color="#5fa3d1" stop-opacity="0.037"/></linearGradient><clipPath id="gc8"><rect x="670.2" y="2033.6" width="180.7" height="153.8"/></clipPath></defs>
<g clip-path="url(#gc8)">
<rect x="670.2" y="2033.6" width="180.7" height="153.8" fill="#edf4fb"/>
<rect x="670.2" y="2033.6" width="180.7" height="153.8" fill="url(#gs8)"/>
<rect x="670.2" y="2056.39" width="180.7" height="1.07" fill="#ffffff" opacity="0.278"/>
<rect x="670.2" y="2127.08" width="180.7" height="1.39" fill="#3f8fc6" opacity="0.129"/>
<rect x="670.2" y="2040.25" width="180.7" height="1.52" fill="#ffffff" opacity="0.23"/>
<rect x="670.2" y="2168.86" width="180.7" height="1.28" fill="#ffffff" opacity="0.157"/>
<rect x="670.2" y="2053.29" width="180.7" height="1.59" fill="#ffffff" opacity="0.252"/>
<rect x="670.2" y="2101.54" width="180.7" height="1.12" fill="#ffffff" opacity="0.233"/>
<rect x="670.2" y="2055.96" width="180.7" height="1.53" fill="#ffffff" opacity="0.268"/>
<rect x="670.2" y="2071.5" width="180.7" height="1.17" fill="#3f8fc6" opacity="0.107"/>
<rect x="670.2" y="2112.02" width="180.7" height="1.33" fill="#ffffff" opacity="0.2"/>
<rect x="670.2" y="2173.18" width="180.7" height="1.07" fill="#3f8fc6" opacity="0.077"/>
<rect x="670.2" y="2130.71" width="180.7" height="1.35" fill="#3f8fc6" opacity="0.11"/>
<rect x="670.2" y="2136.44" width="180.7" height="1.73" fill="#ffffff" opacity="0.26"/>
<rect x="670.2" y="2105.91" width="180.7" height="1.35" fill="#ffffff" opacity="0.256"/>
<rect x="670.2" y="2167.17" width="180.7" height="1.29" fill="#ffffff" opacity="0.286"/>
<rect x="670.2" y="2125.92" width="180.7" height="1.52" fill="#ffffff" opacity="0.233"/>
<rect x="670.2" y="2183.4" width="180.7" height="1.3" fill="#ffffff" opacity="0.334"/>
<rect x="670.2" y="2178.8" width="180.7" height="0.96" fill="#3f8fc6" opacity="0.08"/>
<rect x="670.2" y="2169.36" width="180.7" height="1.1" fill="#3f8fc6" opacity="0.083"/>
<rect x="670.2" y="2178.19" width="180.7" height="1.26" fill="#3f8fc6" opacity="0.076"/>
<rect x="670.2" y="2067.56" width="180.7" height="1.01" fill="#3f8fc6" opacity="0.088"/>
<rect x="670.2" y="2068.96" width="180.7" height="1.21" fill="#3f8fc6" opacity="0.069"/>
<rect x="670.2" y="2051.88" width="180.7" height="1.23" fill="#3f8fc6" opacity="0.069"/>
<rect x="670.2" y="2145.61" width="180.7" height="1.09" fill="#3f8fc6" opacity="0.075"/>
<rect x="670.2" y="2079.3" width="180.7" height="1.1" fill="#ffffff" opacity="0.216"/>
<rect x="670.2" y="2157.67" width="180.7" height="1.36" fill="#ffffff" opacity="0.311"/>
<rect x="670.2" y="2132.4" width="180.7" height="0.97" fill="#3f8fc6" opacity="0.079"/>
<rect x="670.2" y="2155.12" width="180.7" height="1.57" fill="#3f8fc6" opacity="0.117"/>
<rect x="670.2" y="2175" width="180.7" height="0.91" fill="#3f8fc6" opacity="0.068"/>
<rect x="670.2" y="2067.27" width="180.7" height="1.6" fill="#ffffff" opacity="0.33"/>
<rect x="670.2" y="2142.05" width="180.7" height="1.54" fill="#ffffff" opacity="0.219"/>
<rect x="670.2" y="2162.3" width="180.7" height="1.52" fill="#3f8fc6" opacity="0.092"/>
<rect x="670.2" y="2166.93" width="180.7" height="1.05" fill="#3f8fc6" opacity="0.095"/>
<rect x="670.2" y="2055.45" width="180.7" height="1.38" fill="#3f8fc6" opacity="0.075"/>
<rect x="670.2" y="2168.83" width="180.7" height="1.24" fill="#ffffff" opacity="0.134"/>
<rect x="670.2" y="2174.25" width="180.7" height="1.1" fill="#3f8fc6" opacity="0.064"/>
<rect x="670.2" y="2034.99" width="180.7" height="1.18" fill="#ffffff" opacity="0.239"/>
<rect x="670.2" y="2175.76" width="180.7" height="1.66" fill="#3f8fc6" opacity="0.062"/>
<rect x="670.2" y="2150.19" width="180.7" height="1.86" fill="#ffffff" opacity="0.108"/>
<rect x="670.2" y="2111.52" width="180.7" height="1.5" fill="#ffffff" opacity="0.218"/>
<rect x="670.2" y="2075.57" width="180.7" height="1.78" fill="#ffffff" opacity="0.275"/>
<rect x="670.2" y="2181.13" width="180.7" height="0.98" fill="#ffffff" opacity="0.274"/>
<rect x="670.2" y="2049.73" width="180.7" height="1.55" fill="#ffffff" opacity="0.152"/>
<rect x="670.2" y="2057.04" width="180.7" height="1.04" fill="#3f8fc6" opacity="0.093"/>
<rect x="670.2" y="2068.66" width="180.7" height="1.03" fill="#ffffff" opacity="0.185"/>
<rect x="670.2" y="2106.23" width="180.7" height="1.67" fill="#3f8fc6" opacity="0.094"/>
<rect x="670.2" y="2107.98" width="180.7" height="0.99" fill="#3f8fc6" opacity="0.159"/>
<rect x="670.2" y="2085.76" width="180.7" height="1.45" fill="#3f8fc6" opacity="0.069"/>
<rect x="670.2" y="2041.98" width="180.7" height="1.89" fill="#ffffff" opacity="0.105"/>
<rect x="670.2" y="2103.15" width="180.7" height="1.73" fill="#ffffff" opacity="0.347"/>
<rect x="670.2" y="2114.99" width="180.7" height="0.96" fill="#ffffff" opacity="0.218"/>
<rect x="670.2" y="2164" width="180.7" height="1.25" fill="#3f8fc6" opacity="0.078"/>
<rect x="753.55" y="2033.6" width="14" height="153.8" fill="url(#gcs)"/>
</g>
<rect x="670.2" y="2033.6" width="180.7" height="153.8" fill="none" stroke="#231f20" stroke-width="1.3"/>
<defs><clipPath id="gc9"><rect x="897.6" y="2033.6" width="180.7" height="153.8"/></clipPath><linearGradient id="gh9" x1="0" y1="0" x2="0" y2="1"><stop offset="0" stop-color="#5b9fcf" stop-opacity="0.12"/><stop offset="0.35" stop-color="#8fc0de" stop-opacity="0.054"/><stop offset="1" stop-color="#c3dbee" stop-opacity="0"/></linearGradient><linearGradient id="gb9" x1="0" y1="0" x2="0" y2="1"><stop offset="0" stop-color="#1c66ac" stop-opacity="0.2"/><stop offset="1" stop-color="#9ecae1" stop-opacity="0"/></linearGradient></defs>
<g clip-path="url(#gc9)">
<rect x="897.6" y="2033.6" width="180.7" height="153.8" fill="#f2f7fc"/>
<rect x="897.6" y="2033.6" width="180.7" height="105.8" fill="url(#gh9)"/>
<rect x="897.6" y="2089.59" width="180.7" height="0.8" fill="#5b9fcf" opacity="0.009"/>
<rect x="897.6" y="2130.64" width="180.7" height="0.8" fill="#5b9fcf" opacity="0.001"/>
<rect x="897.6" y="2098.16" width="180.7" height="0.8" fill="#5b9fcf" opacity="0.011"/>
<rect x="897.6" y="2070.33" width="180.7" height="0.8" fill="#5b9fcf" opacity="0.046"/>
<rect x="897.6" y="2126.94" width="180.7" height="0.8" fill="#5b9fcf" opacity="0.002"/>
<rect x="897.6" y="2053.98" width="180.7" height="0.8" fill="#5b9fcf" opacity="0.021"/>
<rect x="897.6" y="2082.98" width="180.7" height="0.8" fill="#5b9fcf" opacity="0.021"/>
<rect x="897.6" y="2036.42" width="180.7" height="0.8" fill="#5b9fcf" opacity="0.032"/>
<rect x="897.6" y="2090.49" width="180.7" height="0.8" fill="#5b9fcf" opacity="0.027"/>
<rect x="897.6" y="2099.39" width="180.7" height="0.8" fill="#5b9fcf" opacity="0.023"/>
<rect x="897.6" y="2061.94" width="180.7" height="0.8" fill="#5b9fcf" opacity="0.022"/>
<rect x="897.6" y="2104.17" width="180.7" height="0.8" fill="#5b9fcf" opacity="0.017"/>
<rect x="897.6" y="2093.37" width="180.7" height="0.8" fill="#5b9fcf" opacity="0.009"/>
<rect x="897.6" y="2043.84" width="180.7" height="0.8" fill="#5b9fcf" opacity="0.073"/>
<rect x="897.6" y="2046.3" width="180.7" height="0.8" fill="#5b9fcf" opacity="0.045"/>
<rect x="897.6" y="2103.29" width="180.7" height="0.8" fill="#5b9fcf" opacity="0.016"/>
<rect x="897.6" y="2106.63" width="180.7" height="0.8" fill="#5b9fcf" opacity="0.005"/>
<rect x="897.6" y="2087.65" width="180.7" height="0.8" fill="#5b9fcf" opacity="0.017"/>
<rect x="897.6" y="2102.14" width="180.7" height="0.8" fill="#5b9fcf" opacity="0.011"/>
<rect x="897.6" y="2123.2" width="180.7" height="0.8" fill="#5b9fcf" opacity="0.003"/>
<rect x="897.6" y="2054.9" width="180.7" height="0.8" fill="#5b9fcf" opacity="0.05"/>
<rect x="897.6" y="2046.32" width="180.7" height="0.8" fill="#5b9fcf" opacity="0.074"/>
<rect x="897.6" y="2037.98" width="180.7" height="0.8" fill="#5b9fcf" opacity="0.065"/>
<rect x="897.6" y="2107.11" width="180.7" height="0.8" fill="#5b9fcf" opacity="0.01"/>
<rect x="897.6" y="2060.87" width="180.7" height="0.8" fill="#5b9fcf" opacity="0.056"/>
<rect x="897.6" y="2089.36" width="180.7" height="0.8" fill="#5b9fcf" opacity="0.014"/>
<rect x="897.6" y="2125.59" width="180.7" height="0.8" fill="#5b9fcf" opacity="0.003"/>
<rect x="897.6" y="2074.15" width="180.7" height="0.8" fill="#5b9fcf" opacity="0.027"/>
<rect x="897.6" y="2116.67" width="180.7" height="0.8" fill="#5b9fcf" opacity="0.008"/>
<rect x="897.6" y="2109.69" width="180.7" height="0.8" fill="#5b9fcf" opacity="0.007"/>
<rect x="897.6" y="2037.48" width="180.7" height="0.8" fill="#5b9fcf" opacity="0.089"/>
<rect x="897.6" y="2060.54" width="180.7" height="0.8" fill="#5b9fcf" opacity="0.024"/>
<rect x="897.6" y="2062.35" width="180.7" height="0.8" fill="#5b9fcf" opacity="0.03"/>
<rect x="897.6" y="2078.29" width="180.7" height="0.8" fill="#5b9fcf" opacity="0.047"/>
<rect x="897.6" y="2092.37" width="180.7" height="0.8" fill="#5b9fcf" opacity="0.013"/>
<rect x="897.6" y="2046.55" width="180.7" height="0.8" fill="#5b9fcf" opacity="0.084"/>
<rect x="897.6" y="2043.92" width="180.7" height="0.8" fill="#5b9fcf" opacity="0.055"/>
<rect x="897.6" y="2054.65" width="180.7" height="0.8" fill="#5b9fcf" opacity="0.026"/>
<rect x="897.6" y="2070.95" width="180.7" height="0.8" fill="#5b9fcf" opacity="0.033"/>
<rect x="897.6" y="2124.14" width="180.7" height="0.8" fill="#5b9fcf" opacity="0.003"/>
<rect x="897.6" y="2086.31" width="180.7" height="0.8" fill="#5b9fcf" opacity="0.017"/>
<rect x="897.6" y="2122" width="180.7" height="0.8" fill="#5b9fcf" opacity="0.006"/>
<rect x="897.6" y="2102.42" width="180.7" height="0.8" fill="#5b9fcf" opacity="0.023"/>
<rect x="897.6" y="2065.53" width="180.7" height="0.8" fill="#5b9fcf" opacity="0.039"/>
<rect x="897.6" y="2072.56" width="180.7" height="0.8" fill="#5b9fcf" opacity="0.045"/>
<rect x="897.6" y="2131.05" width="180.7" height="0.8" fill="#5b9fcf" opacity="0.0"/>
<rect x="897.6" y="2063.68" width="180.7" height="0.8" fill="#5b9fcf" opacity="0.027"/>
<rect x="897.6" y="2078.81" width="180.7" height="0.8" fill="#5b9fcf" opacity="0.014"/>
<rect x="897.6" y="2041.4" width="180.7" height="0.8" fill="#5b9fcf" opacity="0.043"/>
<rect x="897.6" y="2096.1" width="180.7" height="0.8" fill="#5b9fcf" opacity="0.021"/>
<rect x="897.6" y="2057.64" width="180.7" height="0.8" fill="#5b9fcf" opacity="0.021"/>
<rect x="897.6" y="2107.71" width="180.7" height="0.8" fill="#5b9fcf" opacity="0.007"/>
<g filter="url(#gblur)">
<path d="M967.15 2030.6H1008.75L995.15 2075L987.95 2107.2L980.75 2075Z" fill="#8fc0de" opacity="0.3"/>
<path d="M946.35 2030.6H1029.55L995.95 2054.3L987.95 2088.8L979.95 2054.3Z" fill="#6faed6" opacity="0.5"/>
<path d="M963.95 2030.6H1011.95L993.55 2056.6L987.95 2079.6L982.35 2056.6Z" fill="#3481be" opacity="0.75"/>
<path d="M971.95 2030.6H1003.95L992.75 2052L987.95 2066.72L983.15 2052Z" fill="#0c4a94" opacity="1.0"/>
</g>
<ellipse cx="987.95" cy="2033.6" rx="57.6" ry="8" fill="url(#gbr)" opacity="0.2"/>
</g>
<rect x="897.6" y="2033.6" width="180.7" height="153.8" fill="none" stroke="#231f20" stroke-width="1.3"/>
<defs><clipPath id="gc10"><rect x="1124.8" y="2033.6" width="180.7" height="153.8"/></clipPath><linearGradient id="gh10" x1="0" y1="0" x2="0" y2="1"><stop offset="0" stop-color="#5b9fcf" stop-opacity="0.28"/><stop offset="0.35" stop-color="#8fc0de" stop-opacity="0.126"/><stop offset="1" stop-color="#c3dbee" stop-opacity="0"/></linearGradient><linearGradient id="gb10" x1="0" y1="0" x2="0" y2="1"><stop offset="0" stop-color="#1c66ac" stop-opacity="0.75"/><stop offset="1" stop-color="#9ecae1" stop-opacity="0"/></linearGradient></defs>
<g clip-path="url(#gc10)">
<rect x="1124.8" y="2033.6" width="180.7" height="153.8" fill="#f2f7fc"/>
<rect x="1124.8" y="2033.6" width="180.7" height="105.8" fill="url(#gh10)"/>
<rect x="1124.8" y="2072.27" width="180.7" height="0.8" fill="#5b9fcf" opacity="0.059"/>
<rect x="1124.8" y="2106.67" width="180.7" height="0.8" fill="#5b9fcf" opacity="0.016"/>
<rect x="1124.8" y="2050.51" width="180.7" height="0.8" fill="#5b9fcf" opacity="0.026"/>
<rect x="1124.8" y="2062.75" width="180.7" height="0.8" fill="#5b9fcf" opacity="0.023"/>
<rect x="1124.8" y="2047.24" width="180.7" height="0.8" fill="#5b9fcf" opacity="0.075"/>
<rect x="1124.8" y="2082.27" width="180.7" height="0.8" fill="#5b9fcf" opacity="0.056"/>
<rect x="1124.8" y="2046.09" width="180.7" height="0.8" fill="#5b9fcf" opacity="0.033"/>
<rect x="1124.8" y="2046.71" width="180.7" height="0.8" fill="#5b9fcf" opacity="0.064"/>
<rect x="1124.8" y="2047.58" width="180.7" height="0.8" fill="#5b9fcf" opacity="0.096"/>
<rect x="1124.8" y="2092.16" width="180.7" height="0.8" fill="#5b9fcf" opacity="0.049"/>
<rect x="1124.8" y="2062" width="180.7" height="0.8" fill="#5b9fcf" opacity="0.091"/>
<rect x="1124.8" y="2066.9" width="180.7" height="0.8" fill="#5b9fcf" opacity="0.071"/>
<rect x="1124.8" y="2118.16" width="180.7" height="0.8" fill="#5b9fcf" opacity="0.007"/>
<rect x="1124.8" y="2065.47" width="180.7" height="0.8" fill="#5b9fcf" opacity="0.019"/>
<rect x="1124.8" y="2098.47" width="180.7" height="0.8" fill="#5b9fcf" opacity="0.025"/>
<rect x="1124.8" y="2098.05" width="180.7" height="0.8" fill="#5b9fcf" opacity="0.009"/>
<rect x="1124.8" y="2035.54" width="180.7" height="0.8" fill="#5b9fcf" opacity="0.109"/>
<rect x="1124.8" y="2062.29" width="180.7" height="0.8" fill="#5b9fcf" opacity="0.092"/>
<rect x="1124.8" y="2101.41" width="180.7" height="0.8" fill="#5b9fcf" opacity="0.013"/>
<rect x="1124.8" y="2113.9" width="180.7" height="0.8" fill="#5b9fcf" opacity="0.017"/>
<rect x="1124.8" y="2088.26" width="180.7" height="0.8" fill="#5b9fcf" opacity="0.053"/>
<rect x="1124.8" y="2124.21" width="180.7" height="0.8" fill="#5b9fcf" opacity="0.007"/>
<rect x="1124.8" y="2116.96" width="180.7" height="0.8" fill="#5b9fcf" opacity="0.013"/>
<rect x="1124.8" y="2088.87" width="180.7" height="0.8" fill="#5b9fcf" opacity="0.026"/>
<rect x="1124.8" y="2086.82" width="180.7" height="0.8" fill="#5b9fcf" opacity="0.03"/>
<rect x="1124.8" y="2065.89" width="180.7" height="0.8" fill="#5b9fcf" opacity="0.068"/>
<rect x="1124.8" y="2117.58" width="180.7" height="0.8" fill="#5b9fcf" opacity="0.005"/>
<rect x="1124.8" y="2042.95" width="180.7" height="0.8" fill="#5b9fcf" opacity="0.086"/>
<rect x="1124.8" y="2090.82" width="180.7" height="0.8" fill="#5b9fcf" opacity="0.016"/>
<rect x="1124.8" y="2114.09" width="180.7" height="0.8" fill="#5b9fcf" opacity="0.007"/>
<rect x="1124.8" y="2132.92" width="180.7" height="0.8" fill="#5b9fcf" opacity="0.001"/>
<rect x="1124.8" y="2133.86" width="180.7" height="0.8" fill="#5b9fcf" opacity="0.0"/>
<rect x="1124.8" y="2096.02" width="180.7" height="0.8" fill="#5b9fcf" opacity="0.026"/>
<rect x="1124.8" y="2125.39" width="180.7" height="0.8" fill="#5b9fcf" opacity="0.006"/>
<rect x="1124.8" y="2035.32" width="180.7" height="0.8" fill="#5b9fcf" opacity="0.076"/>
<rect x="1124.8" y="2097.96" width="180.7" height="0.8" fill="#5b9fcf" opacity="0.037"/>
<rect x="1124.8" y="2087.53" width="180.7" height="0.8" fill="#5b9fcf" opacity="0.025"/>
<rect x="1124.8" y="2110.45" width="180.7" height="0.8" fill="#5b9fcf" opacity="0.008"/>
<rect x="1124.8" y="2036.26" width="180.7" height="0.8" fill="#5b9fcf" opacity="0.117"/>
<rect x="1124.8" y="2049.57" width="180.7" height="0.8" fill="#5b9fcf" opacity="0.039"/>
<rect x="1124.8" y="2055.68" width="180.7" height="0.8" fill="#5b9fcf" opacity="0.075"/>
<rect x="1124.8" y="2077.06" width="180.7" height="0.8" fill="#5b9fcf" opacity="0.05"/>
<rect x="1124.8" y="2118.06" width="180.7" height="0.8" fill="#5b9fcf" opacity="0.004"/>
<rect x="1124.8" y="2033.8" width="180.7" height="0.8" fill="#5b9fcf" opacity="0.109"/>
<rect x="1124.8" y="2107.1" width="180.7" height="0.8" fill="#5b9fcf" opacity="0.027"/>
<rect x="1124.8" y="2035.03" width="180.7" height="0.8" fill="#5b9fcf" opacity="0.11"/>
<rect x="1124.8" y="2120.94" width="180.7" height="0.8" fill="#5b9fcf" opacity="0.012"/>
<rect x="1124.8" y="2065.18" width="180.7" height="0.8" fill="#5b9fcf" opacity="0.021"/>
<rect x="1124.8" y="2092.3" width="180.7" height="0.8" fill="#5b9fcf" opacity="0.041"/>
<rect x="1124.8" y="2047.65" width="180.7" height="0.8" fill="#5b9fcf" opacity="0.105"/>
<rect x="1124.8" y="2046.04" width="180.7" height="0.8" fill="#5b9fcf" opacity="0.116"/>
<rect x="1124.8" y="2108.43" width="180.7" height="0.8" fill="#5b9fcf" opacity="0.025"/>
<g filter="url(#gblur)">
<path d="M1187.85 2030.6H1242.45L1224.6 2075L1215.15 2107.2L1205.7 2075Z" fill="#8fc0de" opacity="0.3"/>
<path d="M1160.55 2030.6H1269.75L1225.65 2054.3L1215.15 2088.8L1204.65 2054.3Z" fill="#6faed6" opacity="0.5"/>
<path d="M1183.65 2030.6H1246.65L1222.5 2056.6L1215.15 2079.6L1207.8 2056.6Z" fill="#3481be" opacity="0.75"/>
<path d="M1194.15 2030.6H1236.15L1221.45 2052L1215.15 2066.72L1208.85 2052Z" fill="#0c4a94" opacity="1.0"/>
</g>
<ellipse cx="1215.15" cy="2033.6" rx="75.6" ry="8" fill="url(#gbr)" opacity="0.75"/>
</g>
<rect x="1124.8" y="2033.6" width="180.7" height="153.8" fill="none" stroke="#231f20" stroke-width="1.3"/>
<defs><clipPath id="gc11"><rect x="1352.4" y="2033.6" width="180.7" height="153.8"/></clipPath><linearGradient id="gh11" x1="0" y1="0" x2="0" y2="1"><stop offset="0" stop-color="#5b9fcf" stop-opacity="0.32"/><stop offset="0.35" stop-color="#8fc0de" stop-opacity="0.144"/><stop offset="1" stop-color="#c3dbee" stop-opacity="0"/></linearGradient><linearGradient id="gb11" x1="0" y1="0" x2="0" y2="1"><stop offset="0" stop-color="#1c66ac" stop-opacity="0.65"/><stop offset="1" stop-color="#9ecae1" stop-opacity="0"/></linearGradient></defs>
<g clip-path="url(#gc11)">
<rect x="1352.4" y="2033.6" width="180.7" height="153.8" fill="#f2f7fc"/>
<rect x="1352.4" y="2033.6" width="180.7" height="110.4" fill="url(#gh11)"/>
<rect x="1352.4" y="2092.85" width="180.7" height="0.8" fill="#5b9fcf" opacity="0.041"/>
<rect x="1352.4" y="2035.8" width="180.7" height="0.8" fill="#5b9fcf" opacity="0.124"/>
<rect x="1352.4" y="2099.89" width="180.7" height="0.8" fill="#5b9fcf" opacity="0.031"/>
<rect x="1352.4" y="2122.26" width="180.7" height="0.8" fill="#5b9fcf" opacity="0.007"/>
<rect x="1352.4" y="2117.42" width="180.7" height="0.8" fill="#5b9fcf" opacity="0.015"/>
<rect x="1352.4" y="2047.46" width="180.7" height="0.8" fill="#5b9fcf" opacity="0.091"/>
<rect x="1352.4" y="2096.14" width="180.7" height="0.8" fill="#5b9fcf" opacity="0.04"/>
<rect x="1352.4" y="2120.76" width="180.7" height="0.8" fill="#5b9fcf" opacity="0.012"/>
<rect x="1352.4" y="2097.48" width="180.7" height="0.8" fill="#5b9fcf" opacity="0.043"/>
<rect x="1352.4" y="2052.28" width="180.7" height="0.8" fill="#5b9fcf" opacity="0.038"/>
<rect x="1352.4" y="2102.18" width="180.7" height="0.8" fill="#5b9fcf" opacity="0.029"/>
<rect x="1352.4" y="2134.73" width="180.7" height="0.8" fill="#5b9fcf" opacity="0.002"/>
<rect x="1352.4" y="2090.19" width="180.7" height="0.8" fill="#5b9fcf" opacity="0.051"/>
<rect x="1352.4" y="2047.06" width="180.7" height="0.8" fill="#5b9fcf" opacity="0.048"/>
<rect x="1352.4" y="2136.26" width="180.7" height="0.8" fill="#5b9fcf" opacity="0.001"/>
<rect x="1352.4" y="2100.4" width="180.7" height="0.8" fill="#5b9fcf" opacity="0.026"/>
<rect x="1352.4" y="2040.25" width="180.7" height="0.8" fill="#5b9fcf" opacity="0.067"/>
<rect x="1352.4" y="2056" width="180.7" height="0.8" fill="#5b9fcf" opacity="0.043"/>
<rect x="1352.4" y="2083.23" width="180.7" height="0.8" fill="#5b9fcf" opacity="0.019"/>
<rect x="1352.4" y="2119.44" width="180.7" height="0.8" fill="#5b9fcf" opacity="0.006"/>
<rect x="1352.4" y="2033.87" width="180.7" height="0.8" fill="#5b9fcf" opacity="0.086"/>
<rect x="1352.4" y="2061.64" width="180.7" height="0.8" fill="#5b9fcf" opacity="0.037"/>
<rect x="1352.4" y="2109.65" width="180.7" height="0.8" fill="#5b9fcf" opacity="0.021"/>
<rect x="1352.4" y="2122.7" width="180.7" height="0.8" fill="#5b9fcf" opacity="0.014"/>
<rect x="1352.4" y="2062.38" width="180.7" height="0.8" fill="#5b9fcf" opacity="0.061"/>
<rect x="1352.4" y="2069.24" width="180.7" height="0.8" fill="#5b9fcf" opacity="0.035"/>
<rect x="1352.4" y="2061.92" width="180.7" height="0.8" fill="#5b9fcf" opacity="0.047"/>
<rect x="1352.4" y="2083.29" width="180.7" height="0.8" fill="#5b9fcf" opacity="0.049"/>
<rect x="1352.4" y="2136.06" width="180.7" height="0.8" fill="#5b9fcf" opacity="0.001"/>
<rect x="1352.4" y="2040.84" width="180.7" height="0.8" fill="#5b9fcf" opacity="0.052"/>
<rect x="1352.4" y="2130.54" width="180.7" height="0.8" fill="#5b9fcf" opacity="0.006"/>
<rect x="1352.4" y="2089.92" width="180.7" height="0.8" fill="#5b9fcf" opacity="0.022"/>
<rect x="1352.4" y="2040.74" width="180.7" height="0.8" fill="#5b9fcf" opacity="0.031"/>
<rect x="1352.4" y="2132.73" width="180.7" height="0.8" fill="#5b9fcf" opacity="0.004"/>
<rect x="1352.4" y="2093.31" width="180.7" height="0.8" fill="#5b9fcf" opacity="0.036"/>
<rect x="1352.4" y="2070.24" width="180.7" height="0.8" fill="#5b9fcf" opacity="0.051"/>
<rect x="1352.4" y="2056.24" width="180.7" height="0.8" fill="#5b9fcf" opacity="0.082"/>
<rect x="1352.4" y="2097.83" width="180.7" height="0.8" fill="#5b9fcf" opacity="0.03"/>
<rect x="1352.4" y="2046.61" width="180.7" height="0.8" fill="#5b9fcf" opacity="0.029"/>
<rect x="1352.4" y="2034.21" width="180.7" height="0.8" fill="#5b9fcf" opacity="0.113"/>
<rect x="1352.4" y="2130.56" width="180.7" height="0.8" fill="#5b9fcf" opacity="0.005"/>
<rect x="1352.4" y="2110.91" width="180.7" height="0.8" fill="#5b9fcf" opacity="0.015"/>
<rect x="1352.4" y="2084.09" width="180.7" height="0.8" fill="#5b9fcf" opacity="0.024"/>
<rect x="1352.4" y="2124.92" width="180.7" height="0.8" fill="#5b9fcf" opacity="0.003"/>
<rect x="1352.4" y="2116.46" width="180.7" height="0.8" fill="#5b9fcf" opacity="0.02"/>
<rect x="1352.4" y="2054.87" width="180.7" height="0.8" fill="#5b9fcf" opacity="0.076"/>
<rect x="1352.4" y="2079.8" width="180.7" height="0.8" fill="#5b9fcf" opacity="0.061"/>
<rect x="1352.4" y="2052.86" width="180.7" height="0.8" fill="#5b9fcf" opacity="0.071"/>
<rect x="1352.4" y="2088.08" width="180.7" height="0.8" fill="#5b9fcf" opacity="0.028"/>
<rect x="1352.4" y="2071.83" width="180.7" height="0.8" fill="#5b9fcf" opacity="0.034"/>
<rect x="1352.4" y="2091.59" width="180.7" height="0.8" fill="#5b9fcf" opacity="0.038"/>
<rect x="1352.4" y="2100.38" width="180.7" height="0.8" fill="#5b9fcf" opacity="0.011"/>
<rect x="1352.4" y="2131" width="180.7" height="0.8" fill="#5b9fcf" opacity="0.004"/>
<rect x="1352.4" y="2074.51" width="180.7" height="0.8" fill="#5b9fcf" opacity="0.072"/>
<rect x="1352.4" y="2133.71" width="180.7" height="0.8" fill="#5b9fcf" opacity="0.001"/>
<g filter="url(#gblur)">
<path d="M1415.45 2030.6H1470.05L1452.2 2076.8L1442.75 2110.4L1433.3 2076.8Z" fill="#8fc0de" opacity="0.3"/>
<path d="M1388.15 2030.6H1497.35L1453.25 2055.2L1442.75 2091.2L1432.25 2055.2Z" fill="#6faed6" opacity="0.5"/>
<path d="M1411.25 2030.6H1474.25L1450.1 2057.6L1442.75 2081.6L1435.4 2057.6Z" fill="#3481be" opacity="0.75"/>
<path d="M1421.75 2030.6H1463.75L1449.05 2052.8L1442.75 2068.16L1436.45 2052.8Z" fill="#0c4a94" opacity="1.0"/>
</g>
<ellipse cx="1442.75" cy="2033.6" rx="75.6" ry="8" fill="url(#gbr)" opacity="0.65"/>
</g>
<rect x="1352.4" y="2033.6" width="180.7" height="153.8" fill="none" stroke="#231f20" stroke-width="1.3"/>
<defs><linearGradient id="gs12" x1="0" y1="0" x2="0" y2="1"><stop offset="0" stop-color="#5fa3d1" stop-opacity="0.124"/><stop offset="0.12" stop-color="#5fa3d1" stop-opacity="0.341"/><stop offset="0.25" stop-color="#5fa3d1" stop-opacity="0.589"/><stop offset="0.5" stop-color="#5fa3d1" stop-opacity="0.558"/><stop offset="0.7" stop-color="#5fa3d1" stop-opacity="0.372"/><stop offset="0.9" stop-color="#5fa3d1" stop-opacity="0.186"/><stop offset="1" stop-color="#5fa3d1" stop-opacity="0.093"/></linearGradient><clipPath id="gc12"><rect x="670.2" y="2202.5" width="180.7" height="81.4"/></clipPath></defs>
<g clip-path="url(#gc12)">
<rect x="670.2" y="2202.5" width="180.7" height="81.4" fill="#edf4fb"/>
<rect x="670.2" y="2202.5" width="180.7" height="81.4" fill="url(#gs12)"/>
<rect x="670.2" y="2282.19" width="180.7" height="1.48" fill="#3f8fc6" opacity="0.089"/>
<rect x="670.2" y="2219.99" width="180.7" height="1.38" fill="#3f8fc6" opacity="0.083"/>
<rect x="670.2" y="2233.61" width="180.7" height="1.77" fill="#ffffff" opacity="0.13"/>
<rect x="670.2" y="2209.19" width="180.7" height="1.56" fill="#3f8fc6" opacity="0.062"/>
<rect x="670.2" y="2220.83" width="180.7" height="1" fill="#3f8fc6" opacity="0.161"/>
<rect x="670.2" y="2217.43" width="180.7" height="1.49" fill="#3f8fc6" opacity="0.179"/>
<rect x="670.2" y="2236.28" width="180.7" height="1.47" fill="#ffffff" opacity="0.307"/>
<rect x="670.2" y="2222.76" width="180.7" height="1.36" fill="#3f8fc6" opacity="0.257"/>
<rect x="670.2" y="2252.83" width="180.7" height="1.1" fill="#3f8fc6" opacity="0.105"/>
<rect x="670.2" y="2220.07" width="180.7" height="1.79" fill="#ffffff" opacity="0.324"/>
<rect x="670.2" y="2245.53" width="180.7" height="1.2" fill="#ffffff" opacity="0.22"/>
<rect x="670.2" y="2214.35" width="180.7" height="1.1" fill="#3f8fc6" opacity="0.074"/>
<rect x="670.2" y="2277.34" width="180.7" height="1.55" fill="#3f8fc6" opacity="0.102"/>
<rect x="670.2" y="2209.83" width="180.7" height="1.7" fill="#3f8fc6" opacity="0.16"/>
<rect x="670.2" y="2248.35" width="180.7" height="1.61" fill="#ffffff" opacity="0.173"/>
<rect x="670.2" y="2247.26" width="180.7" height="1.29" fill="#ffffff" opacity="0.305"/>
<rect x="670.2" y="2238.66" width="180.7" height="0.96" fill="#ffffff" opacity="0.211"/>
<rect x="670.2" y="2206.12" width="180.7" height="1.77" fill="#ffffff" opacity="0.236"/>
<rect x="670.2" y="2248.52" width="180.7" height="1.13" fill="#ffffff" opacity="0.197"/>
<rect x="670.2" y="2249.59" width="180.7" height="1.28" fill="#ffffff" opacity="0.219"/>
<rect x="670.2" y="2229.43" width="180.7" height="1.58" fill="#ffffff" opacity="0.182"/>
<rect x="670.2" y="2258.26" width="180.7" height="1.44" fill="#ffffff" opacity="0.345"/>
<rect x="670.2" y="2227.69" width="180.7" height="1.08" fill="#ffffff" opacity="0.191"/>
<rect x="670.2" y="2268.99" width="180.7" height="1.39" fill="#3f8fc6" opacity="0.141"/>
<rect x="670.2" y="2279.34" width="180.7" height="1.25" fill="#ffffff" opacity="0.183"/>
<rect x="670.2" y="2253.87" width="180.7" height="0.92" fill="#3f8fc6" opacity="0.196"/>
<rect x="670.2" y="2253.53" width="180.7" height="1.24" fill="#3f8fc6" opacity="0.105"/>
<rect x="753.55" y="2202.5" width="14" height="81.4" fill="url(#gcs)"/>
</g>
<rect x="670.2" y="2202.5" width="180.7" height="81.4" fill="none" stroke="#231f20" stroke-width="1.3"/>
<defs><clipPath id="gc13"><rect x="897.6" y="2202.5" width="180.7" height="81.4"/></clipPath><linearGradient id="gh13" x1="0" y1="0" x2="0" y2="1"><stop offset="0" stop-color="#5b9fcf" stop-opacity="0.04"/><stop offset="0.35" stop-color="#8fc0de" stop-opacity="0.018"/><stop offset="1" stop-color="#c3dbee" stop-opacity="0"/></linearGradient><linearGradient id="gb13" x1="0" y1="0" x2="0" y2="1"><stop offset="0" stop-color="#1c66ac" stop-opacity="0.0"/><stop offset="1" stop-color="#9ecae1" stop-opacity="0"/></linearGradient></defs>
<g clip-path="url(#gc13)">
<rect x="897.6" y="2202.5" width="180.7" height="81.4" fill="#f2f7fc"/>
<rect x="897.6" y="2202.5" width="180.7" height="29.9" fill="url(#gh13)"/>
<rect x="897.6" y="2206.82" width="180.7" height="0.8" fill="#5b9fcf" opacity="0.018"/>
<rect x="897.6" y="2203.07" width="180.7" height="0.8" fill="#5b9fcf" opacity="0.03"/>
<rect x="897.6" y="2217.01" width="180.7" height="0.8" fill="#5b9fcf" opacity="0.011"/>
<rect x="897.6" y="2212.37" width="180.7" height="0.8" fill="#5b9fcf" opacity="0.021"/>
<rect x="897.6" y="2208.71" width="180.7" height="0.8" fill="#5b9fcf" opacity="0.02"/>
<rect x="897.6" y="2218.15" width="180.7" height="0.8" fill="#5b9fcf" opacity="0.013"/>
<rect x="897.6" y="2225.08" width="180.7" height="0.8" fill="#5b9fcf" opacity="0.007"/>
<rect x="897.6" y="2221.82" width="180.7" height="0.8" fill="#5b9fcf" opacity="0.01"/>
<rect x="897.6" y="2210.91" width="180.7" height="0.8" fill="#5b9fcf" opacity="0.031"/>
<rect x="897.6" y="2223.35" width="180.7" height="0.8" fill="#5b9fcf" opacity="0.005"/>
<rect x="897.6" y="2208.4" width="180.7" height="0.8" fill="#5b9fcf" opacity="0.025"/>
<rect x="897.6" y="2212.14" width="180.7" height="0.8" fill="#5b9fcf" opacity="0.017"/>
<rect x="897.6" y="2212.73" width="180.7" height="0.8" fill="#5b9fcf" opacity="0.017"/>
<rect x="897.6" y="2203.3" width="180.7" height="0.8" fill="#5b9fcf" opacity="0.034"/>
<g filter="url(#gblur)">
<path d="M973.65 2199.5H1002.25L992.9 2214.2L987.95 2223.3L983 2214.2Z" fill="#8fc0de" opacity="0.165"/>
<path d="M959.35 2199.5H1016.55L993.45 2208.35L987.95 2218.1L982.45 2208.35Z" fill="#6faed6" opacity="0.275"/>
<path d="M971.45 2199.5H1004.45L991.8 2209L987.95 2215.5L984.1 2209Z" fill="#3481be" opacity="0.413"/>
<path d="M976.95 2199.5H998.95L991.25 2207.7L987.95 2211.86L984.65 2207.7Z" fill="#0c4a94" opacity="0.55"/>
</g>
</g>
<rect x="897.6" y="2202.5" width="180.7" height="81.4" fill="none" stroke="#231f20" stroke-width="1.3"/>
<defs><clipPath id="gc14"><rect x="1124.8" y="2202.5" width="180.7" height="81.4"/></clipPath><linearGradient id="gh14" x1="0" y1="0" x2="0" y2="1"><stop offset="0" stop-color="#5b9fcf" stop-opacity="0.14"/><stop offset="0.35" stop-color="#8fc0de" stop-opacity="0.063"/><stop offset="1" stop-color="#c3dbee" stop-opacity="0"/></linearGradient><linearGradient id="gb14" x1="0" y1="0" x2="0" y2="1"><stop offset="0" stop-color="#1c66ac" stop-opacity="0.4"/><stop offset="1" stop-color="#9ecae1" stop-opacity="0"/></linearGradient></defs>
<g clip-path="url(#gc14)">
<rect x="1124.8" y="2202.5" width="180.7" height="81.4" fill="#f2f7fc"/>
<rect x="1124.8" y="2202.5" width="180.7" height="25.3" fill="url(#gh14)"/>
<rect x="1124.8" y="2214.93" width="180.7" height="0.8" fill="#5b9fcf" opacity="0.023"/>
<rect x="1124.8" y="2209.69" width="180.7" height="0.8" fill="#5b9fcf" opacity="0.047"/>
<rect x="1124.8" y="2213.1" width="180.7" height="0.8" fill="#5b9fcf" opacity="0.022"/>
<rect x="1124.8" y="2203.53" width="180.7" height="0.8" fill="#5b9fcf" opacity="0.041"/>
<rect x="1124.8" y="2224.49" width="180.7" height="0.8" fill="#5b9fcf" opacity="0.006"/>
<rect x="1124.8" y="2218.79" width="180.7" height="0.8" fill="#5b9fcf" opacity="0.012"/>
<rect x="1124.8" y="2215.7" width="180.7" height="0.8" fill="#5b9fcf" opacity="0.037"/>
<rect x="1124.8" y="2221.59" width="180.7" height="0.8" fill="#5b9fcf" opacity="0.004"/>
<rect x="1124.8" y="2226.28" width="180.7" height="0.8" fill="#5b9fcf" opacity="0.0"/>
<rect x="1124.8" y="2217.14" width="180.7" height="0.8" fill="#5b9fcf" opacity="0.033"/>
<rect x="1124.8" y="2203.9" width="180.7" height="0.8" fill="#5b9fcf" opacity="0.035"/>
<rect x="1124.8" y="2218.62" width="180.7" height="0.8" fill="#5b9fcf" opacity="0.014"/>
<g filter="url(#gblur)">
<path d="M1195.65 2199.5H1234.65L1221.9 2212.4L1215.15 2220.1L1208.4 2212.4Z" fill="#8fc0de" opacity="0.21"/>
<path d="M1176.15 2199.5H1254.15L1222.65 2207.45L1215.15 2215.7L1207.65 2207.45Z" fill="#6faed6" opacity="0.35"/>
<path d="M1192.65 2199.5H1237.65L1220.4 2208L1215.15 2213.5L1209.9 2208Z" fill="#3481be" opacity="0.525"/>
<path d="M1200.15 2199.5H1230.15L1219.65 2206.9L1215.15 2210.42L1210.65 2206.9Z" fill="#0c4a94" opacity="0.7"/>
</g>
<ellipse cx="1215.15" cy="2202.5" rx="54" ry="8" fill="url(#gbr)" opacity="0.4"/>
</g>
<rect x="1124.8" y="2202.5" width="180.7" height="81.4" fill="none" stroke="#231f20" stroke-width="1.3"/>
<defs><clipPath id="gc15"><rect x="1352.4" y="2202.5" width="180.7" height="81.4"/></clipPath><linearGradient id="gh15" x1="0" y1="0" x2="0" y2="1"><stop offset="0" stop-color="#5b9fcf" stop-opacity="0.16"/><stop offset="0.35" stop-color="#8fc0de" stop-opacity="0.072"/><stop offset="1" stop-color="#c3dbee" stop-opacity="0"/></linearGradient><linearGradient id="gb15" x1="0" y1="0" x2="0" y2="1"><stop offset="0" stop-color="#1c66ac" stop-opacity="0.35"/><stop offset="1" stop-color="#9ecae1" stop-opacity="0"/></linearGradient></defs>
<g clip-path="url(#gc15)">
<rect x="1352.4" y="2202.5" width="180.7" height="81.4" fill="#f2f7fc"/>
<rect x="1352.4" y="2202.5" width="180.7" height="25.3" fill="url(#gh15)"/>
<rect x="1352.4" y="2203.56" width="180.7" height="0.8" fill="#5b9fcf" opacity="0.111"/>
<rect x="1352.4" y="2204.89" width="180.7" height="0.8" fill="#5b9fcf" opacity="0.048"/>
<rect x="1352.4" y="2204.55" width="180.7" height="0.8" fill="#5b9fcf" opacity="0.027"/>
<rect x="1352.4" y="2211.54" width="180.7" height="0.8" fill="#5b9fcf" opacity="0.053"/>
<rect x="1352.4" y="2221.99" width="180.7" height="0.8" fill="#5b9fcf" opacity="0.012"/>
<rect x="1352.4" y="2222.35" width="180.7" height="0.8" fill="#5b9fcf" opacity="0.006"/>
<rect x="1352.4" y="2205.38" width="180.7" height="0.8" fill="#5b9fcf" opacity="0.09"/>
<rect x="1352.4" y="2222.3" width="180.7" height="0.8" fill="#5b9fcf" opacity="0.009"/>
<rect x="1352.4" y="2206.18" width="180.7" height="0.8" fill="#5b9fcf" opacity="0.057"/>
<rect x="1352.4" y="2217.16" width="180.7" height="0.8" fill="#5b9fcf" opacity="0.022"/>
<rect x="1352.4" y="2212.36" width="180.7" height="0.8" fill="#5b9fcf" opacity="0.047"/>
<rect x="1352.4" y="2222.11" width="180.7" height="0.8" fill="#5b9fcf" opacity="0.01"/>
<g filter="url(#gblur)">
<path d="M1424.55 2199.5H1460.95L1449.05 2212.4L1442.75 2220.1L1436.45 2212.4Z" fill="#8fc0de" opacity="0.18"/>
<path d="M1406.35 2199.5H1479.15L1449.75 2207.45L1442.75 2215.7L1435.75 2207.45Z" fill="#6faed6" opacity="0.3"/>
<path d="M1421.75 2199.5H1463.75L1447.65 2208L1442.75 2213.5L1437.85 2208Z" fill="#3481be" opacity="0.45"/>
<path d="M1428.75 2199.5H1456.75L1446.95 2206.9L1442.75 2210.42L1438.55 2206.9Z" fill="#0c4a94" opacity="0.6"/>
</g>
<ellipse cx="1442.75" cy="2202.5" rx="50.4" ry="8" fill="url(#gbr)" opacity="0.35"/>
</g>
<rect x="1352.4" y="2202.5" width="180.7" height="81.4" fill="none" stroke="#231f20" stroke-width="1.3"/>
<defs><linearGradient id="gs16" x1="0" y1="0" x2="0" y2="1"><stop offset="0" stop-color="#5fa3d1" stop-opacity="0.031"/><stop offset="0.15" stop-color="#5fa3d1" stop-opacity="0.074"/><stop offset="0.3" stop-color="#5fa3d1" stop-opacity="0.217"/><stop offset="0.4" stop-color="#5fa3d1" stop-opacity="0.372"/><stop offset="0.52" stop-color="#5fa3d1" stop-opacity="0.372"/><stop offset="0.65" stop-color="#5fa3d1" stop-opacity="0.248"/><stop offset="0.8" stop-color="#5fa3d1" stop-opacity="0.124"/><stop offset="1" stop-color="#5fa3d1" stop-opacity="0.031"/></linearGradient><clipPath id="gc16"><rect x="670.2" y="2298.5" width="180.7" height="174.5"/></clipPath></defs>
<g clip-path="url(#gc16)">
<rect x="670.2" y="2298.5" width="180.7" height="174.5" fill="#edf4fb"/>
<rect x="670.2" y="2298.5" width="180.7" height="174.5" fill="url(#gs16)"/>
<rect x="670.2" y="2466.01" width="180.7" height="1.63" fill="#ffffff" opacity="0.157"/>
<rect x="670.2" y="2356.2" width="180.7" height="1.71" fill="#ffffff" opacity="0.104"/>
<rect x="670.2" y="2327.59" width="180.7" height="1.02" fill="#ffffff" opacity="0.264"/>
<rect x="670.2" y="2356.03" width="180.7" height="1.76" fill="#ffffff" opacity="0.245"/>
<rect x="670.2" y="2366.75" width="180.7" height="1.4" fill="#3f8fc6" opacity="0.14"/>
<rect x="670.2" y="2369.97" width="180.7" height="1.33" fill="#3f8fc6" opacity="0.094"/>
<rect x="670.2" y="2329.86" width="180.7" height="1" fill="#ffffff" opacity="0.249"/>
<rect x="670.2" y="2438.41" width="180.7" height="1.15" fill="#ffffff" opacity="0.204"/>
<rect x="670.2" y="2459.63" width="180.7" height="1.69" fill="#3f8fc6" opacity="0.065"/>
<rect x="670.2" y="2445.21" width="180.7" height="1.43" fill="#3f8fc6" opacity="0.09"/>
<rect x="670.2" y="2394.05" width="180.7" height="1.81" fill="#ffffff" opacity="0.349"/>
<rect x="670.2" y="2329.79" width="180.7" height="0.94" fill="#ffffff" opacity="0.195"/>
<rect x="670.2" y="2323.82" width="180.7" height="1.4" fill="#3f8fc6" opacity="0.062"/>
<rect x="670.2" y="2325.37" width="180.7" height="1.55" fill="#3f8fc6" opacity="0.067"/>
<rect x="670.2" y="2311.11" width="180.7" height="1.62" fill="#ffffff" opacity="0.258"/>
<rect x="670.2" y="2394.02" width="180.7" height="1.62" fill="#ffffff" opacity="0.178"/>
<rect x="670.2" y="2445.54" width="180.7" height="1.76" fill="#ffffff" opacity="0.323"/>
<rect x="670.2" y="2445.02" width="180.7" height="1.42" fill="#ffffff" opacity="0.283"/>
<rect x="670.2" y="2399.55" width="180.7" height="1.63" fill="#3f8fc6" opacity="0.082"/>
<rect x="670.2" y="2383.03" width="180.7" height="0.97" fill="#3f8fc6" opacity="0.136"/>
<rect x="670.2" y="2401.51" width="180.7" height="1.51" fill="#ffffff" opacity="0.177"/>
<rect x="670.2" y="2397.08" width="180.7" height="1.54" fill="#ffffff" opacity="0.311"/>
<rect x="670.2" y="2300.47" width="180.7" height="1.11" fill="#ffffff" opacity="0.141"/>
<rect x="670.2" y="2356.29" width="180.7" height="0.97" fill="#3f8fc6" opacity="0.08"/>
<rect x="670.2" y="2338.71" width="180.7" height="1.54" fill="#3f8fc6" opacity="0.064"/>
<rect x="670.2" y="2333.43" width="180.7" height="1.3" fill="#3f8fc6" opacity="0.07"/>
<rect x="670.2" y="2391.12" width="180.7" height="1.06" fill="#3f8fc6" opacity="0.123"/>
<rect x="670.2" y="2311" width="180.7" height="1.46" fill="#ffffff" opacity="0.199"/>
<rect x="670.2" y="2394.44" width="180.7" height="1.39" fill="#ffffff" opacity="0.199"/>
<rect x="670.2" y="2336.34" width="180.7" height="1.52" fill="#3f8fc6" opacity="0.09"/>
<rect x="670.2" y="2346.61" width="180.7" height="1.03" fill="#ffffff" opacity="0.189"/>
<rect x="670.2" y="2433.93" width="180.7" height="1.36" fill="#ffffff" opacity="0.103"/>
<rect x="670.2" y="2396.36" width="180.7" height="0.92" fill="#3f8fc6" opacity="0.101"/>
<rect x="670.2" y="2452.42" width="180.7" height="1.04" fill="#3f8fc6" opacity="0.065"/>
<rect x="670.2" y="2437.71" width="180.7" height="1.45" fill="#3f8fc6" opacity="0.09"/>
<rect x="670.2" y="2300.6" width="180.7" height="1" fill="#3f8fc6" opacity="0.07"/>
<rect x="670.2" y="2383.89" width="180.7" height="1.55" fill="#3f8fc6" opacity="0.169"/>
<rect x="670.2" y="2310.4" width="180.7" height="1.16" fill="#3f8fc6" opacity="0.066"/>
<rect x="670.2" y="2375.43" width="180.7" height="1.68" fill="#3f8fc6" opacity="0.149"/>
<rect x="670.2" y="2466.26" width="180.7" height="1.13" fill="#ffffff" opacity="0.242"/>
<rect x="670.2" y="2326.41" width="180.7" height="1.04" fill="#ffffff" opacity="0.333"/>
<rect x="670.2" y="2351.43" width="180.7" height="1.12" fill="#ffffff" opacity="0.152"/>
<rect x="670.2" y="2341.47" width="180.7" height="1.73" fill="#ffffff" opacity="0.286"/>
<rect x="670.2" y="2398.81" width="180.7" height="1.09" fill="#3f8fc6" opacity="0.064"/>
<rect x="670.2" y="2460.85" width="180.7" height="1.47" fill="#3f8fc6" opacity="0.06"/>
<rect x="670.2" y="2348.18" width="180.7" height="1.08" fill="#ffffff" opacity="0.117"/>
<rect x="670.2" y="2454.83" width="180.7" height="0.91" fill="#3f8fc6" opacity="0.08"/>
<rect x="670.2" y="2471.12" width="180.7" height="0.94" fill="#ffffff" opacity="0.204"/>
<rect x="670.2" y="2404.82" width="180.7" height="1.23" fill="#3f8fc6" opacity="0.135"/>
<rect x="670.2" y="2413.25" width="180.7" height="1.85" fill="#ffffff" opacity="0.23"/>
<rect x="670.2" y="2469.69" width="180.7" height="1.31" fill="#3f8fc6" opacity="0.07"/>
<rect x="670.2" y="2460.54" width="180.7" height="1.25" fill="#3f8fc6" opacity="0.08"/>
<rect x="670.2" y="2380.57" width="180.7" height="1.26" fill="#3f8fc6" opacity="0.096"/>
<rect x="670.2" y="2412.95" width="180.7" height="0.95" fill="#ffffff" opacity="0.179"/>
<rect x="670.2" y="2455.49" width="180.7" height="1.68" fill="#ffffff" opacity="0.197"/>
<rect x="670.2" y="2465.02" width="180.7" height="1.72" fill="#ffffff" opacity="0.236"/>
<rect x="670.2" y="2410.38" width="180.7" height="0.93" fill="#3f8fc6" opacity="0.061"/>
<rect x="670.2" y="2307.94" width="180.7" height="1.84" fill="#ffffff" opacity="0.244"/>
<rect x="753.55" y="2298.5" width="14" height="174.5" fill="url(#gcs)"/>
</g>
<rect x="670.2" y="2298.5" width="180.7" height="174.5" fill="none" stroke="#231f20" stroke-width="1.3"/>
<defs><clipPath id="gc17"><rect x="897.6" y="2298.5" width="180.7" height="174.5"/></clipPath><linearGradient id="gh17" x1="0" y1="0" x2="0" y2="1"><stop offset="0" stop-color="#5b9fcf" stop-opacity="0.12"/><stop offset="0.35" stop-color="#8fc0de" stop-opacity="0.054"/><stop offset="1" stop-color="#c3dbee" stop-opacity="0"/></linearGradient><linearGradient id="gb17" x1="0" y1="0" x2="0" y2="1"><stop offset="0" stop-color="#1c66ac" stop-opacity="0.2"/><stop offset="1" stop-color="#9ecae1" stop-opacity="0"/></linearGradient></defs>
<g clip-path="url(#gc17)">
<rect x="897.6" y="2298.5" width="180.7" height="174.5" fill="#f2f7fc"/>
<rect x="897.6" y="2298.5" width="180.7" height="101.2" fill="url(#gh17)"/>
<rect x="897.6" y="2390.83" width="180.7" height="0.8" fill="#5b9fcf" opacity="0.001"/>
<rect x="897.6" y="2322.69" width="180.7" height="0.8" fill="#5b9fcf" opacity="0.03"/>
<rect x="897.6" y="2331.28" width="180.7" height="0.8" fill="#5b9fcf" opacity="0.026"/>
<rect x="897.6" y="2329.65" width="180.7" height="0.8" fill="#5b9fcf" opacity="0.052"/>
<rect x="897.6" y="2339.27" width="180.7" height="0.8" fill="#5b9fcf" opacity="0.035"/>
<rect x="897.6" y="2367.23" width="180.7" height="0.8" fill="#5b9fcf" opacity="0.009"/>
<rect x="897.6" y="2306.39" width="180.7" height="0.8" fill="#5b9fcf" opacity="0.078"/>
<rect x="897.6" y="2326.15" width="180.7" height="0.8" fill="#5b9fcf" opacity="0.019"/>
<rect x="897.6" y="2352.38" width="180.7" height="0.8" fill="#5b9fcf" opacity="0.034"/>
<rect x="897.6" y="2381.77" width="180.7" height="0.8" fill="#5b9fcf" opacity="0.002"/>
<rect x="897.6" y="2322.87" width="180.7" height="0.8" fill="#5b9fcf" opacity="0.032"/>
<rect x="897.6" y="2382.25" width="180.7" height="0.8" fill="#5b9fcf" opacity="0.003"/>
<rect x="897.6" y="2344.65" width="180.7" height="0.8" fill="#5b9fcf" opacity="0.03"/>
<rect x="897.6" y="2391.34" width="180.7" height="0.8" fill="#5b9fcf" opacity="0.002"/>
<rect x="897.6" y="2355.92" width="180.7" height="0.8" fill="#5b9fcf" opacity="0.025"/>
<rect x="897.6" y="2336.01" width="180.7" height="0.8" fill="#5b9fcf" opacity="0.038"/>
<rect x="897.6" y="2363.28" width="180.7" height="0.8" fill="#5b9fcf" opacity="0.014"/>
<rect x="897.6" y="2375.85" width="180.7" height="0.8" fill="#5b9fcf" opacity="0.003"/>
<rect x="897.6" y="2393.91" width="180.7" height="0.8" fill="#5b9fcf" opacity="0.0"/>
<rect x="897.6" y="2311.64" width="180.7" height="0.8" fill="#5b9fcf" opacity="0.021"/>
<rect x="897.6" y="2328.8" width="180.7" height="0.8" fill="#5b9fcf" opacity="0.038"/>
<rect x="897.6" y="2344.92" width="180.7" height="0.8" fill="#5b9fcf" opacity="0.024"/>
<rect x="897.6" y="2370.77" width="180.7" height="0.8" fill="#5b9fcf" opacity="0.013"/>
<rect x="897.6" y="2383.33" width="180.7" height="0.8" fill="#5b9fcf" opacity="0.006"/>
<rect x="897.6" y="2325.84" width="180.7" height="0.8" fill="#5b9fcf" opacity="0.025"/>
<rect x="897.6" y="2370.16" width="180.7" height="0.8" fill="#5b9fcf" opacity="0.016"/>
<rect x="897.6" y="2381.21" width="180.7" height="0.8" fill="#5b9fcf" opacity="0.007"/>
<rect x="897.6" y="2328.77" width="180.7" height="0.8" fill="#5b9fcf" opacity="0.02"/>
<rect x="897.6" y="2322.58" width="180.7" height="0.8" fill="#5b9fcf" opacity="0.042"/>
<rect x="897.6" y="2376.72" width="180.7" height="0.8" fill="#5b9fcf" opacity="0.008"/>
<rect x="897.6" y="2318.69" width="180.7" height="0.8" fill="#5b9fcf" opacity="0.047"/>
<rect x="897.6" y="2333.1" width="180.7" height="0.8" fill="#5b9fcf" opacity="0.032"/>
<rect x="897.6" y="2318" width="180.7" height="0.8" fill="#5b9fcf" opacity="0.075"/>
<rect x="897.6" y="2393.07" width="180.7" height="0.8" fill="#5b9fcf" opacity="0.0"/>
<rect x="897.6" y="2328.84" width="180.7" height="0.8" fill="#5b9fcf" opacity="0.046"/>
<rect x="897.6" y="2345.86" width="180.7" height="0.8" fill="#5b9fcf" opacity="0.03"/>
<rect x="897.6" y="2370.87" width="180.7" height="0.8" fill="#5b9fcf" opacity="0.012"/>
<rect x="897.6" y="2362.73" width="180.7" height="0.8" fill="#5b9fcf" opacity="0.011"/>
<rect x="897.6" y="2356.11" width="180.7" height="0.8" fill="#5b9fcf" opacity="0.033"/>
<rect x="897.6" y="2387.62" width="180.7" height="0.8" fill="#5b9fcf" opacity="0.003"/>
<rect x="897.6" y="2314.93" width="180.7" height="0.8" fill="#5b9fcf" opacity="0.054"/>
<rect x="897.6" y="2355.21" width="180.7" height="0.8" fill="#5b9fcf" opacity="0.009"/>
<rect x="897.6" y="2326.84" width="180.7" height="0.8" fill="#5b9fcf" opacity="0.049"/>
<rect x="897.6" y="2379.16" width="180.7" height="0.8" fill="#5b9fcf" opacity="0.011"/>
<rect x="897.6" y="2344.13" width="180.7" height="0.8" fill="#5b9fcf" opacity="0.026"/>
<rect x="897.6" y="2352.23" width="180.7" height="0.8" fill="#5b9fcf" opacity="0.02"/>
<rect x="897.6" y="2318.39" width="180.7" height="0.8" fill="#5b9fcf" opacity="0.039"/>
<rect x="897.6" y="2327.61" width="180.7" height="0.8" fill="#5b9fcf" opacity="0.049"/>
<rect x="897.6" y="2323.56" width="180.7" height="0.8" fill="#5b9fcf" opacity="0.046"/>
<rect x="897.6" y="2386.19" width="180.7" height="0.8" fill="#5b9fcf" opacity="0.003"/>
<g filter="url(#gblur)">
<path d="M967.15 2295.5H1008.75L995.15 2338.1L987.95 2368.9L980.75 2338.1Z" fill="#8fc0de" opacity="0.3"/>
<path d="M946.35 2295.5H1029.55L995.95 2318.3L987.95 2351.3L979.95 2318.3Z" fill="#6faed6" opacity="0.5"/>
<path d="M963.95 2295.5H1011.95L993.55 2320.5L987.95 2342.5L982.35 2320.5Z" fill="#3481be" opacity="0.75"/>
<path d="M971.95 2295.5H1003.95L992.75 2316.1L987.95 2330.18L983.15 2316.1Z" fill="#0c4a94" opacity="1.0"/>
</g>
<ellipse cx="987.95" cy="2298.5" rx="57.6" ry="8" fill="url(#gbr)" opacity="0.2"/>
</g>
<rect x="897.6" y="2298.5" width="180.7" height="174.5" fill="none" stroke="#231f20" stroke-width="1.3"/>
<defs><clipPath id="gc18"><rect x="1124.8" y="2298.5" width="180.7" height="174.5"/></clipPath><linearGradient id="gh18" x1="0" y1="0" x2="0" y2="1"><stop offset="0" stop-color="#5b9fcf" stop-opacity="0.28"/><stop offset="0.35" stop-color="#8fc0de" stop-opacity="0.126"/><stop offset="1" stop-color="#c3dbee" stop-opacity="0"/></linearGradient><linearGradient id="gb18" x1="0" y1="0" x2="0" y2="1"><stop offset="0" stop-color="#1c66ac" stop-opacity="0.75"/><stop offset="1" stop-color="#9ecae1" stop-opacity="0"/></linearGradient></defs>
<g clip-path="url(#gc18)">
<rect x="1124.8" y="2298.5" width="180.7" height="174.5" fill="#f2f7fc"/>
<rect x="1124.8" y="2298.5" width="180.7" height="101.2" fill="url(#gh18)"/>
<rect x="1124.8" y="2327.38" width="180.7" height="0.8" fill="#5b9fcf" opacity="0.027"/>
<rect x="1124.8" y="2389.65" width="180.7" height="0.8" fill="#5b9fcf" opacity="0.002"/>
<rect x="1124.8" y="2318.3" width="180.7" height="0.8" fill="#5b9fcf" opacity="0.099"/>
<rect x="1124.8" y="2303.21" width="180.7" height="0.8" fill="#5b9fcf" opacity="0.105"/>
<rect x="1124.8" y="2332.11" width="180.7" height="0.8" fill="#5b9fcf" opacity="0.031"/>
<rect x="1124.8" y="2330.26" width="180.7" height="0.8" fill="#5b9fcf" opacity="0.035"/>
<rect x="1124.8" y="2359.17" width="180.7" height="0.8" fill="#5b9fcf" opacity="0.037"/>
<rect x="1124.8" y="2342.93" width="180.7" height="0.8" fill="#5b9fcf" opacity="0.024"/>
<rect x="1124.8" y="2322.38" width="180.7" height="0.8" fill="#5b9fcf" opacity="0.059"/>
<rect x="1124.8" y="2312.23" width="180.7" height="0.8" fill="#5b9fcf" opacity="0.091"/>
<rect x="1124.8" y="2311" width="180.7" height="0.8" fill="#5b9fcf" opacity="0.068"/>
<rect x="1124.8" y="2355.11" width="180.7" height="0.8" fill="#5b9fcf" opacity="0.028"/>
<rect x="1124.8" y="2323.16" width="180.7" height="0.8" fill="#5b9fcf" opacity="0.092"/>
<rect x="1124.8" y="2348.02" width="180.7" height="0.8" fill="#5b9fcf" opacity="0.052"/>
<rect x="1124.8" y="2315.98" width="180.7" height="0.8" fill="#5b9fcf" opacity="0.098"/>
<rect x="1124.8" y="2390.66" width="180.7" height="0.8" fill="#5b9fcf" opacity="0.001"/>
<rect x="1124.8" y="2366.58" width="180.7" height="0.8" fill="#5b9fcf" opacity="0.027"/>
<rect x="1124.8" y="2388.85" width="180.7" height="0.8" fill="#5b9fcf" opacity="0.003"/>
<rect x="1124.8" y="2351.63" width="180.7" height="0.8" fill="#5b9fcf" opacity="0.044"/>
<rect x="1124.8" y="2340.14" width="180.7" height="0.8" fill="#5b9fcf" opacity="0.019"/>
<rect x="1124.8" y="2315.87" width="180.7" height="0.8" fill="#5b9fcf" opacity="0.027"/>
<rect x="1124.8" y="2310.08" width="180.7" height="0.8" fill="#5b9fcf" opacity="0.086"/>
<rect x="1124.8" y="2378.43" width="180.7" height="0.8" fill="#5b9fcf" opacity="0.008"/>
<rect x="1124.8" y="2302.29" width="180.7" height="0.8" fill="#5b9fcf" opacity="0.045"/>
<rect x="1124.8" y="2315.7" width="180.7" height="0.8" fill="#5b9fcf" opacity="0.09"/>
<rect x="1124.8" y="2305.07" width="180.7" height="0.8" fill="#5b9fcf" opacity="0.064"/>
<rect x="1124.8" y="2381.67" width="180.7" height="0.8" fill="#5b9fcf" opacity="0.009"/>
<rect x="1124.8" y="2343.38" width="180.7" height="0.8" fill="#5b9fcf" opacity="0.015"/>
<rect x="1124.8" y="2367.28" width="180.7" height="0.8" fill="#5b9fcf" opacity="0.011"/>
<rect x="1124.8" y="2383.99" width="180.7" height="0.8" fill="#5b9fcf" opacity="0.006"/>
<rect x="1124.8" y="2346.19" width="180.7" height="0.8" fill="#5b9fcf" opacity="0.047"/>
<rect x="1124.8" y="2311.37" width="180.7" height="0.8" fill="#5b9fcf" opacity="0.075"/>
<rect x="1124.8" y="2327.43" width="180.7" height="0.8" fill="#5b9fcf" opacity="0.026"/>
<rect x="1124.8" y="2317.64" width="180.7" height="0.8" fill="#5b9fcf" opacity="0.101"/>
<rect x="1124.8" y="2390.95" width="180.7" height="0.8" fill="#5b9fcf" opacity="0.001"/>
<rect x="1124.8" y="2315.26" width="180.7" height="0.8" fill="#5b9fcf" opacity="0.088"/>
<rect x="1124.8" y="2319.62" width="180.7" height="0.8" fill="#5b9fcf" opacity="0.077"/>
<rect x="1124.8" y="2301.87" width="180.7" height="0.8" fill="#5b9fcf" opacity="0.029"/>
<rect x="1124.8" y="2309.71" width="180.7" height="0.8" fill="#5b9fcf" opacity="0.029"/>
<rect x="1124.8" y="2372.99" width="180.7" height="0.8" fill="#5b9fcf" opacity="0.022"/>
<rect x="1124.8" y="2315.35" width="180.7" height="0.8" fill="#5b9fcf" opacity="0.053"/>
<rect x="1124.8" y="2367.63" width="180.7" height="0.8" fill="#5b9fcf" opacity="0.018"/>
<rect x="1124.8" y="2361.67" width="180.7" height="0.8" fill="#5b9fcf" opacity="0.037"/>
<rect x="1124.8" y="2304.82" width="180.7" height="0.8" fill="#5b9fcf" opacity="0.109"/>
<rect x="1124.8" y="2359.58" width="180.7" height="0.8" fill="#5b9fcf" opacity="0.024"/>
<rect x="1124.8" y="2345.81" width="180.7" height="0.8" fill="#5b9fcf" opacity="0.046"/>
<rect x="1124.8" y="2322.75" width="180.7" height="0.8" fill="#5b9fcf" opacity="0.074"/>
<rect x="1124.8" y="2320.24" width="180.7" height="0.8" fill="#5b9fcf" opacity="0.081"/>
<rect x="1124.8" y="2386.5" width="180.7" height="0.8" fill="#5b9fcf" opacity="0.004"/>
<rect x="1124.8" y="2357.89" width="180.7" height="0.8" fill="#5b9fcf" opacity="0.016"/>
<g filter="url(#gblur)">
<path d="M1187.85 2295.5H1242.45L1224.6 2338.1L1215.15 2368.9L1205.7 2338.1Z" fill="#8fc0de" opacity="0.3"/>
<path d="M1160.55 2295.5H1269.75L1225.65 2318.3L1215.15 2351.3L1204.65 2318.3Z" fill="#6faed6" opacity="0.5"/>
<path d="M1183.65 2295.5H1246.65L1222.5 2320.5L1215.15 2342.5L1207.8 2320.5Z" fill="#3481be" opacity="0.75"/>
<path d="M1194.15 2295.5H1236.15L1221.45 2316.1L1215.15 2330.18L1208.85 2316.1Z" fill="#0c4a94" opacity="1.0"/>
</g>
<ellipse cx="1215.15" cy="2298.5" rx="75.6" ry="8" fill="url(#gbr)" opacity="0.75"/>
</g>
<rect x="1124.8" y="2298.5" width="180.7" height="174.5" fill="none" stroke="#231f20" stroke-width="1.3"/>
<defs><clipPath id="gc19"><rect x="1352.4" y="2298.5" width="180.7" height="174.5"/></clipPath><linearGradient id="gh19" x1="0" y1="0" x2="0" y2="1"><stop offset="0" stop-color="#5b9fcf" stop-opacity="0.3"/><stop offset="0.35" stop-color="#8fc0de" stop-opacity="0.135"/><stop offset="1" stop-color="#c3dbee" stop-opacity="0"/></linearGradient><linearGradient id="gb19" x1="0" y1="0" x2="0" y2="1"><stop offset="0" stop-color="#1c66ac" stop-opacity="0.6"/><stop offset="1" stop-color="#9ecae1" stop-opacity="0"/></linearGradient></defs>
<g clip-path="url(#gc19)">
<rect x="1352.4" y="2298.5" width="180.7" height="174.5" fill="#f2f7fc"/>
<rect x="1352.4" y="2298.5" width="180.7" height="101.2" fill="url(#gh19)"/>
<rect x="1352.4" y="2365.63" width="180.7" height="0.8" fill="#5b9fcf" opacity="0.016"/>
<rect x="1352.4" y="2302.36" width="180.7" height="0.8" fill="#5b9fcf" opacity="0.103"/>
<rect x="1352.4" y="2308.43" width="180.7" height="0.8" fill="#5b9fcf" opacity="0.054"/>
<rect x="1352.4" y="2331.15" width="180.7" height="0.8" fill="#5b9fcf" opacity="0.084"/>
<rect x="1352.4" y="2302.38" width="180.7" height="0.8" fill="#5b9fcf" opacity="0.034"/>
<rect x="1352.4" y="2373.69" width="180.7" height="0.8" fill="#5b9fcf" opacity="0.011"/>
<rect x="1352.4" y="2311.63" width="180.7" height="0.8" fill="#5b9fcf" opacity="0.039"/>
<rect x="1352.4" y="2302.34" width="180.7" height="0.8" fill="#5b9fcf" opacity="0.063"/>
<rect x="1352.4" y="2387.48" width="180.7" height="0.8" fill="#5b9fcf" opacity="0.005"/>
<rect x="1352.4" y="2389.94" width="180.7" height="0.8" fill="#5b9fcf" opacity="0.001"/>
<rect x="1352.4" y="2348.68" width="180.7" height="0.8" fill="#5b9fcf" opacity="0.017"/>
<rect x="1352.4" y="2329.39" width="180.7" height="0.8" fill="#5b9fcf" opacity="0.068"/>
<rect x="1352.4" y="2368.74" width="180.7" height="0.8" fill="#5b9fcf" opacity="0.015"/>
<rect x="1352.4" y="2329.82" width="180.7" height="0.8" fill="#5b9fcf" opacity="0.074"/>
<rect x="1352.4" y="2299.79" width="180.7" height="0.8" fill="#5b9fcf" opacity="0.115"/>
<rect x="1352.4" y="2349.61" width="180.7" height="0.8" fill="#5b9fcf" opacity="0.041"/>
<rect x="1352.4" y="2382.31" width="180.7" height="0.8" fill="#5b9fcf" opacity="0.004"/>
<rect x="1352.4" y="2332.98" width="180.7" height="0.8" fill="#5b9fcf" opacity="0.041"/>
<rect x="1352.4" y="2306.97" width="180.7" height="0.8" fill="#5b9fcf" opacity="0.121"/>
<rect x="1352.4" y="2306.1" width="180.7" height="0.8" fill="#5b9fcf" opacity="0.072"/>
<rect x="1352.4" y="2358.19" width="180.7" height="0.8" fill="#5b9fcf" opacity="0.032"/>
<rect x="1352.4" y="2368.59" width="180.7" height="0.8" fill="#5b9fcf" opacity="0.014"/>
<rect x="1352.4" y="2314.09" width="180.7" height="0.8" fill="#5b9fcf" opacity="0.035"/>
<rect x="1352.4" y="2361.93" width="180.7" height="0.8" fill="#5b9fcf" opacity="0.038"/>
<rect x="1352.4" y="2375.34" width="180.7" height="0.8" fill="#5b9fcf" opacity="0.017"/>
<rect x="1352.4" y="2300.33" width="180.7" height="0.8" fill="#5b9fcf" opacity="0.122"/>
<rect x="1352.4" y="2361.03" width="180.7" height="0.8" fill="#5b9fcf" opacity="0.029"/>
<rect x="1352.4" y="2384.69" width="180.7" height="0.8" fill="#5b9fcf" opacity="0.009"/>
<rect x="1352.4" y="2326.53" width="180.7" height="0.8" fill="#5b9fcf" opacity="0.057"/>
<rect x="1352.4" y="2316.1" width="180.7" height="0.8" fill="#5b9fcf" opacity="0.087"/>
<rect x="1352.4" y="2384.78" width="180.7" height="0.8" fill="#5b9fcf" opacity="0.004"/>
<rect x="1352.4" y="2386.64" width="180.7" height="0.8" fill="#5b9fcf" opacity="0.005"/>
<rect x="1352.4" y="2354.92" width="180.7" height="0.8" fill="#5b9fcf" opacity="0.026"/>
<rect x="1352.4" y="2336.34" width="180.7" height="0.8" fill="#5b9fcf" opacity="0.052"/>
<rect x="1352.4" y="2351.71" width="180.7" height="0.8" fill="#5b9fcf" opacity="0.028"/>
<rect x="1352.4" y="2382.87" width="180.7" height="0.8" fill="#5b9fcf" opacity="0.005"/>
<rect x="1352.4" y="2339.27" width="180.7" height="0.8" fill="#5b9fcf" opacity="0.046"/>
<rect x="1352.4" y="2371.92" width="180.7" height="0.8" fill="#5b9fcf" opacity="0.009"/>
<rect x="1352.4" y="2363.15" width="180.7" height="0.8" fill="#5b9fcf" opacity="0.008"/>
<rect x="1352.4" y="2312.99" width="180.7" height="0.8" fill="#5b9fcf" opacity="0.047"/>
<rect x="1352.4" y="2344.4" width="180.7" height="0.8" fill="#5b9fcf" opacity="0.019"/>
<rect x="1352.4" y="2338.29" width="180.7" height="0.8" fill="#5b9fcf" opacity="0.051"/>
<rect x="1352.4" y="2386.52" width="180.7" height="0.8" fill="#5b9fcf" opacity="0.002"/>
<rect x="1352.4" y="2304.52" width="180.7" height="0.8" fill="#5b9fcf" opacity="0.071"/>
<rect x="1352.4" y="2356.29" width="180.7" height="0.8" fill="#5b9fcf" opacity="0.026"/>
<rect x="1352.4" y="2373.64" width="180.7" height="0.8" fill="#5b9fcf" opacity="0.013"/>
<rect x="1352.4" y="2322.66" width="180.7" height="0.8" fill="#5b9fcf" opacity="0.096"/>
<rect x="1352.4" y="2356.7" width="180.7" height="0.8" fill="#5b9fcf" opacity="0.013"/>
<rect x="1352.4" y="2384.04" width="180.7" height="0.8" fill="#5b9fcf" opacity="0.007"/>
<rect x="1352.4" y="2333.77" width="180.7" height="0.8" fill="#5b9fcf" opacity="0.063"/>
<g filter="url(#gblur)">
<path d="M1415.45 2295.5H1470.05L1452.2 2338.1L1442.75 2368.9L1433.3 2338.1Z" fill="#8fc0de" opacity="0.27"/>
<path d="M1388.15 2295.5H1497.35L1453.25 2318.3L1442.75 2351.3L1432.25 2318.3Z" fill="#6faed6" opacity="0.45"/>
<path d="M1411.25 2295.5H1474.25L1450.1 2320.5L1442.75 2342.5L1435.4 2320.5Z" fill="#3481be" opacity="0.675"/>
<path d="M1421.75 2295.5H1463.75L1449.05 2316.1L1442.75 2330.18L1436.45 2316.1Z" fill="#0c4a94" opacity="0.9"/>
</g>
<ellipse cx="1442.75" cy="2298.5" rx="75.6" ry="8" fill="url(#gbr)" opacity="0.6"/>
</g>
<rect x="1352.4" y="2298.5" width="180.7" height="174.5" fill="none" stroke="#231f20" stroke-width="1.3"/>
<defs><linearGradient id="gs20" x1="0" y1="0" x2="0" y2="1"><stop offset="0" stop-color="#5fa3d1" stop-opacity="0.031"/><stop offset="0.15" stop-color="#5fa3d1" stop-opacity="0.093"/><stop offset="0.3" stop-color="#5fa3d1" stop-opacity="0.248"/><stop offset="0.45" stop-color="#5fa3d1" stop-opacity="0.372"/><stop offset="0.6" stop-color="#5fa3d1" stop-opacity="0.31"/><stop offset="0.75" stop-color="#5fa3d1" stop-opacity="0.186"/><stop offset="1" stop-color="#5fa3d1" stop-opacity="0.037"/></linearGradient><clipPath id="gc20"><rect x="670.2" y="2488.3" width="180.7" height="117.8"/></clipPath></defs>
<g clip-path="url(#gc20)">
<rect x="670.2" y="2488.3" width="180.7" height="117.8" fill="#edf4fb"/>
<rect x="670.2" y="2488.3" width="180.7" height="117.8" fill="url(#gs20)"/>
<rect x="670.2" y="2591.74" width="180.7" height="1.53" fill="#3f8fc6" opacity="0.097"/>
<rect x="670.2" y="2525.08" width="180.7" height="1.23" fill="#ffffff" opacity="0.141"/>
<rect x="670.2" y="2529.33" width="180.7" height="1.05" fill="#ffffff" opacity="0.265"/>
<rect x="670.2" y="2529.68" width="180.7" height="1.24" fill="#3f8fc6" opacity="0.1"/>
<rect x="670.2" y="2542.53" width="180.7" height="1.82" fill="#ffffff" opacity="0.157"/>
<rect x="670.2" y="2604.67" width="180.7" height="1.86" fill="#ffffff" opacity="0.304"/>
<rect x="670.2" y="2550.24" width="180.7" height="1.64" fill="#3f8fc6" opacity="0.181"/>
<rect x="670.2" y="2561.9" width="180.7" height="1.56" fill="#3f8fc6" opacity="0.139"/>
<rect x="670.2" y="2591.94" width="180.7" height="1.88" fill="#ffffff" opacity="0.284"/>
<rect x="670.2" y="2534.53" width="180.7" height="1.4" fill="#ffffff" opacity="0.29"/>
<rect x="670.2" y="2562.08" width="180.7" height="1.42" fill="#ffffff" opacity="0.248"/>
<rect x="670.2" y="2601.8" width="180.7" height="1.83" fill="#ffffff" opacity="0.275"/>
<rect x="670.2" y="2502.93" width="180.7" height="1.13" fill="#3f8fc6" opacity="0.068"/>
<rect x="670.2" y="2503.27" width="180.7" height="1.28" fill="#3f8fc6" opacity="0.083"/>
<rect x="670.2" y="2590.47" width="180.7" height="1.48" fill="#ffffff" opacity="0.104"/>
<rect x="670.2" y="2510.83" width="180.7" height="1.59" fill="#3f8fc6" opacity="0.075"/>
<rect x="670.2" y="2573.54" width="180.7" height="1.37" fill="#3f8fc6" opacity="0.123"/>
<rect x="670.2" y="2565.71" width="180.7" height="1.41" fill="#3f8fc6" opacity="0.093"/>
<rect x="670.2" y="2603.34" width="180.7" height="1.09" fill="#3f8fc6" opacity="0.077"/>
<rect x="670.2" y="2537.07" width="180.7" height="1.54" fill="#3f8fc6" opacity="0.172"/>
<rect x="670.2" y="2546.27" width="180.7" height="1.59" fill="#3f8fc6" opacity="0.103"/>
<rect x="670.2" y="2517.24" width="180.7" height="1.6" fill="#3f8fc6" opacity="0.076"/>
<rect x="670.2" y="2502.47" width="180.7" height="1.46" fill="#3f8fc6" opacity="0.089"/>
<rect x="670.2" y="2513.17" width="180.7" height="1.17" fill="#ffffff" opacity="0.315"/>
<rect x="670.2" y="2545.71" width="180.7" height="1.74" fill="#ffffff" opacity="0.234"/>
<rect x="670.2" y="2543.78" width="180.7" height="1.03" fill="#3f8fc6" opacity="0.149"/>
<rect x="670.2" y="2577.92" width="180.7" height="0.95" fill="#ffffff" opacity="0.287"/>
<rect x="670.2" y="2588.32" width="180.7" height="1.65" fill="#ffffff" opacity="0.266"/>
<rect x="670.2" y="2529.48" width="180.7" height="1.05" fill="#3f8fc6" opacity="0.126"/>
<rect x="670.2" y="2528.24" width="180.7" height="1.13" fill="#ffffff" opacity="0.166"/>
<rect x="670.2" y="2498.39" width="180.7" height="1.52" fill="#3f8fc6" opacity="0.079"/>
<rect x="670.2" y="2596.32" width="180.7" height="1.45" fill="#3f8fc6" opacity="0.077"/>
<rect x="670.2" y="2529.48" width="180.7" height="1.58" fill="#ffffff" opacity="0.178"/>
<rect x="670.2" y="2586.16" width="180.7" height="1.28" fill="#3f8fc6" opacity="0.083"/>
<rect x="670.2" y="2544.27" width="180.7" height="1.56" fill="#3f8fc6" opacity="0.099"/>
<rect x="670.2" y="2541.31" width="180.7" height="1.35" fill="#3f8fc6" opacity="0.069"/>
<rect x="670.2" y="2491.81" width="180.7" height="1.6" fill="#3f8fc6" opacity="0.07"/>
<rect x="670.2" y="2573.35" width="180.7" height="1.26" fill="#3f8fc6" opacity="0.115"/>
<rect x="670.2" y="2576.02" width="180.7" height="0.96" fill="#3f8fc6" opacity="0.086"/>
<rect x="753.55" y="2488.3" width="14" height="117.8" fill="url(#gcs)"/>
</g>
<rect x="670.2" y="2488.3" width="180.7" height="117.8" fill="none" stroke="#231f20" stroke-width="1.3"/>
<defs><clipPath id="gc21"><rect x="897.6" y="2488.3" width="180.7" height="117.8"/></clipPath><linearGradient id="gh21" x1="0" y1="0" x2="0" y2="1"><stop offset="0" stop-color="#5b9fcf" stop-opacity="0.1"/><stop offset="0.35" stop-color="#8fc0de" stop-opacity="0.045"/><stop offset="1" stop-color="#c3dbee" stop-opacity="0"/></linearGradient><linearGradient id="gb21" x1="0" y1="0" x2="0" y2="1"><stop offset="0" stop-color="#1c66ac" stop-opacity="0.2"/><stop offset="1" stop-color="#9ecae1" stop-opacity="0"/></linearGradient></defs>
<g clip-path="url(#gc21)">
<rect x="897.6" y="2488.3" width="180.7" height="117.8" fill="#f2f7fc"/>
<rect x="897.6" y="2488.3" width="180.7" height="64.4" fill="url(#gh21)"/>
<rect x="897.6" y="2503.32" width="180.7" height="0.8" fill="#5b9fcf" opacity="0.019"/>
<rect x="897.6" y="2505.47" width="180.7" height="0.8" fill="#5b9fcf" opacity="0.053"/>
<rect x="897.6" y="2502.45" width="180.7" height="0.8" fill="#5b9fcf" opacity="0.054"/>
<rect x="897.6" y="2510.01" width="180.7" height="0.8" fill="#5b9fcf" opacity="0.031"/>
<rect x="897.6" y="2531.32" width="180.7" height="0.8" fill="#5b9fcf" opacity="0.006"/>
<rect x="897.6" y="2540.82" width="180.7" height="0.8" fill="#5b9fcf" opacity="0.006"/>
<rect x="897.6" y="2504.04" width="180.7" height="0.8" fill="#5b9fcf" opacity="0.023"/>
<rect x="897.6" y="2518.59" width="180.7" height="0.8" fill="#5b9fcf" opacity="0.034"/>
<rect x="897.6" y="2544.84" width="180.7" height="0.8" fill="#5b9fcf" opacity="0.001"/>
<rect x="897.6" y="2509.62" width="180.7" height="0.8" fill="#5b9fcf" opacity="0.052"/>
<rect x="897.6" y="2504.96" width="180.7" height="0.8" fill="#5b9fcf" opacity="0.05"/>
<rect x="897.6" y="2525.9" width="180.7" height="0.8" fill="#5b9fcf" opacity="0.022"/>
<rect x="897.6" y="2528.56" width="180.7" height="0.8" fill="#5b9fcf" opacity="0.008"/>
<rect x="897.6" y="2548.8" width="180.7" height="0.8" fill="#5b9fcf" opacity="0.0"/>
<rect x="897.6" y="2540.94" width="180.7" height="0.8" fill="#5b9fcf" opacity="0.006"/>
<rect x="897.6" y="2543.24" width="180.7" height="0.8" fill="#5b9fcf" opacity="0.004"/>
<rect x="897.6" y="2493.91" width="180.7" height="0.8" fill="#5b9fcf" opacity="0.036"/>
<rect x="897.6" y="2504.8" width="180.7" height="0.8" fill="#5b9fcf" opacity="0.061"/>
<rect x="897.6" y="2501.22" width="180.7" height="0.8" fill="#5b9fcf" opacity="0.017"/>
<rect x="897.6" y="2542.8" width="180.7" height="0.8" fill="#5b9fcf" opacity="0.005"/>
<rect x="897.6" y="2524.81" width="180.7" height="0.8" fill="#5b9fcf" opacity="0.016"/>
<rect x="897.6" y="2499.49" width="180.7" height="0.8" fill="#5b9fcf" opacity="0.045"/>
<rect x="897.6" y="2535.3" width="180.7" height="0.8" fill="#5b9fcf" opacity="0.014"/>
<rect x="897.6" y="2492.72" width="180.7" height="0.8" fill="#5b9fcf" opacity="0.051"/>
<rect x="897.6" y="2489.92" width="180.7" height="0.8" fill="#5b9fcf" opacity="0.084"/>
<rect x="897.6" y="2534.16" width="180.7" height="0.8" fill="#5b9fcf" opacity="0.004"/>
<rect x="897.6" y="2547.15" width="180.7" height="0.8" fill="#5b9fcf" opacity="0.001"/>
<rect x="897.6" y="2527.2" width="180.7" height="0.8" fill="#5b9fcf" opacity="0.013"/>
<rect x="897.6" y="2492.14" width="180.7" height="0.8" fill="#5b9fcf" opacity="0.061"/>
<rect x="897.6" y="2535.46" width="180.7" height="0.8" fill="#5b9fcf" opacity="0.005"/>
<rect x="897.6" y="2544.71" width="180.7" height="0.8" fill="#5b9fcf" opacity="0.003"/>
<rect x="897.6" y="2490.03" width="180.7" height="0.8" fill="#5b9fcf" opacity="0.031"/>
<g filter="url(#gblur)">
<path d="M968.45 2485.3H1007.45L994.7 2513.5L987.95 2533.1L981.2 2513.5Z" fill="#8fc0de" opacity="0.27"/>
<path d="M948.95 2485.3H1026.95L995.45 2500.9L987.95 2521.9L980.45 2500.9Z" fill="#6faed6" opacity="0.45"/>
<path d="M965.45 2485.3H1010.45L993.2 2502.3L987.95 2516.3L982.7 2502.3Z" fill="#3481be" opacity="0.675"/>
<path d="M972.95 2485.3H1002.95L992.45 2499.5L987.95 2508.46L983.45 2499.5Z" fill="#0c4a94" opacity="0.9"/>
</g>
<ellipse cx="987.95" cy="2488.3" rx="54" ry="8" fill="url(#gbr)" opacity="0.2"/>
</g>
<rect x="897.6" y="2488.3" width="180.7" height="117.8" fill="none" stroke="#231f20" stroke-width="1.3"/>
<defs><clipPath id="gc22"><rect x="1124.8" y="2488.3" width="180.7" height="117.8"/></clipPath><linearGradient id="gh22" x1="0" y1="0" x2="0" y2="1"><stop offset="0" stop-color="#5b9fcf" stop-opacity="0.24"/><stop offset="0.35" stop-color="#8fc0de" stop-opacity="0.108"/><stop offset="1" stop-color="#c3dbee" stop-opacity="0"/></linearGradient><linearGradient id="gb22" x1="0" y1="0" x2="0" y2="1"><stop offset="0" stop-color="#1c66ac" stop-opacity="0.65"/><stop offset="1" stop-color="#9ecae1" stop-opacity="0"/></linearGradient></defs>
<g clip-path="url(#gc22)">
<rect x="1124.8" y="2488.3" width="180.7" height="117.8" fill="#f2f7fc"/>
<rect x="1124.8" y="2488.3" width="180.7" height="69" fill="url(#gh22)"/>
<rect x="1124.8" y="2539.35" width="180.7" height="0.8" fill="#5b9fcf" opacity="0.009"/>
<rect x="1124.8" y="2508.37" width="180.7" height="0.8" fill="#5b9fcf" opacity="0.021"/>
<rect x="1124.8" y="2502.92" width="180.7" height="0.8" fill="#5b9fcf" opacity="0.082"/>
<rect x="1124.8" y="2517.23" width="180.7" height="0.8" fill="#5b9fcf" opacity="0.019"/>
<rect x="1124.8" y="2489.37" width="180.7" height="0.8" fill="#5b9fcf" opacity="0.13"/>
<rect x="1124.8" y="2492.95" width="180.7" height="0.8" fill="#5b9fcf" opacity="0.077"/>
<rect x="1124.8" y="2522.08" width="180.7" height="0.8" fill="#5b9fcf" opacity="0.03"/>
<rect x="1124.8" y="2504.68" width="180.7" height="0.8" fill="#5b9fcf" opacity="0.047"/>
<rect x="1124.8" y="2517.05" width="180.7" height="0.8" fill="#5b9fcf" opacity="0.039"/>
<rect x="1124.8" y="2547.28" width="180.7" height="0.8" fill="#5b9fcf" opacity="0.008"/>
<rect x="1124.8" y="2492.43" width="180.7" height="0.8" fill="#5b9fcf" opacity="0.056"/>
<rect x="1124.8" y="2489.87" width="180.7" height="0.8" fill="#5b9fcf" opacity="0.084"/>
<rect x="1124.8" y="2531.68" width="180.7" height="0.8" fill="#5b9fcf" opacity="0.023"/>
<rect x="1124.8" y="2494.11" width="180.7" height="0.8" fill="#5b9fcf" opacity="0.059"/>
<rect x="1124.8" y="2499.93" width="180.7" height="0.8" fill="#5b9fcf" opacity="0.089"/>
<rect x="1124.8" y="2541.54" width="180.7" height="0.8" fill="#5b9fcf" opacity="0.013"/>
<rect x="1124.8" y="2522.44" width="180.7" height="0.8" fill="#5b9fcf" opacity="0.053"/>
<rect x="1124.8" y="2528.69" width="180.7" height="0.8" fill="#5b9fcf" opacity="0.017"/>
<rect x="1124.8" y="2547.86" width="180.7" height="0.8" fill="#5b9fcf" opacity="0.006"/>
<rect x="1124.8" y="2546.34" width="180.7" height="0.8" fill="#5b9fcf" opacity="0.005"/>
<rect x="1124.8" y="2524.33" width="180.7" height="0.8" fill="#5b9fcf" opacity="0.039"/>
<rect x="1124.8" y="2523.85" width="180.7" height="0.8" fill="#5b9fcf" opacity="0.015"/>
<rect x="1124.8" y="2501.31" width="180.7" height="0.8" fill="#5b9fcf" opacity="0.053"/>
<rect x="1124.8" y="2489.65" width="180.7" height="0.8" fill="#5b9fcf" opacity="0.033"/>
<rect x="1124.8" y="2533.4" width="180.7" height="0.8" fill="#5b9fcf" opacity="0.03"/>
<rect x="1124.8" y="2537.35" width="180.7" height="0.8" fill="#5b9fcf" opacity="0.014"/>
<rect x="1124.8" y="2545.29" width="180.7" height="0.8" fill="#5b9fcf" opacity="0.007"/>
<rect x="1124.8" y="2492.32" width="180.7" height="0.8" fill="#5b9fcf" opacity="0.059"/>
<rect x="1124.8" y="2546.41" width="180.7" height="0.8" fill="#5b9fcf" opacity="0.009"/>
<rect x="1124.8" y="2542.27" width="180.7" height="0.8" fill="#5b9fcf" opacity="0.009"/>
<rect x="1124.8" y="2499.6" width="180.7" height="0.8" fill="#5b9fcf" opacity="0.06"/>
<rect x="1124.8" y="2522.81" width="180.7" height="0.8" fill="#5b9fcf" opacity="0.028"/>
<rect x="1124.8" y="2495.47" width="180.7" height="0.8" fill="#5b9fcf" opacity="0.037"/>
<rect x="1124.8" y="2530.4" width="180.7" height="0.8" fill="#5b9fcf" opacity="0.01"/>
<g filter="url(#gblur)">
<path d="M1190.45 2485.3H1239.85L1223.7 2515.3L1215.15 2536.3L1206.6 2515.3Z" fill="#8fc0de" opacity="0.285"/>
<path d="M1165.75 2485.3H1264.55L1224.65 2501.8L1215.15 2524.3L1205.65 2501.8Z" fill="#6faed6" opacity="0.475"/>
<path d="M1186.65 2485.3H1243.65L1221.8 2503.3L1215.15 2518.3L1208.5 2503.3Z" fill="#3481be" opacity="0.712"/>
<path d="M1196.15 2485.3H1234.15L1220.85 2500.3L1215.15 2509.9L1209.45 2500.3Z" fill="#0c4a94" opacity="0.95"/>
</g>
<ellipse cx="1215.15" cy="2488.3" rx="68.4" ry="8" fill="url(#gbr)" opacity="0.65"/>
</g>
<rect x="1124.8" y="2488.3" width="180.7" height="117.8" fill="none" stroke="#231f20" stroke-width="1.3"/>
<defs><clipPath id="gc23"><rect x="1352.4" y="2488.3" width="180.7" height="117.8"/></clipPath><linearGradient id="gh23" x1="0" y1="0" x2="0" y2="1"><stop offset="0" stop-color="#5b9fcf" stop-opacity="0.28"/><stop offset="0.35" stop-color="#8fc0de" stop-opacity="0.126"/><stop offset="1" stop-color="#c3dbee" stop-opacity="0"/></linearGradient><linearGradient id="gb23" x1="0" y1="0" x2="0" y2="1"><stop offset="0" stop-color="#1c66ac" stop-opacity="0.55"/><stop offset="1" stop-color="#9ecae1" stop-opacity="0"/></linearGradient></defs>
<g clip-path="url(#gc23)">
<rect x="1352.4" y="2488.3" width="180.7" height="117.8" fill="#f2f7fc"/>
<rect x="1352.4" y="2488.3" width="180.7" height="73.6" fill="url(#gh23)"/>
<rect x="1352.4" y="2511.52" width="180.7" height="0.8" fill="#5b9fcf" opacity="0.048"/>
<rect x="1352.4" y="2515.7" width="180.7" height="0.8" fill="#5b9fcf" opacity="0.049"/>
<rect x="1352.4" y="2523.43" width="180.7" height="0.8" fill="#5b9fcf" opacity="0.045"/>
<rect x="1352.4" y="2542.54" width="180.7" height="0.8" fill="#5b9fcf" opacity="0.015"/>
<rect x="1352.4" y="2534.75" width="180.7" height="0.8" fill="#5b9fcf" opacity="0.031"/>
<rect x="1352.4" y="2531.8" width="180.7" height="0.8" fill="#5b9fcf" opacity="0.042"/>
<rect x="1352.4" y="2534.41" width="180.7" height="0.8" fill="#5b9fcf" opacity="0.036"/>
<rect x="1352.4" y="2496.45" width="180.7" height="0.8" fill="#5b9fcf" opacity="0.059"/>
<rect x="1352.4" y="2513.38" width="180.7" height="0.8" fill="#5b9fcf" opacity="0.043"/>
<rect x="1352.4" y="2493.11" width="180.7" height="0.8" fill="#5b9fcf" opacity="0.096"/>
<rect x="1352.4" y="2539.89" width="180.7" height="0.8" fill="#5b9fcf" opacity="0.028"/>
<rect x="1352.4" y="2516.1" width="180.7" height="0.8" fill="#5b9fcf" opacity="0.066"/>
<rect x="1352.4" y="2545.12" width="180.7" height="0.8" fill="#5b9fcf" opacity="0.012"/>
<rect x="1352.4" y="2507.63" width="180.7" height="0.8" fill="#5b9fcf" opacity="0.034"/>
<rect x="1352.4" y="2544.81" width="180.7" height="0.8" fill="#5b9fcf" opacity="0.006"/>
<rect x="1352.4" y="2545.16" width="180.7" height="0.8" fill="#5b9fcf" opacity="0.011"/>
<rect x="1352.4" y="2492.15" width="180.7" height="0.8" fill="#5b9fcf" opacity="0.064"/>
<rect x="1352.4" y="2526.53" width="180.7" height="0.8" fill="#5b9fcf" opacity="0.045"/>
<rect x="1352.4" y="2514.74" width="180.7" height="0.8" fill="#5b9fcf" opacity="0.061"/>
<rect x="1352.4" y="2547.27" width="180.7" height="0.8" fill="#5b9fcf" opacity="0.01"/>
<rect x="1352.4" y="2498.79" width="180.7" height="0.8" fill="#5b9fcf" opacity="0.052"/>
<rect x="1352.4" y="2540.9" width="180.7" height="0.8" fill="#5b9fcf" opacity="0.016"/>
<rect x="1352.4" y="2528.34" width="180.7" height="0.8" fill="#5b9fcf" opacity="0.045"/>
<rect x="1352.4" y="2520.29" width="180.7" height="0.8" fill="#5b9fcf" opacity="0.063"/>
<rect x="1352.4" y="2488.88" width="180.7" height="0.8" fill="#5b9fcf" opacity="0.095"/>
<rect x="1352.4" y="2503.13" width="180.7" height="0.8" fill="#5b9fcf" opacity="0.029"/>
<rect x="1352.4" y="2497.21" width="180.7" height="0.8" fill="#5b9fcf" opacity="0.083"/>
<rect x="1352.4" y="2552.15" width="180.7" height="0.8" fill="#5b9fcf" opacity="0.004"/>
<rect x="1352.4" y="2557.23" width="180.7" height="0.8" fill="#5b9fcf" opacity="0.0"/>
<rect x="1352.4" y="2498.38" width="180.7" height="0.8" fill="#5b9fcf" opacity="0.054"/>
<rect x="1352.4" y="2507.33" width="180.7" height="0.8" fill="#5b9fcf" opacity="0.051"/>
<rect x="1352.4" y="2501.37" width="180.7" height="0.8" fill="#5b9fcf" opacity="0.089"/>
<rect x="1352.4" y="2506.05" width="180.7" height="0.8" fill="#5b9fcf" opacity="0.022"/>
<rect x="1352.4" y="2525.96" width="180.7" height="0.8" fill="#5b9fcf" opacity="0.018"/>
<rect x="1352.4" y="2495.39" width="180.7" height="0.8" fill="#5b9fcf" opacity="0.102"/>
<rect x="1352.4" y="2529.83" width="180.7" height="0.8" fill="#5b9fcf" opacity="0.025"/>
<g filter="url(#gblur)">
<path d="M1418.05 2485.3H1467.45L1451.3 2517.1L1442.75 2539.5L1434.2 2517.1Z" fill="#8fc0de" opacity="0.255"/>
<path d="M1393.35 2485.3H1492.15L1452.25 2502.7L1442.75 2526.7L1433.25 2502.7Z" fill="#6faed6" opacity="0.425"/>
<path d="M1414.25 2485.3H1471.25L1449.4 2504.3L1442.75 2520.3L1436.1 2504.3Z" fill="#3481be" opacity="0.637"/>
<path d="M1423.75 2485.3H1461.75L1448.45 2501.1L1442.75 2511.34L1437.05 2501.1Z" fill="#0c4a94" opacity="0.85"/>
</g>
<ellipse cx="1442.75" cy="2488.3" rx="68.4" ry="8" fill="url(#gbr)" opacity="0.55"/>
</g>
<rect x="1352.4" y="2488.3" width="180.7" height="117.8" fill="none" stroke="#231f20" stroke-width="1.3"/>
<text font-size="22.5" textLength="99.5" lengthAdjust="spacingAndGlyphs" x="1549.2" y="1857.9">Min.-dep.</text>
<text x="1549.2" y="1884.6" font-size="22.5" textLength="95.2" lengthAdjust="spacingAndGlyphs">(<tspan font-style="italic">n</tspan> = 1,171)</text>
<text font-size="22.5" textLength="98" lengthAdjust="spacingAndGlyphs" x="1549.2" y="1953.7">Low-dep.</text>
<text x="1549.2" y="1981" font-size="22.5" textLength="107.3" lengthAdjust="spacingAndGlyphs">(<tspan font-style="italic">n</tspan> = 3,164)</text>
<text font-size="22.5" textLength="106.7" lengthAdjust="spacingAndGlyphs" x="1549.2" y="2104.7">Med.-dep.</text>
<text x="1549.2" y="2132" font-size="22.5" textLength="106.4" lengthAdjust="spacingAndGlyphs">(<tspan font-style="italic">n</tspan> = 3,931)</text>
<text font-size="22.5" textLength="118" lengthAdjust="spacingAndGlyphs" x="1549.2" y="2236.4">Mixed-dep.</text>
<text x="1549.2" y="2262.9" font-size="22.5" textLength="102" lengthAdjust="spacingAndGlyphs">(<tspan font-style="italic">n</tspan> = 1,757)</text>
<text font-size="22.5" textLength="106" lengthAdjust="spacingAndGlyphs" x="1549.2" y="2379.3">High-dep.</text>
<text x="1549.2" y="2406.6" font-size="22.5" textLength="107.5" lengthAdjust="spacingAndGlyphs">(<tspan font-style="italic">n</tspan> = 4,124)</text>
<text font-size="22.5" textLength="105.5" lengthAdjust="spacingAndGlyphs" x="1549.2" y="2541.8">Max.-dep.</text>
<text x="1549.2" y="2568.8" font-size="22.5" textLength="110" lengthAdjust="spacingAndGlyphs">(<tspan font-style="italic">n</tspan> = 2,662)</text>
<defs><linearGradient id="gbar" x1="0" y1="0" x2="1" y2="0"><stop offset="0" stop-color="#f7fbff"/><stop offset="0.125" stop-color="#deebf7"/><stop offset="0.25" stop-color="#c6dbef"/><stop offset="0.375" stop-color="#9ecae1"/><stop offset="0.5" stop-color="#6baed6"/><stop offset="0.625" stop-color="#4292c6"/><stop offset="0.75" stop-color="#2171b5"/><stop offset="0.875" stop-color="#08519c"/><stop offset="1" stop-color="#262e68"/></linearGradient></defs>
<rect x="670.2" y="2614.4" width="180.7" height="15.7" fill="url(#gbar)" stroke="#231f20" stroke-width="1.2"/>
<line x1="670.2" y1="2630" x2="670.2" y2="2641.8" stroke="#1c1a1b" stroke-width="1.25"/>
<line x1="779.4" y1="2630" x2="779.4" y2="2641.8" stroke="#1c1a1b" stroke-width="1.25"/>
<text font-size="19.5" text-anchor="middle" textLength="11.17" lengthAdjust="spacingAndGlyphs" x="670.2" y="2663.4">0</text>
<text font-size="19.5" text-anchor="middle" textLength="27.92" lengthAdjust="spacingAndGlyphs" x="779.4" y="2663.4">2.5</text>
<text font-size="22.5" text-anchor="middle" textLength="200.8" lengthAdjust="spacingAndGlyphs" x="760.35" y="2695.3">ChIP signal (RPKM)</text>
<rect x="897.6" y="2614.4" width="180.7" height="15.7" fill="url(#gbar)" stroke="#231f20" stroke-width="1.2"/>
<line x1="897.6" y1="2630" x2="897.6" y2="2641.8" stroke="#1c1a1b" stroke-width="1.25"/>
<line x1="1018.8" y1="2630" x2="1018.8" y2="2641.8" stroke="#1c1a1b" stroke-width="1.25"/>
<text font-size="19.5" text-anchor="middle" textLength="11.17" lengthAdjust="spacingAndGlyphs" x="897.6" y="2663.4">0</text>
<text font-size="19.5" text-anchor="middle" textLength="22.34" lengthAdjust="spacingAndGlyphs" x="1018.8" y="2663.4">20</text>
<text font-size="22.5" text-anchor="middle" textLength="200.8" lengthAdjust="spacingAndGlyphs" x="987.75" y="2695.3">ChIP signal (RPKM)</text>
<rect x="1124.8" y="2614.4" width="180.7" height="15.7" fill="url(#gbar)" stroke="#231f20" stroke-width="1.2"/>
<line x1="1124.8" y1="2630" x2="1124.8" y2="2641.8" stroke="#1c1a1b" stroke-width="1.25"/>
<line x1="1272.4" y1="2630" x2="1272.4" y2="2641.8" stroke="#1c1a1b" stroke-width="1.25"/>
<text font-size="19.5" text-anchor="middle" textLength="11.17" lengthAdjust="spacingAndGlyphs" x="1124.8" y="2663.4">0</text>
<text font-size="19.5" text-anchor="middle" textLength="22.34" lengthAdjust="spacingAndGlyphs" x="1272.4" y="2663.4">20</text>
<text font-size="22.5" text-anchor="middle" textLength="200.8" lengthAdjust="spacingAndGlyphs" x="1214.95" y="2695.3">ChIP signal (RPKM)</text>
<rect x="1352.4" y="2614.4" width="180.7" height="15.7" fill="url(#gbar)" stroke="#231f20" stroke-width="1.2"/>
<line x1="1352.4" y1="2630" x2="1352.4" y2="2641.8" stroke="#1c1a1b" stroke-width="1.25"/>
<line x1="1531" y1="2630" x2="1531" y2="2641.8" stroke="#1c1a1b" stroke-width="1.25"/>
<text font-size="19.5" text-anchor="middle" textLength="11.17" lengthAdjust="spacingAndGlyphs" x="1352.4" y="2663.4">0</text>
<text font-size="19.5" text-anchor="middle" textLength="22.34" lengthAdjust="spacingAndGlyphs" x="1531" y="2663.4">20</text>
<text font-size="22.5" text-anchor="middle" textLength="200.8" lengthAdjust="spacingAndGlyphs" x="1442.55" y="2695.3">ChIP signal (RPKM)</text>
</g>
</svg>
</body></html>
